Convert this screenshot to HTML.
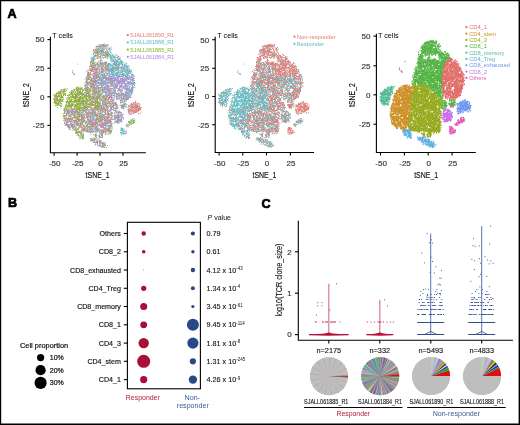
<!DOCTYPE html><html><head><meta charset="utf-8"><style>html,body{margin:0;padding:0;width:520px;height:425px;overflow:hidden;background:#fff;font-family:"Liberation Sans", sans-serif}</style></head><body><svg width="520" height="425" viewBox="0 0 520 425" style="position:absolute;left:0;top:0;will-change:transform;font-family:'Liberation Sans', sans-serif">
<rect x="0" y="0" width="520" height="425" fill="#fff"/>
<text x="7.6" y="17.7" font-size="12.6" fill="#000" text-anchor="start" font-weight="bold" stroke="#000" stroke-width="0.7" >A</text>
<text x="8.0" y="207.4" font-size="12.6" fill="#000" text-anchor="start" font-weight="bold" stroke="#000" stroke-width="0.7" >B</text>
<text x="261.4" y="207.6" font-size="12.6" fill="#000" text-anchor="start" font-weight="bold" stroke="#000" stroke-width="0.7" >C</text>
<path transform="scale(.5)" stroke="#5CBEC6" stroke-width="2.32" stroke-linecap="round" fill="none" d="M205 90h0m1 0h0m2 0h0m-1 1h0m2 0h0m-13 1h0m3 1h0m1 0h0m11 0h0m-12 1h0m9 0h0m3 0h0m1 0h0m-8 1h0m-7 1h0m10 0h0m13 0h0m0 1h0m-24 1h0m9 0h0m-13 1h0m2 0h0m15 0h0m-18 1h0m6 0h0m4 0h0m13 0h0m6 0h0m-6 1h0m-14 1h0m15 0h0m4 0h0m-22 1h0m3 0h0m5 0h0m9 0h0m-21 1h0m14 0h0m-16 1h0m19 0h0m-21 1h0m9 0h0m17 0h0m8 0h0m-28 1h0m12 1h0m4 0h0m-4 1h0m5 0h0m8 0h0m-25 1h0m19 0h0m-20 1h0m12 0h0m2 0h0m9 0h0m-26 1h0m11 0h0m10 0h0m1 0h0m-1 1h0m15 0h0m9 0h0m1 0h0m-13 1h0m-30 1h0m15 0h0m18 0h0m-42 1h0m35 0h0m3 0h0m6 0h0m-42 1h0m1 0h0m7 0h0m34 0h0m8 0h0m3 0h0m-15 1h0m3 0h0m7 0h0m1 0h0m3 1h0m-53 1h0m46 0h0m-47 1h0m51 0h0m-11 1h0m1 0h0m15 0h0m-15 1h0m2 0h0m2 0h0m3 0h0m1 0h0m9 0h0m-42 1h0m41 0h0m-61 1h0m6 0h0m46 0h0m-24 1h0m17 0h0m1 1h0m3 0h0m3 0h0m10 0h0m-42 1h0m3 0h0m7 0h0m5 0h0m1 0h0m1 0h0m3 0h0m12 0h0m10 0h0m6 0h0m-45 1h0m6 0h0m4 0h0m2 0h0m2 0h0m10 0h0m1 0h0m5 0h0m-12 1h0m10 0h0m1 0h0m12 0h0m4 0h0m-43 1h0m14 0h0m25 0h0m7 0h0m-31 1h0m3 0h0m1 0h0m1 0h0m24 0h0m-46 1h0m8 0h0m12 0h0m12 0h0m11 0h0m5 0h0m4 0h0m2 0h0m-41 1h0m31 0h0m6 0h0m1 0h0m-70 1h0m20 0h0m6 0h0m15 0h0m9 0h0m9 0h0m8 0h0m-39 1h0m19 0h0m11 0h0m-50 1h0m9 0h0m11 0h0m2 0h0m8 0h0m2 0h0m2 0h0m3 0h0m-36 1h0m40 0h0m13 0h0m2 0h0m9 0h0m-76 1h0m32 0h0m3 0h0m10 0h0m10 0h0m22 0h0m-78 1h0m6 0h0m21 0h0m15 0h0m9 0h0m9 0h0m2 0h0m12 0h0m4 0h0m-42 1h0m6 0h0m2 0h0m5 0h0m2 0h0m1 0h0m5 0h0m6 0h0m9 0h0m6 0h0m-75 1h0m4 0h0m30 0h0m1 0h0m6 0h0m1 0h0m18 0h0m12 0h0m-63 1h0m32 0h0m1 0h0m1 0h0m9 0h0m1 0h0m9 0h0m3 0h0m7 0h0m2 0h0m1 0h0m4 0h0m-57 1h0m34 0h0m4 0h0m-39 1h0m13 0h0m5 0h0m3 0h0m8 0h0m3 0h0m14 0h0m1 0h0m5 0h0m-82 1h0m27 0h0m17 0h0m8 0h0m3 0h0m16 0h0m-59 1h0m27 0h0m4 0h0m8 0h0m19 0h0m2 0h0m10 0h0m2 0h0m-44 1h0m15 0h0m10 0h0m10 0h0m-74 1h0m21 0h0m2 0h0m1 0h0m24 0h0m2 0h0m8 0h0m19 0h0m-76 1h0m41 0h0m1 0h0m6 0h0m8 0h0m13 0h0m9 0h0m-62 1h0m2 0h0m2 0h0m30 0h0m4 0h0m3 0h0m3 0h0m9 0h0m9 0h0m2 0h0m-60 1h0m10 0h0m11 0h0m18 0h0m15 0h0m2 0h0m-60 1h0m8 0h0m6 0h0m14 0h0m23 0h0m15 0h0m9 0h0m1 0h0m-64 1h0m21 0h0m19 0h0m7 0h0m5 0h0m3 0h0m-70 1h0m8 0h0m11 0h0m37 0h0m-57 1h0m29 0h0m3 0h0m16 0h0m10 0h0m7 0h0m-47 1h0m1 0h0m-26 1h0m6 0h0m11 0h0m45 0h0m8 0h0m-38 1h0m3 0h0m47 0h0m-61 1h0m16 0h0m4 0h0m11 0h0m2 0h0m16 0h0m14 0h0m-84 1h0m16 0h0m1 0h0m3 0h0m2 0h0m14 0h0m25 0h0m3 0h0m-46 1h0m10 0h0m-20 1h0m13 0h0m8 0h0m5 0h0m13 0h0m-40 1h0m27 0h0m32 0h0m14 0h0m-53 1h0m9 0h0m3 0h0m15 0h0m22 0h0m-80 1h0m21 0h0m6 0h0m9 0h0m9 0h0m14 0h0m11 0h0m6 0h0m7 0h0m2 0h0m-81 1h0m2 0h0m1 0h0m1 0h0m5 0h0m10 0h0m2 0h0m1 0h0m18 0h0m3 0h0m11 0h0m13 0h0m4 0h0m4 0h0m6 0h0m5 0h0m-93 1h0m12 0h0m21 0h0m17 0h0m8 0h0m16 0h0m17 0h0m-57 1h0m1 0h0m49 0h0m1 0h0m-84 1h0m4 0h0m15 0h0m9 0h0m3 0h0m17 0h0m10 0h0m18 0h0m-76 1h0m21 0h0m7 0h0m53 0h0m-85 1h0m21 0h0m54 1h0m9 0h0m10 0h0m-77 1h0m41 0h0m18 0h0m20 0h0m-58 1h0m-9 1h0m65 0h0m-78 1h0m2 1h0m59 0h0m-81 1h0m59 0h0m11 0h0m-65 1h0m14 0h0m10 0h0m3 0h0m15 0h0m7 0h0m38 0h0m-46 1h0m2 0h0m-90 1h0m94 0h0m15 0h0m7 0h0m23 0h0m-144 1h0m92 0h0m8 1h0m20 0h0m12 0h0m2 0h0m-50 1h0m55 0h0m-89 1h0m52 0h0m4 0h0m9 0h0m24 0h0m4 0h0m-48 1h0m9 0h0m3 0h0m2 0h0m14 0h0m-124 1h0m126 0h0m-28 1h0m18 0h0m17 0h0m-89 1h0m61 0h0m2 0h0m5 0h0m8 0h0m1 0h0m-24 1h0m34 0h0m3 0h0m-100 1h0m20 0h0m53 0h0m20 0h0m-43 1h0m16 0h0m1 0h0m19 0h0m-58 1h0m26 0h0m48 0h0m-92 1h0m51 0h0m28 0h0m15 0h0m4 0h0m-67 2h0m9 0h0m39 0h0m8 0h0m3 0h0m3 0h0m-40 1h0m8 0h0m31 0h0m-46 1h0m33 0h0m-91 1h0m39 0h0m21 0h0m9 0h0m-98 1h0m87 0h0m40 0h0m-73 1h0m47 0h0m-8 2h0m25 0h0m-124 1h0m109 0h0m3 0h0m2 0h0m14 0h0m-4 1h0m-85 1h0m22 0h0m2 0h0m71 0h0m-133 1h0m53 0h0m35 0h0m44 0h0m24 0h0m-44 1h0m20 0h0m3 0h0m-3 1h0m-29 1h0m3 0h0m6 0h0m15 1h0m28 0h0m-92 1h0m42 0h0m-83 1h0m67 0h0m-37 1h0m4 0h0m72 0h0m-13 1h0m36 0h0m-102 1h0m56 0h0m5 0h0m6 0h0m-88 1h0m67 0h0m3 0h0m41 1h0m11 0h0m8 0h0m1 0h0m-125 1h0m29 0h0m1 0h0m5 0h0m19 1h0m14 0h0m-23 1h0m18 0h0m6 0h0m54 0h0m-108 1h0m12 0h0m31 0h0m-23 1h0m3 0h0m10 0h0m22 0h0m13 0h0m-53 1h0m41 0h0m-84 1h0m39 0h0m22 0h0m10 0h0m1 0h0m-38 1h0m4 0h0m26 0h0m26 0h0m-55 1h0m10 0h0m52 0h0m-80 1h0m39 0h0m27 0h0m-82 1h0m45 0h0m39 0h0m11 0h0m-69 1h0m13 0h0m9 0h0m2 0h0m10 0h0m29 0h0m2 0h0m3 1h0m-82 1h0m5 0h0m24 0h0m-12 1h0m7 0h0m26 0h0m3 1h0m5 0h0m19 0h0m-74 1h0m26 0h0m7 0h0m28 0h0m19 0h0m-50 1h0m50 0h0m-47 1h0m6 0h0m2 0h0m5 0h0m7 0h0m15 0h0m5 0h0m9 0h0m-84 1h0m24 0h0m15 0h0m4 0h0m10 0h0m20 0h0m12 0h0m1 0h0m4 0h0m-93 1h0m29 0h0m12 0h0m19 0h0m25 0h0m27 0h0m8 0h0m-138 1h0m4 0h0m32 0h0m2 0h0m63 0h0m1 0h0m-86 1h0m31 0h0m5 0h0m8 0h0m8 0h0m3 0h0m39 0h0m-69 1h0m48 0h0m2 0h0m-39 1h0m6 0h0m1 0h0m20 0h0m55 0h0m3 0h0m-59 1h0m5 0h0m-51 1h0m18 0h0m6 0h0m8 0h0m7 0h0m-45 1h0m3 0h0m53 0h0m52 0h0m-95 1h0m5 0h0m10 0h0m23 0h0m3 0h0m42 0h0m-110 1h0m30 0h0m22 0h0m8 0h0m2 0h0m49 0h0m-116 1h0m3 0h0m40 0h0m34 0h0m-73 1h0m10 0h0m11 0h0m3 0h0m16 0h0m11 0h0m-48 1h0m68 0h0m5 0h0m-32 1h0m15 0h0m9 0h0m3 0h0m-36 1h0m25 0h0m-24 1h0m14 0h0m-42 1h0m68 0h0m23 0h0m2 0h0m-80 1h0m12 0h0m6 0h0m13 0h0m48 0h0m2 0h0m-65 1h0m36 0h0m26 0h0m-46 1h0m1 0h0m19 0h0m28 0h0m-77 1h0m17 0h0m-13 1h0m3 0h0m44 0h0m24 0h0m-75 2h0m79 0h0m-69 1h0m9 0h0m23 0h0m10 0h0m-19 1h0m18 0h0m28 0h0m-43 1h0m3 0h0m40 0h0m-4 1h0m6 0h0m-61 2h0m13 0h0m5 0h0m43 0h0m-48 1h0m-9 2h0m8 0h0m-1 1h0m-35 1h0m3 1h0m-1 1h0m30 0h0m-30 1h0m2 0h0m25 0h0m-3 4h0m13 0h0m-16 3h0m5 0h0m11 4h0m4 0h0m5 3h0m-8 1h0m10 3h0"/>
<path transform="scale(.5)" stroke="#8AB022" stroke-width="2.32" stroke-linecap="round" fill="none" d="M215 90h0m-18 2h0m13 0h0m-10 1h0m5 5h0m-7 1h0m13 4h0m-7 1h0m-17 3h0m8 0h0m15 1h0m7 0h0m-10 1h0m1 0h0m5 0h0m-24 2h0m5 0h0m-6 2h0m22 1h0m15 4h0m-39 2h0m16 0h0m9 5h0m27 1h0m-41 4h0m20 0h0m-26 1h0m9 0h0m37 0h0m-54 2h0m28 0h0m-1 1h0m-21 1h0m5 1h0m6 0h0m33 1h0m-48 1h0m17 1h0m9 0h0m-18 1h0m-10 1h0m24 0h0m-19 2h0m56 2h0m-36 1h0m6 1h0m-37 1h0m10 0h0m1 0h0m66 0h0m-28 1h0m-50 2h0m4 0h0m71 0h0m4 1h0m-77 2h0m-4 1h0m14 0h0m5 2h0m23 0h0m7 1h0m-9 1h0m3 0h0m17 0h0m11 0h0m20 0h0m-41 1h0m8 0h0m3 0h0m5 1h0m-26 1h0m-25 2h0m41 0h0m-54 2h0m42 0h0m-15 1h0m36 0h0m-64 1h0m49 0h0m26 0h0m-69 1h0m47 0h0m-59 2h0m19 0h0m0 1h0m1 0h0m-34 2h0m5 0h0m23 0h0m-27 1h0m17 0h0m15 0h0m-35 1h0m29 0h0m1 0h0m12 0h0m44 0h0m-65 1h0m23 0h0m28 0h0m11 0h0m-51 1h0m69 0h0m-130 1h0m4 0h0m30 0h0m4 0h0m35 0h0m9 0h0m12 0h0m13 0h0m-101 1h0m31 0h0m5 0h0m97 0h0m-130 1h0m11 0h0m26 0h0m-26 1h0m4 0h0m39 0h0m3 0h0m-46 1h0m8 0h0m7 0h0m6 0h0m25 0h0m-63 1h0m15 0h0m6 0h0m117 0h0m-145 1h0m19 0h0m3 0h0m1 0h0m4 0h0m10 0h0m1 0h0m18 0h0m-61 1h0m5 0h0m1 0h0m37 0h0m1 0h0m1 0h0m1 0h0m2 0h0m1 0h0m21 0h0m26 0h0m-93 1h0m13 0h0m12 0h0m1 0h0m10 0h0m1 0h0m3 0h0m5 0h0m3 0h0m7 0h0m7 0h0m4 0h0m7 0h0m1 0h0m41 0h0m11 0h0m-120 1h0m25 0h0m2 0h0m12 0h0m4 0h0m2 0h0m4 0h0m1 0h0m14 0h0m4 0h0m4 0h0m5 0h0m39 0h0m17 0h0m-134 1h0m19 0h0m3 0h0m8 0h0m4 0h0m2 0h0m2 0h0m12 0h0m26 0h0m4 0h0m13 0h0m2 0h0m-102 1h0m2 0h0m9 0h0m26 0h0m4 0h0m13 0h0m1 0h0m19 0h0m4 0h0m59 0h0m-142 1h0m10 0h0m6 0h0m8 0h0m3 0h0m8 0h0m25 0h0m19 0h0m18 0h0m10 0h0m20 0h0m5 0h0m-126 1h0m34 0h0m51 0h0m-88 1h0m4 0h0m6 0h0m1 0h0m29 0h0m15 0h0m2 0h0m1 0h0m3 0h0m9 0h0m10 0h0m1 0h0m-82 1h0m12 0h0m1 0h0m15 0h0m3 0h0m2 0h0m10 0h0m6 0h0m-12 1h0m18 0h0m14 0h0m13 0h0m22 0h0m6 0h0m-111 1h0m22 0h0m18 0h0m2 0h0m6 0h0m2 0h0m4 0h0m5 0h0m3 0h0m9 0h0m4 0h0m46 0h0m-119 1h0m35 0h0m2 0h0m14 0h0m14 0h0m23 0h0m17 0h0m-109 1h0m2 0h0m30 0h0m20 0h0m8 0h0m1 0h0m8 0h0m37 0h0m31 0h0m-133 1h0m29 0h0m11 0h0m3 0h0m10 0h0m35 0h0m41 0h0m-130 1h0m30 0h0m6 0h0m8 0h0m8 0h0m2 0h0m11 0h0m22 0h0m-91 1h0m11 0h0m21 0h0m19 0h0m34 0h0m9 0h0m-93 1h0m3 0h0m34 0h0m10 0h0m2 0h0m35 0h0m32 0h0m-116 1h0m5 0h0m3 0h0m1 0h0m16 0h0m3 0h0m1 0h0m5 0h0m1 0h0m1 0h0m7 0h0m3 0h0m10 0h0m2 0h0m10 0h0m12 0h0m3 0h0m2 0h0m57 0h0m-120 1h0m3 0h0m4 0h0m11 0h0m8 0h0m12 0h0m3 0h0m33 0h0m10 0h0m32 0h0m-74 1h0m19 0h0m4 0h0m14 0h0m-96 1h0m3 0h0m3 0h0m33 0h0m3 0h0m2 0h0m1 0h0m15 0h0m7 0h0m14 0h0m3 0h0m10 0h0m39 0h0m1 0h0m-136 1h0m5 0h0m27 0h0m26 0h0m14 0h0m6 0h0m14 0h0m17 0h0m-107 1h0m2 0h0m19 0h0m8 0h0m3 0h0m7 0h0m19 0h0m12 0h0m16 0h0m29 0h0m-114 1h0m22 0h0m7 0h0m22 0h0m11 0h0m3 0h0m2 0h0m1 0h0m38 0h0m42 0h0m-124 1h0m12 0h0m2 0h0m6 0h0m2 0h0m4 0h0m19 0h0m3 0h0m3 0h0m3 0h0m-72 1h0m19 0h0m4 0h0m5 0h0m15 0h0m2 0h0m6 0h0m23 0h0m3 0h0m2 0h0m20 0h0m19 0h0m5 0h0m-113 1h0m2 0h0m10 0h0m1 0h0m4 0h0m3 0h0m6 0h0m-35 1h0m13 0h0m19 0h0m1 0h0m4 0h0m9 0h0m20 0h0m5 0h0m51 0h0m-89 1h0m3 0h0m3 0h0m10 0h0m23 0h0m4 0h0m25 0h0m3 0h0m-112 1h0m16 0h0m12 0h0m30 0h0m1 0h0m3 0h0m23 0h0m-69 1h0m23 0h0m2 0h0m5 0h0m13 0h0m19 0h0m12 0h0m30 0h0m-91 1h0m13 0h0m5 0h0m20 0h0m4 0h0m5 0h0m4 0h0m12 0h0m8 0h0m31 0h0m-109 1h0m12 0h0m6 0h0m43 0h0m3 0h0m22 0h0m-76 1h0m8 0h0m7 0h0m12 0h0m14 0h0m12 0h0m2 0h0m25 0h0m-94 1h0m6 0h0m11 0h0m15 0h0m2 0h0m25 0h0m1 0h0m-61 1h0m1 0h0m3 0h0m1 0h0m17 0h0m5 0h0m11 0h0m34 0h0m-69 1h0m3 0h0m9 0h0m4 0h0m1 0h0m59 0h0m-76 1h0m2 0h0m11 0h0m31 0h0m32 0h0m-75 1h0m1 0h0m6 0h0m13 0h0m-12 1h0m7 0h0m7 0h0m32 0h0m15 0h0m5 0h0m-65 1h0m10 0h0m30 0h0m10 0h0m30 0h0m-88 1h0m21 0h0m18 0h0m14 0h0m21 0h0m48 0h0m-98 1h0m16 0h0m12 0h0m26 0h0m-70 1h0m5 0h0m6 0h0m5 0h0m12 0h0m87 0h0m-133 1h0m10 0h0m55 0h0m1 0h0m24 0h0m-78 1h0m20 0h0m32 0h0m45 0h0m-109 1h0m15 0h0m22 0h0m-34 1h0m19 0h0m7 0h0m21 0h0m15 0h0m25 0h0m20 0h0m-84 1h0m10 0h0m32 0h0m25 0h0m-62 1h0m18 0h0m23 0h0m-53 1h0m50 0h0m41 0h0m-109 1h0m5 0h0m8 0h0m1 0h0m22 0h0m16 0h0m34 0h0m20 0h0m6 0h0m-108 1h0m4 0h0m1 0h0m72 0h0m1 0h0m6 0h0m8 0h0m13 0h0m28 0h0m-127 1h0m7 0h0m15 0h0m3 0h0m2 0h0m25 0h0m-47 1h0m20 0h0m22 0h0m26 0h0m-83 1h0m3 0h0m35 0h0m-9 1h0m55 0h0m23 0h0m29 0h0m-131 1h0m5 0h0m2 0h0m1 0h0m3 0h0m6 0h0m24 0h0m7 0h0m1 0h0m82 0h0m3 0h0m-131 1h0m29 0h0m92 0h0m-72 1h0m20 0h0m4 0h0m-73 1h0m16 0h0m60 0h0m-18 1h0m68 0h0m-129 1h0m8 0h0m9 0h0m3 0h0m4 0h0m-21 1h0m9 0h0m1 0h0m11 0h0m55 0h0m44 0h0m4 0h0m-125 1h0m49 0h0m16 0h0m13 0h0m-68 1h0m10 0h0m4 0h0m94 0h0m-35 1h0m-75 1h0m4 0h0m19 0h0m6 0h0m5 1h0m29 0h0m-58 2h0m24 0h0m-22 2h0m5 0h0m24 0h0m10 0h0m-48 1h0m40 0h0m21 0h0m-56 1h0m25 0h0m-18 1h0m66 0h0m-66 1h0m9 0h0m8 0h0m4 0h0m28 0h0m6 0h0m12 0h0m-68 1h0m7 0h0m36 0h0m-4 1h0m-34 1h0m3 0h0m47 0h0m-56 1h0m2 0h0m1 0h0m52 0h0m-44 1h0m-6 2h0m11 0h0m-3 1h0m41 0h0m-38 1h0m31 0h0m-37 1h0m5 0h0m39 0h0m-14 1h0m1 0h0m13 0h0m-47 1h0m5 0h0m38 1h0m-12 1h0m-23 1h0m23 0h0m-29 1h0m22 0h0m7 1h0m5 1h0m-11 2h0m11 0h0m9 2h0m7 2h0m-11 2h0m8 3h0m4 1h0m-5 1h0m-2 1h0"/>
<path transform="scale(.5)" stroke="#B482E6" stroke-width="2.32" stroke-linecap="round" fill="none" d="M194 92h0m18 0h0m-10 5h0m21 1h0m-18 7h0m17 6h0m6 1h0m2 1h0m6 3h0m-15 1h0m-40 6h0m48 0h0m10 2h0m-39 2h0m2 0h0m15 0h0m-35 2h0m16 0h0m9 1h0m45 2h0m-56 1h0m19 0h0m1 1h0m37 0h0m-50 1h0m45 0h0m-68 1h0m36 0h0m9 0h0m8 0h0m20 0h0m5 0h0m-72 1h0m54 0h0m10 0h0m-37 1h0m35 0h0m-59 1h0m7 0h0m8 0h0m23 0h0m-4 2h0m-25 1h0m1 1h0m53 0h0m-71 2h0m42 0h0m12 0h0m-19 1h0m-39 1h0m14 0h0m18 0h0m9 0h0m-28 1h0m51 0h0m14 0h0m-106 1h0m44 0h0m9 1h0m6 0h0m1 1h0m23 0h0m3 0h0m23 0h0m-66 1h0m3 0h0m28 0h0m1 0h0m2 0h0m8 0h0m5 0h0m3 0h0m20 0h0m5 0h0m-80 1h0m14 0h0m34 0h0m5 0h0m2 0h0m-31 1h0m2 0h0m1 0h0m15 0h0m9 0h0m21 0h0m-71 1h0m4 0h0m63 0h0m1 0h0m9 0h0m-61 1h0m3 0h0m12 0h0m12 0h0m10 0h0m9 0h0m4 0h0m1 0h0m1 0h0m1 0h0m-70 1h0m15 0h0m20 0h0m8 0h0m4 0h0m1 0h0m17 0h0m13 0h0m-95 1h0m7 0h0m27 0h0m41 0h0m8 0h0m-57 1h0m17 0h0m5 0h0m3 0h0m12 0h0m14 0h0m2 0h0m5 0h0m-74 1h0m12 0h0m2 0h0m20 0h0m7 0h0m45 0h0m-27 1h0m30 0h0m-83 1h0m30 0h0m-33 1h0m20 0h0m3 0h0m14 0h0m1 0h0m7 0h0m1 0h0m8 0h0m3 0h0m15 0h0m6 0h0m-83 1h0m14 0h0m1 0h0m30 0h0m2 0h0m8 0h0m-37 1h0m10 0h0m18 0h0m2 0h0m8 0h0m2 0h0m3 0h0m23 0h0m-86 1h0m16 0h0m10 0h0m37 0h0m8 0h0m-55 1h0m4 0h0m7 0h0m21 0h0m28 0h0m6 0h0m-35 1h0m13 0h0m15 0h0m-58 1h0m16 0h0m19 0h0m1 0h0m-43 1h0m14 0h0m40 0h0m3 0h0m2 0h0m-20 1h0m29 0h0m-59 1h0m21 0h0m10 0h0m15 0h0m-37 1h0m43 0h0m-55 1h0m4 0h0m20 0h0m12 0h0m1 0h0m19 0h0m-46 1h0m2 0h0m4 0h0m23 0h0m16 0h0m-52 1h0m11 0h0m22 0h0m25 0h0m3 0h0m-58 1h0m12 0h0m3 0h0m12 0h0m22 0h0m6 0h0m2 0h0m5 0h0m-74 1h0m64 0h0m2 0h0m-81 1h0m2 0h0m34 0h0m1 0h0m6 0h0m24 0h0m15 0h0m4 0h0m3 0h0m2 0h0m-136 1h0m67 0h0m11 0h0m24 0h0m-84 1h0m23 0h0m51 0h0m22 0h0m-68 1h0m18 0h0m8 0h0m54 0h0m9 0h0m-89 1h0m38 0h0m2 0h0m9 0h0m37 0h0m-133 1h0m88 0h0m16 0h0m30 0h0m-88 1h0m18 0h0m33 1h0m26 0h0m-50 1h0m60 0h0m-81 1h0m45 0h0m41 0h0m-84 1h0m54 0h0m3 0h0m-77 1h0m13 0h0m17 0h0m12 0h0m12 0h0m5 0h0m6 0h0m28 0h0m-139 1h0m55 0h0m90 0h0m-87 1h0m17 0h0m7 0h0m12 0h0m2 0h0m13 0h0m7 0h0m10 0h0m7 0h0m4 0h0m2 0h0m-90 1h0m32 0h0m42 0h0m-15 1h0m35 0h0m-98 1h0m21 0h0m44 0h0m2 0h0m-113 1h0m106 0h0m6 0h0m-41 1h0m25 0h0m3 0h0m24 0h0m2 0h0m17 0h0m-15 1h0m5 0h0m12 0h0m-80 1h0m37 0h0m21 0h0m-94 1h0m28 0h0m40 0h0m45 0h0m-94 1h0m36 0h0m10 0h0m7 1h0m-37 1h0m44 0h0m5 1h0m-73 1h0m58 0h0m7 1h0m-58 1h0m24 0h0m32 0h0m11 0h0m-52 1h0m4 1h0m39 1h0m-50 1h0m19 0h0m6 0h0m17 0h0m24 0h0m10 0h0m29 0h0m-122 1h0m54 0h0m9 0h0m39 0h0m-115 1h0m39 0h0m41 0h0m42 0h0m-64 1h0m19 0h0m13 0h0m-77 1h0m18 0h0m1 0h0m32 0h0m9 0h0m43 0h0m-81 1h0m-33 1h0m50 0h0m-31 1h0m29 0h0m24 0h0m-38 1h0m6 0h0m37 0h0m-81 1h0m8 0h0m9 0h0m17 0h0m66 0h0m-63 1h0m11 0h0m3 0h0m36 0h0m7 0h0m-86 1h0m9 0h0m9 0h0m8 0h0m1 0h0m50 0h0m12 0h0m1 0h0m6 0h0m-97 1h0m1 0h0m10 0h0m19 0h0m18 0h0m-18 1h0m33 0h0m26 0h0m10 1h0m2 0h0m-108 1h0m4 0h0m5 0h0m4 0h0m33 0h0m10 0h0m10 0h0m-55 1h0m10 0h0m8 0h0m52 0h0m27 0h0m-91 1h0m3 0h0m2 0h0m27 0h0m30 0h0m55 0h0m-124 1h0m46 0h0m13 0h0m-71 1h0m1 0h0m2 0h0m13 0h0m36 0h0m16 0h0m43 0h0m1 0h0m1 0h0m-112 1h0m16 0h0m1 0h0m41 0h0m3 0h0m-37 1h0m8 0h0m80 0h0m-115 1h0m22 0h0m77 0h0m-81 1h0m1 0h0m80 0h0m3 0h0m-99 1h0m7 0h0m5 0h0m4 0h0m14 0h0m11 0h0m28 0h0m6 0h0m23 0h0m2 0h0m-99 1h0m15 0h0m47 0h0m8 0h0m41 0h0m-91 1h0m2 0h0m53 0h0m12 0h0m-90 1h0m6 0h0m15 0h0m23 0h0m41 0h0m14 0h0m-63 1h0m36 0h0m28 0h0m10 0h0m-102 1h0m2 0h0m21 0h0m13 0h0m12 0h0m26 0h0m4 0h0m3 0h0m23 0h0m-115 1h0m22 0h0m1 0h0m12 0h0m76 0h0m-88 1h0m33 0h0m7 0h0m9 0h0m35 0h0m-95 1h0m98 0h0m6 0h0m-115 1h0m8 0h0m12 0h0m22 0h0m10 0h0m-26 1h0m2 0h0m23 0h0m56 0h0m1 0h0m-82 1h0m7 0h0m-33 1h0m13 0h0m43 0h0m-52 1h0m27 0h0m26 0h0m4 0h0m5 0h0m-58 1h0m46 0h0m11 0h0m11 0h0m5 0h0m-78 1h0m21 0h0m7 0h0m13 0h0m34 0h0m5 0h0m11 0h0m-50 1h0m30 0h0m7 0h0m1 0h0m-65 1h0m42 0h0m-13 1h0m5 0h0m6 0h0m-49 1h0m9 0h0m1 0h0m59 0h0m16 0h0m3 0h0m-87 1h0m54 0h0m1 0h0m12 0h0m5 0h0m-72 1h0m30 0h0m-23 1h0m7 0h0m56 0h0m11 0h0m-67 1h0m31 0h0m13 0h0m13 0h0m8 0h0m-42 1h0m-1 1h0m1 0h0m9 0h0m2 0h0m19 0h0m-3 1h0m5 0h0m13 0h0m-15 1h0m4 0h0m-42 1h0m23 0h0m-18 1h0m10 0h0m38 0h0m-21 1h0m9 0h0m-8 1h0m-37 2h0m42 0h0m-41 1h0m-7 1h0m10 2h0m-2 2h0m31 5h0m-9 1h0m6 4h0m6 0h0m2 3h0m5 7h0m3 0h0"/>
<path transform="scale(.5)" stroke="#E47A72" stroke-width="2.32" stroke-linecap="round" fill="none" d="M206 89h0m-1 1h0m8 0h0m-9 1h0m0 1h0m-10 1h0m7 1h0m5 2h0m-6 1h0m5 2h0m13 0h0m-20 1h0m1 0h0m15 0h0m-10 1h0m2 0h0m0 1h0m-5 1h0m5 0h0m5 1h0m-21 1h0m4 0h0m-4 1h0m20 0h0m-14 1h0m11 1h0m-11 1h0m-5 1h0m28 0h0m-4 1h0m-24 1h0m2 0h0m18 0h0m2 0h0m-31 3h0m6 1h0m-2 3h0m12 3h0m37 1h0m-49 2h0m8 0h0m6 0h0m-18 1h0m24 0h0m6 0h0m16 1h0m-39 1h0m4 0h0m3 0h0m6 0h0m7 0h0m2 0h0m17 0h0m-40 1h0m60 1h0m-59 1h0m24 0h0m-31 1h0m-1 1h0m1 0h0m18 0h0m37 0h0m-47 1h0m8 1h0m8 0h0m-17 1h0m17 0h0m18 1h0m-39 1h0m8 0h0m9 0h0m4 0h0m38 0h0m-52 2h0m1 0h0m1 0h0m44 0h0m24 1h0m-81 1h0m32 0h0m-29 1h0m22 0h0m-61 1h0m56 0h0m-9 1h0m-16 2h0m11 0h0m69 1h0m-76 1h0m66 0h0m-66 1h0m25 1h0m-24 1h0m6 0h0m33 0h0m-44 1h0m20 0h0m-23 1h0m37 0h0m-29 1h0m-3 1h0m20 0h0m15 0h0m-31 1h0m4 0h0m13 0h0m4 0h0m12 0h0m7 0h0m31 0h0m13 0h0m-89 2h0m85 0h0m-81 1h0m8 0h0m3 1h0m14 1h0m37 0h0m-32 1h0m7 1h0m19 0h0m-65 1h0m2 0h0m15 0h0m79 0h0m-82 1h0m0 1h0m-9 1h0m11 1h0m4 0h0m-19 2h0m13 0h0m4 0h0m49 0h0m-56 1h0m12 0h0m31 0h0m-51 1h0m76 0h0m-47 1h0m6 1h0m55 4h0m-7 2h0m-131 2h0m117 0h0m6 0h0m-41 1h0m-30 1h0m83 0h0m-145 1h0m71 0h0m32 0h0m11 0h0m6 0h0m17 0h0m-80 1h0m81 0h0m-39 1h0m-93 1h0m15 0h0m74 0h0m-6 1h0m5 1h0m12 0h0m14 0h0m15 0h0m-64 1h0m26 0h0m-2 1h0m-3 1h0m24 0h0m-40 1h0m45 0h0m-46 2h0m53 0h0m4 0h0m-33 1h0m11 0h0m29 0h0m-42 1h0m-101 1h0m54 0h0m74 0h0m-127 2h0m26 1h0m106 0h0m-41 1h0m66 1h0m1 0h0m-44 1h0m5 0h0m-22 1h0m5 0h0m9 0h0m51 0h0m1 0h0m-93 1h0m23 0h0m16 0h0m29 0h0m10 0h0m4 0h0m-57 1h0m-36 1h0m69 0h0m21 0h0m2 0h0m1 0h0m4 0h0m-151 1h0m78 0h0m6 0h0m10 0h0m45 0h0m-123 1h0m18 0h0m40 0h0m20 0h0m21 0h0m29 0h0m9 0h0m2 0h0m3 0h0m-101 1h0m31 0h0m41 0h0m22 0h0m4 0h0m1 0h0m-63 1h0m46 0h0m7 0h0m1 0h0m5 0h0m7 0h0m-90 1h0m20 0h0m25 0h0m28 0h0m4 0h0m13 0h0m3 0h0m-101 1h0m25 0h0m56 0h0m8 0h0m2 0h0m8 0h0m-58 1h0m53 0h0m7 0h0m-137 1h0m70 0h0m64 0h0m-100 1h0m33 0h0m11 0h0m34 0h0m24 0h0m-146 1h0m71 0h0m6 0h0m21 0h0m30 0h0m1 0h0m1 0h0m8 0h0m6 0h0m-141 1h0m65 0h0m9 0h0m58 0h0m4 0h0m4 0h0m1 0h0m-101 1h0m41 0h0m55 0h0m3 0h0m-43 1h0m25 0h0m11 0h0m7 0h0m-122 1h0m44 0h0m17 0h0m1 0h0m47 0h0m8 0h0m-127 1h0m27 0h0m14 0h0m48 0h0m38 0h0m-141 1h0m20 0h0m30 0h0m79 0h0m0 1h0m7 0h0m11 0h0m-95 1h0m32 0h0m-21 1h0m12 0h0m31 0h0m-42 2h0m36 0h0m-61 1h0m5 0h0m20 0h0m19 1h0m-47 1h0m-15 2h0m19 0h0m33 0h0m7 0h0m-29 1h0m15 0h0m13 0h0m-52 1h0m13 0h0m25 0h0m3 0h0m-45 1h0m28 0h0m23 0h0m14 0h0m-54 1h0m11 0h0m18 0h0m4 0h0m8 0h0m32 0h0m-39 1h0m-45 1h0m14 0h0m53 0h0m-61 1h0m10 0h0m28 0h0m13 0h0m-58 1h0m64 0h0m-52 1h0m7 0h0m25 0h0m25 0h0m-59 1h0m26 0h0m12 0h0m23 0h0m-36 1h0m6 0h0m10 0h0m21 0h0m42 0h0m-134 1h0m63 0h0m14 0h0m-21 1h0m-58 1h0m4 1h0m68 0h0m-43 1h0m11 0h0m19 0h0m-11 1h0m5 0h0m13 0h0m21 1h0m-76 1h0m21 0h0m3 0h0m28 0h0m-13 1h0m39 0h0m-53 1h0m52 0h0m-79 1h0m70 0h0m6 0h0m6 0h0m-6 1h0m-8 1h0m4 0h0m-12 1h0m4 0h0m9 0h0m3 0h0m2 0h0m-39 1h0m11 0h0m4 0h0m14 0h0m12 0h0m4 0h0m-48 1h0m5 0h0m4 0h0m26 0h0m7 0h0m-39 1h0m7 1h0m7 2h0m19 0h0m-20 2h0m1 0h0m0 2h0m12 0h0m-14 7h0m1 1h0m-3 2h0m17 6h0m1 0h0m-16 3h0m9 1h0m6 0h0"/>
<path transform="scale(.5)" stroke="#5CBEC6" stroke-width="2.32" stroke-linecap="round" fill="none" d="M208 88h0m-10 1h0m17 0h0m-11 2h0m8 0h0m4 1h0m-23 2h0m8 0h0m-1 1h0m-2 2h0m7 0h0m13 0h0m-16 1h0m3 0h0m3 0h0m-10 1h0m-2 1h0m25 0h0m-34 1h0m8 1h0m6 0h0m2 0h0m5 0h0m-22 1h0m3 0h0m12 0h0m19 0h0m-15 1h0m12 0h0m-18 1h0m8 0h0m3 0h0m-15 1h0m6 0h0m15 0h0m-15 1h0m-17 1h0m19 0h0m21 0h0m1 0h0m-37 1h0m8 0h0m8 0h0m15 0h0m-27 1h0m9 0h0m2 0h0m5 0h0m14 0h0m-25 1h0m16 0h0m-12 1h0m17 0h0m3 0h0m-33 1h0m10 0h0m14 0h0m12 1h0m2 0h0m4 0h0m-42 1h0m-5 1h0m6 0h0m18 0h0m7 0h0m16 0h0m8 0h0m-42 1h0m26 0h0m17 0h0m-51 1h0m-6 1h0m56 0h0m-14 1h0m10 0h0m4 0h0m-51 1h0m34 0h0m13 0h0m7 1h0m-58 1h0m40 0h0m8 0h0m6 0h0m3 0h0m5 0h0m-40 1h0m17 0h0m8 0h0m6 0h0m6 0h0m3 0h0m-12 1h0m3 0h0m-35 1h0m3 0h0m5 0h0m25 0h0m4 0h0m3 0h0m5 0h0m6 0h0m-57 1h0m18 0h0m4 0h0m13 0h0m8 0h0m-57 1h0m21 0h0m14 0h0m3 0h0m13 0h0m4 0h0m2 0h0m2 0h0m-42 1h0m30 0h0m2 0h0m8 0h0m2 0h0m5 0h0m5 0h0m-67 1h0m32 0h0m16 0h0m1 0h0m2 0h0m5 0h0m5 0h0m5 0h0m4 0h0m-69 1h0m19 0h0m13 0h0m18 0h0m3 0h0m1 0h0m-53 1h0m1 0h0m33 0h0m7 0h0m4 0h0m1 0h0m6 0h0m13 0h0m-71 1h0m12 0h0m32 0h0m1 0h0m13 0h0m1 0h0m-44 1h0m39 0h0m2 0h0m10 0h0m10 0h0m-45 1h0m21 0h0m6 0h0m-10 1h0m10 0h0m13 0h0m-40 1h0m9 0h0m18 0h0m11 0h0m-53 1h0m51 0h0m12 0h0m-74 1h0m12 0h0m11 0h0m8 0h0m10 0h0m4 0h0m22 0h0m3 0h0m5 0h0m-43 1h0m4 0h0m2 0h0m1 0h0m2 0h0m7 0h0m-52 1h0m73 0h0m5 0h0m-52 1h0m15 0h0m19 0h0m6 0h0m1 0h0m3 0h0m-77 1h0m32 0h0m17 0h0m21 0h0m2 0h0m6 0h0m6 0h0m1 0h0m-61 1h0m29 0h0m27 0h0m-50 1h0m8 0h0m12 0h0m2 0h0m7 0h0m6 0h0m3 0h0m2 0h0m12 0h0m-68 1h0m14 0h0m18 0h0m16 0h0m14 0h0m8 0h0m2 0h0m-83 1h0m17 0h0m29 0h0m33 0h0m1 0h0m5 0h0m-82 1h0m1 0h0m46 0h0m2 0h0m3 0h0m1 0h0m3 0h0m9 0h0m4 0h0m5 0h0m1 0h0m-59 1h0m20 0h0m5 0h0m1 0h0m10 0h0m10 0h0m2 0h0m4 0h0m5 0h0m1 0h0m12 0h0m2 0h0m-75 1h0m16 0h0m32 0h0m4 0h0m7 0h0m16 0h0m-53 1h0m5 0h0m8 0h0m2 0h0m6 0h0m1 0h0m28 0h0m1 0h0m-89 1h0m1 0h0m8 0h0m26 0h0m9 0h0m13 0h0m6 0h0m7 0h0m17 0h0m-63 1h0m9 0h0m10 0h0m18 0h0m9 0h0m-41 1h0m55 0h0m4 0h0m2 0h0m-89 1h0m18 0h0m9 0h0m2 0h0m11 0h0m9 0h0m6 0h0m23 0h0m-84 1h0m21 0h0m2 0h0m12 0h0m1 0h0m11 0h0m18 0h0m-59 1h0m32 0h0m11 0h0m6 0h0m10 0h0m13 0h0m15 0h0m-80 1h0m21 0h0m25 0h0m8 0h0m18 0h0m-81 1h0m27 0h0m3 0h0m27 0h0m14 0h0m16 0h0m4 0h0m-53 1h0m7 0h0m46 0h0m-54 1h0m13 0h0m3 0h0m16 0h0m-23 1h0m1 0h0m5 0h0m27 0h0m12 0h0m-86 1h0m10 0h0m3 0h0m11 0h0m11 0h0m5 0h0m2 0h0m25 0h0m7 0h0m3 0h0m-68 1h0m7 0h0m6 0h0m1 0h0m6 0h0m12 0h0m-46 1h0m6 0h0m24 0h0m10 0h0m4 0h0m7 0h0m9 0h0m6 0h0m22 0h0m4 0h0m2 0h0m-81 1h0m10 0h0m7 0h0m3 0h0m5 0h0m7 0h0m21 0h0m5 0h0m-65 1h0m4 0h0m6 0h0m46 0h0m18 0h0m-50 1h0m6 0h0m53 0h0m-88 1h0m14 0h0m13 0h0m48 0h0m1 0h0m13 0h0m1 0h0m1 0h0m-68 1h0m3 0h0m23 0h0m39 0h0m-93 1h0m12 0h0m12 0h0m7 0h0m13 0h0m2 0h0m13 0h0m20 0h0m-66 1h0m19 0h0m3 0h0m8 0h0m41 0h0m10 0h0m-85 1h0m30 0h0m3 0h0m35 0h0m12 0h0m5 0h0m-56 1h0m5 0h0m28 0h0m6 0h0m11 0h0m-58 2h0m18 0h0m7 0h0m-21 1h0m1 0h0m3 0h0m1 0h0m2 0h0m4 0h0m7 0h0m2 0h0m38 0h0m-72 1h0m3 0h0m62 0h0m2 0h0m-47 1h0m43 0h0m11 0h0m-85 1h0m15 0h0m44 0h0m4 0h0m21 0h0m-111 1h0m55 0h0m2 0h0m5 0h0m9 0h0m14 0h0m18 0h0m5 0h0m5 0h0m-62 1h0m23 0h0m-46 1h0m60 0h0m18 0h0m4 0h0m-112 1h0m22 0h0m38 0h0m4 0h0m10 0h0m-17 1h0m-92 1h0m75 0h0m48 0h0m21 0h0m-147 1h0m44 0h0m2 0h0m16 0h0m63 0h0m13 0h0m7 0h0m-39 1h0m16 0h0m9 0h0m1 0h0m2 0h0m-2 1h0m11 0h0m-37 1h0m27 0h0m6 0h0m-132 1h0m31 0h0m14 0h0m42 0h0m8 0h0m13 0h0m8 0h0m22 0h0m-146 1h0m63 0h0m62 0h0m11 0h0m-80 1h0m11 0h0m73 0h0m7 0h0m-62 1h0m9 0h0m8 0h0m36 0h0m3 0h0m-131 1h0m38 0h0m24 0h0m3 0h0m42 0h0m21 0h0m7 0h0m2 0h0m-50 1h0m15 0h0m-13 1h0m12 0h0m29 0h0m-67 1h0m1 0h0m1 0h0m24 0h0m41 1h0m-134 1h0m118 0h0m9 0h0m3 0h0m-123 1h0m119 0h0m-35 1h0m2 0h0m16 0h0m-68 1h0m31 1h0m30 0h0m29 0h0m-137 2h0m116 1h0m22 0h0m-136 1h0m49 0h0m64 0h0m-111 1h0m66 1h0m13 0h0m10 0h0m4 0h0m19 0h0m17 0h0m18 0h0m-35 1h0m7 0h0m13 0h0m-136 1h0m57 0h0m77 0h0m-3 1h0m-28 1h0m6 0h0m5 0h0m18 0h0m-90 1h0m52 0h0m27 0h0m2 0h0m8 0h0m4 0h0m20 0h0m-61 1h0m16 0h0m5 0h0m5 0h0m4 0h0m11 0h0m22 0h0m-78 2h0m2 0h0m56 0h0m-84 1h0m45 0h0m0 1h0m13 0h0m4 0h0m-89 1h0m28 0h0m30 0h0m20 0h0m22 1h0m-109 1h0m22 0h0m65 0h0m43 0h0m-123 1h0m15 0h0m26 0h0m3 0h0m93 0h0m-106 1h0m42 0h0m7 0h0m6 0h0m47 0h0m-124 1h0m36 0h0m20 1h0m57 0h0m-89 1h0m27 0h0m5 0h0m16 0h0m1 1h0m5 0h0m23 0h0m-91 1h0m29 0h0m-19 1h0m41 0h0m26 0h0m-65 1h0m12 0h0m7 0h0m4 0h0m14 0h0m4 0h0m22 0h0m-66 1h0m11 0h0m13 0h0m50 0h0m-53 1h0m-18 1h0m-37 1h0m57 0h0m8 0h0m-28 1h0m8 0h0m18 0h0m8 0h0m13 0h0m22 0h0m-21 1h0m20 0h0m-67 1h0m49 0h0m25 0h0m-21 1h0m14 0h0m29 0h0m-97 1h0m42 0h0m59 0h0m-102 1h0m23 0h0m4 0h0m6 0h0m39 0h0m-71 1h0m2 0h0m94 0h0m3 0h0m-116 1h0m28 0h0m1 0h0m31 0h0m4 0h0m4 0h0m1 0h0m18 0h0m-60 1h0m6 0h0m30 0h0m-42 1h0m38 0h0m12 0h0m-51 1h0m13 0h0m11 0h0m32 0h0m-65 1h0m21 0h0m19 0h0m5 0h0m-61 1h0m20 0h0m91 0h0m-33 1h0m29 0h0m6 0h0m-83 1h0m11 0h0m31 0h0m-38 1h0m36 0h0m-38 1h0m1 0h0m2 0h0m38 0h0m-73 1h0m12 0h0m22 0h0m39 0h0m-37 1h0m-24 1h0m12 0h0m22 0h0m8 1h0m46 0h0m-33 1h0m-36 1h0m14 0h0m4 0h0m15 0h0m35 0h0m2 0h0m-82 1h0m19 0h0m1 0h0m7 0h0m17 0h0m6 0h0m5 0h0m4 0h0m24 0h0m-90 1h0m60 0h0m25 0h0m2 0h0m1 0h0m1 0h0m-90 1h0m1 0h0m40 0h0m3 0h0m17 0h0m1 0h0m3 0h0m29 0h0m-70 1h0m4 0h0m27 0h0m10 0h0m-69 1h0m47 0h0m-45 1h0m40 0h0m47 0h0m1 0h0m-90 1h0m52 0h0m39 0h0m-23 2h0m-29 1h0m13 0h0m-13 1h0m1 0h0m-34 1h0m45 0h0m1 0h0m-5 2h0m1 2h0m-39 1h0m6 0h0m25 4h0m7 0h0m-11 1h0m10 1h0m-3 2h0m0 1h0m7 1h0m8 3h0m-12 4h0"/>
<path transform="scale(.5)" stroke="#8AB022" stroke-width="2.32" stroke-linecap="round" fill="none" d="M210 88h0m-2 2h0m-15 3h0m2 3h0m-5 4h0m14 0h0m-11 1h0m13 1h0m-12 2h0m5 0h0m-6 1h0m5 1h0m6 1h0m13 5h0m20 1h0m-37 1h0m-12 12h0m18 0h0m-21 1h0m28 0h0m-20 2h0m12 0h0m-14 1h0m-7 1h0m61 0h0m-47 1h0m13 0h0m4 0h0m13 0h0m-20 1h0m-12 2h0m-13 1h0m13 1h0m39 0h0m-44 1h0m3 0h0m10 0h0m23 0h0m-22 1h0m5 0h0m52 1h0m-54 1h0m9 0h0m8 0h0m-42 1h0m20 0h0m-16 1h0m16 0h0m-25 2h0m28 1h0m32 0h0m-60 2h0m4 0h0m8 0h0m7 0h0m7 0h0m-29 1h0m21 1h0m-10 2h0m2 1h0m5 0h0m1 0h0m24 0h0m45 0h0m-45 1h0m-12 1h0m16 0h0m9 0h0m-22 1h0m1 0h0m2 0h0m-11 1h0m7 0h0m-18 1h0m25 0h0m10 0h0m-36 1h0m-7 1h0m17 0h0m29 1h0m24 0h0m-71 1h0m6 0h0m4 0h0m33 0h0m1 0h0m-37 1h0m1 0h0m17 0h0m-18 1h0m60 0h0m-74 1h0m13 0h0m79 1h0m-86 1h0m-10 3h0m17 0h0m2 0h0m15 0h0m14 0h0m6 0h0m-40 2h0m-4 1h0m-27 2h0m18 0h0m5 0h0m6 0h0m1 0h0m6 0h0m76 0h0m-111 1h0m3 0h0m-27 1h0m23 0h0m5 0h0m5 0h0m-33 1h0m5 0h0m19 0h0m7 0h0m4 0h0m5 0h0m4 0h0m6 0h0m8 0h0m3 0h0m-63 1h0m22 0h0m7 0h0m8 0h0m11 0h0m15 0h0m17 0h0m-81 1h0m30 0h0m19 0h0m-32 1h0m23 0h0m5 0h0m10 0h0m7 0h0m29 0h0m37 0h0m-126 1h0m18 0h0m8 0h0m10 0h0m14 0h0m-50 1h0m17 0h0m15 0h0m4 0h0m8 0h0m5 0h0m41 0h0m-95 1h0m3 0h0m24 0h0m3 0h0m4 0h0m3 0h0m3 0h0m27 0h0m5 0h0m3 0h0m-56 1h0m1 0h0m25 0h0m22 0h0m1 0h0m28 0h0m32 0h0m-139 1h0m8 0h0m2 0h0m21 0h0m16 0h0m40 0h0m17 0h0m-105 1h0m2 0h0m2 0h0m2 0h0m11 0h0m34 0h0m4 0h0m7 0h0m2 0h0m1 0h0m9 0h0m2 0h0m9 0h0m-35 1h0m1 0h0m4 0h0m11 0h0m57 0h0m-112 1h0m8 0h0m9 0h0m4 0h0m11 0h0m16 0h0m26 0h0m66 0h0m-136 1h0m38 0h0m12 0h0m24 0h0m33 0h0m6 0h0m-132 1h0m23 0h0m4 0h0m21 0h0m8 0h0m10 0h0m23 0h0m31 0h0m14 0h0m-126 1h0m2 0h0m20 0h0m13 0h0m18 0h0m17 0h0m10 0h0m-85 1h0m8 0h0m23 0h0m2 0h0m2 0h0m1 0h0m2 0h0m3 0h0m2 0h0m7 0h0m31 0h0m6 0h0m-55 1h0m11 0h0m5 0h0m1 0h0m5 0h0m8 0h0m13 0h0m16 0h0m40 0h0m-119 1h0m23 0h0m1 0h0m12 0h0m28 0h0m3 0h0m3 0h0m13 0h0m11 0h0m4 0h0m34 0h0m1 0h0m-146 1h0m9 0h0m4 0h0m16 0h0m1 0h0m4 0h0m4 0h0m8 0h0m2 0h0m8 0h0m2 0h0m4 0h0m5 0h0m11 0h0m6 0h0m1 0h0m2 0h0m1 0h0m-61 1h0m1 0h0m21 0h0m2 0h0m10 0h0m5 0h0m-67 1h0m7 0h0m5 0h0m2 0h0m1 0h0m10 0h0m25 0h0m1 0h0m1 0h0m4 0h0m8 0h0m6 0h0m13 0h0m2 0h0m50 0h0m-136 1h0m7 0h0m5 0h0m14 0h0m4 0h0m13 0h0m16 0h0m8 0h0m9 0h0m10 0h0m19 0h0m-95 1h0m25 0h0m29 0h0m1 0h0m9 0h0m7 0h0m11 0h0m1 0h0m26 0h0m-116 1h0m4 0h0m20 0h0m14 0h0m2 0h0m5 0h0m1 0h0m13 0h0m8 0h0m2 0h0m4 0h0m11 0h0m-54 1h0m2 0h0m14 0h0m7 0h0m1 0h0m2 0h0m20 0h0m5 0h0m-83 1h0m23 0h0m8 0h0m2 0h0m4 0h0m5 0h0m2 0h0m5 0h0m2 0h0m9 0h0m2 0h0m2 0h0m1 0h0m2 0h0m9 0h0m-66 1h0m1 0h0m1 0h0m16 0h0m11 0h0m4 0h0m2 0h0m27 0h0m11 0h0m20 0h0m29 0h0m-131 1h0m1 0h0m27 0h0m4 0h0m21 0h0m27 0h0m2 0h0m14 0h0m37 0h0m-134 1h0m2 0h0m1 0h0m27 0h0m15 0h0m7 0h0m3 0h0m37 0h0m-68 1h0m5 0h0m1 0h0m4 0h0m14 0h0m1 0h0m3 0h0m5 0h0m1 0h0m4 0h0m7 0h0m12 0h0m2 0h0m6 0h0m14 0h0m8 0h0m-105 1h0m24 0h0m10 0h0m6 0h0m3 0h0m7 0h0m3 0h0m12 0h0m3 0h0m13 0h0m10 0h0m-64 1h0m3 0h0m1 0h0m5 0h0m18 0h0m10 0h0m9 0h0m3 0h0m15 0h0m5 0h0m3 0h0m12 0h0m-110 1h0m4 0h0m14 0h0m2 0h0m7 0h0m4 0h0m5 0h0m4 0h0m1 0h0m4 0h0m6 0h0m17 0h0m26 0h0m21 0h0m-112 1h0m13 0h0m5 0h0m23 0h0m6 0h0m16 0h0m5 0h0m1 0h0m13 0h0m-79 1h0m19 0h0m29 0h0m2 0h0m27 0h0m-56 1h0m6 0h0m19 0h0m12 0h0m11 0h0m1 0h0m5 0h0m6 0h0m16 0h0m25 0h0m2 0h0m-116 1h0m13 0h0m7 0h0m6 0h0m17 0h0m3 0h0m1 0h0m3 0h0m3 0h0m10 0h0m14 0h0m-76 1h0m3 0h0m30 0h0m1 0h0m24 0h0m9 0h0m-68 1h0m17 0h0m23 0h0m4 0h0m17 0h0m12 0h0m6 0h0m14 0h0m24 0h0m-85 1h0m6 0h0m3 0h0m17 0h0m12 0h0m-43 1h0m11 0h0m21 0h0m5 0h0m4 0h0m-65 1h0m11 0h0m3 0h0m11 0h0m49 0h0m1 0h0m-63 1h0m19 0h0m7 0h0m1 0h0m16 0h0m17 1h0m-60 1h0m9 0h0m-25 1h0m19 0h0m4 0h0m4 0h0m50 0h0m-60 1h0m10 0h0m10 0h0m22 0h0m42 0h0m6 0h0m-106 1h0m30 0h0m14 0h0m16 0h0m-61 1h0m14 0h0m30 0h0m4 0h0m14 0h0m-65 1h0m23 0h0m-15 1h0m3 0h0m3 0h0m14 0h0m83 0h0m-104 1h0m16 0h0m9 0h0m31 0h0m-42 1h0m1 0h0m6 0h0m37 0h0m16 0h0m-34 1h0m19 0h0m1 0h0m15 0h0m29 0h0m-79 1h0m5 0h0m45 0h0m6 0h0m-85 1h0m25 0h0m49 0h0m21 0h0m13 0h0m-79 1h0m7 0h0m16 0h0m33 0h0m11 0h0m19 0h0m-98 1h0m5 0h0m1 0h0m1 0h0m13 0h0m36 0h0m8 0h0m-81 1h0m5 0h0m22 0h0m19 0h0m-42 1h0m35 0h0m25 0h0m7 0h0m-70 1h0m8 0h0m18 0h0m10 0h0m9 0h0m11 0h0m26 0h0m13 0h0m22 0h0m21 0h0m-127 1h0m16 0h0m2 0h0m3 0h0m16 1h0m12 0h0m12 0h0m2 0h0m-51 1h0m3 0h0m2 0h0m10 0h0m94 0h0m-114 1h0m3 0h0m27 0h0m19 0h0m3 0h0m2 0h0m20 0h0m44 0h0m-124 1h0m11 0h0m25 0h0m22 0h0m57 0h0m12 1h0m-96 1h0m4 0h0m55 0h0m27 0h0m2 0h0m-120 1h0m8 0h0m6 0h0m107 0h0m-103 1h0m-16 1h0m3 0h0m8 0h0m9 0h0m16 0h0m-48 1h0m1 0h0m1 0h0m23 0h0m6 0h0m13 0h0m88 0h0m-82 1h0m3 0h0m14 0h0m-56 1h0m1 0h0m15 0h0m4 0h0m13 1h0m81 0h0m-119 1h0m-1 1h0m10 0h0m2 0h0m4 0h0m1 0h0m6 0h0m26 0h0m22 0h0m12 0h0m-75 1h0m27 0h0m19 0h0m18 0h0m-41 1h0m30 0h0m13 0h0m1 0h0m-54 1h0m-10 1h0m1 0h0m9 0h0m55 0h0m-64 2h0m45 0h0m2 0h0m6 0h0m-48 1h0m12 0h0m-8 1h0m-4 1h0m21 0h0m40 0h0m-29 1h0m34 0h0m4 0h0m-61 1h0m1 0h0m49 0h0m-58 1h0m2 0h0m-3 1h0m7 1h0m1 0h0m43 0h0m-2 1h0m1 0h0m-41 1h0m28 1h0m-32 1h0m7 0h0m26 1h0m9 0h0m-40 3h0m21 2h0m3 0h0m1 1h0m-3 2h0m3 0h0m-5 1h0m12 3h0m1 0h0m6 0h0m1 0h0m-5 1h0m14 2h0m1 2h0m-2 1h0m-6 2h0m5 0h0m2 2h0"/>
<path transform="scale(.5)" stroke="#B482E6" stroke-width="2.32" stroke-linecap="round" fill="none" d="M211 92h0m-2 2h0m-18 4h0m17 1h0m-12 7h0m19 9h0m-12 1h0m-16 2h0m15 2h0m24 2h0m-22 4h0m-49 2h0m56 0h0m15 0h0m-28 1h0m24 1h0m12 0h0m-44 2h0m4 0h0m10 1h0m21 2h0m5 1h0m12 0h0m13 0h0m-60 1h0m37 0h0m18 3h0m-105 1h0m49 0h0m11 0h0m8 0h0m-13 1h0m6 1h0m55 0h0m-55 1h0m17 0h0m12 0h0m-58 1h0m35 0h0m24 2h0m-57 1h0m16 1h0m9 1h0m2 0h0m39 0h0m-57 1h0m4 0h0m15 0h0m2 0h0m21 0h0m-53 1h0m28 0h0m-15 1h0m7 0h0m25 0h0m1 0h0m21 0h0m7 0h0m-78 1h0m15 0h0m4 0h0m9 0h0m23 0h0m15 0h0m-42 1h0m7 0h0m26 0h0m7 0h0m-50 1h0m11 0h0m2 0h0m59 0h0m2 0h0m6 0h0m-65 1h0m7 0h0m1 0h0m1 0h0m20 0h0m13 0h0m-61 1h0m28 0h0m7 0h0m3 0h0m3 0h0m3 0h0m15 0h0m10 0h0m-76 1h0m22 0h0m1 0h0m21 0h0m9 0h0m18 0h0m2 0h0m8 0h0m-82 1h0m37 0h0m10 0h0m2 0h0m10 0h0m6 0h0m3 0h0m8 0h0m11 0h0m-58 1h0m27 0h0m1 0h0m13 0h0m3 0h0m1 0h0m-8 1h0m1 0h0m1 0h0m12 0h0m-68 1h0m2 0h0m32 0h0m14 0h0m9 0h0m4 0h0m17 0h0m-62 1h0m30 0h0m8 0h0m5 0h0m2 0h0m11 0h0m7 0h0m-85 1h0m8 0h0m7 0h0m29 0h0m32 0h0m-57 1h0m13 0h0m12 0h0m34 0h0m-76 1h0m2 0h0m58 0h0m1 0h0m-45 1h0m1 0h0m18 0h0m12 0h0m8 0h0m6 0h0m-60 1h0m24 0h0m36 0h0m-41 1h0m19 0h0m-32 1h0m24 0h0m3 0h0m5 0h0m21 0h0m26 0h0m-85 1h0m34 0h0m12 0h0m5 0h0m16 0h0m-68 1h0m20 0h0m12 0h0m3 0h0m12 0h0m2 0h0m1 0h0m-24 1h0m2 0h0m32 0h0m-47 1h0m56 0h0m-79 1h0m21 0h0m17 0h0m23 0h0m2 0h0m18 0h0m2 0h0m-84 1h0m18 0h0m50 0h0m14 0h0m3 0h0m8 0h0m-50 1h0m9 0h0m16 0h0m25 0h0m-118 1h0m9 0h0m25 0h0m5 0h0m20 0h0m6 0h0m2 0h0m1 0h0m25 0h0m-41 1h0m4 0h0m3 0h0m3 0h0m10 0h0m25 0h0m-69 1h0m56 0h0m28 0h0m-131 1h0m59 0h0m7 0h0m8 0h0m16 0h0m2 0h0m9 0h0m11 0h0m2 0h0m18 0h0m3 0h0m-62 1h0m29 0h0m32 0h0m3 0h0m-89 1h0m10 0h0m10 0h0m11 0h0m17 0h0m6 0h0m1 0h0m20 0h0m-93 1h0m32 0h0m21 0h0m43 0h0m-37 1h0m7 0h0m-31 1h0m10 0h0m16 0h0m1 0h0m-56 1h0m31 0h0m17 0h0m11 0h0m17 0h0m6 0h0m-90 1h0m10 0h0m6 0h0m46 0h0m31 0h0m2 0h0m5 0h0m1 0h0m-11 1h0m4 0h0m9 0h0m-67 1h0m7 0h0m5 0h0m26 0h0m20 0h0m-96 1h0m5 0h0m84 0h0m12 0h0m-146 1h0m14 0h0m96 0h0m4 0h0m-79 1h0m45 0h0m9 0h0m22 0h0m3 0h0m34 0h0m-69 1h0m18 0h0m2 0h0m4 0h0m29 0h0m7 0h0m-63 1h0m34 0h0m36 0h0m2 0h0m-94 1h0m25 0h0m9 0h0m-7 1h0m43 0h0m16 0h0m-33 1h0m37 0h0m-135 1h0m36 0h0m35 0h0m59 0h0m5 0h0m-115 1h0m41 0h0m24 0h0m22 0h0m19 0h0m5 0h0m-82 1h0m23 0h0m-19 1h0m36 0h0m15 0h0m2 0h0m-56 1h0m30 0h0m9 0h0m5 0h0m-99 1h0m20 0h0m38 0h0m12 0h0m10 0h0m19 0h0m6 0h0m-32 1h0m35 0h0m-3 1h0m-49 1h0m33 0h0m26 0h0m-51 1h0m8 0h0m11 0h0m4 0h0m48 0h0m1 0h0m-95 2h0m42 0h0m35 0h0m-56 1h0m21 0h0m10 1h0m5 0h0m57 0h0m-47 1h0m2 0h0m23 0h0m-51 1h0m-12 1h0m97 0h0m-137 1h0m9 0h0m11 0h0m12 0h0m46 0h0m50 1h0m-86 1h0m15 0h0m6 0h0m-40 1h0m6 0h0m40 0h0m7 0h0m-87 1h0m1 0h0m19 0h0m32 0h0m46 0h0m-93 1h0m1 0h0m6 0h0m1 0h0m13 0h0m4 0h0m53 0h0m-70 1h0m10 0h0m17 0h0m43 0h0m25 0h0m-96 1h0m27 0h0m62 0h0m-94 1h0m11 0h0m22 0h0m6 0h0m-49 1h0m4 0h0m19 0h0m26 0h0m6 0h0m54 0h0m5 0h0m-114 1h0m31 0h0m63 0h0m-76 1h0m35 0h0m1 0h0m36 0h0m-55 1h0m3 0h0m2 0h0m9 0h0m13 0h0m43 0h0m-85 1h0m10 0h0m12 0h0m9 0h0m27 0h0m9 0h0m5 0h0m19 0h0m2 0h0m-110 1h0m17 0h0m33 0h0m28 0h0m-71 1h0m21 0h0m27 0h0m45 0h0m8 0h0m-103 1h0m40 0h0m49 0h0m-74 1h0m13 0h0m1 0h0m22 0h0m12 0h0m10 0h0m1 0h0m26 0h0m6 0h0m-11 1h0m1 0h0m11 0h0m3 0h0m-118 1h0m11 0h0m34 0h0m63 0h0m-95 1h0m33 0h0m-30 1h0m42 0h0m8 0h0m2 0h0m34 0h0m-100 1h0m12 0h0m19 0h0m30 0h0m12 0h0m33 0h0m2 0h0m-102 1h0m23 0h0m2 0h0m29 0h0m10 0h0m4 0h0m4 0h0m8 0h0m13 0h0m11 0h0m-110 1h0m20 0h0m30 0h0m-47 1h0m59 0h0m19 0h0m24 0h0m5 0h0m-95 1h0m3 0h0m84 0h0m1 0h0m6 0h0m18 0h0m-126 1h0m9 0h0m11 0h0m2 0h0m36 0h0m41 0h0m31 0h0m-95 1h0m21 0h0m-43 1h0m1 0h0m2 0h0m41 0h0m25 0h0m-59 1h0m6 0h0m45 0h0m1 0h0m4 0h0m2 0h0m-80 1h0m21 0h0m8 0h0m-30 1h0m4 0h0m11 0h0m9 0h0m1 0h0m28 0h0m6 0h0m8 0h0m1 0h0m-45 1h0m69 0h0m-87 1h0m8 0h0m41 0h0m16 0h0m6 0h0m-70 1h0m5 0h0m50 0h0m1 0h0m11 0h0m-56 1h0m12 0h0m40 0h0m21 0h0m-84 1h0m69 0h0m-38 2h0m1 0h0m19 0h0m19 0h0m14 0h0m-52 1h0m12 0h0m35 0h0m-78 1h0m42 0h0m-18 1h0m34 0h0m-32 1h0m7 0h0m16 0h0m-22 1h0m1 0h0m53 0h0m-38 2h0m25 0h0m-32 1h0m-23 1h0m52 0h0m17 1h0m-19 1h0m-3 3h0m-9 1h0m3 0h0m-26 1h0m38 0h0m-39 2h0m27 0h0m-28 1h0m17 3h0m3 1h0m14 2h0m3 0h0m-14 1h0m6 2h0m-7 1h0m8 1h0m11 1h0m-10 3h0m9 0h0"/>
<path transform="scale(.5)" stroke="#E47A72" stroke-width="2.32" stroke-linecap="round" fill="none" d="M202 90h0m5 1h0m1 0h0m-7 1h0m4 0h0m-10 1h0m18 5h0m6 0h0m-27 2h0m10 0h0m-11 1h0m2 0h0m-2 3h0m11 0h0m2 0h0m-15 1h0m18 0h0m-4 1h0m10 0h0m-18 1h0m4 2h0m8 0h0m24 0h0m-15 1h0m-24 1h0m17 0h0m-20 1h0m16 0h0m9 0h0m-16 1h0m42 1h0m-40 2h0m-16 2h0m17 4h0m-20 2h0m32 0h0m-28 2h0m4 1h0m18 0h0m4 0h0m9 0h0m7 0h0m-38 1h0m5 0h0m9 0h0m2 0h0m-21 1h0m-3 1h0m36 1h0m13 0h0m-42 1h0m23 1h0m38 0h0m-18 1h0m-3 1h0m-40 2h0m2 0h0m15 0h0m6 0h0m-27 1h0m-3 1h0m18 0h0m6 0h0m6 0h0m1 0h0m-22 2h0m2 0h0m7 0h0m9 1h0m-21 1h0m23 0h0m-6 1h0m-7 1h0m-20 2h0m11 0h0m5 0h0m-5 2h0m-10 1h0m-2 1h0m22 2h0m10 0h0m38 1h0m-52 1h0m36 0h0m33 0h0m-87 2h0m8 0h0m1 0h0m26 0h0m-28 1h0m12 0h0m61 0h0m-3 1h0m-70 1h0m20 0h0m20 0h0m-32 1h0m1 0h0m-10 1h0m5 0h0m1 0h0m-14 1h0m10 1h0m8 0h0m17 1h0m-39 1h0m3 1h0m38 0h0m-30 1h0m42 0h0m-51 1h0m10 0h0m3 0h0m15 0h0m-28 1h0m51 0h0m11 1h0m-47 1h0m2 1h0m-12 2h0m15 0h0m10 0h0m38 0h0m7 0h0m16 0h0m-46 1h0m12 0h0m7 1h0m27 0h0m-9 2h0m-17 1h0m25 0h0m-65 1h0m8 0h0m22 0h0m-105 1h0m53 1h0m23 0h0m2 0h0m-70 1h0m100 1h0m13 0h0m-26 2h0m8 0h0m22 0h0m16 0h0m-75 1h0m56 0h0m-48 1h0m48 0h0m-80 1h0m97 0h0m-73 1h0m67 0h0m-36 2h0m40 0h0m-52 1h0m15 1h0m-10 1h0m45 0h0m-148 1h0m79 0h0m20 0h0m1 0h0m2 0h0m-31 1h0m36 1h0m5 0h0m3 0h0m-10 1h0m3 0h0m-96 1h0m107 0h0m-22 1h0m36 1h0m-125 1h0m106 0h0m-37 1h0m19 0h0m61 0h0m-61 1h0m25 0h0m2 0h0m39 0h0m-8 1h0m6 1h0m3 0h0m1 0h0m2 0h0m1 0h0m3 0h0m-46 1h0m1 0h0m30 0h0m1 0h0m-151 1h0m105 0h0m12 0h0m19 0h0m18 0h0m12 0h0m-54 1h0m2 0h0m3 0h0m41 0h0m2 0h0m-77 1h0m14 0h0m33 0h0m16 0h0m19 0h0m-64 1h0m1 0h0m56 0h0m2 0h0m-76 1h0m24 0h0m41 0h0m4 0h0m2 0h0m-119 1h0m48 0h0m25 0h0m13 0h0m37 0h0m-70 1h0m65 0h0m-77 1h0m53 0h0m14 0h0m6 0h0m10 0h0m7 0h0m-74 1h0m52 0h0m3 0h0m14 0h0m-16 1h0m2 0h0m3 0h0m8 0h0m4 0h0m4 0h0m-106 1h0m37 0h0m50 0h0m3 0h0m17 0h0m-154 1h0m81 0h0m50 0h0m7 0h0m3 0h0m7 0h0m-116 1h0m8 0h0m18 0h0m29 0h0m5 0h0m42 0h0m2 0h0m3 0h0m-135 1h0m75 0h0m50 0h0m5 0h0m4 0h0m4 0h0m-62 1h0m62 0h0m-86 1h0m2 0h0m3 0h0m3 0h0m70 0h0m5 0h0m-29 1h0m23 0h0m4 0h0m16 0h0m-100 1h0m8 0h0m36 0h0m-47 1h0m17 0h0m-31 1h0m52 0h0m46 0h0m-67 1h0m-67 1h0m2 0h0m71 0h0m41 0h0m-66 1h0m4 0h0m21 0h0m18 0h0m-77 1h0m27 0h0m29 0h0m6 0h0m-35 1h0m3 0h0m70 0h0m-88 1h0m24 0h0m-42 2h0m-3 1h0m58 0h0m-50 1h0m42 0h0m24 0h0m13 1h0m-64 2h0m26 0h0m-33 1h0m68 0h0m2 0h0m-76 1h0m12 0h0m17 0h0m22 0h0m9 0h0m17 0h0m-26 1h0m-20 1h0m61 0h0m-102 1h0m32 0h0m21 0h0m5 0h0m9 0h0m-50 1h0m1 0h0m2 0h0m49 0h0m-15 1h0m20 0h0m4 1h0m10 0h0m-35 1h0m24 0h0m-50 1h0m9 0h0m3 0h0m19 0h0m-23 1h0m14 0h0m7 0h0m-27 1h0m17 0h0m4 0h0m11 0h0m-9 1h0m7 1h0m30 0h0m-28 1h0m-26 1h0m38 0h0m3 0h0m-42 1h0m2 0h0m-1 1h0m10 0h0m8 0h0m11 0h0m-32 1h0m8 0h0m20 0h0m29 0h0m-3 1h0m-14 2h0m48 0h0m-72 2h0m19 0h0m50 0h0m1 0h0m-7 2h0m-52 6h0m8 0h0m-17 3h0m3 4h0m2 3h0m1 1h0m5 0h0"/>
<path transform="scale(.5)" stroke="#5CBEC6" stroke-width="2.32" stroke-linecap="round" fill="none" d="M207 89h0m-7 2h0m2 0h0m3 0h0m5 0h0m-11 1h0m8 0h0m-9 1h0m2 0h0m2 0h0m-5 1h0m17 0h0m0 2h0m-19 1h0m16 0h0m-2 1h0m-21 1h0m5 0h0m5 0h0m21 0h0m-26 1h0m1 0h0m21 0h0m-22 1h0m3 0h0m-1 1h0m12 0h0m-19 2h0m9 0h0m2 1h0m10 0h0m12 0h0m-10 1h0m1 0h0m1 0h0m2 0h0m3 1h0m1 0h0m-28 1h0m11 0h0m1 0h0m1 0h0m10 1h0m-4 2h0m15 0h0m2 0h0m7 0h0m-47 1h0m8 0h0m21 0h0m3 0h0m-32 1h0m11 1h0m3 0h0m10 0h0m5 0h0m5 0h0m8 0h0m-45 1h0m14 0h0m4 0h0m8 0h0m12 0h0m11 0h0m1 0h0m-49 1h0m22 0h0m23 0h0m-8 1h0m18 0h0m-52 1h0m3 0h0m32 0h0m-38 1h0m37 0h0m6 0h0m3 0h0m5 0h0m-47 1h0m34 0h0m4 0h0m5 0h0m-49 1h0m2 0h0m19 0h0m23 0h0m15 0h0m1 0h0m-10 1h0m2 0h0m-6 1h0m2 0h0m-47 1h0m16 0h0m12 0h0m30 0h0m1 0h0m-52 1h0m18 0h0m1 0h0m19 0h0m18 0h0m-57 1h0m41 0h0m2 0h0m11 0h0m-45 1h0m13 0h0m6 0h0m22 0h0m3 0h0m10 0h0m-46 1h0m2 0h0m9 0h0m2 0h0m13 0h0m10 0h0m-50 1h0m33 0h0m7 0h0m2 0h0m14 0h0m1 0h0m-63 1h0m8 0h0m2 0h0m3 0h0m23 0h0m14 0h0m2 0h0m-55 1h0m42 0h0m10 0h0m-56 1h0m7 0h0m-2 1h0m6 0h0m26 0h0m17 0h0m-48 1h0m32 0h0m7 0h0m15 0h0m2 0h0m5 0h0m1 0h0m5 0h0m-36 1h0m11 0h0m4 0h0m1 0h0m4 0h0m3 0h0m1 0h0m3 0h0m9 0h0m-62 1h0m12 0h0m8 0h0m8 0h0m2 0h0m8 0h0m10 0h0m6 0h0m4 0h0m5 0h0m-74 1h0m53 0h0m1 0h0m22 0h0m-39 1h0m4 0h0m1 0h0m8 0h0m-18 1h0m4 0h0m6 0h0m1 0h0m9 0h0m3 0h0m19 0h0m-38 1h0m9 0h0m1 0h0m25 0h0m4 0h0m-70 1h0m28 0h0m6 0h0m13 0h0m4 0h0m19 0h0m-40 1h0m5 0h0m5 0h0m4 0h0m1 0h0m11 0h0m6 0h0m-29 1h0m4 0h0m4 0h0m1 0h0m3 0h0m24 0h0m-61 1h0m3 0h0m30 0h0m3 0h0m21 0h0m-58 1h0m-3 1h0m2 0h0m9 0h0m19 0h0m14 0h0m-34 1h0m24 0h0m3 0h0m5 0h0m2 0h0m3 0h0m10 0h0m10 0h0m2 0h0m-21 1h0m9 0h0m7 0h0m-60 1h0m12 0h0m11 0h0m8 0h0m15 0h0m4 0h0m7 0h0m-75 1h0m9 0h0m6 0h0m37 0h0m5 0h0m2 0h0m24 0h0m-61 1h0m4 0h0m2 0h0m8 0h0m1 0h0m4 0h0m34 0h0m-74 1h0m51 0h0m-48 1h0m11 0h0m48 0h0m15 0h0m10 0h0m-66 1h0m8 0h0m21 0h0m25 0h0m13 0h0m-90 1h0m3 0h0m26 0h0m19 0h0m39 0h0m-85 1h0m7 0h0m24 0h0m5 0h0m4 0h0m10 0h0m8 0h0m-31 1h0m53 0h0m-83 1h0m11 0h0m23 0h0m15 0h0m4 0h0m40 0h0m-83 1h0m14 0h0m16 0h0m5 0h0m14 0h0m9 0h0m12 0h0m7 0h0m-75 1h0m13 0h0m3 0h0m5 0h0m6 0h0m49 0h0m-72 1h0m33 0h0m1 0h0m4 0h0m8 0h0m31 0h0m-69 1h0m7 0h0m1 0h0m20 0h0m23 0h0m-76 1h0m49 0h0m18 0h0m6 0h0m5 0h0m-75 1h0m11 0h0m8 0h0m2 0h0m12 0h0m58 0h0m-87 1h0m18 0h0m44 0h0m-63 1h0m28 0h0m7 0h0m48 0h0m3 0h0m1 0h0m1 0h0m2 0h0m3 0h0m-55 1h0m5 0h0m-33 1h0m21 0h0m22 0h0m4 0h0m25 0h0m-25 1h0m-21 1h0m20 0h0m23 0h0m3 0h0m-71 1h0m8 0h0m15 0h0m28 0h0m-37 1h0m8 0h0m2 0h0m4 0h0m12 0h0m20 0h0m-79 1h0m24 0h0m38 0h0m9 0h0m5 0h0m-27 1h0m14 0h0m13 0h0m21 0h0m-64 1h0m-11 1h0m3 0h0m7 0h0m25 0h0m20 0h0m2 0h0m14 0h0m-43 1h0m5 0h0m4 0h0m36 0h0m-89 1h0m15 0h0m18 0h0m6 0h0m37 0h0m12 0h0m2 0h0m-88 1h0m41 0h0m11 0h0m26 0h0m-133 1h0m131 0h0m-74 1h0m4 0h0m15 0h0m42 0h0m3 0h0m13 0h0m7 0h0m-52 1h0m18 0h0m23 0h0m7 0h0m-75 1h0m27 0h0m18 0h0m31 0h0m3 0h0m-49 1h0m17 0h0m26 0h0m-101 1h0m37 0h0m1 0h0m58 0h0m3 0h0m-48 1h0m16 0h0m7 0h0m14 0h0m10 0h0m-50 1h0m32 0h0m17 0h0m-54 1h0m19 0h0m4 0h0m20 0h0m-30 1h0m-44 1h0m5 0h0m38 0h0m43 0h0m4 0h0m-75 1h0m16 0h0m47 0h0m2 0h0m5 0h0m7 0h0m-140 1h0m23 0h0m52 0h0m13 0h0m5 0h0m10 0h0m9 0h0m16 0h0m-133 1h0m33 0h0m25 0h0m13 0h0m48 0h0m12 0h0m12 0h0m3 0h0m-84 1h0m62 0h0m8 0h0m8 0h0m-73 1h0m24 1h0m6 0h0m-41 1h0m75 0h0m-49 1h0m7 0h0m46 0h0m-40 1h0m23 0h0m-33 1h0m6 0h0m3 0h0m-18 1h0m17 0h0m13 0h0m19 0h0m-41 1h0m11 0h0m5 0h0m33 1h0m-111 1h0m71 0h0m16 0h0m-54 1h0m34 0h0m20 0h0m-13 1h0m-89 1h0m82 0h0m16 0h0m6 0h0m-58 1h0m32 0h0m45 0h0m-71 1h0m45 0h0m28 0h0m-38 1h0m34 0h0m17 0h0m-146 1h0m68 0h0m23 0h0m11 0h0m25 0h0m20 0h0m13 0h0m-137 1h0m30 0h0m33 0h0m23 0h0m24 0h0m-90 1h0m65 0h0m2 0h0m22 0h0m6 0h0m5 0h0m-95 1h0m8 0h0m39 0h0m-46 1h0m42 0h0m29 0h0m12 0h0m-37 1h0m20 0h0m1 0h0m1 0h0m11 0h0m-114 1h0m57 0h0m45 0h0m-25 1h0m3 0h0m6 0h0m-62 1h0m49 0h0m8 0h0m14 0h0m1 0h0m42 0h0m-36 1h0m-102 1h0m49 0h0m14 0h0m70 0h0m-94 1h0m48 0h0m-58 2h0m6 0h0m22 0h0m5 0h0m42 0h0m-55 1h0m8 0h0m4 0h0m-7 1h0m-48 1h0m29 0h0m6 0h0m30 0h0m16 0h0m-76 1h0m106 0h0m-59 1h0m6 0h0m5 0h0m5 0h0m15 0h0m-21 1h0m10 0h0m21 0h0m10 0h0m-66 1h0m44 0h0m7 0h0m20 0h0m-65 1h0m28 0h0m29 0h0m5 0h0m-57 1h0m25 0h0m-50 1h0m34 0h0m20 0h0m25 0h0m-53 1h0m23 0h0m9 0h0m19 0h0m7 0h0m-105 1h0m25 0h0m52 0h0m8 0h0m-90 1h0m25 1h0m41 0h0m4 0h0m64 0h0m-50 1h0m-39 1h0m35 0h0m4 0h0m-48 1h0m10 0h0m3 0h0m5 0h0m4 0h0m4 0h0m-54 1h0m2 0h0m32 0h0m19 0h0m19 0h0m18 0h0m4 0h0m-71 1h0m2 0h0m3 0h0m34 0h0m17 0h0m16 0h0m27 0h0m-64 1h0m18 0h0m22 0h0m21 0h0m-126 1h0m60 0h0m1 0h0m12 0h0m8 0h0m-48 1h0m54 0h0m18 0h0m20 0h0m-100 1h0m20 0h0m16 0h0m23 0h0m-63 1h0m28 0h0m-6 1h0m45 0h0m-61 2h0m23 1h0m19 0h0m-56 1h0m76 0h0m-43 1h0m13 0h0m29 0h0m35 0h0m-99 1h0m1 1h0m14 0h0m2 0h0m21 0h0m14 0h0m-18 1h0m53 0h0m1 0h0m-73 1h0m45 0h0m8 0h0m19 0h0m4 0h0m-57 1h0m57 0h0m-71 1h0m7 0h0m9 0h0m5 1h0m20 0h0m24 0h0m-78 1h0m88 0h0m-71 1h0m11 0h0m54 0h0m3 0h0m1 0h0m-87 1h0m14 0h0m29 0h0m6 0h0m-9 1h0m38 0h0m1 0h0m1 0h0m3 0h0m1 1h0m4 0h0m2 0h0m-33 1h0m26 0h0m5 0h0m-96 1h0m61 0h0m34 0h0m-62 1h0m15 0h0m40 1h0m-38 2h0m-39 6h0m18 1h0m-1 1h0m6 1h0m0 1h0m10 1h0m2 0h0m4 2h0m2 5h0m-9 1h0m13 0h0m-5 3h0"/>
<path transform="scale(.5)" stroke="#8AB022" stroke-width="2.32" stroke-linecap="round" fill="none" d="M192 94h0m2 3h0m-7 4h0m11 2h0m5 0h0m13 1h0m0 3h0m-1 1h0m0 2h0m2 1h0m5 1h0m2 1h0m-18 2h0m8 1h0m-13 2h0m-14 3h0m15 1h0m-14 1h0m45 0h0m-48 2h0m-4 1h0m14 0h0m34 0h0m14 0h0m-58 1h0m2 0h0m66 0h0m-65 1h0m6 0h0m-2 1h0m1 0h0m37 0h0m-44 2h0m70 0h0m-58 3h0m-11 1h0m25 0h0m4 0h0m27 1h0m-64 1h0m1 1h0m6 0h0m27 0h0m-37 2h0m6 0h0m43 1h0m31 1h0m-64 2h0m2 2h0m5 0h0m17 0h0m-31 2h0m25 1h0m43 4h0m1 1h0m-74 1h0m13 0h0m20 1h0m1 0h0m-36 1h0m-3 1h0m1 1h0m3 0h0m25 0h0m-30 1h0m-1 1h0m10 0h0m11 0h0m34 0h0m-43 1h0m1 0h0m36 0h0m23 1h0m-60 1h0m-12 1h0m24 0h0m-20 1h0m14 0h0m17 0h0m-1 1h0m-26 2h0m84 1h0m-85 1h0m56 2h0m7 0h0m-61 1h0m1 0h0m3 0h0m30 0h0m-52 1h0m20 0h0m3 0h0m-34 1h0m5 0h0m3 0h0m10 0h0m23 0h0m11 0h0m-36 1h0m23 0h0m-42 1h0m2 0h0m9 0h0m1 0h0m11 0h0m11 0h0m3 0h0m5 0h0m10 0h0m3 0h0m17 0h0m-68 1h0m4 0h0m17 0h0m1 0h0m4 0h0m12 0h0m25 0h0m-96 1h0m2 0h0m5 0h0m29 0h0m30 0h0m1 0h0m-39 1h0m5 0h0m4 0h0m13 0h0m-42 1h0m26 0h0m1 0h0m2 0h0m3 0h0m13 0h0m3 0h0m4 0h0m21 0h0m4 0h0m-89 1h0m1 0h0m4 0h0m9 0h0m24 0h0m6 0h0m13 0h0m8 0h0m7 0h0m4 0h0m5 0h0m54 0h0m-133 1h0m6 0h0m18 0h0m12 0h0m4 0h0m15 0h0m4 0h0m16 0h0m2 0h0m-54 1h0m5 0h0m9 0h0m7 0h0m13 0h0m13 0h0m3 0h0m6 0h0m-81 1h0m2 0h0m25 0h0m2 0h0m5 0h0m9 0h0m5 0h0m37 0h0m-81 1h0m6 0h0m15 0h0m7 0h0m5 0h0m7 0h0m12 0h0m1 0h0m13 0h0m-74 1h0m4 0h0m2 0h0m10 0h0m16 0h0m5 0h0m10 0h0m7 0h0m15 0h0m-54 1h0m12 0h0m3 0h0m3 0h0m4 0h0m1 0h0m1 0h0m8 0h0m6 0h0m11 0h0m8 0h0m-75 1h0m2 0h0m1 0h0m14 0h0m1 0h0m11 0h0m2 0h0m6 0h0m31 0h0m2 0h0m1 0h0m37 0h0m-105 1h0m7 0h0m3 0h0m22 0h0m7 0h0m1 0h0m-44 1h0m3 0h0m8 0h0m17 0h0m18 0h0m9 0h0m5 0h0m8 0h0m2 0h0m18 0h0m-87 1h0m5 0h0m47 0h0m13 0h0m6 0h0m3 0h0m8 0h0m13 0h0m1 0h0m4 0h0m5 0h0m17 0h0m15 0h0m-125 1h0m28 0h0m4 0h0m7 0h0m6 0h0m6 0h0m4 0h0m4 0h0m4 0h0m2 0h0m-72 1h0m10 0h0m1 0h0m12 0h0m1 0h0m1 0h0m6 0h0m3 0h0m1 0h0m2 0h0m8 0h0m10 0h0m13 0h0m6 0h0m9 0h0m-83 1h0m5 0h0m29 0h0m9 0h0m2 0h0m6 0h0m7 0h0m16 0h0m1 0h0m1 0h0m5 0h0m3 0h0m13 0h0m34 0h0m-139 1h0m44 0h0m13 0h0m18 0h0m30 0h0m23 0h0m20 0h0m-128 1h0m17 0h0m3 0h0m7 0h0m5 0h0m1 0h0m26 0h0m13 0h0m-89 1h0m10 0h0m1 0h0m4 0h0m14 0h0m5 0h0m13 0h0m2 0h0m1 0h0m21 0h0m13 0h0m1 0h0m-81 1h0m4 0h0m2 0h0m31 0h0m3 0h0m5 0h0m2 0h0m3 0h0m10 0h0m1 0h0m17 0h0m1 0h0m2 0h0m13 0h0m-89 1h0m5 0h0m17 0h0m13 0h0m2 0h0m2 0h0m7 0h0m11 0h0m-66 1h0m10 0h0m1 0h0m3 0h0m26 0h0m13 0h0m3 0h0m6 0h0m-62 1h0m9 0h0m4 0h0m3 0h0m8 0h0m10 0h0m1 0h0m3 0h0m4 0h0m3 0h0m1 0h0m4 0h0m4 0h0m5 0h0m14 0h0m14 0h0m-52 1h0m1 0h0m2 0h0m1 0h0m1 0h0m12 0h0m20 0h0m16 0h0m3 0h0m16 0h0m-109 1h0m4 0h0m5 0h0m17 0h0m4 0h0m3 0h0m23 0h0m2 0h0m13 0h0m8 0h0m1 0h0m7 0h0m47 0h0m-130 1h0m1 0h0m8 0h0m16 0h0m47 0h0m1 0h0m7 0h0m2 0h0m1 0h0m3 0h0m1 0h0m15 0h0m-98 1h0m1 0h0m20 0h0m6 0h0m2 0h0m9 0h0m8 0h0m2 0h0m9 0h0m18 0h0m6 0h0m-87 1h0m4 0h0m2 0h0m8 0h0m21 0h0m8 0h0m7 0h0m1 0h0m14 0h0m1 0h0m9 0h0m10 0h0m4 0h0m23 0h0m-90 1h0m10 0h0m14 0h0m3 0h0m22 0h0m7 0h0m8 0h0m14 0h0m61 0h0m-149 1h0m16 0h0m1 0h0m3 0h0m3 0h0m28 0h0m4 0h0m11 0h0m7 0h0m61 0h0m-145 1h0m3 0h0m1 0h0m4 0h0m12 0h0m12 0h0m2 0h0m4 0h0m22 0h0m22 0h0m28 0h0m-83 1h0m1 0h0m15 0h0m7 0h0m17 0h0m1 0h0m16 0h0m19 0h0m20 0h0m-99 1h0m7 0h0m9 0h0m7 0h0m36 0h0m21 0h0m-94 1h0m13 0h0m2 0h0m3 0h0m2 0h0m15 0h0m2 0h0m8 0h0m5 0h0m13 0h0m8 0h0m5 0h0m3 0h0m-47 1h0m15 0h0m23 0h0m2 0h0m10 0h0m-54 1h0m10 0h0m9 0h0m2 0h0m23 0h0m4 0h0m20 0h0m-83 1h0m18 0h0m6 0h0m1 0h0m2 0h0m2 0h0m5 0h0m7 0h0m28 0h0m-75 1h0m3 0h0m2 0h0m7 0h0m19 0h0m5 0h0m6 0h0m26 0h0m5 0h0m-72 1h0m15 0h0m3 0h0m2 0h0m7 0h0m3 0h0m38 0h0m-69 1h0m7 0h0m38 0h0m3 0h0m20 0h0m-37 1h0m2 0h0m2 0h0m41 0h0m-13 1h0m4 0h0m-8 1h0m-50 1h0m2 0h0m21 0h0m5 0h0m17 0h0m-33 1h0m4 0h0m3 0h0m7 0h0m19 0h0m55 0h0m-95 1h0m17 0h0m16 0h0m2 0h0m54 0h0m-14 1h0m-60 1h0m29 0h0m-53 1h0m9 0h0m17 0h0m40 0h0m-55 1h0m14 0h0m5 0h0m15 0h0m7 0h0m36 0h0m-74 1h0m16 0h0m29 0h0m11 0h0m19 0h0m-90 1h0m7 0h0m3 0h0m6 0h0m14 0h0m36 0h0m9 0h0m33 0h0m-112 1h0m1 0h0m30 0h0m39 0h0m2 0h0m3 0h0m-77 1h0m27 0h0m20 0h0m42 0h0m-65 1h0m17 0h0m39 0h0m10 0h0m-73 1h0m71 0h0m-73 1h0m5 0h0m11 0h0m1 0h0m6 0h0m1 0h0m34 0h0m33 0h0m-104 1h0m28 0h0m21 0h0m16 0h0m5 0h0m-62 1h0m19 0h0m7 0h0m-27 1h0m9 0h0m9 0h0m110 0h0m-105 1h0m51 0h0m10 0h0m48 0h0m1 0h0m-137 1h0m5 0h0m4 0h0m19 0h0m43 0h0m-49 1h0m30 0h0m76 0h0m-59 1h0m32 0h0m-97 1h0m14 0h0m12 0h0m11 0h0m13 0h0m44 0h0m30 0h0m8 0h0m1 0h0m-96 1h0m16 0h0m5 0h0m2 0h0m9 0h0m55 0h0m2 0h0m3 0h0m-103 1h0m15 0h0m16 0h0m74 0h0m-132 1h0m9 0h0m-12 1h0m30 0h0m19 0h0m10 0h0m9 0h0m9 0h0m-41 1h0m29 0h0m25 0h0m-87 1h0m15 0h0m11 0h0m8 0h0m23 0h0m9 0h0m19 0h0m-72 1h0m10 0h0m6 0h0m10 0h0m11 0h0m69 0h0m-76 1h0m-38 1h0m-1 2h0m47 1h0m-32 1h0m15 0h0m16 0h0m33 0h0m-68 1h0m6 0h0m39 0h0m-27 1h0m12 0h0m15 1h0m19 0h0m5 0h0m4 0h0m-61 1h0m11 0h0m32 0h0m-48 1h0m-3 1h0m4 0h0m55 0h0m-58 1h0m3 0h0m2 0h0m4 0h0m44 0h0m15 0h0m-57 1h0m51 0h0m-55 1h0m5 0h0m16 1h0m30 0h0m-55 3h0m6 0h0m-1 3h0m4 1h0m33 0h0m-34 1h0m23 0h0m10 0h0m-12 2h0m-1 2h0m8 2h0m2 1h0m13 1h0m-3 1h0m-10 1h0m11 0h0m1 1h0m-6 3h0m8 0h0m6 1h0m-6 4h0"/>
<path transform="scale(.5)" stroke="#B482E6" stroke-width="2.32" stroke-linecap="round" fill="none" d="M211 91h0m-9 3h0m20 0h0m-17 3h0m-6 6h0m-2 1h0m19 4h0m-25 4h0m30 3h0m14 0h0m5 4h0m-10 2h0m-45 1h0m47 4h0m-27 1h0m22 0h0m10 0h0m-34 1h0m41 1h0m-10 1h0m-34 2h0m44 0h0m-32 1h0m42 0h0m-49 1h0m-21 1h0m2 0h0m37 1h0m1 1h0m19 0h0m-52 1h0m28 0h0m-21 1h0m22 0h0m-28 1h0m12 0h0m50 0h0m-78 1h0m6 0h0m32 0h0m-27 1h0m8 0h0m28 0h0m-31 1h0m26 0h0m-27 1h0m71 0h0m-117 1h0m44 0h0m71 0h0m-84 1h0m21 0h0m67 0h0m-84 1h0m9 0h0m23 0h0m-65 1h0m45 0h0m16 0h0m-59 1h0m55 0h0m5 0h0m36 0h0m-31 1h0m10 0h0m41 0h0m-74 1h0m55 0h0m2 0h0m-56 1h0m42 0h0m3 0h0m18 0h0m-57 1h0m1 0h0m21 0h0m7 0h0m8 0h0m-23 1h0m16 0h0m1 0h0m7 0h0m3 0h0m9 0h0m-50 1h0m12 0h0m2 0h0m40 0h0m-37 1h0m21 0h0m9 0h0m10 0h0m-81 1h0m17 0h0m31 0h0m2 0h0m18 0h0m3 0h0m13 0h0m8 0h0m3 0h0m-54 1h0m3 0h0m11 0h0m24 0h0m-65 1h0m27 0h0m8 0h0m6 0h0m4 0h0m3 0h0m6 0h0m5 0h0m11 0h0m-67 1h0m29 0h0m40 0h0m3 0h0m-71 1h0m3 0h0m15 0h0m6 0h0m21 0h0m7 0h0m2 0h0m20 0h0m-73 1h0m14 0h0m2 0h0m12 0h0m5 0h0m25 0h0m-75 1h0m79 0h0m2 0h0m-72 1h0m6 0h0m5 0h0m15 0h0m17 0h0m11 0h0m7 0h0m3 0h0m6 0h0m3 0h0m-40 1h0m11 0h0m4 0h0m7 0h0m2 0h0m3 0h0m5 0h0m-39 1h0m17 0h0m13 0h0m16 0h0m6 0h0m-66 1h0m15 0h0m22 0h0m12 0h0m9 0h0m13 0h0m-77 1h0m16 0h0m1 0h0m20 0h0m3 0h0m5 0h0m7 0h0m9 0h0m9 0h0m1 0h0m-89 1h0m26 0h0m12 0h0m32 0h0m9 0h0m16 0h0m-85 1h0m1 0h0m48 0h0m21 0h0m1 0h0m-60 1h0m13 0h0m17 0h0m2 0h0m5 0h0m4 0h0m-62 1h0m45 0h0m21 0h0m8 0h0m5 0h0m-70 1h0m2 0h0m38 0h0m4 0h0m27 0h0m-78 1h0m70 0h0m6 0h0m4 0h0m4 0h0m11 0h0m-81 1h0m2 0h0m15 0h0m9 0h0m18 0h0m6 0h0m27 0h0m-110 1h0m36 0h0m6 0h0m11 0h0m13 0h0m17 0h0m20 0h0m-87 1h0m15 0h0m3 0h0m42 0h0m19 0h0m-95 1h0m62 0h0m13 0h0m7 0h0m5 0h0m2 0h0m7 0h0m-79 1h0m66 0h0m5 0h0m12 0h0m-65 1h0m29 0h0m-34 1h0m6 0h0m46 0h0m6 0h0m21 0h0m-63 1h0m4 0h0m11 0h0m7 0h0m12 0h0m24 0h0m-80 1h0m18 0h0m9 0h0m10 0h0m-5 1h0m40 0h0m4 0h0m-70 1h0m5 0h0m36 0h0m34 0h0m-71 1h0m6 0h0m17 0h0m11 0h0m28 0h0m-89 1h0m12 0h0m37 0h0m31 0h0m2 0h0m18 0h0m-39 1h0m5 0h0m13 0h0m4 0h0m-123 1h0m68 0h0m44 0h0m12 0h0m10 0h0m-76 1h0m15 0h0m16 0h0m49 0h0m-40 1h0m-71 1h0m21 0h0m43 0h0m26 0h0m13 0h0m-56 1h0m2 0h0m34 0h0m18 0h0m1 0h0m-137 1h0m40 0h0m27 0h0m36 0h0m28 0h0m-134 1h0m66 0h0m56 0h0m5 0h0m4 0h0m-53 1h0m9 0h0m31 0h0m-43 2h0m6 0h0m30 0h0m5 0h0m11 0h0m1 0h0m-48 1h0m9 0h0m54 0h0m-88 1h0m75 0h0m2 0h0m-126 1h0m64 0h0m12 0h0m-9 1h0m25 0h0m6 0h0m-44 1h0m15 0h0m-36 1h0m38 0h0m79 1h0m-36 1h0m-94 1h0m70 0h0m19 0h0m-64 1h0m3 0h0m28 0h0m-39 1h0m58 0h0m-62 1h0m57 0h0m24 0h0m-94 1h0m88 1h0m-57 1h0m28 0h0m6 0h0m15 0h0m14 0h0m-56 1h0m19 0h0m6 0h0m25 0h0m16 0h0m20 0h0m-82 1h0m17 0h0m36 0h0m-41 1h0m22 0h0m8 0h0m7 0h0m5 0h0m12 0h0m-108 1h0m46 1h0m4 0h0m20 0h0m23 0h0m40 0h0m-125 1h0m43 0h0m6 0h0m10 0h0m2 0h0m-71 1h0m5 0h0m2 0h0m45 0h0m13 0h0m-28 1h0m22 0h0m16 0h0m3 0h0m8 0h0m-92 1h0m14 0h0m9 0h0m2 0h0m30 0h0m2 0h0m17 0h0m-57 1h0m2 0h0m35 0h0m14 0h0m3 0h0m3 0h0m-70 1h0m6 0h0m8 0h0m18 0h0m9 0h0m29 0h0m35 0h0m-103 1h0m15 0h0m8 0h0m57 0h0m8 0h0m18 0h0m15 0h0m-83 1h0m27 0h0m-68 1h0m12 0h0m40 0h0m34 0h0m19 0h0m-95 1h0m42 0h0m9 0h0m20 0h0m21 0h0m-78 1h0m5 0h0m13 0h0m16 0h0m20 0h0m-59 1h0m5 0h0m8 0h0m14 0h0m27 0h0m-15 1h0m-16 1h0m55 0h0m4 0h0m-40 1h0m-32 1h0m1 0h0m31 0h0m6 0h0m1 0h0m8 0h0m10 0h0m15 0h0m-51 1h0m28 0h0m6 0h0m17 0h0m5 0h0m-84 1h0m32 0h0m1 0h0m13 0h0m7 0h0m-77 1h0m6 0h0m4 0h0m24 0h0m11 0h0m5 0h0m62 0h0m-59 1h0m19 0h0m33 0h0m-91 1h0m37 0h0m29 0h0m17 0h0m15 0h0m-51 1h0m27 0h0m20 0h0m-93 1h0m2 0h0m10 0h0m4 0h0m1 0h0m18 0h0m1 0h0m33 0h0m24 0h0m-90 1h0m38 0h0m4 0h0m15 0h0m-70 1h0m6 0h0m11 0h0m1 0h0m59 0h0m28 0h0m-108 1h0m5 0h0m41 0h0m36 0h0m2 0h0m15 0h0m3 0h0m8 0h0m-114 1h0m36 0h0m11 0h0m15 0h0m-38 1h0m28 0h0m22 0h0m11 0h0m2 0h0m3 0h0m17 0h0m-76 1h0m18 0h0m-47 1h0m11 0h0m49 0h0m17 0h0m6 0h0m-74 1h0m16 0h0m24 0h0m4 0h0m11 0h0m-58 1h0m3 0h0m36 0h0m22 0h0m10 0h0m-72 1h0m69 0h0m12 0h0m4 0h0m37 0h0m-126 1h0m8 0h0m3 0h0m3 0h0m5 0h0m41 0h0m8 0h0m55 0h0m-120 1h0m3 0h0m29 0h0m27 0h0m8 0h0m-63 1h0m10 0h0m53 1h0m2 0h0m-53 1h0m6 0h0m21 0h0m15 0h0m20 0h0m2 0h0m-59 1h0m63 0h0m-55 1h0m55 0h0m-54 1h0m30 0h0m19 0h0m2 0h0m-66 1h0m23 0h0m-4 1h0m12 0h0m9 1h0m-6 1h0m11 0h0m4 1h0m6 0h0m-25 1h0m25 3h0m-51 3h0m49 3h0m0 1h0m2 1h0m-21 1h0m5 3h0m-3 1h0m10 2h0m-7 1h0m10 0h0m1 0h0m-1 1h0m6 0h0m-14 1h0m8 0h0m4 0h0m7 0h0m-16 2h0m13 0h0m-16 1h0m4 1h0m6 0h0m0 2h0m6 1h0m-3 2h0"/>
<path transform="scale(.5)" stroke="#E47A72" stroke-width="2.32" stroke-linecap="round" fill="none" d="M202 89h0m14 1h0m-10 1h0m-5 1h0m7 0h0m5 0h0m-17 1h0m10 0h0m-1 3h0m12 0h0m-29 3h0m15 1h0m1 0h0m1 0h0m1 0h0m-11 1h0m-1 2h0m2 0h0m-4 1h0m-2 1h0m6 0h0m17 0h0m-1 1h0m3 0h0m-22 1h0m2 2h0m0 1h0m16 0h0m22 0h0m-28 1h0m-9 2h0m5 0h0m-5 3h0m-2 1h0m8 4h0m-16 1h0m-3 2h0m14 0h0m13 0h0m4 0h0m-11 2h0m2 0h0m6 1h0m-22 1h0m19 2h0m4 0h0m-16 1h0m37 0h0m-49 1h0m21 0h0m2 0h0m4 0h0m-11 1h0m-16 2h0m13 0h0m20 0h0m11 0h0m-18 1h0m6 0h0m21 0h0m-32 1h0m-23 1h0m11 0h0m9 0h0m25 0h0m17 0h0m3 0h0m-60 1h0m6 0h0m-9 1h0m43 0h0m18 0h0m3 0h0m-70 1h0m56 0h0m-23 1h0m6 0h0m-34 1h0m-7 1h0m15 1h0m4 0h0m-15 1h0m12 0h0m11 0h0m-55 1h0m43 0h0m43 0h0m-52 2h0m14 0h0m67 0h0m-74 1h0m23 1h0m-15 1h0m47 0h0m-70 1h0m4 0h0m1 0h0m10 0h0m-12 1h0m5 1h0m30 1h0m29 0h0m-52 1h0m3 0h0m36 0h0m-54 2h0m1 0h0m40 0h0m3 0h0m49 1h0m-79 1h0m43 0h0m-43 1h0m48 0h0m-64 1h0m84 0h0m-65 1h0m11 0h0m20 0h0m-13 1h0m-15 1h0m6 0h0m15 0h0m9 0h0m1 0h0m-28 1h0m-17 1h0m11 0h0m65 0h0m-42 1h0m8 0h0m29 0h0m16 0h0m-83 2h0m1 0h0m56 0h0m-8 1h0m-11 1h0m-25 1h0m44 0h0m-42 1h0m13 0h0m-37 1h0m38 0h0m-55 1h0m20 0h0m2 0h0m41 0h0m33 0h0m-122 1h0m69 1h0m4 0h0m-28 1h0m82 0h0m-103 1h0m67 0h0m-58 1h0m28 0h0m12 0h0m11 0h0m13 0h0m-48 1h0m32 0h0m8 3h0m30 0h0m13 0h0m-76 2h0m34 0h0m28 0h0m-142 1h0m121 0h0m-52 1h0m61 0h0m-58 2h0m21 0h0m-88 1h0m3 1h0m141 0h0m-122 1h0m66 0h0m6 0h0m12 0h0m34 0h0m8 0h0m-38 1h0m-19 1h0m43 0h0m-28 1h0m-33 1h0m18 0h0m8 0h0m39 0h0m-83 1h0m49 0h0m-13 1h0m7 0h0m16 0h0m-53 1h0m-3 1h0m15 0h0m5 0h0m14 0h0m16 0h0m50 0h0m-53 1h0m-110 1h0m59 0h0m50 0h0m1 1h0m1 0h0m-3 1h0m15 0h0m36 0h0m-5 1h0m8 0h0m-83 1h0m21 0h0m38 1h0m20 0h0m8 0h0m-77 1h0m47 0h0m14 0h0m-126 1h0m41 0h0m38 0h0m36 0h0m21 0h0m7 0h0m-61 1h0m2 0h0m10 0h0m23 0h0m16 0h0m7 0h0m1 0h0m-46 1h0m21 0h0m14 0h0m11 0h0m2 0h0m3 0h0m-114 1h0m16 0h0m34 0h0m12 0h0m30 0h0m5 0h0m2 0h0m4 0h0m8 0h0m6 0h0m2 0h0m-118 1h0m100 0h0m6 0h0m1 0h0m9 0h0m-72 1h0m68 0h0m1 0h0m-94 1h0m31 0h0m51 0h0m-114 1h0m30 0h0m23 0h0m22 0h0m-36 1h0m7 0h0m3 0h0m4 0h0m66 0h0m5 0h0m-90 1h0m34 0h0m9 0h0m27 0h0m1 0h0m5 0h0m13 0h0m2 0h0m-121 1h0m102 0h0m7 0h0m3 0h0m2 0h0m2 1h0m-134 1h0m17 0h0m34 0h0m23 0h0m27 0h0m34 0h0m1 0h0m-145 2h0m44 0h0m24 0h0m3 0h0m22 0h0m-34 1h0m1 0h0m88 0h0m-110 1h0m27 0h0m12 0h0m9 0h0m5 0h0m21 0h0m22 0h0m-54 1h0m7 0h0m-21 1h0m23 0h0m12 0h0m-64 1h0m7 0h0m1 0h0m50 0h0m-83 1h0m19 0h0m2 0h0m16 0h0m16 1h0m19 0h0m-39 1h0m20 0h0m41 0h0m-66 1h0m12 0h0m35 0h0m3 0h0m4 0h0m-42 1h0m6 0h0m27 0h0m-75 1h0m36 0h0m30 0h0m24 0h0m-94 1h0m88 0h0m-29 1h0m8 0h0m20 0h0m-37 1h0m17 0h0m12 0h0m2 0h0m-67 1h0m31 0h0m19 0h0m1 0h0m43 0h0m-85 1h0m5 0h0m4 0h0m13 0h0m1 0h0m13 0h0m3 0h0m11 0h0m5 0h0m6 0h0m2 0h0m21 0h0m-101 1h0m21 0h0m16 0h0m6 0h0m33 0h0m16 0h0m-83 1h0m56 2h0m9 0h0m-50 1h0m24 0h0m31 0h0m-41 1h0m7 0h0m-41 1h0m1 0h0m35 0h0m28 0h0m-27 1h0m1 0h0m23 0h0m2 0h0m1 0h0m14 0h0m-56 1h0m19 0h0m17 0h0m19 0h0m-28 1h0m10 1h0m16 0h0m-57 2h0m12 0h0m0 1h0m12 0h0m-15 1h0m41 1h0m5 0h0m-43 1h0m29 0h0m7 0h0m-58 1h0m14 0h0m8 0h0m69 0h0m-93 1h0m67 0h0m5 1h0m-36 1h0m15 0h0m4 0h0m-43 1h0m25 0h0m28 4h0m-6 1h0m-12 3h0m3 12h0m-5 2h0m9 3h0"/>
<g stroke="#000" stroke-width="1.1" fill="none">
<path d="M50.4 36.7V152.7H145.9"/>
<path d="M47.4 39.6H50.4"/>
<path d="M47.4 68.2H50.4"/>
<path d="M47.4 96.8H50.4"/>
<path d="M47.4 125.4H50.4"/>
<path d="M54.1 152.7V155.7"/>
<path d="M77.1 152.7V155.7"/>
<path d="M100.0 152.7V155.7"/>
<path d="M123.0 152.7V155.7"/>
</g>
<text x="44.4" y="42.4" font-size="8" fill="#333" text-anchor="end" font-weight="normal" stroke="#333" stroke-width="0.15" >50</text>
<text x="44.4" y="71.0" font-size="8" fill="#333" text-anchor="end" font-weight="normal" stroke="#333" stroke-width="0.15" >25</text>
<text x="44.4" y="99.6" font-size="8" fill="#333" text-anchor="end" font-weight="normal" stroke="#333" stroke-width="0.15" >0</text>
<text x="44.4" y="128.20000000000002" font-size="8" fill="#333" text-anchor="end" font-weight="normal" stroke="#333" stroke-width="0.15" >-25</text>
<text x="54.7" y="165.79999999999998" font-size="8" fill="#333" text-anchor="middle" font-weight="normal" stroke="#333" stroke-width="0.15" >-50</text>
<text x="77.69999999999999" y="165.79999999999998" font-size="8" fill="#333" text-anchor="middle" font-weight="normal" stroke="#333" stroke-width="0.15" >-25</text>
<text x="100.6" y="165.79999999999998" font-size="8" fill="#333" text-anchor="middle" font-weight="normal" stroke="#333" stroke-width="0.15" >0</text>
<text x="123.6" y="165.79999999999998" font-size="8" fill="#333" text-anchor="middle" font-weight="normal" stroke="#333" stroke-width="0.15" >25</text>
<text x="52.3" y="37.8" font-size="7.2" fill="#000" text-anchor="start" font-weight="normal" >T cells</text>
<text x="97.6" y="177.9" font-size="9.6" fill="#111" text-anchor="middle" font-weight="normal" textLength="24" lengthAdjust="spacingAndGlyphs" stroke="#111" stroke-width="0.15" >tSNE_1</text>
<text x="0" y="0" font-size="9.6" fill="#111" stroke="#111" stroke-width="0.15" text-anchor="middle" textLength="24" lengthAdjust="spacingAndGlyphs" transform="translate(29.4 95) rotate(-90)">tSNE_2</text>
<circle cx="127.8" cy="35.20" r="1.1" fill="#E47A72"/>
<text x="130.1" y="37.20" font-size="5.4" fill="#E47A72" text-anchor="start" font-weight="normal" textLength="44" lengthAdjust="spacingAndGlyphs" >SJALL061890_R1</text>
<circle cx="127.8" cy="42.40" r="1.1" fill="#5CBEC6"/>
<text x="130.1" y="44.40" font-size="5.4" fill="#5CBEC6" text-anchor="start" font-weight="normal" textLength="44" lengthAdjust="spacingAndGlyphs" >SJALL061888_R1</text>
<circle cx="127.8" cy="49.60" r="1.1" fill="#8AB022"/>
<text x="130.1" y="51.60" font-size="5.4" fill="#8AB022" text-anchor="start" font-weight="normal" textLength="44" lengthAdjust="spacingAndGlyphs" >SJALL061885_R1</text>
<circle cx="127.8" cy="56.80" r="1.1" fill="#B482E6"/>
<text x="130.1" y="58.80" font-size="5.4" fill="#B482E6" text-anchor="start" font-weight="normal" textLength="44" lengthAdjust="spacingAndGlyphs" >SJALL061884_R1</text>
<path transform="scale(.5)" stroke="#5CBEC6" stroke-width="2.32" stroke-linecap="round" fill="none" d="M548 91h0m-22 1h0m4 0h0m14 0h0m1 0h0m-12 1h0m2 4h0m4 1h0m18 0h0m-26 2h0m6 4h0m7 0h0m-5 1h0m-19 2h0m7 0h0m16 1h0m8 0h0m-11 1h0m1 0h0m6 0h0m-25 2h0m5 0h0m29 0h0m6 1h0m-42 1h0m44 0h0m-20 1h0m27 2h0m-16 1h0m4 1h0m-41 2h0m17 0h0m-22 3h0m50 0h0m-19 2h0m1 0h0m28 0h0m-22 1h0m21 0h0m-39 1h0m2 0h0m-21 2h0m16 0h0m0 1h0m10 0h0m10 0h0m-27 1h0m10 0h0m38 0h0m16 1h0m-72 1h0m14 0h0m15 0h0m5 0h0m-6 1h0m7 0h0m38 0h0m-75 1h0m9 0h0m14 0h0m14 0h0m33 0h0m5 0h0m-61 1h0m6 0h0m26 0h0m9 0h0m25 0h0m-76 1h0m1 0h0m28 0h0m21 0h0m7 0h0m10 0h0m-49 1h0m47 0h0m-60 1h0m7 0h0m8 0h0m8 0h0m16 0h0m-35 1h0m15 0h0m-26 1h0m16 0h0m26 0h0m-25 1h0m-11 1h0m66 0h0m-17 1h0m-56 1h0m27 0h0m16 0h0m22 0h0m-29 1h0m-41 1h0m15 0h0m18 0h0m6 0h0m4 0h0m23 0h0m13 0h0m-79 1h0m11 0h0m1 0h0m2 0h0m67 0h0m-110 1h0m46 0h0m34 0h0m-25 1h0m7 0h0m43 0h0m-77 1h0m4 0h0m30 0h0m18 0h0m6 0h0m3 0h0m24 0h0m-69 1h0m4 0h0m29 0h0m1 0h0m10 0h0m2 0h0m3 0h0m1 0h0m2 0h0m14 0h0m7 0h0m5 0h0m-92 1h0m10 0h0m14 0h0m29 0h0m14 0h0m17 0h0m-49 1h0m2 0h0m16 0h0m9 0h0m28 0h0m-94 1h0m14 0h0m1 0h0m4 0h0m28 0h0m36 0h0m1 0h0m1 0h0m-71 1h0m6 0h0m9 0h0m2 0h0m3 0h0m16 0h0m8 0h0m1 0h0m4 0h0m6 0h0m9 0h0m5 0h0m2 0h0m1 0h0m-43 1h0m19 0h0m1 0h0m18 0h0m14 0h0m-99 1h0m7 0h0m20 0h0m8 0h0m9 0h0m5 0h0m1 0h0m3 0h0m2 0h0m22 0h0m9 0h0m12 0h0m-73 1h0m21 0h0m7 0h0m3 0h0m9 0h0m1 0h0m2 0h0m11 0h0m3 0h0m4 0h0m-75 1h0m11 0h0m24 0h0m18 0h0m8 0h0m27 0h0m4 0h0m-32 1h0m-55 1h0m29 0h0m3 0h0m5 0h0m7 0h0m1 0h0m-53 1h0m6 0h0m20 0h0m3 0h0m15 0h0m18 0h0m2 0h0m16 0h0m6 0h0m-74 1h0m3 0h0m31 0h0m3 0h0m6 0h0m2 0h0m7 0h0m-49 1h0m4 0h0m6 0h0m4 0h0m12 0h0m7 0h0m2 0h0m8 0h0m2 0h0m12 0h0m15 0h0m-89 1h0m17 0h0m4 0h0m7 0h0m37 0h0m1 0h0m-66 1h0m28 0h0m21 0h0m1 0h0m13 0h0m14 0h0m2 0h0m7 0h0m-80 1h0m11 0h0m17 0h0m20 0h0m8 0h0m16 0h0m-67 1h0m14 0h0m29 0h0m1 0h0m11 0h0m4 1h0m2 0h0m-79 1h0m20 0h0m7 0h0m31 0h0m30 0h0m-68 1h0m28 0h0m11 0h0m16 0h0m6 0h0m-57 1h0m12 0h0m25 0h0m1 0h0m-77 1h0m5 0h0m14 0h0m10 0h0m6 0h0m8 0h0m6 0h0m2 0h0m4 0h0m8 0h0m34 0h0m-96 1h0m41 0h0m7 0h0m30 0h0m16 0h0m10 0h0m-107 1h0m22 0h0m8 0h0m2 0h0m12 0h0m2 0h0m1 0h0m8 0h0m4 0h0m3 0h0m16 0h0m8 0h0m3 0h0m15 0h0m7 0h0m-78 1h0m2 0h0m39 0h0m1 0h0m22 0h0m4 0h0m4 0h0m1 0h0m-135 1h0m4 0h0m31 0h0m15 0h0m82 0h0m1 0h0m4 0h0m3 0h0m-135 1h0m32 0h0m2 0h0m4 0h0m5 0h0m26 0h0m10 0h0m1 0h0m1 0h0m6 0h0m5 0h0m13 0h0m8 0h0m24 0h0m1 0h0m-142 1h0m7 0h0m12 0h0m27 0h0m24 0h0m11 0h0m25 0h0m-87 1h0m24 0h0m20 0h0m4 0h0m29 0h0m23 0h0m-100 1h0m4 0h0m18 0h0m7 0h0m19 0h0m8 0h0m12 0h0m44 0h0m6 0h0m3 0h0m-140 1h0m23 0h0m5 0h0m7 0h0m13 0h0m18 0h0m23 0h0m2 0h0m8 0h0m8 0h0m37 0h0m-143 1h0m16 0h0m5 0h0m1 0h0m9 0h0m33 0h0m73 0h0m-149 1h0m5 0h0m1 0h0m19 0h0m4 0h0m15 0h0m1 0h0m4 0h0m9 0h0m5 0h0m10 0h0m27 0h0m11 0h0m27 0h0m-131 1h0m34 0h0m4 0h0m1 0h0m1 0h0m1 0h0m2 0h0m10 0h0m7 0h0m1 0h0m3 0h0m9 0h0m6 0h0m62 0h0m-145 1h0m7 0h0m7 0h0m12 0h0m1 0h0m5 0h0m5 0h0m5 0h0m8 0h0m1 0h0m2 0h0m5 0h0m3 0h0m15 0h0m10 0h0m22 0h0m11 0h0m8 0h0m3 0h0m-124 1h0m26 0h0m2 0h0m2 0h0m4 0h0m4 0h0m3 0h0m11 0h0m15 0h0m4 0h0m4 0h0m3 0h0m38 0h0m22 0h0m6 0h0m-125 1h0m4 0h0m7 0h0m1 0h0m6 0h0m12 0h0m1 0h0m1 0h0m6 0h0m11 0h0m12 0h0m3 0h0m12 0h0m3 0h0m5 0h0m10 0h0m20 0h0m-144 1h0m3 0h0m2 0h0m4 0h0m5 0h0m1 0h0m8 0h0m11 0h0m12 0h0m1 0h0m10 0h0m2 0h0m1 0h0m19 0h0m5 0h0m14 0h0m6 0h0m5 0h0m36 0h0m-147 1h0m6 0h0m11 0h0m11 0h0m13 0h0m18 0h0m3 0h0m18 0h0m14 0h0m8 0h0m9 0h0m4 0h0m7 0h0m9 0h0m1 0h0m5 0h0m2 0h0m5 0h0m1 0h0m7 0h0m-139 1h0m1 0h0m38 0h0m8 0h0m1 0h0m1 0h0m1 0h0m4 0h0m8 0h0m10 0h0m1 0h0m1 0h0m12 0h0m-96 1h0m4 0h0m7 0h0m1 0h0m19 0h0m11 0h0m8 0h0m7 0h0m27 0h0m42 0h0m21 0h0m-148 1h0m29 0h0m6 0h0m9 0h0m12 0h0m56 0h0m1 0h0m3 0h0m-117 1h0m39 0h0m2 0h0m2 0h0m4 0h0m9 0h0m13 0h0m3 0h0m1 0h0m5 0h0m7 0h0m24 0h0m5 0h0m-112 1h0m21 0h0m15 0h0m3 0h0m8 0h0m3 0h0m9 0h0m4 0h0m4 0h0m5 0h0m25 0h0m3 0h0m8 0h0m6 0h0m9 0h0m22 0h0m-149 1h0m2 0h0m31 0h0m20 0h0m1 0h0m3 0h0m5 0h0m9 0h0m24 0h0m17 0h0m18 0h0m1 0h0m2 0h0m8 0h0m10 0h0m-103 1h0m15 0h0m43 0h0m4 0h0m27 0h0m2 0h0m-135 1h0m27 0h0m3 0h0m11 0h0m4 0h0m8 0h0m1 0h0m1 0h0m9 0h0m25 0h0m3 0h0m32 0h0m-129 1h0m4 0h0m8 0h0m21 0h0m8 0h0m11 0h0m9 0h0m10 0h0m17 0h0m14 0h0m47 0h0m-148 1h0m2 0h0m9 0h0m27 0h0m10 0h0m3 0h0m36 0h0m9 0h0m2 0h0m7 0h0m15 0h0m-120 1h0m5 0h0m3 0h0m1 0h0m19 0h0m7 0h0m2 0h0m7 0h0m4 0h0m2 0h0m8 0h0m1 0h0m11 0h0m12 0h0m4 0h0m1 0h0m1 0h0m24 0h0m-87 1h0m5 0h0m6 0h0m26 0h0m3 0h0m2 0h0m42 0h0m9 0h0m29 0h0m-124 1h0m18 0h0m2 0h0m6 0h0m37 0h0m3 0h0m10 0h0m5 0h0m39 0h0m-138 1h0m3 0h0m4 0h0m34 0h0m3 0h0m17 0h0m1 0h0m22 0h0m3 0h0m10 0h0m7 0h0m33 0h0m2 0h0m-136 1h0m41 0h0m2 0h0m12 0h0m12 0h0m9 0h0m14 0h0m4 0h0m5 0h0m-104 1h0m4 0h0m20 0h0m8 0h0m1 0h0m29 0h0m13 0h0m16 0h0m22 0h0m3 0h0m-114 1h0m1 0h0m29 0h0m3 0h0m8 0h0m19 0h0m4 0h0m2 0h0m2 0h0m3 0h0m40 0h0m8 0h0m35 0h0m-130 1h0m8 0h0m6 0h0m9 0h0m1 0h0m4 0h0m2 0h0m17 0h0m2 0h0m3 0h0m6 0h0m-74 1h0m18 0h0m1 0h0m13 0h0m11 0h0m1 0h0m8 0h0m12 0h0m7 0h0m10 0h0m16 0h0m5 0h0m11 0h0m9 0h0m5 0h0m26 0h0m-143 1h0m12 0h0m1 0h0m1 0h0m3 0h0m1 0h0m1 0h0m1 0h0m6 0h0m10 0h0m30 0h0m3 0h0m9 0h0m4 0h0m32 0h0m9 0h0m-132 1h0m11 0h0m2 0h0m20 0h0m1 0h0m19 0h0m29 0h0m14 0h0m43 0h0m-102 1h0m2 0h0m8 0h0m3 0h0m17 0h0m5 0h0m6 0h0m26 0h0m3 0h0m18 0h0m-134 1h0m17 0h0m11 0h0m1 0h0m6 0h0m8 0h0m3 0h0m8 0h0m6 0h0m1 0h0m3 0h0m19 0h0m5 0h0m9 0h0m5 0h0m13 0h0m27 0h0m-125 1h0m23 0h0m2 0h0m1 0h0m5 0h0m7 0h0m6 0h0m20 0h0m-57 1h0m6 0h0m13 0h0m5 0h0m10 0h0m11 0h0m4 0h0m2 0h0m3 0h0m5 0h0m10 0h0m2 0h0m9 0h0m20 0h0m12 0h0m-114 1h0m19 0h0m32 0h0m13 0h0m3 0h0m9 0h0m13 0h0m-78 1h0m2 0h0m7 0h0m1 0h0m5 0h0m11 0h0m2 0h0m4 0h0m11 0h0m12 0h0m2 0h0m26 0h0m-98 1h0m2 0h0m5 0h0m3 0h0m8 0h0m1 0h0m15 0h0m3 0h0m25 0h0m1 0h0m22 0h0m21 0h0m-103 1h0m4 0h0m28 0h0m4 0h0m1 0h0m12 0h0m39 0h0m8 0h0m-99 1h0m3 0h0m2 0h0m1 0h0m4 0h0m5 0h0m4 0h0m1 0h0m3 0h0m4 0h0m2 0h0m8 0h0m1 0h0m16 0h0m20 0h0m8 0h0m7 0h0m13 0h0m1 0h0m-101 1h0m2 0h0m5 0h0m8 0h0m3 0h0m20 0h0m8 0h0m10 0h0m23 0h0m28 0h0m-105 1h0m1 0h0m5 0h0m1 0h0m29 0h0m34 0h0m27 0h0m-81 1h0m4 0h0m2 0h0m33 0h0m16 0h0m5 0h0m31 0h0m-105 1h0m5 0h0m1 0h0m1 0h0m2 0h0m9 0h0m26 0h0m4 0h0m6 0h0m5 0h0m5 0h0m26 0h0m18 0h0m-112 1h0m3 0h0m18 0h0m4 0h0m5 0h0m14 0h0m14 0h0m22 0h0m4 0h0m28 0h0m-101 1h0m6 0h0m3 0h0m8 0h0m16 0h0m6 0h0m6 0h0m26 0h0m2 0h0m45 0h0m9 0h0m-128 1h0m1 0h0m5 0h0m6 0h0m1 0h0m5 0h0m12 0h0m18 0h0m72 0h0m-137 1h0m4 0h0m2 0h0m2 0h0m2 0h0m11 0h0m38 0h0m8 0h0m1 0h0m7 0h0m3 0h0m15 0h0m26 0h0m2 0h0m1 0h0m-117 1h0m1 0h0m6 0h0m10 0h0m2 0h0m41 0h0m11 0h0m36 0h0m-113 1h0m32 0h0m1 0h0m6 0h0m1 0h0m30 0h0m52 0h0m-119 1h0m1 0h0m12 0h0m8 0h0m2 0h0m5 0h0m21 0h0m42 0h0m12 0h0m-84 1h0m1 0h0m5 0h0m10 0h0m29 0h0m4 0h0m25 0h0m13 0h0m5 0h0m-107 1h0m7 0h0m5 0h0m4 0h0m10 0h0m5 0h0m12 0h0m2 0h0m26 0h0m6 0h0m22 0h0m2 0h0m2 0h0m-90 1h0m3 0h0m49 0h0m3 0h0m6 0h0m33 0h0m9 0h0m-122 1h0m5 0h0m2 0h0m7 0h0m13 0h0m3 0h0m7 0h0m17 0h0m17 0h0m13 0h0m5 0h0m8 0h0m13 0h0m7 0h0m-113 1h0m4 0h0m2 0h0m5 0h0m34 0h0m35 0h0m2 0h0m6 0h0m8 0h0m6 0h0m7 0h0m30 0h0m-140 1h0m8 0h0m7 0h0m8 0h0m7 0h0m4 0h0m2 0h0m2 0h0m37 0h0m29 0h0m10 0h0m-106 1h0m3 0h0m22 0h0m13 0h0m11 0h0m1 0h0m4 0h0m21 0h0m2 0h0m5 0h0m3 0h0m23 0h0m-118 1h0m3 0h0m12 0h0m7 0h0m2 0h0m11 0h0m4 0h0m76 0h0m-92 1h0m1 0h0m6 0h0m27 0h0m8 0h0m9 0h0m12 0h0m24 0h0m30 0h0m-136 1h0m6 0h0m2 0h0m1 0h0m3 0h0m6 0h0m25 0h0m7 0h0m2 0h0m57 0h0m7 0h0m20 0h0m3 0h0m-142 1h0m7 0h0m4 0h0m9 0h0m16 0h0m7 0h0m10 0h0m80 0h0m-106 1h0m1 0h0m24 0h0m6 0h0m20 0h0m4 0h0m28 0h0m1 0h0m-105 1h0m17 0h0m3 0h0m8 0h0m51 0h0m-85 1h0m13 0h0m45 0h0m9 0h0m70 0h0m-134 1h0m9 0h0m9 0h0m3 0h0m5 0h0m3 0h0m26 0h0m5 0h0m5 0h0m-61 1h0m10 0h0m11 0h0m28 0h0m10 0h0m12 0h0m6 0h0m1 0h0m45 0h0m5 0h0m-132 1h0m3 0h0m18 0h0m7 0h0m14 0h0m11 0h0m17 0h0m7 0h0m6 0h0m1 0h0m9 0h0m-80 1h0m10 0h0m4 0h0m15 0h0m31 0h0m8 0h0m44 0h0m-111 1h0m44 0h0m31 0h0m-78 1h0m4 0h0m20 0h0m6 0h0m3 0h0m5 0h0m7 0h0m-52 1h0m10 0h0m1 0h0m31 0h0m30 0h0m1 0h0m16 0h0m3 0h0m-90 1h0m56 0h0m1 0h0m12 0h0m6 0h0m-75 1h0m11 0h0m20 0h0m4 0h0m-28 1h0m7 0h0m58 0h0m2 0h0m9 0h0m-71 1h0m2 0h0m3 0h0m25 0h0m4 0h0m7 0h0m6 0h0m22 0h0m-78 1h0m35 0h0m7 0h0m21 0h0m-58 1h0m26 0h0m3 0h0m1 0h0m9 0h0m2 0h0m20 0h0m-54 1h0m22 0h0m29 0h0m5 0h0m2 0h0m10 0h0m2 0h0m-60 1h0m8 0h0m20 0h0m13 0h0m3 0h0m4 0h0m11 0h0m-70 1h0m7 0h0m9 0h0m29 0h0m-24 1h0m11 0h0m9 0h0m30 0h0m-66 1h0m4 0h0m40 0h0m9 0h0m1 0h0m-59 1h0m1 0h0m1 0h0m48 0h0m6 0h0m-45 1h0m-7 1h0m7 0h0m2 0h0m42 0h0m-50 1h0m10 0h0m-3 1h0m36 0h0m7 0h0m-40 1h0m1 0h0m-7 1h0m6 0h0m41 0h0m-16 1h0m2 0h0m13 0h0m-49 1h0m5 0h0m1 0h0m1 0h0m38 0h0m-13 2h0m-24 1h0m24 0h0m-29 1h0m23 0h0m7 1h0m7 0h0m-10 1h0m8 0h0m-11 2h0m11 0h0m-1 2h0m6 0h0m4 0h0m7 2h0m-9 1h0m-2 1h0m8 3h0m5 1h0m-6 1h0m-2 1h0m2 0h0m3 0h0"/>
<path transform="scale(.5)" stroke="#E47A72" stroke-width="2.32" stroke-linecap="round" fill="none" d="M539 89h0m-1 1h0m1 0h0m3 0h0m5 0h0m-10 1h0m3 0h0m3 0h0m-14 1h0m8 0h0m-10 1h0m5 0h0m1 0h0m11 0h0m-12 1h0m2 0h0m7 0h0m3 0h0m1 0h0m-8 1h0m3 1h0m13 0h0m-24 1h0m4 0h0m20 0h0m-25 1h0m10 0h0m-13 1h0m2 0h0m15 0h0m10 0h0m-29 1h0m7 0h0m1 0h0m1 0h0m3 0h0m3 0h0m9 0h0m7 0h0m-17 1h0m2 0h0m8 0h0m-8 1h0m10 0h0m4 0h0m-23 1h0m3 0h0m1 0h0m4 0h0m2 0h0m8 0h0m-22 1h0m14 0h0m4 0h0m-22 1h0m1 0h0m3 0h0m17 0h0m-21 1h0m9 0h0m12 0h0m6 0h0m8 0h0m-29 1h0m1 0h0m11 1h0m5 0h0m-16 1h0m12 0h0m4 0h0m8 0h0m-29 1h0m4 0h0m19 0h0m5 0h0m-25 1h0m12 0h0m3 0h0m7 0h0m1 0h0m-26 1h0m2 0h0m9 0h0m9 0h0m2 0h0m-1 1h0m16 0h0m10 0h0m-14 1h0m-43 1h0m13 0h0m15 0h0m19 0h0m-44 1h0m4 0h0m33 0h0m3 0h0m6 0h0m8 0h0m-52 1h0m1 0h0m8 0h0m35 0h0m11 0h0m-15 1h0m3 0h0m7 0h0m1 0h0m-51 1h0m54 0h0m-54 1h0m47 0h0m-49 1h0m54 0h0m-40 1h0m27 0h0m2 0h0m4 0h0m11 0h0m-15 1h0m2 0h0m6 0h0m2 0h0m7 0h0m1 0h0m-59 1h0m15 0h0m42 0h0m-63 1h0m1 0h0m6 0h0m7 0h0m6 0h0m34 0h0m-53 1h0m26 0h0m2 0h0m4 0h0m14 0h0m2 0h0m-1 1h0m3 0h0m4 0h0m10 0h0m-56 1h0m4 0h0m2 0h0m6 0h0m1 0h0m2 0h0m5 0h0m2 0h0m1 0h0m5 0h0m2 0h0m3 0h0m7 0h0m6 0h0m10 0h0m6 0h0m-63 1h0m16 0h0m6 0h0m4 0h0m1 0h0m1 0h0m1 0h0m2 0h0m10 0h0m1 0h0m5 0h0m12 0h0m-24 1h0m11 0h0m16 0h0m1 0h0m-70 1h0m8 0h0m17 0h0m7 0h0m8 0h0m25 0h0m1 0h0m7 0h0m-32 1h0m3 0h0m2 0h0m25 0h0m-72 1h0m1 0h0m9 0h0m10 0h0m4 0h0m9 0h0m5 0h0m20 0h0m10 0h0m6 0h0m4 0h0m2 0h0m-62 1h0m7 0h0m21 0h0m11 0h0m13 0h0m6 0h0m1 0h0m-72 1h0m21 0h0m5 0h0m22 0h0m12 0h0m8 0h0m-64 1h0m4 0h0m13 0h0m8 0h0m30 0h0m-42 1h0m14 0h0m8 0h0m1 0h0m1 0h0m2 0h0m3 0h0m14 0h0m6 0h0m9 0h0m-76 1h0m8 0h0m1 0h0m13 0h0m22 0h0m7 0h0m14 0h0m-69 1h0m2 0h0m10 0h0m23 0h0m3 0h0m21 0h0m22 0h0m-75 1h0m7 0h0m1 0h0m14 0h0m15 0h0m8 0h0m3 0h0m8 0h0m3 0h0m12 0h0m4 0h0m-81 1h0m38 0h0m5 0h0m3 0h0m7 0h0m1 0h0m5 0h0m7 0h0m8 0h0m10 0h0m-81 1h0m5 0h0m25 0h0m5 0h0m1 0h0m6 0h0m1 0h0m1 0h0m19 0h0m2 0h0m10 0h0m7 0h0m-82 1h0m10 0h0m8 0h0m5 0h0m1 0h0m21 0h0m9 0h0m2 0h0m7 0h0m5 0h0m6 0h0m3 0h0m1 0h0m4 0h0m-122 1h0m98 0h0m13 0h0m-80 1h0m18 0h0m13 0h0m14 0h0m5 0h0m3 0h0m9 0h0m2 0h0m10 0h0m5 0h0m6 0h0m-84 1h0m11 0h0m16 0h0m18 0h0m8 0h0m3 0h0m18 0h0m-62 1h0m27 0h0m1 0h0m4 0h0m8 0h0m4 0h0m16 0h0m5 0h0m7 0h0m2 0h0m-19 1h0m16 0h0m-83 1h0m4 0h0m1 0h0m16 0h0m3 0h0m1 0h0m18 0h0m7 0h0m1 0h0m1 0h0m9 0h0m11 0h0m8 0h0m-78 1h0m18 0h0m1 0h0m24 0h0m5 0h0m3 0h0m7 0h0m4 0h0m8 0h0m1 0h0m9 0h0m-77 1h0m13 0h0m12 0h0m23 0h0m4 0h0m3 0h0m20 0h0m2 0h0m2 0h0m-84 1h0m11 0h0m11 0h0m11 0h0m11 0h0m1 0h0m2 0h0m15 0h0m16 0h0m17 0h0m-77 1h0m3 0h0m5 0h0m4 0h0m2 0h0m38 0h0m16 0h0m10 0h0m-99 1h0m8 0h0m10 0h0m20 0h0m17 0h0m20 0h0m7 0h0m5 0h0m3 0h0m-64 1h0m11 0h0m38 0h0m-70 1h0m12 0h0m14 0h0m4 0h0m7 0h0m2 0h0m3 0h0m3 0h0m1 0h0m15 0h0m10 0h0m8 0h0m-75 1h0m4 0h0m14 0h0m9 0h0m47 0h0m13 0h0m-87 1h0m6 0h0m27 0h0m32 0h0m8 0h0m10 0h0m3 0h0m-90 1h0m41 0h0m35 0h0m14 0h0m-87 1h0m9 0h0m2 0h0m8 0h0m4 0h0m17 0h0m3 0h0m12 0h0m2 0h0m8 0h0m23 0h0m-86 1h0m16 0h0m2 0h0m2 0h0m2 0h0m2 0h0m12 0h0m27 0h0m3 0h0m-44 1h0m7 0h0m1 0h0m33 0h0m-55 1h0m21 0h0m6 0h0m14 0h0m-58 1h0m16 0h0m21 0h0m7 0h0m2 0h0m19 0h0m11 0h0m1 0h0m14 0h0m7 0h0m-100 1h0m6 0h0m12 0h0m10 0h0m15 0h0m4 0h0m4 0h0m1 0h0m14 0h0m1 0h0m18 0h0m4 0h0m-78 1h0m1 0h0m2 0h0m1 0h0m17 0h0m2 0h0m33 0h0m12 0h0m13 0h0m2 0h0m-88 1h0m7 0h0m1 0h0m1 0h0m5 0h0m10 0h0m3 0h0m19 0h0m3 0h0m11 0h0m13 0h0m1 0h0m4 0h0m4 0h0m9 0h0m3 0h0m-97 1h0m14 0h0m4 0h0m16 0h0m2 0h0m24 0h0m27 0h0m-82 1h0m25 0h0m3 0h0m18 0h0m37 0h0m-87 1h0m19 0h0m42 0h0m18 0h0m-82 1h0m3 0h0m8 0h0m3 0h0m4 0h0m7 0h0m7 0h0m37 0h0m18 0h0m-88 1h0m3 0h0m19 0h0m1 0h0m33 0h0m41 0h0m-19 1h0m4 0h0m5 0h0m-70 1h0m16 0h0m6 0h0m21 0h0m19 0h0m20 0h0m-69 1h0m9 0h0m59 0h0m-81 1h0m2 1h0m61 0h0m-84 1h0m73 0h0m-68 1h0m15 0h0m10 0h0m3 0h0m16 0h0m12 0h0m40 0h0m-53 1h0m8 0h0m39 0h0m-45 1h0m4 0h0m22 0h0m17 0h0m7 0h0m-144 1h0m1 0h0m112 0h0m9 0h0m7 0h0m-133 1h0m94 0h0m-34 1h0m30 0h0m13 0h0m20 0h0m13 0h0m2 0h0m6 0h0m-93 1h0m17 0h0m18 0h0m16 0h0m3 0h0m4 0h0m10 0h0m25 0h0m1 0h0m2 0h0m-152 1h0m102 0h0m10 0h0m6 0h0m23 0h0m-137 1h0m55 0h0m56 0h0m2 0h0m14 0h0m2 0h0m10 0h0m-121 1h0m76 0h0m4 0h0m3 0h0m35 0h0m-133 1h0m42 0h0m43 0h0m20 0h0m2 0h0m9 0h0m5 0h0m-31 1h0m12 0h0m10 0h0m8 0h0m12 0h0m1 0h0m2 0h0m-104 1h0m35 0h0m27 0h0m4 0h0m10 0h0m10 0h0m11 0h0m-75 1h0m38 0h0m9 0h0m-17 1h0m4 0h0m13 0h0m13 0h0m7 0h0m1 0h0m-79 1h0m18 0h0m12 0h0m16 0h0m7 0h0m29 0h0m13 0h0m-19 1h0m21 0h0m4 0h0m-73 1h0m1 0h0m3 0h0m49 0h0m1 0h0m5 0h0m3 0h0m3 0h0m3 0h0m-55 1h0m12 0h0m2 0h0m10 0h0m18 0h0m12 0h0m-48 1h0m5 0h0m11 0h0m-116 1h0m40 0h0m16 0h0m25 0h0m22 0h0m32 0h0m-125 1h0m90 0h0m12 0h0m21 0h0m9 0h0m-141 1h0m66 0h0m48 0h0m-87 1h0m110 0h0m-42 1h0m11 0h0m25 0h0m-128 1h0m113 0h0m3 0h0m17 0h0m26 0h0m1 0h0m-45 1h0m4 0h0m1 0h0m8 0h0m-88 1h0m23 0h0m2 0h0m38 0h0m36 0h0m25 0h0m1 0h0m-164 1h0m55 0h0m8 0h0m1 0h0m27 0h0m1 0h0m4 0h0m15 0h0m42 0h0m8 0h0m-93 1h0m27 0h0m13 0h0m8 0h0m20 0h0m3 0h0m1 0h0m9 0h0m-92 1h0m71 0h0m8 0h0m1 0h0m13 0h0m2 0h0m6 0h0m-157 1h0m81 0h0m6 0h0m10 0h0m8 0h0m10 0h0m37 0h0m-117 1h0m63 0h0m11 0h0m10 0h0m25 0h0m5 0h0m10 0h0m1 0h0m1 0h0m-144 1h0m48 0h0m12 0h0m15 0h0m38 0h0m30 0h0m2 0h0m1 0h0m-141 1h0m37 0h0m32 0h0m17 0h0m26 0h0m10 0h0m8 0h0m4 0h0m5 0h0m4 0h0m-113 1h0m20 0h0m20 0h0m5 0h0m21 0h0m13 0h0m16 0h0m4 0h0m1 0h0m5 0h0m11 0h0m-111 1h0m6 0h0m26 0h0m29 0h0m29 0h0m9 0h0m2 0h0m7 0h0m-115 1h0m55 0h0m3 0h0m5 0h0m48 0h0m5 0h0m1 0h0m-141 1h0m2 0h0m71 0h0m1 0h0m19 0h0m-57 1h0m33 0h0m3 0h0m9 0h0m35 0h0m1 0h0m12 0h0m7 0h0m1 0h0m2 0h0m2 0h0m-151 1h0m49 0h0m6 0h0m19 0h0m5 0h0m54 0h0m1 0h0m9 0h0m6 0h0m-146 1h0m16 0h0m30 0h0m21 0h0m4 0h0m5 0h0m10 0h0m13 0h0m30 0h0m7 0h0m5 0h0m4 0h0m1 0h0m-105 1h0m21 0h0m15 0h0m4 0h0m2 0h0m3 0h0m55 0h0m2 0h0m-112 1h0m45 0h0m23 0h0m26 0h0m11 0h0m7 0h0m-125 1h0m25 0h0m8 0h0m4 0h0m7 0h0m3 0h0m16 0h0m1 0h0m6 0h0m13 0h0m29 0h0m9 0h0m-132 1h0m28 0h0m11 0h0m3 0h0m39 0h0m12 0h0m39 0h0m-147 1h0m10 0h0m40 0h0m3 0h0m20 0h0m12 0h0m49 0h0m-112 1h0m54 0h0m8 0h0m19 0h0m31 0h0m19 0h0m-108 1h0m4 0h0m6 0h0m2 0h0m54 0h0m30 0h0m-114 1h0m19 0h0m20 0h0m1 0h0m12 0h0m9 0h0m8 0h0m14 0h0m-99 1h0m47 0h0m40 0h0m11 0h0m-72 1h0m14 0h0m9 0h0m2 0h0m5 0h0m6 0h0m30 0h0m2 0h0m-64 1h0m5 0h0m58 0h0m-80 1h0m4 0h0m25 0h0m14 0h0m19 0h0m22 0h0m-70 1h0m10 0h0m27 0h0m-35 1h0m38 0h0m6 0h0m19 0h0m-80 1h0m3 0h0m16 0h0m12 0h0m7 0h0m15 0h0m7 0h0m7 0h0m19 0h0m-55 1h0m4 0h0m10 0h0m14 0h0m27 0h0m-80 1h0m13 0h0m19 0h0m6 0h0m1 0h0m1 0h0m2 0h0m3 0h0m8 0h0m15 0h0m5 0h0m9 0h0m-62 1h0m5 0h0m11 0h0m3 0h0m9 0h0m3 0h0m12 0h0m8 0h0m12 0h0m1 0h0m4 0h0m-92 1h0m11 0h0m16 0h0m11 0h0m3 0h0m4 0h0m13 0h0m27 0h0m28 0h0m-135 1h0m4 0h0m14 0h0m19 0h0m2 0h0m5 0h0m24 0h0m7 0h0m29 0h0m1 0h0m3 0h0m35 0h0m-127 1h0m5 0h0m15 0h0m13 0h0m5 0h0m8 0h0m8 0h0m3 0h0m17 0h0m23 0h0m-85 1h0m9 0h0m5 0h0m25 0h0m13 0h0m12 0h0m2 0h0m-74 1h0m34 0h0m6 0h0m1 0h0m20 0h0m6 0h0m51 0h0m3 0h0m-108 1h0m7 0h0m26 0h0m14 0h0m6 0h0m6 0h0m-62 1h0m3 0h0m18 0h0m6 0h0m1 0h0m8 0h0m4 0h0m24 0h0m-67 1h0m3 0h0m27 0h0m5 0h0m11 0h0m11 0h0m11 0h0m43 0h0m1 0h0m-140 1h0m40 0h0m6 0h0m10 0h0m10 0h0m14 0h0m4 0h0m43 0h0m-114 1h0m31 0h0m14 0h0m9 0h0m8 0h0m2 0h0m51 0h0m-130 1h0m10 0h0m3 0h0m42 0h0m34 0h0m-84 1h0m9 0h0m10 0h0m12 0h0m3 0h0m16 0h0m12 0h0m8 0h0m-57 1h0m13 0h0m10 0h0m21 0h0m25 0h0m6 0h0m-43 1h0m5 0h0m5 0h0m9 0h0m6 0h0m10 0h0m3 0h0m-38 1h0m26 0h0m14 0h0m-78 1h0m22 0h0m3 0h0m14 0h0m15 0h0m27 0h0m-70 1h0m12 0h0m17 0h0m41 0h0m24 0h0m2 0h0m1 0h0m-82 1h0m10 0h0m1 0h0m3 0h0m3 0h0m13 0h0m15 0h0m8 0h0m26 0h0m-107 1h0m78 0h0m1 0h0m6 0h0m21 0h0m-47 1h0m1 0h0m19 0h0m29 0h0m-79 1h0m17 0h0m24 0h0m4 0h0m-41 1h0m3 0h0m25 0h0m6 0h0m8 0h0m4 0h0m1 0h0m2 0h0m4 0h0m20 0h0m-69 1h0m4 0h0m10 0h0m5 0h0m14 0h0m13 0h0m-54 1h0m11 0h0m2 0h0m5 0h0m1 0h0m25 0h0m7 0h0m31 0h0m-72 1h0m8 0h0m26 0h0m8 0h0m2 0h0m-20 1h0m48 0h0m-45 1h0m3 0h0m42 0h0m-56 1h0m20 0h0m31 0h0m7 0h0m-64 2h0m5 0h0m1 0h0m8 0h0m5 0h0m44 0h0m-49 1h0m-10 1h0m2 0h0m12 0h0m-6 1h0m1 0h0m-37 2h0m3 1h0m-1 1h0m31 0h0m-31 1h0m2 0h0m25 0h0m-2 1h0m2 1h0m-3 2h0m1 0h0m13 0h0m-17 3h0m6 0h0m15 2h0m0 1h0m-4 1h0m4 0h0m-17 1h0m10 2h0m6 0h0m7 0h0m-9 1h0m10 2h0"/>
<path transform="scale(.5)" stroke="#5CBEC6" stroke-width="2.32" stroke-linecap="round" fill="none" d="M544 88h0m-2 2h0m3 2h0m-19 1h0m16 1h0m-15 2h0m-3 2h0m18 1h0m-20 1h0m15 0h0m-11 1h0m14 1h0m-13 2h0m5 0h0m-7 1h0m4 1h0m2 0h0m6 1h0m13 5h0m22 1h0m-39 1h0m15 1h0m-12 1h0m-16 2h0m15 1h0m24 3h0m-41 4h0m2 0h0m17 0h0m2 0h0m8 1h0m-60 1h0m58 0h0m15 0h0m-36 1h0m1 0h0m5 0h0m8 0h0m-22 1h0m40 0h0m12 0h0m-38 1h0m32 0h0m18 0h0m-57 1h0m3 0h0m18 0h0m5 0h0m-12 1h0m4 0h0m-12 2h0m30 0h0m17 0h0m-61 1h0m12 0h0m37 0h0m26 0h0m-63 1h0m2 0h0m9 0h0m28 0h0m3 0h0m-45 1h0m19 0h0m18 0h0m-23 1h0m47 0h0m12 0h0m-121 2h0m51 0h0m9 0h0m2 0h0m3 0h0m6 0h0m4 0h0m7 0h0m-42 1h0m17 0h0m7 0h0m-20 1h0m17 0h0m59 0h0m-56 1h0m17 0h0m12 0h0m-59 1h0m29 0h0m7 0h0m26 1h0m-58 1h0m56 0h0m-60 1h0m1 0h0m12 0h0m7 0h0m7 0h0m-30 1h0m21 0h0m9 0h0m42 0h0m-50 1h0m11 0h0m-19 1h0m4 0h0m14 0h0m1 0h0m3 0h0m21 0h0m-54 1h0m8 0h0m61 0h0m-74 1h0m16 0h0m2 0h0m2 0h0m1 0h0m1 0h0m3 0h0m21 0h0m5 0h0m1 0h0m29 0h0m12 0h0m-77 1h0m13 0h0m4 0h0m14 0h0m13 0h0m9 0h0m-44 1h0m1 0h0m2 0h0m6 0h0m4 0h0m12 0h0m9 0h0m7 0h0m32 0h0m-83 1h0m11 0h0m4 0h0m6 0h0m1 0h0m2 0h0m1 0h0m49 0h0m2 0h0m-81 1h0m8 0h0m11 0h0m8 0h0m2 0h0m4 0h0m7 0h0m11 0h0m12 0h0m-70 1h0m13 0h0m11 0h0m20 0h0m2 0h0m4 0h0m1 0h0m2 0h0m15 0h0m11 0h0m5 0h0m-61 1h0m14 0h0m18 0h0m5 0h0m13 0h0m3 0h0m-77 1h0m8 0h0m17 0h0m23 0h0m3 0h0m8 0h0m8 0h0m4 0h0m5 0h0m3 0h0m11 0h0m-73 1h0m13 0h0m21 0h0m4 0h0m3 0h0m15 0h0m4 0h0m3 0h0m3 0h0m-77 1h0m6 0h0m1 0h0m19 0h0m20 0h0m17 0h0m1 0h0m-57 1h0m1 0h0m1 0h0m33 0h0m12 0h0m2 0h0m6 0h0m4 0h0m1 0h0m2 0h0m19 0h0m-87 1h0m5 0h0m10 0h0m7 0h0m46 0h0m1 0h0m11 0h0m7 0h0m-95 1h0m15 0h0m12 0h0m26 0h0m33 0h0m9 0h0m-83 1h0m28 0h0m13 0h0m18 0h0m17 0h0m-81 1h0m2 0h0m37 0h0m12 0h0m14 0h0m-46 1h0m2 0h0m7 0h0m31 0h0m6 0h0m-62 1h0m20 0h0m15 0h0m6 0h0m22 0h0m-77 1h0m17 0h0m2 0h0m16 0h0m18 0h0m-38 1h0m6 0h0m25 0h0m3 0h0m5 0h0m22 0h0m8 0h0m18 0h0m-91 1h0m3 0h0m35 0h0m1 0h0m12 0h0m1 0h0m2 0h0m2 0h0m17 0h0m-70 1h0m20 0h0m6 0h0m6 0h0m19 0h0m10 0h0m-63 1h0m1 0h0m6 0h0m8 0h0m15 0h0m57 0h0m-116 1h0m18 0h0m6 0h0m59 0h0m19 0h0m4 0h0m-107 1h0m2 0h0m3 0h0m1 0h0m14 0h0m1 0h0m22 0h0m17 0h0m27 0h0m18 0h0m3 0h0m-132 1h0m1 0h0m4 0h0m30 0h0m7 0h0m4 0h0m17 0h0m26 0h0m9 0h0m17 0h0m25 0h0m-122 1h0m7 0h0m4 0h0m4 0h0m4 0h0m15 0h0m9 0h0m2 0h0m1 0h0m50 0h0m1 0h0m25 0h0m-143 1h0m2 0h0m22 0h0m6 0h0m1 0h0m9 0h0m12 0h0m4 0h0m6 0h0m13 0h0m4 0h0m3 0h0m1 0h0m2 0h0m3 0h0m3 0h0m1 0h0m-74 1h0m24 0h0m9 0h0m14 0h0m10 0h0m7 0h0m14 0h0m26 0h0m10 0h0m-130 1h0m19 0h0m26 0h0m10 0h0m13 0h0m8 0h0m17 0h0m13 0h0m29 0h0m1 0h0m4 0h0m-140 1h0m18 0h0m9 0h0m11 0h0m8 0h0m5 0h0m1 0h0m8 0h0m33 0h0m2 0h0m9 0h0m12 0h0m1 0h0m24 0h0m-141 1h0m33 0h0m1 0h0m31 0h0m8 0h0m2 0h0m6 0h0m24 0h0m1 0h0m21 0h0m11 0h0m-142 1h0m3 0h0m16 0h0m1 0h0m7 0h0m4 0h0m3 0h0m1 0h0m6 0h0m12 0h0m10 0h0m6 0h0m1 0h0m4 0h0m3 0h0m26 0h0m6 0h0m23 0h0m2 0h0m-146 1h0m10 0h0m22 0h0m17 0h0m9 0h0m21 0h0m11 0h0m12 0h0m6 0h0m3 0h0m-110 1h0m2 0h0m2 0h0m3 0h0m44 0h0m23 0h0m2 0h0m6 0h0m4 0h0m28 0h0m-116 1h0m4 0h0m13 0h0m35 0h0m1 0h0m4 0h0m7 0h0m2 0h0m1 0h0m1 0h0m26 0h0m10 0h0m6 0h0m2 0h0m2 0h0m14 0h0m4 0h0m7 0h0m-128 1h0m9 0h0m26 0h0m8 0h0m8 0h0m24 0h0m56 0h0m2 0h0m6 0h0m7 0h0m-128 1h0m4 0h0m12 0h0m11 0h0m5 0h0m6 0h0m21 0h0m4 0h0m17 0h0m18 0h0m12 0h0m4 0h0m6 0h0m3 0h0m-156 1h0m19 0h0m4 0h0m35 0h0m1 0h0m33 0h0m7 0h0m27 0h0m11 0h0m1 0h0m8 0h0m-136 1h0m18 0h0m17 0h0m4 0h0m14 0h0m5 0h0m13 0h0m6 0h0m4 0h0m3 0h0m30 0h0m-123 1h0m2 0h0m5 0h0m4 0h0m3 0h0m16 0h0m4 0h0m4 0h0m6 0h0m2 0h0m1 0h0m5 0h0m1 0h0m39 0h0m22 0h0m25 0h0m12 0h0m-115 1h0m3 0h0m2 0h0m5 0h0m5 0h0m7 0h0m22 0h0m3 0h0m2 0h0m7 0h0m25 0h0m36 0h0m-138 1h0m20 0h0m2 0h0m1 0h0m1 0h0m13 0h0m1 0h0m13 0h0m16 0h0m5 0h0m9 0h0m4 0h0m2 0h0m4 0h0m9 0h0m22 0h0m14 0h0m1 0h0m-151 1h0m9 0h0m5 0h0m16 0h0m5 0h0m12 0h0m11 0h0m2 0h0m17 0h0m2 0h0m4 0h0m27 0h0m2 0h0m2 0h0m22 0h0m7 0h0m7 0h0m-122 1h0m3 0h0m8 0h0m10 0h0m3 0h0m2 0h0m9 0h0m1 0h0m4 0h0m1 0h0m11 0h0m1 0h0m6 0h0m3 0h0m1 0h0m61 0h0m-146 1h0m5 0h0m2 0h0m11 0h0m5 0h0m21 0h0m1 0h0m1 0h0m19 0h0m12 0h0m2 0h0m1 0h0m41 0h0m12 0h0m5 0h0m-146 1h0m1 0h0m6 0h0m9 0h0m15 0h0m13 0h0m15 0h0m2 0h0m6 0h0m12 0h0m10 0h0m61 0h0m-143 1h0m3 0h0m1 0h0m1 0h0m14 0h0m21 0h0m19 0h0m4 0h0m13 0h0m1 0h0m11 0h0m1 0h0m13 0h0m3 0h0m11 0h0m22 0h0m5 0h0m-143 1h0m20 0h0m9 0h0m6 0h0m7 0h0m2 0h0m16 0h0m5 0h0m1 0h0m1 0h0m2 0h0m13 0h0m32 0h0m20 0h0m-138 1h0m28 0h0m3 0h0m2 0h0m9 0h0m5 0h0m7 0h0m4 0h0m3 0h0m14 0h0m3 0h0m4 0h0m2 0h0m11 0h0m23 0h0m24 0h0m-144 1h0m23 0h0m9 0h0m6 0h0m5 0h0m2 0h0m5 0h0m8 0h0m6 0h0m2 0h0m1 0h0m11 0h0m23 0h0m18 0h0m-109 1h0m1 0h0m1 0h0m22 0h0m6 0h0m5 0h0m8 0h0m7 0h0m2 0h0m2 0h0m5 0h0m5 0h0m12 0h0m5 0h0m10 0h0m5 0h0m11 0h0m20 0h0m-136 1h0m1 0h0m2 0h0m25 0h0m1 0h0m4 0h0m12 0h0m10 0h0m8 0h0m20 0h0m1 0h0m21 0h0m7 0h0m26 0h0m-137 1h0m23 0h0m6 0h0m23 0h0m23 0h0m2 0h0m7 0h0m9 0h0m5 0h0m15 0h0m-115 1h0m2 0h0m22 0h0m6 0h0m5 0h0m11 0h0m3 0h0m1 0h0m1 0h0m3 0h0m3 0h0m14 0h0m12 0h0m3 0h0m6 0h0m15 0h0m6 0h0m-82 1h0m10 0h0m7 0h0m3 0h0m7 0h0m1 0h0m1 0h0m1 0h0m3 0h0m10 0h0m2 0h0m20 0h0m19 0h0m8 0h0m-117 1h0m28 0h0m4 0h0m6 0h0m17 0h0m11 0h0m7 0h0m2 0h0m4 0h0m5 0h0m4 0h0m6 0h0m5 0h0m4 0h0m12 0h0m22 0h0m-132 1h0m17 0h0m7 0h0m9 0h0m4 0h0m2 0h0m3 0h0m6 0h0m3 0h0m9 0h0m7 0h0m12 0h0m14 0h0m22 0h0m18 0h0m-137 1h0m3 0h0m13 0h0m3 0h0m13 0h0m8 0h0m6 0h0m5 0h0m1 0h0m17 0h0m5 0h0m9 0h0m5 0h0m-66 1h0m34 0h0m2 0h0m3 0h0m8 0h0m4 0h0m13 0h0m34 0h0m-113 1h0m19 0h0m2 0h0m26 0h0m12 0h0m1 0h0m11 0h0m1 0h0m3 0h0m2 0h0m6 0h0m3 0h0m6 0h0m7 0h0m27 0h0m24 0h0m-143 1h0m14 0h0m7 0h0m7 0h0m17 0h0m3 0h0m1 0h0m3 0h0m3 0h0m10 0h0m15 0h0m15 0h0m2 0h0m24 0h0m-119 1h0m34 0h0m1 0h0m31 0h0m3 0h0m-70 1h0m4 0h0m31 0h0m6 0h0m19 0h0m3 0h0m12 0h0m46 0h0m34 0h0m-142 1h0m4 0h0m16 0h0m6 0h0m6 0h0m1 0h0m8 0h0m6 0h0m12 0h0m10 0h0m12 0h0m2 0h0m-73 1h0m10 0h0m6 0h0m2 0h0m20 0h0m5 0h0m4 0h0m76 0h0m-143 1h0m11 0h0m3 0h0m10 0h0m1 0h0m29 0h0m23 0h0m-65 1h0m20 0h0m2 0h0m5 0h0m1 0h0m17 0h0m12 0h0m7 0h0m5 0h0m8 0h0m-90 1h0m21 0h0m54 0h0m-71 1h0m2 0h0m7 0h0m10 0h0m4 0h0m27 0h0m31 0h0m16 0h0m-105 1h0m16 0h0m1 0h0m4 0h0m3 0h0m4 0h0m7 0h0m10 0h0m44 0h0m-73 1h0m1 0h0m11 0h0m1 0h0m10 0h0m5 0h0m37 0h0m24 0h0m3 0h0m3 0h0m5 0h0m-105 1h0m7 0h0m14 0h0m19 0h0m11 0h0m1 0h0m-63 1h0m1 0h0m1 0h0m3 0h0m17 0h0m2 0h0m21 0h0m1 0h0m1 0h0m4 0h0m1 0h0m5 0h0m56 0h0m5 0h0m-121 1h0m4 0h0m14 0h0m6 0h0m12 0h0m32 0h0m33 0h0m-92 1h0m3 0h0m3 0h0m7 0h0m7 0h0m29 0h0m38 0h0m-89 1h0m17 0h0m9 0h0m6 0h0m4 0h0m2 0h0m15 0h0m6 0h0m46 0h0m3 0h0m-93 1h0m1 0h0m1 0h0m5 0h0m5 0h0m13 0h0m7 0h0m13 0h0m17 0h0m10 0h0m24 0h0m3 0h0m-115 1h0m43 0h0m7 0h0m2 0h0m10 0h0m2 0h0m15 0h0m2 0h0m12 0h0m17 0h0m-102 1h0m10 0h0m10 0h0m1 0h0m3 0h0m25 0h0m22 0h0m7 0h0m19 0h0m7 0h0m-114 1h0m8 0h0m17 0h0m73 0h0m-74 1h0m5 0h0m8 0h0m1 0h0m11 0h0m4 0h0m20 0h0m3 0h0m7 0h0m1 0h0m3 0h0m12 0h0m1 0h0m11 0h0m1 0h0m6 0h0m-101 1h0m5 0h0m2 0h0m6 0h0m7 0h0m23 0h0m15 0h0m9 0h0m22 0h0m1 0h0m11 0h0m3 0h0m-122 1h0m1 0h0m4 0h0m7 0h0m17 0h0m19 0h0m64 0h0m-107 1h0m9 0h0m27 0h0m7 0h0m19 0h0m7 0h0m-73 1h0m9 0h0m7 0h0m12 0h0m10 0h0m9 0h0m11 0h0m2 0h0m8 0h0m2 0h0m15 0h0m14 0h0m6 0h0m16 0h0m22 0h0m-141 1h0m9 0h0m2 0h0m15 0h0m3 0h0m2 0h0m31 0h0m13 0h0m34 0h0m2 0h0m-106 1h0m25 0h0m1 0h0m17 0h0m12 0h0m2 0h0m10 0h0m1 0h0m3 0h0m1 0h0m3 0h0m9 0h0m14 0h0m-103 1h0m21 0h0m1 0h0m3 0h0m3 0h0m10 0h0m13 0h0m63 0h0m-111 1h0m14 0h0m3 0h0m28 0h0m16 0h0m4 0h0m3 0h0m3 0h0m9 0h0m10 0h0m15 0h0m5 0h0m22 0h0m4 0h0m-128 1h0m4 0h0m4 0h0m3 0h0m27 0h0m22 0h0m34 0h0m1 0h0m6 0h0m19 0h0m-130 1h0m9 0h0m11 0h0m2 0h0m37 0h0m70 0h0m5 0h0m7 0h0m-106 1h0m7 0h0m4 0h0m11 0h0m46 0h0m28 0h0m2 0h0m-124 1h0m4 0h0m1 0h0m2 0h0m1 0h0m7 0h0m60 0h0m50 0h0m-111 1h0m4 0h0m3 0h0m29 0h0m17 0h0m1 0h0m4 0h0m3 0h0m-83 1h0m10 0h0m3 0h0m8 0h0m9 0h0m1 0h0m16 0h0m-49 1h0m1 0h0m1 0h0m3 0h0m11 0h0m9 0h0m1 0h0m6 0h0m13 0h0m11 0h0m6 0h0m8 0h0m1 0h0m65 0h0m-112 1h0m28 0h0m3 0h0m14 0h0m27 0h0m-90 1h0m4 0h0m2 0h0m3 0h0m12 0h0m5 0h0m24 0h0m17 0h0m6 0h0m-72 1h0m5 0h0m33 0h0m19 0h0m12 0h0m53 0h0m-123 1h0m12 0h0m13 0h0m41 0h0m21 0h0m-89 1h0m1 0h0m2 0h0m8 0h0m2 0h0m5 0h0m1 0h0m6 0h0m26 0h0m23 0h0m12 0h0m-77 1h0m28 0h0m20 0h0m18 0h0m-42 1h0m2 0h0m20 0h0m9 0h0m14 0h0m1 0h0m5 0h0m6 0h0m-68 1h0m14 0h0m13 0h0m-45 1h0m8 0h0m2 0h0m9 0h0m24 0h0m1 0h0m31 0h0m-50 1h0m2 0h0m33 0h0m-51 1h0m25 0h0m16 0h0m6 0h0m2 0h0m6 0h0m-50 1h0m13 0h0m1 0h0m56 0h0m-65 1h0m17 0h0m-21 1h0m30 0h0m2 0h0m23 0h0m7 0h0m-64 1h0m24 0h0m46 0h0m4 0h0m-70 1h0m6 0h0m1 0h0m43 0h0m9 0h0m-62 1h0m2 0h0m69 0h0m-20 1h0m-43 1h0m45 0h0m-2 1h0m2 0h0m-44 1h0m30 0h0m9 0h0m-34 1h0m24 0h0m3 0h0m-36 1h0m8 0h0m41 0h0m-40 1h0m26 0h0m9 0h0m-8 1h0m-28 1h0m-5 1h0m21 1h0m1 1h0m3 0h0m1 1h0m-4 1h0m18 0h0m-20 1h0m5 0h0m18 0h0m-15 1h0m6 2h0m1 0h0m-8 1h0m6 0h0m7 0h0m1 0h0m-5 1h0m11 1h0m3 1h0m-4 1h0m6 0h0m-15 1h0m13 1h0m-7 2h0m6 0h0m1 2h0"/>
<path transform="scale(.5)" stroke="#E47A72" stroke-width="2.32" stroke-linecap="round" fill="none" d="M541 89h0m8 0h0m-19 1h0m5 1h0m3 0h0m3 0h0m1 0h0m3 0h0m-11 1h0m4 0h0m11 0h0m-22 1h0m7 0h0m-8 1h0m8 0h0m-1 1h0m-3 2h0m8 0h0m-3 1h0m3 0h0m3 0h0m5 0h0m6 0h0m1 0h0m-22 1h0m-2 1h0m26 0h0m-35 1h0m3 0h0m2 0h0m10 0h0m-8 1h0m7 0h0m2 0h0m6 0h0m-23 1h0m3 0h0m12 0h0m20 0h0m-30 1h0m12 0h0m1 0h0m1 0h0m12 0h0m-28 1h0m10 0h0m8 0h0m1 0h0m2 0h0m-15 1h0m6 0h0m2 0h0m10 0h0m-19 1h0m7 0h0m15 0h0m-32 1h0m19 0h0m22 0h0m-38 1h0m9 0h0m3 0h0m5 0h0m4 0h0m12 0h0m12 0h0m-40 1h0m9 0h0m2 0h0m5 0h0m8 0h0m7 0h0m-31 1h0m5 0h0m12 0h0m5 0h0m-25 1h0m12 0h0m4 0h0m9 0h0m5 0h0m3 0h0m-35 1h0m11 0h0m14 0h0m13 1h0m2 0h0m4 0h0m10 0h0m-59 1h0m6 0h0m-6 1h0m7 0h0m11 0h0m8 0h0m6 0h0m17 0h0m8 0h0m-43 1h0m27 0h0m18 0h0m-57 1h0m3 0h0m-6 1h0m44 0h0m14 0h0m-4 1h0m4 0h0m-53 1h0m1 0h0m34 0h0m14 0h0m-34 1h0m42 0h0m-60 1h0m41 0h0m8 0h0m5 0h0m1 0h0m3 0h0m5 0h0m-65 1h0m24 0h0m8 0h0m9 0h0m1 0h0m8 0h0m12 0h0m4 0h0m-12 1h0m3 0h0m16 0h0m-69 1h0m17 0h0m2 0h0m6 0h0m25 0h0m4 0h0m4 0h0m5 0h0m-59 1h0m6 0h0m12 0h0m4 0h0m3 0h0m4 0h0m3 0h0m7 0h0m3 0h0m8 0h0m-58 1h0m3 0h0m5 0h0m5 0h0m8 0h0m1 0h0m2 0h0m11 0h0m4 0h0m14 0h0m3 0h0m3 0h0m1 0h0m1 0h0m-45 1h0m32 0h0m2 0h0m8 0h0m2 0h0m5 0h0m5 0h0m-71 1h0m2 0h0m33 0h0m17 0h0m1 0h0m2 0h0m6 0h0m4 0h0m5 0h0m5 0h0m-72 1h0m2 0h0m18 0h0m13 0h0m1 0h0m2 0h0m12 0h0m4 0h0m3 0h0m1 0h0m-54 1h0m3 0h0m24 0h0m13 0h0m2 0h0m4 0h0m1 0h0m7 0h0m13 0h0m-74 1h0m12 0h0m34 0h0m16 0h0m11 0h0m6 0h0m-63 1h0m35 0h0m3 0h0m2 0h0m2 0h0m10 0h0m-35 1h0m21 0h0m6 0h0m-50 1h0m1 0h0m17 0h0m13 0h0m9 0h0m22 0h0m2 0h0m-57 1h0m16 0h0m1 0h0m26 0h0m-55 1h0m1 0h0m29 0h0m34 0h0m9 0h0m4 0h0m-79 1h0m14 0h0m4 0h0m7 0h0m1 0h0m5 0h0m3 0h0m2 0h0m3 0h0m6 0h0m4 0h0m23 0h0m8 0h0m-71 1h0m1 0h0m29 0h0m3 0h0m1 0h0m9 0h0m22 0h0m-76 1h0m20 0h0m43 0h0m7 0h0m2 0h0m3 0h0m6 0h0m-74 1h0m21 0h0m1 0h0m14 0h0m26 0h0m12 0h0m-88 1h0m32 0h0m1 0h0m6 0h0m11 0h0m5 0h0m18 0h0m2 0h0m5 0h0m7 0h0m-62 1h0m7 0h0m19 0h0m32 0h0m-58 1h0m4 0h0m2 0h0m9 0h0m14 0h0m7 0h0m3 0h0m3 0h0m4 0h0m1 0h0m13 0h0m-71 1h0m6 0h0m27 0h0m31 0h0m9 0h0m2 0h0m-85 1h0m12 0h0m5 0h0m30 0h0m27 0h0m7 0h0m1 0h0m5 0h0m-85 1h0m1 0h0m8 0h0m34 0h0m6 0h0m2 0h0m3 0h0m1 0h0m4 0h0m8 0h0m1 0h0m7 0h0m2 0h0m1 0h0m-64 1h0m3 0h0m20 0h0m7 0h0m10 0h0m10 0h0m6 0h0m5 0h0m2 0h0m12 0h0m2 0h0m-92 1h0m32 0h0m21 0h0m7 0h0m4 0h0m4 0h0m21 0h0m3 0h0m-94 1h0m1 0h0m38 0h0m6 0h0m8 0h0m8 0h0m31 0h0m-83 1h0m25 0h0m2 0h0m9 0h0m14 0h0m6 0h0m8 0h0m17 0h0m-67 1h0m2 0h0m20 0h0m18 0h0m10 0h0m14 0h0m4 0h0m-90 1h0m17 0h0m12 0h0m12 0h0m51 0h0m-98 1h0m22 0h0m3 0h0m9 0h0m2 0h0m21 0h0m4 0h0m2 0h0m24 0h0m8 0h0m-89 1h0m18 0h0m12 0h0m1 0h0m3 0h0m1 0h0m8 0h0m2 0h0m5 0h0m11 0h0m-61 1h0m8 0h0m1 0h0m46 0h0m6 0h0m13 0h0m16 0h0m-91 1h0m8 0h0m12 0h0m11 0h0m33 0h0m18 0h0m1 0h0m6 0h0m-62 1h0m1 0h0m2 0h0m16 0h0m3 0h0m9 0h0m15 0h0m7 0h0m13 0h0m-85 1h0m31 0h0m32 0h0m-59 1h0m4 0h0m1 0h0m21 0h0m10 0h0m3 0h0m2 0h0m1 0h0m-48 1h0m7 0h0m2 0h0m3 0h0m29 0h0m34 0h0m13 0h0m-96 1h0m6 0h0m5 0h0m12 0h0m6 0h0m2 0h0m11 0h0m5 0h0m2 0h0m1 0h0m26 0h0m10 0h0m-75 1h0m5 0h0m2 0h0m11 0h0m1 0h0m6 0h0m57 0h0m-92 1h0m6 0h0m25 0h0m5 0h0m3 0h0m2 0h0m5 0h0m1 0h0m6 0h0m10 0h0m5 0h0m1 0h0m4 0h0m22 0h0m3 0h0m-103 1h0m12 0h0m3 0h0m4 0h0m10 0h0m7 0h0m3 0h0m31 0h0m18 0h0m-85 1h0m8 0h0m11 0h0m14 0h0m6 0h0m-36 1h0m6 0h0m19 0h0m12 0h0m12 0h0m43 0h0m-96 1h0m14 0h0m5 0h0m9 0h0m4 0h0m21 0h0m29 0h0m1 0h0m12 0h0m1 0h0m1 0h0m1 0h0m-74 1h0m7 0h0m14 0h0m9 0h0m10 0h0m-65 1h0m12 0h0m21 0h0m3 0h0m8 0h0m3 0h0m14 0h0m20 0h0m6 0h0m-74 1h0m3 0h0m3 0h0m73 0h0m5 0h0m-88 1h0m32 0h0m3 0h0m30 0h0m5 0h0m12 0h0m7 0h0m-66 1h0m7 0h0m5 0h0m27 0h0m8 0h0m1 0h0m-74 1h0m16 0h0m28 0h0m45 0h0m-64 1h0m17 0h0m7 0h0m2 0h0m3 0h0m7 0h0m-47 1h0m15 0h0m1 0h0m4 0h0m1 0h0m2 0h0m3 0h0m8 0h0m36 0h0m5 0h0m1 0h0m-72 1h0m62 0h0m2 0h0m-47 1h0m28 0h0m6 0h0m11 0h0m10 0h0m1 0h0m-88 1h0m1 0h0m15 0h0m2 0h0m11 0h0m1 0h0m16 0h0m14 0h0m2 0h0m22 0h0m2 0h0m-146 1h0m32 0h0m53 0h0m1 0h0m6 0h0m4 0h0m13 0h0m30 0h0m10 0h0m-70 1h0m30 0h0m33 0h0m4 0h0m-137 1h0m21 0h0m23 0h0m2 0h0m6 0h0m20 0h0m43 0h0m-31 1h0m4 0h0m10 0h0m18 0h0m-36 1h0m23 0h0m-121 1h0m3 0h0m43 0h0m18 0h0m16 0h0m49 0h0m1 0h0m9 0h0m4 0h0m9 0h0m-104 1h0m29 0h0m30 0h0m3 0h0m6 0h0m19 0h0m3 0h0m12 0h0m5 0h0m-29 1h0m10 0h0m1 0h0m-51 1h0m24 0h0m26 0h0m12 0h0m-141 1h0m46 0h0m1 0h0m24 0h0m19 0h0m8 0h0m22 0h0m11 0h0m5 0h0m4 0h0m3 0h0m3 0h0m-154 1h0m40 0h0m25 0h0m55 0h0m21 0h0m10 0h0m-93 1h0m12 0h0m41 0h0m18 0h0m16 0h0m7 0h0m-54 1h0m7 0h0m41 0h0m6 0h0m-141 1h0m38 0h0m25 0h0m4 0h0m10 0h0m10 0h0m16 0h0m7 0h0m21 0h0m8 0h0m2 0h0m-51 1h0m2 0h0m47 0h0m-50 1h0m1 0h0m2 0h0m12 0h0m1 0h0m29 0h0m-148 1h0m73 0h0m5 0h0m2 0h0m2 0h0m23 0h0m1 0h0m2 2h0m3 0h0m1 0h0m4 0h0m3 0h0m29 0h0m-138 1h0m3 0h0m3 0h0m115 0h0m10 0h0m3 0h0m-41 1h0m19 0h0m1 0h0m17 0h0m-40 1h0m5 0h0m33 0h0m-130 1h0m43 0h0m33 0h0m31 0h0m3 0h0m27 0h0m-65 2h0m19 0h0m26 0h0m2 0h0m36 0h0m5 0h0m-165 1h0m143 0h0m-141 1h0m117 0h0m1 0h0m36 0h0m6 0h0m4 0h0m7 0h0m-169 1h0m48 0h0m73 0h0m2 0h0m30 0h0m1 0h0m11 0h0m1 0h0m-168 1h0m94 0h0m4 0h0m11 0h0m9 0h0m3 0h0m14 0h0m37 0h0m-102 1h0m14 0h0m32 0h0m2 0h0m3 0h0m4 0h0m14 0h0m2 0h0m13 0h0m5 0h0m4 0h0m3 0h0m-168 1h0m59 0h0m61 0h0m3 0h0m14 0h0m2 0h0m14 0h0m19 0h0m1 0h0m-85 1h0m14 0h0m34 0h0m17 0h0m15 0h0m-79 1h0m17 0h0m2 0h0m5 0h0m5 0h0m19 0h0m19 0h0m4 0h0m2 0h0m1 0h0m3 0h0m-122 1h0m45 0h0m8 0h0m17 0h0m11 0h0m2 0h0m1 0h0m8 0h0m3 0h0m-100 1h0m58 0h0m17 0h0m1 0h0m10 0h0m3 0h0m12 0h0m20 0h0m2 0h0m5 0h0m-86 1h0m13 0h0m24 0h0m19 0h0m20 0h0m18 0h0m-94 1h0m17 0h0m43 0h0m11 0h0m1 0h0m3 0h0m11 0h0m3 0h0m-115 1h0m29 0h0m17 0h0m52 0h0m6 0h0m12 0h0m4 0h0m-110 1h0m36 0h0m1 0h0m1 0h0m11 0h0m41 0h0m3 0h0m1 0h0m8 0h0m8 0h0m-149 1h0m61 0h0m13 0h0m7 0h0m12 0h0m33 0h0m8 0h0m3 0h0m6 0h0m-153 1h0m34 0h0m6 0h0m2 0h0m48 0h0m5 0h0m44 0h0m2 0h0m4 0h0m-144 1h0m4 0h0m20 0h0m36 0h0m21 0h0m10 0h0m22 0h0m20 0h0m5 0h0m5 0h0m4 0h0m-139 1h0m15 0h0m27 0h0m3 0h0m29 0h0m53 0h0m12 0h0m2 0h0m-109 1h0m17 0h0m6 0h0m2 0h0m19 0h0m6 0h0m48 0h0m6 0h0m2 0h0m-128 1h0m36 0h0m6 0h0m36 0h0m17 0h0m24 0h0m4 0h0m17 0h0m-103 1h0m7 0h0m13 0h0m25 0h0m34 0h0m-93 1h0m11 0h0m17 0h0m1 0h0m21 0h0m-54 1h0m38 0h0m15 0h0m3 0h0m4 0h0m-70 1h0m31 0h0m11 0h0m52 0h0m17 0h0m-138 1h0m2 0h0m36 0h0m42 0h0m27 0h0m-67 1h0m12 0h0m7 0h0m5 0h0m11 0h0m3 0h0m4 0h0m23 0h0m13 0h0m-104 1h0m23 0h0m5 0h0m6 0h0m1 0h0m5 0h0m7 0h0m11 0h0m4 0h0m2 0h0m16 0h0m19 0h0m-71 1h0m17 0h0m-19 1h0m5 0h0m72 0h0m-115 1h0m24 0h0m25 0h0m10 0h0m-53 1h0m32 0h0m8 0h0m18 0h0m2 0h0m7 0h0m14 0h0m22 0h0m-106 1h0m59 0h0m25 0h0m21 0h0m-97 1h0m28 0h0m16 0h0m24 0h0m10 0h0m26 0h0m-22 1h0m1 0h0m-56 1h0m44 0h0m27 0h0m29 0h0m4 0h0m-116 1h0m10 0h0m17 0h0m7 0h0m5 0h0m46 0h0m-92 1h0m19 0h0m2 0h0m31 0h0m19 0h0m2 0h0m45 0h0m3 0h0m-127 1h0m7 0h0m5 0h0m18 0h0m6 0h0m2 0h0m14 0h0m10 0h0m8 0h0m3 0h0m5 0h0m2 0h0m17 0h0m-62 1h0m6 0h0m12 0h0m19 0h0m5 0h0m-48 1h0m4 0h0m35 0h0m13 0h0m15 0h0m-106 1h0m33 0h0m5 0h0m17 0h0m4 0h0m4 0h0m6 0h0m27 0h0m-79 1h0m2 0h0m2 0h0m8 0h0m21 0h0m2 0h0m18 0h0m1 0h0m4 0h0m-63 1h0m21 0h0m22 0h0m21 0h0m51 0h0m-46 1h0m9 0h0m3 0h0m30 0h0m6 0h0m-86 1h0m11 0h0m25 0h0m8 0h0m-59 1h0m9 0h0m3 0h0m7 0h0m13 0h0m24 0h0m-48 1h0m9 0h0m1 0h0m2 0h0m3 0h0m6 0h0m31 0h0m-76 1h0m13 0h0m5 0h0m17 0h0m4 0h0m12 0h0m25 0h0m-39 1h0m4 0h0m-28 1h0m12 0h0m22 0h0m1 0h0m31 0h0m-29 1h0m6 0h0m48 0h0m-80 1h0m39 0h0m3 0h0m3 0h0m-46 1h0m2 0h0m7 0h0m9 0h0m6 0h0m4 0h0m16 0h0m35 0h0m2 0h0m2 0h0m-86 1h0m3 0h0m6 0h0m5 0h0m5 0h0m2 0h0m1 0h0m6 0h0m6 0h0m12 0h0m6 0h0m4 0h0m5 0h0m-68 1h0m7 0h0m30 0h0m25 0h0m5 0h0m21 0h0m1 0h0m2 0h0m1 0h0m-94 1h0m1 0h0m42 0h0m3 0h0m17 0h0m2 0h0m1 0h0m2 0h0m30 0h0m-72 1h0m3 0h0m16 0h0m13 0h0m10 0h0m-72 1h0m1 0h0m1 0h0m53 0h0m50 0h0m-61 1h0m6 0h0m43 0h0m1 0h0m-94 1h0m30 0h0m24 0h0m41 0h0m6 0h0m1 0h0m-32 1h0m26 1h0m-55 1h0m13 0h0m-14 1h0m1 0h0m-34 1h0m46 0h0m2 0h0m-6 2h0m-7 1h0m8 0h0m0 1h0m-40 1h0m6 0h0m17 1h0m9 2h0m7 1h0m-13 1h0m1 0h0m11 1h0m-11 2h0m8 0h0m-6 1h0m5 0h0m9 1h0m7 3h0m-12 3h0"/>
<path transform="scale(.5)" stroke="#5CBEC6" stroke-width="2.32" stroke-linecap="round" fill="none" d="M544 91h0m-19 3h0m10 1h0m20 0h0m-29 2h0m13 0h0m-19 4h0m11 2h0m1 0h0m5 0h0m-7 1h0m19 1h0m0 2h0m-1 1h0m2 0h0m-2 2h0m3 1h0m-27 1h0m32 0h0m2 1h0m-19 2h0m16 0h0m15 0h0m-22 1h0m-14 2h0m40 1h0m-54 1h0m44 1h0m-47 1h0m18 0h0m-15 1h0m48 0h0m-51 2h0m46 0h0m15 0h0m-64 1h0m3 0h0m11 0h0m33 0h0m5 0h0m-46 1h0m7 0h0m11 0h0m34 0h0m16 0h0m-68 1h0m16 0h0m-11 1h0m1 0h0m38 0h0m15 0h0m-61 1h0m51 0h0m-50 1h0m72 0h0m-58 1h0m13 0h0m33 0h0m10 1h0m-58 1h0m7 0h0m-22 1h0m2 0h0m2 0h0m26 0h0m4 0h0m6 1h0m21 0h0m-65 1h0m40 0h0m5 0h0m-38 1h0m4 0h0m8 0h0m15 0h0m-21 1h0m13 0h0m15 0h0m-45 1h0m1 0h0m5 0h0m75 0h0m-75 1h0m6 0h0m28 0h0m10 0h0m33 0h0m-63 1h0m24 0h0m5 0h0m-32 1h0m-49 1h0m48 0h0m1 0h0m72 0h0m-75 1h0m4 0h0m69 0h0m-87 1h0m13 0h0m9 0h0m2 0h0m18 0h0m49 0h0m-121 1h0m34 0h0m29 0h0m4 0h0m-27 1h0m7 0h0m19 0h0m-63 1h0m56 0h0m5 0h0m37 0h0m22 0h0m-54 1h0m11 0h0m-34 1h0m45 0h0m2 0h0m9 0h0m3 0h0m-58 1h0m6 0h0m38 0h0m20 0h0m-57 1h0m22 0h0m7 0h0m1 0h0m20 0h0m6 0h0m-42 1h0m17 0h0m8 0h0m3 0h0m15 0h0m-77 1h0m14 0h0m4 0h0m13 0h0m2 0h0m25 0h0m16 0h0m-76 1h0m36 0h0m2 0h0m8 0h0m2 0h0m22 0h0m10 0h0m-84 1h0m17 0h0m29 0h0m25 0h0m3 0h0m13 0h0m8 0h0m4 0h0m-98 1h0m42 0h0m14 0h0m25 0h0m-82 1h0m2 0h0m3 0h0m9 0h0m17 0h0m20 0h0m6 0h0m5 0h0m2 0h0m6 0h0m6 0h0m11 0h0m-88 1h0m18 0h0m4 0h0m22 0h0m4 0h0m42 0h0m3 0h0m-83 1h0m10 0h0m2 0h0m16 0h0m13 0h0m6 0h0m9 0h0m8 0h0m1 0h0m21 0h0m-84 1h0m2 0h0m7 0h0m14 0h0m15 0h0m5 0h0m20 0h0m6 0h0m6 0h0m-83 1h0m8 0h0m45 0h0m11 0h0m11 0h0m6 0h0m3 0h0m-88 1h0m12 0h0m6 0h0m5 0h0m16 0h0m7 0h0m23 0h0m6 0h0m1 0h0m9 0h0m-60 1h0m15 0h0m17 0h0m1 0h0m4 0h0m8 0h0m1 0h0m8 0h0m-75 1h0m14 0h0m18 0h0m4 0h0m23 0h0m22 0h0m2 0h0m6 0h0m6 0h0m-74 1h0m10 0h0m1 0h0m5 0h0m24 0h0m7 0h0m4 0h0m5 0h0m10 0h0m2 0h0m-93 1h0m18 0h0m18 0h0m21 0h0m4 0h0m-52 1h0m1 0h0m1 0h0m16 0h0m12 0h0m34 0h0m9 0h0m1 0h0m15 0h0m-76 1h0m31 0h0m7 0h0m1 0h0m4 0h0m17 0h0m13 0h0m-88 1h0m28 0h0m11 0h0m9 0h0m9 0h0m-64 1h0m9 0h0m3 0h0m38 0h0m5 0h0m10 0h0m3 0h0m9 0h0m5 0h0m-80 1h0m8 0h0m62 0h0m11 0h0m2 0h0m4 0h0m12 0h0m-110 1h0m19 0h0m3 0h0m2 0h0m2 0h0m2 0h0m15 0h0m10 0h0m1 0h0m17 0h0m12 0h0m6 0h0m-97 1h0m1 0h0m28 0h0m14 0h0m25 0h0m18 0h0m27 0h0m-117 1h0m8 0h0m11 0h0m1 0h0m19 0h0m2 0h0m2 0h0m11 0h0m4 0h0m24 0h0m8 0h0m12 0h0m8 0h0m-113 1h0m20 0h0m4 0h0m14 0h0m5 0h0m11 0h0m3 0h0m18 0h0m21 0h0m3 0h0m7 0h0m-103 1h0m1 0h0m3 0h0m5 0h0m12 0h0m2 0h0m1 0h0m4 0h0m4 0h0m9 0h0m25 0h0m1 0h0m14 0h0m7 0h0m19 0h0m-140 1h0m7 0h0m31 0h0m31 0h0m5 0h0m48 0h0m6 0h0m-126 1h0m27 0h0m23 0h0m15 0h0m2 0h0m4 0h0m1 0h0m28 0h0m20 0h0m6 0h0m21 0h0m-115 1h0m5 0h0m16 0h0m7 0h0m22 0h0m4 0h0m12 0h0m19 0h0m-122 1h0m5 0h0m6 0h0m27 0h0m2 0h0m2 0h0m2 0h0m14 0h0m3 0h0m3 0h0m10 0h0m3 0h0m6 0h0m26 0h0m30 0h0m8 0h0m-148 1h0m14 0h0m30 0h0m1 0h0m19 0h0m4 0h0m11 0h0m1 0h0m2 0h0m12 0h0m4 0h0m6 0h0m40 0h0m-142 1h0m6 0h0m19 0h0m13 0h0m19 0h0m3 0h0m16 0h0m6 0h0m55 0h0m10 0h0m-149 1h0m26 0h0m2 0h0m2 0h0m1 0h0m10 0h0m7 0h0m2 0h0m22 0h0m3 0h0m1 0h0m1 0h0m11 0h0m12 0h0m10 0h0m4 0h0m26 0h0m-138 1h0m3 0h0m21 0h0m4 0h0m4 0h0m1 0h0m3 0h0m6 0h0m14 0h0m1 0h0m1 0h0m13 0h0m9 0h0m17 0h0m52 0h0m-155 1h0m15 0h0m2 0h0m16 0h0m5 0h0m12 0h0m1 0h0m21 0h0m43 0h0m5 0h0m13 0h0m1 0h0m2 0h0m1 0h0m-133 1h0m2 0h0m5 0h0m4 0h0m16 0h0m8 0h0m1 0h0m9 0h0m5 0h0m1 0h0m11 0h0m8 0h0m1 0h0m-76 1h0m16 0h0m13 0h0m1 0h0m5 0h0m1 0h0m4 0h0m1 0h0m30 0h0m1 0h0m10 0h0m4 0h0m18 0h0m23 0h0m12 0h0m11 0h0m-152 1h0m3 0h0m8 0h0m2 0h0m4 0h0m13 0h0m6 0h0m7 0h0m27 0h0m3 0h0m38 0h0m45 0h0m-157 1h0m12 0h0m30 0h0m3 0h0m12 0h0m5 0h0m2 0h0m8 0h0m44 0h0m20 0h0m-135 1h0m2 0h0m26 0h0m19 0h0m7 0h0m13 0h0m2 0h0m8 0h0m13 0h0m13 0h0m4 0h0m2 0h0m18 0h0m15 0h0m3 0h0m2 0h0m1 0h0m-143 1h0m7 0h0m29 0h0m5 0h0m7 0h0m12 0h0m4 0h0m4 0h0m1 0h0m11 0h0m5 0h0m2 0h0m6 0h0m1 0h0m13 0h0m15 0h0m-125 1h0m3 0h0m11 0h0m12 0h0m3 0h0m6 0h0m3 0h0m6 0h0m6 0h0m7 0h0m3 0h0m8 0h0m8 0h0m1 0h0m3 0h0m46 0h0m10 0h0m3 0h0m-131 1h0m20 0h0m10 0h0m1 0h0m2 0h0m6 0h0m3 0h0m5 0h0m13 0h0m6 0h0m15 0h0m14 0h0m19 0h0m9 0h0m-128 1h0m38 0h0m7 0h0m5 0h0m10 0h0m9 0h0m8 0h0m1 0h0m6 0h0m3 0h0m13 0h0m25 0h0m10 0h0m10 0h0m-153 1h0m20 0h0m21 0h0m13 0h0m35 0h0m6 0h0m25 0h0m5 0h0m12 0h0m-123 1h0m19 0h0m5 0h0m10 0h0m4 0h0m1 0h0m1 0h0m28 0h0m5 0h0m3 0h0m7 0h0m56 0h0m-151 1h0m12 0h0m4 0h0m31 0h0m10 0h0m2 0h0m8 0h0m1 0h0m7 0h0m11 0h0m3 0h0m13 0h0m37 0h0m-134 1h0m4 0h0m2 0h0m4 0h0m18 0h0m11 0h0m3 0h0m1 0h0m4 0h0m2 0h0m3 0h0m1 0h0m12 0h0m5 0h0m12 0h0m1 0h0m49 0h0m-136 1h0m10 0h0m4 0h0m28 0h0m7 0h0m6 0h0m2 0h0m7 0h0m14 0h0m25 0h0m1 0h0m6 0h0m-100 1h0m2 0h0m5 0h0m7 0h0m15 0h0m4 0h0m3 0h0m2 0h0m4 0h0m3 0h0m1 0h0m5 0h0m3 0h0m11 0h0m14 0h0m-89 1h0m9 0h0m4 0h0m22 0h0m1 0h0m1 0h0m4 0h0m1 0h0m12 0h0m20 0h0m6 0h0m1 0h0m9 0h0m4 0h0m-96 1h0m3 0h0m6 0h0m18 0h0m3 0h0m4 0h0m4 0h0m4 0h0m15 0h0m17 0h0m7 0h0m9 0h0m23 0h0m26 0h0m26 0h0m-161 1h0m1 0h0m8 0h0m17 0h0m30 0h0m19 0h0m4 0h0m4 0h0m2 0h0m4 0h0m16 0h0m-101 1h0m1 0h0m21 0h0m1 0h0m5 0h0m2 0h0m9 0h0m20 0h0m13 0h0m6 0h0m3 0h0m3 0h0m2 0h0m9 0h0m20 0h0m6 0h0m-127 1h0m4 0h0m2 0h0m8 0h0m22 0h0m9 0h0m8 0h0m2 0h0m12 0h0m1 0h0m9 0h0m10 0h0m5 0h0m24 0h0m-116 1h0m23 0h0m24 0h0m5 0h0m6 0h0m16 0h0m6 0h0m8 0h0m16 0h0m2 0h0m61 0h0m-155 1h0m17 0h0m4 0h0m3 0h0m11 0h0m3 0h0m38 0h0m14 0h0m-101 1h0m3 0h0m1 0h0m17 0h0m6 0h0m6 0h0m2 0h0m4 0h0m3 0h0m20 0h0m2 0h0m4 0h0m12 0h0m5 0h0m40 0h0m25 0h0m-142 1h0m19 0h0m1 0h0m1 0h0m23 0h0m35 0h0m19 0h0m7 0h0m5 0h0m9 0h0m-103 1h0m8 0h0m10 0h0m2 0h0m5 0h0m11 0h0m10 0h0m16 0h0m21 0h0m1 0h0m3 0h0m-101 1h0m14 0h0m2 0h0m3 0h0m2 0h0m26 0h0m5 0h0m5 0h0m9 0h0m8 0h0m3 0h0m2 0h0m4 0h0m2 0h0m24 0h0m6 0h0m31 0h0m-126 1h0m17 0h0m1 0h0m10 0h0m14 0h0m11 0h0m2 0h0m3 0h0m4 0h0m44 0h0m-97 1h0m4 0h0m6 0h0m12 0h0m22 0h0m6 0h0m6 0h0m14 0h0m5 0h0m8 0h0m5 0h0m1 0h0m12 0h0m-98 1h0m9 0h0m3 0h0m4 0h0m1 0h0m7 0h0m19 0h0m10 0h0m11 0h0m-88 1h0m4 0h0m2 0h0m4 0h0m20 0h0m1 0h0m1 0h0m4 0h0m7 0h0m14 0h0m5 0h0m8 0h0m5 0h0m73 0h0m-148 1h0m3 0h0m9 0h0m4 0h0m3 0h0m2 0h0m7 0h0m4 0h0m30 0h0m7 0h0m2 0h0m8 0h0m2 0h0m1 0h0m24 0h0m-106 1h0m8 0h0m5 0h0m2 0h0m3 0h0m28 0h0m16 0h0m8 0h0m5 0h0m-68 1h0m25 0h0m1 0h0m3 0h0m10 0h0m4 0h0m19 0h0m9 0h0m10 0h0m9 0h0m-95 1h0m14 0h0m9 0h0m2 0h0m33 0h0m5 0h0m4 0h0m9 0h0m7 0h0m-66 1h0m2 0h0m38 0h0m1 0h0m12 0h0m3 0h0m3 0h0m-72 1h0m3 0h0m2 0h0m1 0h0m8 0h0m12 0h0m5 0h0m2 0h0m16 0h0m2 0h0m-36 1h0m2 0h0m6 0h0m3 0h0m4 0h0m12 0h0m7 0h0m23 0h0m12 0h0m9 0h0m13 0h0m3 0h0m2 0h0m16 0h0m-125 1h0m18 0h0m21 0h0m1 0h0m3 0h0m55 0h0m-92 1h0m3 0h0m15 0h0m27 0h0m16 0h0m16 0h0m1 0h0m2 0h0m19 0h0m-109 1h0m25 0h0m30 0h0m9 0h0m42 0h0m-105 1h0m9 0h0m1 0h0m16 0h0m4 0h0m13 0h0m11 0h0m6 0h0m8 0h0m12 0h0m3 0h0m-72 1h0m13 0h0m1 0h0m6 0h0m2 0h0m13 0h0m1 0h0m7 0h0m37 0h0m-72 1h0m11 0h0m29 0h0m2 0h0m11 0h0m4 0h0m16 0h0m-94 1h0m7 0h0m4 0h0m6 0h0m15 0h0m13 0h0m24 0h0m9 0h0m24 0h0m4 0h0m6 0h0m-115 1h0m31 0h0m37 0h0m4 0h0m2 0h0m-76 1h0m27 0h0m10 0h0m12 0h0m21 0h0m6 0h0m1 0h0m2 0h0m6 0h0m7 0h0m3 0h0m-71 1h0m17 0h0m17 0h0m25 0h0m5 0h0m5 0h0m19 0h0m4 0h0m-99 1h0m12 0h0m1 0h0m33 0h0m14 0h0m7 0h0m7 0h0m20 0h0m-106 1h0m6 0h0m4 0h0m5 0h0m11 0h0m2 0h0m5 0h0m2 0h0m11 0h0m6 0h0m18 0h0m34 0h0m11 0h0m-119 1h0m29 0h0m22 0h0m7 0h0m10 0h0m4 0h0m6 0h0m34 0h0m-104 1h0m10 0h0m11 0h0m7 0h0m20 0h0m48 0h0m16 0h0m-112 1h0m9 0h0m9 0h0m60 0h0m9 0h0m21 0h0m24 0h0m-121 1h0m2 0h0m11 0h0m4 0h0m1 0h0m18 0h0m1 0h0m10 0h0m19 0h0m6 0h0m3 0h0m22 0h0m28 0h0m-140 1h0m5 0h0m4 0h0m9 0h0m40 0h0m3 0h0m12 0h0m4 0h0m65 0h0m-137 1h0m6 0h0m11 0h0m1 0h0m6 0h0m24 0h0m32 0h0m29 0h0m18 0h0m-130 1h0m4 0h0m1 0h0m43 0h0m22 0h0m14 0h0m3 0h0m15 0h0m1 0h0m2 0h0m-109 1h0m6 0h0m14 0h0m13 0h0m11 0h0m4 0h0m9 0h0m7 0h0m40 0h0m14 0h0m16 0h0m8 0h0m2 0h0m-120 1h0m13 0h0m7 0h0m9 0h0m7 0h0m6 0h0m1 0h0m9 0h0m1 0h0m11 0h0m2 0h0m3 0h0m17 0h0m24 0h0m2 0h0m3 0h0m-107 1h0m17 0h0m1 0h0m15 0h0m76 0h0m-140 1h0m1 0h0m2 0h0m9 0h0m1 0h0m49 0h0m18 0h0m7 0h0m-87 1h0m10 0h0m17 0h0m5 0h0m19 0h0m4 0h0m6 0h0m6 0h0m4 0h0m9 0h0m-73 1h0m3 0h0m28 0h0m9 0h0m20 0h0m3 0h0m7 0h0m3 0h0m14 0h0m-90 1h0m2 0h0m13 0h0m12 0h0m8 0h0m24 0h0m9 0h0m5 0h0m13 0h0m2 0h0m2 0h0m38 0h0m-130 1h0m8 0h0m3 0h0m3 0h0m1 0h0m5 0h0m5 0h0m7 0h0m10 0h0m12 0h0m7 0h0m9 0h0m55 0h0m2 0h0m-124 1h0m3 0h0m30 0h0m11 0h0m16 0h0m10 0h0m-67 1h0m1 0h0m10 0h0m55 1h0m3 0h0m10 0h0m-79 1h0m13 0h0m6 0h0m22 0h0m16 0h0m20 0h0m-58 1h0m12 0h0m17 0h0m35 0h0m1 0h0m-69 1h0m11 0h0m22 0h0m9 0h0m25 0h0m-71 1h0m6 0h0m11 0h0m8 0h0m23 0h0m20 0h0m2 0h0m-69 1h0m18 0h0m12 0h0m45 0h0m-55 1h0m12 0h0m14 0h0m20 0h0m5 0h0m-60 1h0m12 0h0m19 0h0m14 0h0m-49 1h0m29 0h0m11 0h0m-44 1h0m4 0h0m7 0h0m37 0h0m6 0h0m2 0h0m5 0h0m-60 1h0m3 0h0m2 0h0m23 0h0m42 0h0m-58 1h0m53 0h0m-57 1h0m5 0h0m17 0h0m23 1h0m8 0h0m-61 2h0m0 1h0m3 0h0m7 0h0m-2 3h0m43 0h0m-39 1h0m35 0h0m5 0h0m-41 1h0m25 0h0m10 0h0m7 0h0m-22 1h0m1 0h0m2 1h0m-2 2h0m5 0h0m-3 1h0m7 1h0m2 0h0m0 1h0m4 0h0m-10 1h0m11 0h0m8 0h0m-14 1h0m4 0h0m1 0h0m4 0h0m2 0h0m1 0h0m-16 1h0m16 0h0m5 0h0m-3 1h0m-14 1h0m13 0h0m-16 1h0m4 1h0m6 0h0m8 0h0m6 1h0m-14 1h0m7 1h0m-4 2h0m6 0h0"/>
<path transform="scale(.5)" stroke="#E47A72" stroke-width="2.32" stroke-linecap="round" fill="none" d="M536 89h0m4 0h0m9 1h0m-16 1h0m5 0h0m1 0h0m5 0h0m-13 1h0m3 0h0m1 0h0m5 0h0m6 0h0m-17 1h0m2 0h0m2 0h0m2 0h0m4 0h0m3 0h0m-12 1h0m18 0h0m-10 2h0m9 0h0m4 0h0m-23 1h0m17 0h0m-24 2h0m5 0h0m5 0h0m11 0h0m11 0h0m-33 1h0m5 0h0m2 0h0m11 0h0m1 0h0m9 0h0m-22 1h0m2 0h0m1 0h0m7 0h0m-8 1h0m-1 1h0m1 0h0m12 0h0m-19 1h0m3 0h0m6 0h0m-8 1h0m7 0h0m3 0h0m11 0h0m3 0h0m9 0h0m-10 1h0m1 0h0m2 0h0m1 0h0m-23 1h0m26 0h0m1 0h0m-29 1h0m11 0h0m1 0h0m1 0h0m-9 1h0m19 0h0m-20 1h0m18 0h0m22 0h0m-29 1h0m6 0h0m15 0h0m2 0h0m7 0h0m-49 1h0m9 0h0m21 0h0m3 0h0m-33 1h0m10 0h0m5 0h0m10 0h0m-13 1h0m3 0h0m15 0h0m5 0h0m9 0h0m-47 1h0m15 0h0m4 0h0m8 0h0m13 0h0m11 0h0m1 0h0m-50 1h0m10 0h0m13 0h0m23 0h0m-37 1h0m29 0h0m18 0h0m-53 1h0m2 0h0m33 0h0m1 0h0m-39 1h0m44 0h0m3 0h0m6 0h0m-54 1h0m5 0h0m35 0h0m4 0h0m5 0h0m-51 1h0m20 0h0m2 0h0m24 0h0m15 0h0m1 0h0m-58 1h0m48 0h0m2 0h0m-6 1h0m2 0h0m12 0h0m-61 1h0m14 0h0m3 0h0m10 0h0m3 0h0m2 0h0m28 0h0m-52 1h0m12 0h0m7 0h0m20 0h0m4 0h0m14 0h0m-58 1h0m15 0h0m7 0h0m20 0h0m3 0h0m10 0h0m-56 1h0m10 0h0m12 0h0m8 0h0m22 0h0m3 0h0m11 0h0m-47 1h0m1 0h0m9 0h0m3 0h0m13 0h0m10 0h0m8 0h0m-60 1h0m5 0h0m11 0h0m16 0h0m3 0h0m7 0h0m2 0h0m15 0h0m-67 1h0m3 0h0m7 0h0m6 0h0m12 0h0m1 0h0m25 0h0m2 0h0m-44 1h0m15 0h0m15 0h0m8 0h0m3 0h0m-57 1h0m3 0h0m3 0h0m5 0h0m14 0h0m2 0h0m-23 1h0m16 0h0m18 0h0m17 0h0m14 0h0m-63 1h0m32 0h0m8 0h0m8 0h0m7 0h0m3 0h0m5 0h0m6 0h0m-71 1h0m13 0h0m15 0h0m5 0h0m2 0h0m10 0h0m4 0h0m5 0h0m3 0h0m2 0h0m3 0h0m5 0h0m3 0h0m-64 1h0m13 0h0m8 0h0m6 0h0m4 0h0m9 0h0m9 0h0m1 0h0m15 0h0m-76 1h0m23 0h0m3 0h0m12 0h0m14 0h0m3 0h0m1 0h0m23 0h0m-77 1h0m5 0h0m6 0h0m21 0h0m9 0h0m1 0h0m5 0h0m5 0h0m12 0h0m3 0h0m-55 1h0m24 0h0m6 0h0m1 0h0m4 0h0m8 0h0m19 0h0m1 0h0m-73 1h0m30 0h0m13 0h0m1 0h0m19 0h0m4 0h0m3 0h0m4 0h0m-80 1h0m7 0h0m36 0h0m13 0h0m2 0h0m2 0h0m-25 1h0m3 0h0m3 0h0m2 0h0m6 0h0m4 0h0m1 0h0m1 0h0m11 0h0m6 0h0m7 0h0m-73 1h0m35 0h0m5 0h0m4 0h0m1 0h0m-53 1h0m18 0h0m3 0h0m31 0h0m3 0h0m22 0h0m-61 1h0m1 0h0m2 0h0m-14 1h0m8 0h0m2 0h0m2 0h0m7 0h0m1 0h0m3 0h0m17 0h0m14 0h0m24 0h0m-111 1h0m43 0h0m34 0h0m3 0h0m5 0h0m2 0h0m1 0h0m2 0h0m11 0h0m7 0h0m5 0h0m-22 1h0m2 0h0m8 0h0m4 0h0m-78 1h0m7 0h0m12 0h0m3 0h0m9 0h0m12 0h0m8 0h0m20 0h0m20 0h0m-81 1h0m5 0h0m8 0h0m4 0h0m11 0h0m16 0h0m5 0h0m3 0h0m16 0h0m8 0h0m-85 1h0m28 0h0m9 0h0m1 0h0m3 0h0m-43 1h0m4 0h0m1 0h0m12 0h0m7 0h0m31 0h0m17 0h0m-67 1h0m11 0h0m8 0h0m8 0h0m34 0h0m14 0h0m2 0h0m10 0h0m1 0h0m-93 1h0m3 0h0m27 0h0m24 0h0m-51 1h0m6 0h0m25 0h0m5 0h0m11 0h0m4 0h0m9 0h0m27 0h0m-88 1h0m7 0h0m30 0h0m4 0h0m26 0h0m16 0h0m-86 1h0m12 0h0m5 0h0m2 0h0m12 0h0m26 0h0m40 0h0m-61 1h0m11 0h0m4 0h0m4 0h0m7 0h0m28 0h0m-88 1h0m9 0h0m2 0h0m11 0h0m10 0h0m7 0h0m3 0h0m3 0h0m23 0h0m13 0h0m14 0h0m-71 1h0m3 0h0m11 0h0m51 0h0m5 0h0m-80 1h0m1 0h0m8 0h0m26 0h0m1 0h0m4 0h0m4 0h0m4 0h0m1 0h0m-66 1h0m17 0h0m17 0h0m1 0h0m20 0h0m20 0h0m4 0h0m-79 1h0m37 0h0m13 0h0m19 0h0m12 0h0m6 0h0m-84 1h0m4 0h0m8 0h0m5 0h0m3 0h0m2 0h0m1 0h0m5 0h0m8 0h0m12 0h0m20 0h0m27 0h0m-75 1h0m73 0h0m1 0h0m5 0h0m-96 1h0m20 0h0m3 0h0m6 0h0m8 0h0m2 0h0m1 0h0m8 0h0m1 0h0m37 0h0m4 0h0m4 0h0m-92 1h0m12 0h0m18 0h0m13 0h0m14 0h0m-49 1h0m35 0h0m10 0h0m26 0h0m4 0h0m-47 1h0m20 0h0m2 0h0m16 0h0m9 0h0m7 0h0m-86 1h0m14 0h0m16 0h0m28 0h0m1 0h0m17 0h0m-74 1h0m4 0h0m5 1h0m9 0h0m8 0h0m3 0h0m3 0h0m6 0h0m8 0h0m3 0h0m16 0h0m-82 1h0m66 0h0m9 0h0m5 0h0m-51 1h0m6 0h0m10 0h0m6 0h0m23 0h0m5 0h0m22 0h0m-77 1h0m3 0h0m4 0h0m29 0h0m20 0h0m3 0h0m14 0h0m-108 1h0m17 0h0m28 0h0m11 0h0m7 0h0m2 0h0m8 0h0m25 0h0m10 0h0m-90 1h0m2 0h0m3 0h0m30 0h0m16 0h0m28 0h0m13 0h0m1 0h0m-139 1h0m48 0h0m13 0h0m11 0h0m14 0h0m43 0h0m8 0h0m-90 1h0m29 0h0m15 0h0m11 0h0m30 0h0m-141 1h0m122 0h0m14 0h0m-102 1h0m10 0h0m15 0h0m4 0h0m10 0h0m6 0h0m14 0h0m4 0h0m6 0h0m7 0h0m1 0h0m14 0h0m10 0h0m4 0h0m7 0h0m-86 1h0m5 0h0m20 0h0m11 0h0m46 0h0m-49 1h0m1 0h0m17 0h0m29 0h0m3 0h0m4 0h0m-112 1h0m38 0h0m22 0h0m18 0h0m22 0h0m3 0h0m-63 1h0m13 0h0m14 0h0m3 0h0m21 0h0m6 0h0m14 0h0m-61 1h0m27 0h0m24 0h0m1 0h0m-69 1h0m12 0h0m20 0h0m3 0h0m1 0h0m14 0h0m14 0h0m-148 1h0m110 0h0m30 0h0m-68 1h0m36 0h0m18 0h0m27 0h0m4 0h0m-94 1h0m6 0h0m10 0h0m17 0h0m40 0h0m11 0h0m5 0h0m-138 1h0m24 0h0m38 0h0m21 0h0m24 0h0m9 0h0m15 0h0m2 0h0m12 0h0m-153 1h0m3 0h0m60 0h0m13 0h0m9 0h0m14 0h0m6 0h0m34 0h0m12 0h0m-147 1h0m33 0h0m30 0h0m59 0h0m5 0h0m9 0h0m14 0h0m-81 1h0m18 0h0m6 0h0m12 0h0m35 0h0m4 0h0m2 0h0m3 0h0m-131 1h0m76 0h0m5 0h0m-9 1h0m20 0h0m25 0h0m-78 1h0m27 0h0m7 0h0m15 0h0m28 0h0m5 0h0m-41 1h0m-45 1h0m18 0h0m19 0h0m6 0h0m1 0h0m6 0h0m18 0h0m18 0h0m-62 1h0m10 0h0m3 0h0m3 0h0m3 0h0m13 0h0m5 0h0m14 0h0m-69 1h0m27 0h0m11 0h0m1 0h0m5 0h0m-27 1h0m15 0h0m46 0h0m-81 1h0m15 0h0m24 0h0m13 0h0m52 0h0m-138 1h0m30 0h0m4 0h0m49 0h0m7 0h0m-122 1h0m101 0h0m13 0h0m2 0h0m6 0h0m-106 1h0m85 0h0m7 0h0m4 0h0m3 0h0m3 0h0m6 0h0m4 0h0m37 0h0m-5 1h0m8 0h0m-104 1h0m6 0h0m28 0h0m18 0h0m28 0h0m-61 1h0m21 0h0m37 0h0m2 0h0m3 0h0m13 0h0m5 0h0m8 0h0m-94 1h0m25 0h0m3 0h0m8 0h0m25 0h0m17 0h0m4 0h0m14 0h0m-166 1h0m18 0h0m6 0h0m31 0h0m5 0h0m25 0h0m4 0h0m23 0h0m21 0h0m33 0h0m-121 1h0m55 0h0m2 0h0m2 0h0m8 0h0m3 0h0m22 0h0m2 0h0m4 0h0m12 0h0m3 0h0m5 0h0m1 0h0m-114 1h0m49 0h0m15 0h0m2 0h0m22 0h0m10 0h0m4 0h0m12 0h0m2 0h0m2 0h0m-118 1h0m8 0h0m9 0h0m28 0h0m7 0h0m13 0h0m22 0h0m9 0h0m5 0h0m15 0h0m6 0h0m2 0h0m-124 1h0m2 0h0m47 0h0m20 0h0m2 0h0m4 0h0m8 0h0m21 0h0m4 0h0m5 0h0m9 0h0m-158 1h0m59 0h0m24 0h0m23 0h0m36 0h0m5 0h0m7 0h0m-96 1h0m22 0h0m3 0h0m6 0h0m53 0h0m13 0h0m-131 1h0m2 0h0m29 0h0m29 0h0m5 0h0m10 0h0m3 0h0m41 0h0m-79 1h0m11 0h0m1 0h0m3 0h0m21 0h0m6 0h0m42 0h0m5 0h0m-152 1h0m51 0h0m14 0h0m6 0h0m3 0h0m29 0h0m27 0h0m2 0h0m5 0h0m14 0h0m2 0h0m-125 1h0m30 0h0m32 0h0m3 0h0m40 0h0m7 0h0m3 0h0m8 0h0m-112 1h0m106 0h0m-136 1h0m17 0h0m10 0h0m23 0h0m3 0h0m2 0h0m22 0h0m21 0h0m6 0h0m35 0h0m1 0h0m-119 1h0m29 0h0m3 0h0m88 0h0m-150 1h0m46 0h0m5 0h0m19 0h0m3 0h0m23 0h0m-91 1h0m50 0h0m7 0h0m11 0h0m17 0h0m63 0h0m-118 1h0m4 0h0m3 0h0m19 0h0m6 0h0m12 0h0m10 0h0m4 0h0m23 0h0m4 0h0m18 0h0m-127 1h0m49 0h0m6 0h0m5 0h0m11 0h0m8 0h0m2 0h0m-22 1h0m6 0h0m4 0h0m12 0h0m10 0h0m2 0h0m8 0h0m-74 1h0m8 0h0m22 0h0m22 0h0m7 0h0m1 0h0m19 0h0m-105 1h0m20 0h0m2 0h0m10 0h0m1 0h0m5 0h0m1 0h0m28 0h0m30 0h0m6 0h0m-60 1h0m12 0h0m14 0h0m6 0h0m-58 1h0m18 0h0m17 0h0m2 0h0m43 0h0m3 0h0m-71 1h0m12 0h0m4 0h0m23 0h0m5 0h0m4 0h0m1 0h0m7 0h0m12 0h0m-102 1h0m27 0h0m20 0h0m6 0h0m27 0h0m1 0h0m5 0h0m3 0h0m20 0h0m-114 1h0m45 0h0m31 0h0m25 0h0m-93 1h0m18 0h0m43 0h0m4 0h0m22 0h0m44 0h0m-135 1h0m61 0h0m8 0h0m15 0h0m6 0h0m-46 1h0m8 0h0m17 0h0m11 0h0m1 0h0m3 0h0m-70 1h0m20 0h0m10 0h0m2 0h0m1 0h0m6 0h0m4 0h0m4 0h0m5 0h0m1 0h0m44 0h0m-104 1h0m16 0h0m6 0h0m4 0h0m7 0h0m6 0h0m1 0h0m13 0h0m4 0h0m11 0h0m4 0h0m2 0h0m5 0h0m3 0h0m9 0h0m5 0h0m7 0h0m-105 1h0m1 0h0m21 0h0m2 0h0m2 0h0m3 0h0m11 0h0m5 0h0m19 0h0m15 0h0m3 0h0m14 0h0m2 0h0m28 0h0m-116 1h0m50 0h0m19 0h0m23 0h0m21 0h0m-131 1h0m62 0h0m1 0h0m14 0h0m8 0h0m-51 1h0m42 0h0m10 0h0m5 0h0m19 0h0m20 0h0m-104 1h0m7 0h0m14 0h0m11 0h0m5 0h0m24 0h0m4 0h0m-69 1h0m26 0h0m1 0h0m2 0h0m5 0h0m-43 1h0m2 0h0m31 0h0m5 0h0m1 0h0m27 0h0m13 0h0m-41 1h0m26 0h0m1 0h0m2 0h0m14 0h0m-66 1h0m7 0h0m20 0h0m19 0h0m19 0h0m-41 1h0m12 0h0m8 0h0m-58 1h0m60 0h0m17 0h0m1 0h0m-44 1h0m14 0h0m29 0h0m37 0h0m-102 1h0m5 0h0m12 0h0m1 0h0m-17 1h0m14 0h0m4 0h0m11 0h0m9 0h0m14 0h0m-38 1h0m1 0h0m19 0h0m55 0h0m1 0h0m-34 1h0m5 0h0m1 0h0m6 0h0m20 0h0m5 0h0m-84 1h0m8 0h0m9 0h0m8 0h0m13 0h0m7 0h0m39 0h0m-98 1h0m22 0h0m2 0h0m17 0h0m53 0h0m-97 1h0m49 0h0m20 0h0m25 0h0m1 0h0m-82 1h0m61 0h0m25 0h0m5 0h0m-92 1h0m20 0h0m5 0h0m5 0h0m11 0h0m4 0h0m44 0h0m2 0h0m-90 1h0m14 0h0m11 0h0m19 0h0m7 0h0m-10 1h0m40 0h0m2 0h0m3 0h0m1 1h0m4 0h0m2 0h0m-34 1h0m27 0h0m4 0h0m-99 1h0m63 0h0m1 0h0m35 0h0m-64 1h0m15 0h0m8 0h0m34 1h0m-47 2h0m8 0h0m-41 6h0m19 1h0m-1 1h0m6 1h0m0 1h0m10 1h0m2 0h0m4 1h0m-9 2h0m9 3h0m2 1h0m-9 1h0m13 0h0m-5 3h0"/>
<g stroke="#000" stroke-width="1.1" fill="none">
<path d="M215.2 36.8V152.5H314.0"/>
<path d="M212.2 39.7H215.2"/>
<path d="M212.2 68.3H215.2"/>
<path d="M212.2 96.5H215.2"/>
<path d="M212.2 124.7H215.2"/>
<path d="M219.1 152.5V155.5"/>
<path d="M242.8 152.5V155.5"/>
<path d="M266.5 152.5V155.5"/>
<path d="M290.4 152.5V155.5"/>
</g>
<text x="209.2" y="42.5" font-size="8" fill="#333" text-anchor="end" font-weight="normal" stroke="#333" stroke-width="0.15" >50</text>
<text x="209.2" y="71.1" font-size="8" fill="#333" text-anchor="end" font-weight="normal" stroke="#333" stroke-width="0.15" >25</text>
<text x="209.2" y="99.3" font-size="8" fill="#333" text-anchor="end" font-weight="normal" stroke="#333" stroke-width="0.15" >0</text>
<text x="209.2" y="127.5" font-size="8" fill="#333" text-anchor="end" font-weight="normal" stroke="#333" stroke-width="0.15" >-25</text>
<text x="219.7" y="165.6" font-size="8" fill="#333" text-anchor="middle" font-weight="normal" stroke="#333" stroke-width="0.15" >-50</text>
<text x="243.4" y="165.6" font-size="8" fill="#333" text-anchor="middle" font-weight="normal" stroke="#333" stroke-width="0.15" >-25</text>
<text x="267.1" y="165.6" font-size="8" fill="#333" text-anchor="middle" font-weight="normal" stroke="#333" stroke-width="0.15" >0</text>
<text x="291.0" y="165.6" font-size="8" fill="#333" text-anchor="middle" font-weight="normal" stroke="#333" stroke-width="0.15" >25</text>
<text x="217.3" y="37.8" font-size="7.2" fill="#000" text-anchor="start" font-weight="normal" >T cells</text>
<text x="264.5" y="177.9" font-size="9.6" fill="#111" text-anchor="middle" font-weight="normal" textLength="24" lengthAdjust="spacingAndGlyphs" stroke="#111" stroke-width="0.15" >tSNE_1</text>
<text x="0" y="0" font-size="9.6" fill="#111" stroke="#111" stroke-width="0.15" text-anchor="middle" textLength="24" lengthAdjust="spacingAndGlyphs" transform="translate(193.5 95) rotate(-90)">tSNE_2</text>
<circle cx="294.5" cy="36.70" r="1.1" fill="#E47A72"/>
<text x="296.8" y="38.70" font-size="5.6" fill="#E47A72" text-anchor="start" font-weight="normal" textLength="39" lengthAdjust="spacingAndGlyphs" >Non-responder</text>
<circle cx="294.5" cy="43.80" r="1.1" fill="#5CBEC6"/>
<text x="296.8" y="45.80" font-size="5.6" fill="#5CBEC6" text-anchor="start" font-weight="normal" textLength="27.4" lengthAdjust="spacingAndGlyphs" >Responder</text>
<path transform="scale(.5)" stroke="#55B446" stroke-width="2.56" stroke-linecap="round" fill="none" d="M862 82h0m1 0h0m-7 1h0m6 0h0m3 0h0m-5 1h0m2 0h0m1 0h0m1 0h0m2 0h0m4 0h0m2 0h0m-22 1h0m3 0h0m14 0h0m2 0h0m-16 1h0m2 0h0m5 0h0m8 0h0m-18 1h0m6 0h0m1 0h0m12 0h0m-13 1h0m9 0h0m3 0h0m-12 1h0m4 0h0m3 0h0m14 0h0m-29 1h0m5 0h0m4 0h0m6 0h0m14 0h0m-29 1h0m10 0h0m10 0h0m8 0h0m-28 1h0m4 0h0m9 0h0m1 0h0m4 0h0m15 0h0m-31 1h0m4 0h0m1 0h0m7 0h0m9 0h0m4 0h0m5 0h0m-35 1h0m2 0h0m7 0h0m4 0h0m2 0h0m3 0h0m8 0h0m7 0h0m-7 1h0m-17 1h0m2 0h0m7 0h0m9 0h0m4 0h0m-26 1h0m6 0h0m2 0h0m3 0h0m1 0h0m1 0h0m5 0h0m3 0h0m-25 1h0m3 0h0m7 0h0m7 0h0m5 0h0m-21 1h0m3 0h0m4 0h0m8 0h0m5 0h0m-22 1h0m1 0h0m5 0h0m16 0h0m5 0h0m8 0h0m-37 1h0m8 0h0m1 0h0m12 0h0m9 0h0m-16 1h0m6 0h0m1 0h0m3 0h0m1 0h0m2 0h0m4 0h0m-30 1h0m5 0h0m3 0h0m12 0h0m4 0h0m1 0h0m1 0h0m7 0h0m-30 1h0m4 0h0m20 0h0m5 0h0m1 0h0m-40 1h0m8 0h0m5 0h0m1 0h0m11 0h0m3 0h0m7 0h0m2 0h0m5 0h0m12 0h0m-44 1h0m1 0h0m1 0h0m9 0h0m1 0h0m5 0h0m4 0h0m1 0h0m1 0h0m15 0h0m1 0h0m-42 1h0m25 0h0m15 0h0m3 0h0m7 0h0m1 0h0m-40 1h0m12 0h0m12 0h0m2 0h0m2 0h0m-46 1h0m13 0h0m16 0h0m19 0h0m-44 1h0m3 0h0m34 0h0m9 0h0m-44 1h0m1 0h0m1 0h0m7 0h0m26 0h0m3 0h0m2 0h0m3 0h0m3 0h0m5 0h0m1 0h0m3 0h0m-20 1h0m4 0h0m1 0h0m3 0h0m6 0h0m1 0h0m-51 1h0m51 0h0m4 0h0m-55 1h0m16 0h0m26 0h0m-46 1h0m2 0h0m4 0h0m39 0h0m6 0h0m5 0h0m-39 1h0m27 0h0m2 0h0m15 0h0m-63 1h0m47 0h0m2 0h0m1 0h0m1 0h0m4 0h0m2 0h0m-53 1h0m52 0h0m-56 1h0m6 0h0m1 0h0m7 0h0m6 0h0m1 0h0m11 0h0m23 0h0m-54 1h0m1 0h0m10 0h0m17 0h0m4 0h0m15 0h0m13 0h0m-39 1h0m5 0h0m11 0h0m10 0h0m2 0h0m-34 1h0m5 0h0m1 0h0m2 0h0m8 0h0m6 0h0m1 0h0m7 0h0m6 0h0m3 0h0m-51 1h0m4 0h0m1 0h0m4 0h0m5 0h0m6 0h0m5 0h0m3 0h0m3 0h0m2 0h0m5 0h0m7 0h0m1 0h0m1 0h0m3 0h0m2 0h0m-54 1h0m9 0h0m6 0h0m14 0h0m4 0h0m2 0h0m1 0h0m1 0h0m11 0h0m5 0h0m-46 1h0m11 0h0m7 0h0m16 0h0m11 0h0m-53 1h0m1 0h0m9 0h0m16 0h0m6 0h0m8 0h0m1 0h0m4 0h0m1 0h0m-44 1h0m13 0h0m8 0h0m13 0h0m2 0h0m2 0h0m4 0h0m1 0h0m-45 1h0m9 0h0m11 0h0m9 0h0m2 0h0m1 0h0m3 0h0m1 0h0m1 0h0m10 0h0m2 0h0m-45 1h0m13 0h0m5 0h0m2 0h0m2 0h0m20 0h0m-47 1h0m9 0h0m17 0h0m5 0h0m3 0h0m3 0h0m16 0h0m-39 1h0m2 0h0m4 0h0m14 0h0m12 0h0m-41 1h0m1 0h0m8 0h0m8 0h0m4 0h0m8 0h0m2 0h0m8 0h0m1 0h0m1 0h0m2 0h0m2 0h0m1 0h0m-42 1h0m4 0h0m3 0h0m6 0h0m4 0h0m6 0h0m3 0h0m13 0h0m-47 1h0m1 0h0m10 0h0m13 0h0m2 0h0m2 0h0m6 0h0m3 0h0m11 0h0m-52 1h0m10 0h0m6 0h0m1 0h0m14 0h0m5 0h0m9 0h0m2 0h0m7 0h0m-50 1h0m1 0h0m16 0h0m20 0h0m6 0h0m1 0h0m1 0h0m-42 1h0m4 0h0m11 0h0m14 0h0m1 0h0m5 0h0m1 0h0m6 0h0m1 0h0m1 0h0m-44 1h0m4 0h0m5 0h0m8 0h0m5 0h0m1 0h0m21 0h0m-21 1h0m24 0h0m-56 1h0m1 0h0m5 0h0m11 0h0m13 0h0m1 0h0m3 0h0m10 0h0m5 0h0m4 0h0m-53 1h0m11 0h0m17 0h0m14 0h0m4 0h0m7 0h0m4 0h0m-55 1h0m10 0h0m4 0h0m19 0h0m5 0h0m1 0h0m3 0h0m8 0h0m-51 1h0m8 0h0m3 0h0m1 0h0m2 0h0m13 0h0m16 0h0m9 0h0m3 0h0m-56 1h0m4 0h0m14 0h0m4 0h0m2 0h0m2 0h0m24 0h0m2 0h0m2 0h0m-52 1h0m3 0h0m23 0h0m6 0h0m1 0h0m9 0h0m1 0h0m6 0h0m-50 1h0m3 0h0m14 0h0m2 0h0m2 0h0m8 0h0m4 0h0m6 0h0m-34 1h0m6 0h0m5 0h0m3 0h0m3 0h0m10 0h0m11 0h0m2 0h0m3 0h0m1 0h0m2 0h0m-51 1h0m11 0h0m6 0h0m3 0h0m5 0h0m4 0h0m3 0h0m15 0h0m-50 1h0m5 0h0m12 0h0m9 0h0m6 0h0m5 0h0m2 0h0m2 0h0m14 0h0m-55 1h0m7 0h0m8 0h0m2 0h0m2 0h0m6 0h0m12 0h0m-32 1h0m11 0h0m9 0h0m2 0h0m4 0h0m3 0h0m7 0h0m5 0h0m1 0h0m2 0h0m-40 1h0m3 0h0m2 0h0m7 0h0m4 0h0m1 0h0m3 0h0m2 0h0m4 0h0m8 0h0m2 0h0m5 0h0m-36 1h0m12 0h0m5 0h0m21 0h0m-56 1h0m7 0h0m5 0h0m7 0h0m8 0h0m18 0h0m1 0h0m3 0h0m1 0h0m3 0h0m3 0h0m-48 1h0m3 0h0m1 0h0m8 0h0m3 0h0m3 0h0m9 0h0m19 0h0m1 0h0m1 0h0m-33 1h0m6 0h0m1 0h0m6 0h0m10 0h0m5 0h0m4 0h0m-42 1h0m18 0h0m2 0h0m5 0h0m4 0h0m4 0h0m2 0h0m2 0h0m-36 1h0m3 0h0m18 0h0m8 0h0m5 0h0m4 0h0m1 0h0m-48 1h0m4 0h0m11 0h0m1 0h0m2 0h0m15 0h0m5 0h0m5 0h0m6 0h0m-52 1h0m2 0h0m20 0h0m14 0h0m3 0h0m9 0h0m3 0h0m2 0h0m2 0h0m-51 1h0m2 0h0m9 0h0m3 0h0m3 0h0m1 0h0m3 0h0m3 0h0m3 0h0m12 0h0m5 0h0m5 0h0m1 0h0m-50 1h0m4 0h0m3 0h0m2 0h0m2 0h0m6 0h0m5 0h0m7 0h0m1 0h0m8 0h0m13 0h0m-58 1h0m7 0h0m2 0h0m8 0h0m2 0h0m4 0h0m11 0h0m1 0h0m1 0h0m19 0h0m1 0h0m1 0h0m2 0h0m-52 1h0m6 0h0m7 0h0m4 0h0m1 0h0m15 0h0m1 0h0m1 0h0m17 0h0m2 0h0m-53 1h0m3 0h0m5 0h0m2 0h0m15 0h0m4 0h0m3 0h0m4 0h0m13 0h0m-31 1h0m1 0h0m3 0h0m-30 1h0m5 0h0m2 0h0m7 0h0m1 0h0m5 0h0m2 0h0m4 0h0m1 0h0m10 0h0m15 0h0m6 0h0m-54 1h0m13 0h0m9 0h0m1 0h0m22 0h0m1 0h0m10 0h0m-36 1h0m12 0h0m4 0h0m8 0h0m-20 1h0m6 0h0m2 0h0m1 0h0m3 0h0m3 0h0m6 0h0m-14 1h0m8 0h0m13 0h0m-26 1h0m3 0h0m6 0h0m3 0h0m4 0h0m2 0h0m-1 1h0m11 0h0m1 0h0m-27 2h0m7 0h0m1 0h0m7 0h0m1 0h0m1 0h0m2 0h0m8 0h0m-23 1h0m19 0h0m7 0h0m-15 1h0m2 0h0m2 0h0m2 0h0m-11 1h0m3 1h0m9 0h0m-8 1h0m8 0h0m8 0h0m-24 1h0m17 0h0m1 0h0m-13 1h0m1 0h0m10 0h0m7 0h0m-12 1h0m10 0h0m-10 1h0m6 0h0m3 0h0m-11 1h0m2 0h0m2 0h0m1 0h0m-6 1h0m5 0h0m3 0h0m3 0h0m1 0h0m3 0h0m-11 1h0m1 0h0m5 0h0m-1 1h0m5 0h0m2 0h0m-9 1h0m1 0h0m-6 2h0m10 0h0m-1 1h0m0 1h0m1 0h0m3 1h0m-2 1h0m22 4h0m-6 1h0m12 0h0m-28 1h0m3 0h0m3 0h0m14 0h0m3 0h0m-21 1h0m5 0h0m9 0h0m7 0h0m1 0h0m-4 1h0m6 0h0m-21 2h0m4 0h0m16 0h0m2 0h0m1 0h0m-3 1h0m-20 1h0m1 0h0m9 0h0m1 0h0m1 0h0m-10 1h0m2 0h0m8 0h0m3 0h0m-5 1h0m5 0h0m2 0h0m4 0h0m-6 1h0m3 0h0m1 0h0m-19 1h0m2 0h0m20 0h0m-19 1h0m13 0h0m-12 1h0m1 0h0m11 0h0m1 0h0m-20 1h0m6 0h0m1 2h0m-7 1h0m5 0h0m-1 2h0"/>
<path transform="scale(.5)" stroke="#55B996" stroke-width="2.56" stroke-linecap="round" fill="none" d="M778 174h0m4 0h0m-2 2h0m4 0h0m3 0h0m-7 2h0m-5 1h0m4 0h0m2 0h0m0 1h0m2 0h0m-11 1h0m1 0h0m-4 1h0m1 0h0m4 0h0m1 0h0m-4 1h0m14 0h0m-11 1h0m4 0h0m-1 1h0m-11 1h0m3 0h0m1 0h0m1 0h0m10 0h0m-17 1h0m11 0h0m6 0h0m-10 1h0m3 0h0m7 0h0m-13 1h0m1 0h0m1 0h0m1 0h0m7 0h0m1 0h0m-13 1h0m13 0h0m1 0h0m2 0h0m-17 2h0m3 1h0m-5 1h0m2 0h0m2 1h0m8 0h0m-9 1h0m-3 1h0m3 0h0m8 0h0m2 0h0m-13 1h0m3 0h0m2 0h0m-5 1h0m5 0h0m3 0h0m1 0h0m-5 2h0m3 0h0m-2 1h0m3 0h0m4 0h0m-9 1h0m5 0h0m-5 1h0m4 0h0m1 0h0m-3 1h0m1 0h0m4 2h0m3 0h0m1 2h0m-9 2h0"/>
<path transform="scale(.5)" stroke="#5AAFE1" stroke-width="2.56" stroke-linecap="round" fill="none" d="M807 259h0m9 1h0m1 0h0m-11 1h0m1 0h0m1 0h0m6 0h0m-2 1h0m1 0h0m-1 1h0m3 0h0m-9 1h0m2 0h0m1 0h0m8 0h0m0 1h0m1 0h0m-7 1h0m7 0h0m1 0h0m-7 1h0m10 0h0m-3 1h0m3 1h0m-13 1h0m7 0h0m5 0h0m1 0h0m-9 2h0m5 0h0m2 0h0m1 1h0m-1 1h0m31 0h0m-30 1h0m24 0h0m3 0h0m-33 1h0m7 0h0m24 0h0m-8 1h0m7 0h0m2 0h0m-5 1h0m8 0h0m2 0h0m-8 1h0m1 0h0m6 0h0m6 0h0m1 0h0m-19 1h0m11 0h0m-8 2h0m5 0h0m2 0h0m7 0h0m3 1h0m-3 1h0m11 0h0m-5 1h0m1 0h0m-6 1h0m1 0h0m5 0h0m-7 1h0m12 0h0m-22 1h0m16 1h0m6 0h0m-12 1h0m3 0h0m4 0h0m4 0h0m-5 1h0m6 0h0m-5 1h0m-3 1h0m6 0h0m4 0h0"/>
<path transform="scale(.5)" stroke="#6E96F0" stroke-width="2.56" stroke-linecap="round" fill="none" d="M929 201h0m2 0h0m4 2h0m1 0h0m-12 1h0m9 0h0m-13 1h0m3 0h0m4 0h0m-5 1h0m1 0h0m6 0h0m-5 1h0m6 0h0m-14 1h0m6 0h0m9 0h0m2 0h0m-16 1h0m15 0h0m2 0h0m2 0h0m-20 1h0m8 0h0m5 0h0m4 0h0m-13 1h0m2 0h0m1 0h0m2 0h0m5 0h0m7 0h0m3 0h0m-20 1h0m8 0h0m2 0h0m7 0h0m1 1h0m2 0h0m-7 1h0m-12 1h0m6 0h0m8 0h0m2 0h0m-22 1h0m1 0h0m20 0h0m4 0h0m-19 1h0m1 0h0m1 0h0m8 0h0m3 0h0m3 0h0m1 0h0m2 0h0m-12 1h0m4 0h0m2 0h0m2 0h0m-20 1h0m16 0h0m3 0h0m-7 1h0m11 0h0m-18 1h0m9 0h0m8 0h0m-20 2h0m-1 1h0m7 0h0m12 0h0m-18 1h0m8 0h0m-8 1h0m-2 1h0"/>
<path transform="scale(.5)" stroke="#96AA1E" stroke-width="2.56" stroke-linecap="round" fill="none" d="M842 167h0m2 0h0m-13 1h0m14 0h0m1 0h0m-17 2h0m10 0h0m5 0h0m1 0h0m-16 2h0m8 0h0m2 0h0m5 0h0m7 0h0m2 0h0m-16 1h0m4 0h0m1 0h0m4 0h0m-17 1h0m-4 1h0m3 0h0m15 0h0m10 0h0m1 0h0m-25 1h0m20 0h0m-6 1h0m3 0h0m4 0h0m-22 1h0m15 0h0m3 0h0m2 0h0m1 0h0m6 0h0m-27 1h0m18 0h0m-19 1h0m8 0h0m15 0h0m16 0h0m-40 1h0m5 0h0m13 0h0m1 0h0m-9 1h0m5 0h0m-13 1h0m2 0h0m6 0h0m4 0h0m7 0h0m2 0h0m5 0h0m2 0h0m-29 1h0m2 0h0m3 0h0m12 0h0m5 0h0m3 0h0m5 0h0m11 0h0m-42 1h0m2 0h0m1 0h0m5 0h0m21 0h0m2 0h0m3 0h0m-25 1h0m10 0h0m1 0h0m5 0h0m6 0h0m5 0h0m-39 1h0m3 0h0m1 0h0m19 0h0m18 0h0m4 0h0m-42 1h0m4 0h0m9 0h0m5 0h0m7 0h0m7 0h0m6 0h0m2 0h0m5 0h0m-47 1h0m2 0h0m1 0h0m4 0h0m9 0h0m10 0h0m1 0h0m10 0h0m7 0h0m-36 1h0m2 0h0m1 0h0m2 0h0m27 0h0m2 0h0m-28 1h0m11 0h0m2 0h0m23 0h0m5 0h0m1 0h0m-54 1h0m4 0h0m5 0h0m3 0h0m5 0h0m32 0h0m-44 1h0m4 0h0m4 0h0m9 0h0m3 0h0m8 0h0m1 0h0m5 0h0m2 0h0m9 0h0m-51 1h0m10 0h0m15 0h0m12 0h0m8 0h0m2 0h0m1 0h0m1 0h0m-47 1h0m4 0h0m35 0h0m3 0h0m2 0h0m-48 1h0m10 0h0m14 0h0m9 0h0m3 0h0m6 0h0m4 0h0m-33 1h0m15 0h0m9 0h0m7 0h0m11 0h0m-45 1h0m13 0h0m5 0h0m11 0h0m6 0h0m13 0h0m2 0h0m-50 1h0m13 0h0m4 0h0m1 0h0m25 0h0m-50 1h0m3 0h0m1 0h0m5 0h0m16 0h0m11 0h0m1 0h0m9 0h0m1 0h0m9 0h0m-49 1h0m16 0h0m4 0h0m15 0h0m-39 1h0m1 0h0m3 0h0m20 0h0m2 0h0m11 0h0m7 0h0m-46 1h0m7 0h0m2 0h0m2 0h0m9 0h0m15 0h0m3 0h0m6 0h0m2 0h0m-46 1h0m6 0h0m1 0h0m2 0h0m5 0h0m17 0h0m5 0h0m1 0h0m4 0h0m5 0h0m6 0h0m3 0h0m1 0h0m-55 1h0m1 0h0m4 0h0m1 0h0m6 0h0m26 0h0m13 0h0m1 0h0m-57 1h0m14 0h0m2 0h0m2 0h0m3 0h0m1 0h0m15 0h0m-32 1h0m1 0h0m12 0h0m6 0h0m1 0h0m3 0h0m2 0h0m4 0h0m3 0h0m9 0h0m4 0h0m5 0h0m3 0h0m-35 1h0m6 0h0m3 0h0m10 0h0m4 0h0m1 0h0m8 0h0m3 0h0m-51 1h0m7 0h0m12 0h0m10 0h0m5 0h0m9 0h0m-49 1h0m3 0h0m4 0h0m14 0h0m5 0h0m5 0h0m4 0h0m4 0h0m17 0h0m1 0h0m1 0h0m2 0h0m-62 1h0m3 0h0m3 0h0m16 0h0m7 0h0m6 0h0m9 0h0m3 0h0m1 0h0m14 0h0m-61 1h0m6 0h0m1 0h0m2 0h0m18 0h0m7 0h0m4 0h0m4 0h0m-38 1h0m2 0h0m7 0h0m6 0h0m20 0h0m1 0h0m15 0h0m1 0h0m-57 1h0m16 0h0m1 0h0m3 0h0m2 0h0m3 0h0m4 0h0m15 0h0m5 0h0m1 0h0m8 0h0m-52 1h0m2 0h0m17 0h0m8 0h0m3 0h0m10 0h0m2 0h0m3 0h0m-39 1h0m4 0h0m5 0h0m1 0h0m2 0h0m10 0h0m2 0h0m9 0h0m4 0h0m9 0h0m4 0h0m-60 1h0m1 0h0m1 0h0m11 0h0m1 0h0m10 0h0m2 0h0m9 0h0m3 0h0m1 0h0m5 0h0m7 0h0m-52 1h0m2 0h0m7 0h0m3 0h0m6 0h0m8 0h0m12 0h0m7 0h0m4 0h0m5 0h0m1 0h0m-39 1h0m14 0h0m15 0h0m5 0h0m2 0h0m1 0h0m2 0h0m-56 1h0m5 0h0m7 0h0m1 0h0m2 0h0m1 0h0m7 0h0m1 0h0m8 0h0m13 0h0m3 0h0m2 0h0m1 0h0m1 0h0m4 0h0m-56 1h0m4 0h0m15 0h0m2 0h0m3 0h0m10 0h0m4 0h0m6 0h0m13 0h0m-53 1h0m7 0h0m5 0h0m3 0h0m21 0h0m6 0h0m3 0h0m9 0h0m-44 1h0m9 0h0m1 0h0m5 0h0m5 0h0m11 0h0m5 0h0m10 0h0m-54 1h0m4 0h0m13 0h0m1 0h0m13 0h0m9 0h0m2 0h0m-42 1h0m1 0h0m4 0h0m5 0h0m1 0h0m1 0h0m11 0h0m20 0h0m1 0h0m-26 1h0m3 0h0m10 0h0m3 0h0m8 0h0m6 0h0m4 0h0m-40 1h0m1 0h0m4 0h0m4 0h0m8 0h0m17 0h0m8 0h0m-62 1h0m1 0h0m7 0h0m7 0h0m9 0h0m2 0h0m1 0h0m3 0h0m7 0h0m20 0h0m-53 1h0m5 0h0m1 0h0m20 0h0m4 0h0m16 0h0m-37 1h0m4 0h0m11 0h0m11 0h0m15 0h0m-53 1h0m3 0h0m7 0h0m6 0h0m15 0h0m7 0h0m18 0h0m-54 1h0m7 0h0m2 0h0m26 0h0m2 0h0m1 0h0m3 0h0m3 0h0m-42 1h0m12 0h0m7 0h0m9 0h0m3 0h0m4 0h0m1 0h0m6 0h0m6 0h0m-37 1h0m1 0h0m4 0h0m11 0h0m12 0h0m1 0h0m6 0h0m8 0h0m-53 1h0m4 0h0m4 0h0m10 0h0m7 0h0m1 0h0m2 0h0m3 0h0m8 0h0m1 0h0m1 0h0m6 0h0m7 0h0m1 0h0m-63 1h0m2 0h0m3 0h0m10 0h0m4 0h0m11 0h0m4 0h0m8 0h0m3 0h0m12 0h0m-55 1h0m5 0h0m5 0h0m1 0h0m4 0h0m5 0h0m1 0h0m2 0h0m3 0h0m1 0h0m2 0h0m6 0h0m12 0h0m1 0h0m2 0h0m4 0h0m3 0h0m-55 1h0m1 0h0m2 0h0m5 0h0m24 0h0m7 0h0m-38 1h0m12 0h0m5 0h0m7 0h0m9 0h0m6 0h0m15 0h0m-57 1h0m2 0h0m7 0h0m1 0h0m6 0h0m2 0h0m10 0h0m6 0h0m5 0h0m8 0h0m2 0h0m9 0h0m2 0h0m-60 1h0m4 0h0m4 0h0m12 0h0m7 0h0m21 0h0m5 0h0m6 0h0m-60 1h0m7 0h0m4 0h0m6 0h0m2 0h0m3 0h0m5 0h0m7 0h0m8 0h0m5 0h0m-49 1h0m2 0h0m8 0h0m17 0h0m6 0h0m7 0h0m12 0h0m2 0h0m1 0h0m6 0h0m3 0h0m-44 1h0m4 0h0m8 0h0m3 0h0m8 0h0m11 0h0m2 0h0m8 0h0m-39 1h0m1 0h0m3 0h0m4 0h0m1 0h0m9 0h0m5 0h0m1 0h0m5 0h0m-45 1h0m6 0h0m18 0h0m2 0h0m1 0h0m8 0h0m8 0h0m-41 1h0m2 0h0m9 0h0m1 0h0m4 0h0m10 0h0m6 0h0m1 0h0m2 0h0m4 0h0m2 0h0m1 0h0m-48 1h0m16 0h0m1 0h0m13 0h0m5 0h0m2 0h0m8 0h0m5 0h0m8 0h0m-61 1h0m6 0h0m4 0h0m21 0h0m3 0h0m7 0h0m-30 1h0m4 0h0m8 0h0m2 0h0m1 0h0m2 0h0m4 0h0m8 0h0m11 0h0m1 0h0m4 0h0m1 0h0m-55 1h0m7 0h0m5 0h0m2 0h0m1 0h0m2 0h0m5 0h0m9 0h0m8 0h0m3 0h0m5 0h0m6 0h0m6 0h0m2 0h0m-62 1h0m13 0h0m1 0h0m1 0h0m14 0h0m1 0h0m1 0h0m4 0h0m8 0h0m-46 1h0m10 0h0m21 0h0m13 0h0m3 0h0m3 0h0m9 0h0m-57 1h0m1 0h0m4 0h0m7 0h0m5 0h0m2 0h0m13 0h0m25 0h0m-54 1h0m10 0h0m3 0h0m4 0h0m26 0h0m1 0h0m2 0h0m4 0h0m2 0h0m1 0h0m1 0h0m3 0h0m-56 1h0m8 0h0m3 0h0m11 0h0m7 0h0m1 0h0m19 0h0m-51 1h0m1 0h0m4 0h0m4 0h0m7 0h0m5 0h0m6 0h0m4 0h0m6 0h0m8 0h0m7 0h0m-44 1h0m10 0h0m1 0h0m20 0h0m2 0h0m1 0h0m4 0h0m8 0h0m2 0h0m-50 1h0m2 0h0m1 0h0m14 0h0m11 0h0m3 0h0m5 0h0m2 0h0m4 0h0m2 0h0m1 0h0m1 0h0m3 0h0m1 0h0m3 0h0m-54 1h0m5 0h0m3 0h0m9 0h0m2 0h0m1 0h0m3 0h0m4 0h0m6 0h0m2 0h0m3 0h0m1 0h0m11 0h0m-54 1h0m1 0h0m4 0h0m6 0h0m3 0h0m4 0h0m2 0h0m9 0h0m16 0h0m7 0h0m-41 1h0m5 0h0m2 0h0m7 0h0m9 0h0m10 0h0m9 0h0m1 0h0m1 0h0m-20 1h0m6 0h0m1 0h0m1 0h0m-9 1h0m3 0h0m4 0h0m5 0h0m-20 1h0m13 1h0m-18 1h0m4 0h0m2 0h0m8 0h0m5 0h0m-14 1h0m8 0h0m6 0h0m-14 1h0m6 0h0m7 0h0m-14 1h0m7 0h0m1 0h0m7 0h0m-15 1h0m1 0h0m13 0h0m-3 2h0"/>
<path transform="scale(.5)" stroke="#C86EEB" stroke-width="2.56" stroke-linecap="round" fill="none" d="M889 219h0m7 0h0m-5 1h0m1 0h0m-5 1h0m4 0h0m6 1h0m3 0h0m-11 1h0m-2 1h0m13 0h0m-13 1h0m7 0h0m-1 1h0m-3 1h0m3 0h0m1 0h0m7 0h0m1 0h0m1 0h0m-16 1h0m1 0h0m1 0h0m2 1h0m12 0h0m-20 1h0m3 0h0m8 0h0m-7 1h0m2 0h0m-3 1h0m3 0h0m1 0h0m2 1h0m3 0h0m4 0h0m4 0h0m-11 1h0m6 0h0m-12 1h0m1 0h0m7 0h0m2 0h0m-13 1h0m6 0h0m7 0h0m2 0h0m-5 1h0m8 0h0m1 0h0m-10 1h0m3 0h0m2 0h0m-11 1h0m5 0h0m2 0h0m4 0h0m3 0h0m-4 1h0m-2 1h0m8 0h0m-9 1h0m2 0h0"/>
<path transform="scale(.5)" stroke="#CD9128" stroke-width="2.56" stroke-linecap="round" fill="none" d="M810 170h0m5 0h0m-4 1h0m-7 1h0m4 0h0m5 0h0m0 2h0m3 1h0m1 0h0m4 0h0m2 0h0m3 0h0m-7 1h0m6 0h0m-27 1h0m1 0h0m8 0h0m2 0h0m8 0h0m6 0h0m3 0h0m-28 1h0m4 0h0m-3 1h0m8 0h0m5 0h0m2 0h0m3 0h0m3 0h0m-23 1h0m5 0h0m1 0h0m9 0h0m-19 1h0m4 0h0m15 0h0m2 0h0m-19 1h0m15 0h0m3 0h0m1 0h0m1 0h0m1 0h0m2 0h0m1 0h0m7 0h0m-29 1h0m2 0h0m9 0h0m5 0h0m9 0h0m2 0h0m-31 1h0m7 0h0m3 0h0m1 0h0m2 0h0m1 0h0m11 0h0m5 0h0m-30 1h0m3 0h0m4 0h0m7 0h0m5 0h0m2 0h0m2 0h0m7 0h0m-15 1h0m4 0h0m2 0h0m5 0h0m6 0h0m-35 1h0m2 0h0m7 0h0m2 0h0m1 0h0m21 0h0m-24 1h0m6 0h0m4 0h0m-16 1h0m16 0h0m8 0h0m-22 1h0m4 0h0m2 0h0m5 0h0m5 0h0m7 0h0m-25 1h0m6 0h0m11 0h0m2 0h0m1 0h0m6 0h0m4 0h0m-35 1h0m16 0h0m3 0h0m1 0h0m9 0h0m4 0h0m-18 1h0m3 0h0m9 0h0m6 0h0m-31 1h0m6 0h0m21 0h0m-24 1h0m12 0h0m7 0h0m10 0h0m-28 1h0m3 0h0m1 0h0m9 0h0m2 0h0m3 0h0m8 0h0m2 0h0m-27 1h0m8 0h0m11 0h0m-23 1h0m11 0h0m10 0h0m3 0h0m2 0h0m-25 1h0m2 0h0m5 0h0m2 0h0m7 0h0m3 0h0m3 0h0m2 0h0m5 0h0m2 0h0m-37 1h0m3 0h0m4 0h0m6 0h0m6 1h0m1 0h0m7 0h0m-4 1h0m3 0h0m-15 1h0m10 0h0m4 0h0m2 0h0m1 0h0m1 0h0m-24 1h0m8 0h0m0 1h0m3 0h0m7 0h0m-17 1h0m2 0h0m6 0h0m6 0h0m1 0h0m14 0h0m-26 1h0m5 0h0m8 0h0m7 0h0m2 0h0m3 0h0m1 0h0m-35 1h0m12 0h0m2 0h0m4 0h0m1 0h0m1 0h0m1 0h0m5 0h0m10 0h0m-34 1h0m1 0h0m1 0h0m20 0h0m3 0h0m-18 1h0m4 0h0m12 0h0m4 0h0m-30 1h0m13 0h0m13 0h0m3 0h0m3 0h0m-32 1h0m12 0h0m7 0h0m4 0h0m3 0h0m-2 1h0m1 0h0m2 0h0m4 0h0m1 0h0m-31 1h0m5 0h0m2 0h0m5 0h0m1 0h0m10 0h0m-9 1h0m2 0h0m2 0h0m6 0h0m2 0h0m-24 1h0m1 0h0m5 0h0m11 0h0m9 0h0m1 0h0m2 0h0m3 0h0m-33 1h0m6 0h0m2 0h0m2 0h0m10 0h0m15 0h0m-36 1h0m1 0h0m3 0h0m1 0h0m10 0h0m8 0h0m5 0h0m-25 1h0m3 0h0m5 0h0m8 0h0m1 0h0m1 0h0m7 0h0m1 0h0m-26 1h0m2 0h0m4 0h0m2 0h0m6 0h0m-13 1h0m1 0h0m7 0h0m11 0h0m2 0h0m-25 1h0m5 0h0m1 0h0m5 0h0m1 0h0m1 0h0m7 0h0m7 0h0m-29 1h0m4 0h0m6 0h0m5 0h0m3 0h0m3 0h0m5 0h0m-19 1h0m9 0h0m10 0h0m3 0h0m5 0h0m-16 1h0m3 0h0m4 0h0m1 0h0m6 0h0m-22 1h0m5 0h0m1 0h0m5 0h0m6 0h0m5 0h0m-35 1h0m5 0h0m1 0h0m2 0h0m2 0h0m3 0h0m9 0h0m-16 1h0m7 0h0m10 0h0m1 0h0m9 0h0m-33 1h0m5 0h0m11 0h0m15 0h0m7 0h0m-35 1h0m20 0h0m3 0h0m4 0h0m-9 1h0m1 0h0m5 0h0m10 0h0m-31 1h0m7 0h0m6 0h0m2 0h0m2 0h0m9 0h0m5 0h0m1 0h0m-18 1h0m2 0h0m3 0h0m4 0h0m-28 1h0m5 0h0m1 0h0m8 0h0m12 0h0m3 0h0m8 0h0m-33 1h0m4 0h0m1 0h0m5 0h0m16 0h0m-28 1h0m2 0h0m7 0h0m6 0h0m8 0h0m8 0h0m-19 1h0m12 0h0m9 0h0m-35 1h0m3 0h0m1 0h0m4 0h0m3 0h0m4 0h0m7 0h0m1 0h0m1 0h0m9 0h0m3 0h0m-34 1h0m5 0h0m13 0h0m3 0h0m1 0h0m6 0h0m4 0h0m-29 1h0m5 0h0m6 0h0m6 0h0m4 0h0m6 0h0m-31 1h0m7 0h0m1 0h0m3 0h0m1 0h0m9 0h0m2 0h0m-17 2h0m21 0h0m1 0h0m-21 1h0m6 0h0m10 0h0m6 0h0m1 0h0m3 0h0m-33 1h0m3 0h0m1 0h0m8 0h0m10 0h0m7 0h0m3 0h0m-25 1h0m1 0h0m7 0h0m2 0h0m7 0h0m5 0h0m-23 1h0m5 0h0m7 0h0m13 0h0m-30 1h0m2 0h0m8 0h0m3 0h0m10 0h0m1 0h0m2 0h0m-22 1h0m10 0h0m1 0h0m15 0h0m-17 1h0m3 0h0m1 0h0m1 0h0m-11 1h0m9 0h0m2 1h0m-10 1h0m3 0h0m-3 1h0m8 0h0m3 0h0m3 0h0m1 0h0m0 1h0m3 0h0m-17 1h0m8 0h0m3 0h0m2 0h0m-11 1h0m6 0h0m6 2h0"/>
<path transform="scale(.5)" stroke="#E15AB9" stroke-width="2.56" stroke-linecap="round" fill="none" d="M799 139h0m5 5h0m120 91h0m-3 2h0m8 1h0m-7 1h0m1 1h0m3 0h0m-10 1h0m9 0h0m3 0h0m-11 3h0m8 0h0m-4 1h0m-8 1h0m1 1h0m5 0h0m-8 2h0m-12 4h0m1 1h0m1 0h0m1 0h0m1 0h0m-3 2h0m2 0h0m-2 3h0m4 2h0m7 0h0m-7 2h0m1 0h0m-1 1h0m-4 1h0m6 0h0m0 2h0"/>
<path transform="scale(.5)" stroke="#E26E69" stroke-width="2.56" stroke-linecap="round" fill="none" d="M901 117h0m-1 1h0m-4 2h0m5 1h0m1 0h0m-1 1h0m6 1h0m-4 1h0m5 0h0m-2 1h0m4 0h0m-16 1h0m9 0h0m7 0h0m-16 1h0m11 0h0m3 0h0m1 0h0m1 0h0m1 1h0m2 0h0m1 0h0m2 0h0m2 0h0m-25 1h0m9 0h0m4 0h0m1 0h0m5 0h0m-10 1h0m8 0h0m1 0h0m-21 1h0m1 0h0m10 0h0m15 0h0m-25 1h0m7 0h0m3 0h0m1 0h0m6 0h0m1 0h0m8 0h0m-12 1h0m1 0h0m11 0h0m-27 1h0m1 0h0m4 0h0m1 0h0m2 0h0m1 0h0m2 0h0m16 0h0m-4 1h0m5 0h0m-29 1h0m1 0h0m5 0h0m1 0h0m6 0h0m9 0h0m3 0h0m6 0h0m-18 1h0m2 0h0m18 0h0m-29 1h0m2 0h0m7 0h0m5 0h0m4 0h0m3 0h0m2 0h0m2 0h0m3 0h0m-23 1h0m12 0h0m-18 1h0m1 0h0m2 0h0m7 0h0m8 0h0m5 0h0m-16 1h0m5 0h0m1 0h0m5 0h0m9 0h0m-20 1h0m4 0h0m11 0h0m2 0h0m2 0h0m4 0h0m-24 1h0m10 0h0m4 0h0m1 0h0m1 0h0m-22 1h0m12 0h0m7 0h0m-20 1h0m13 0h0m10 0h0m-30 1h0m4 0h0m1 0h0m2 0h0m2 0h0m2 0h0m9 0h0m5 0h0m4 0h0m3 0h0m1 0h0m-26 1h0m3 0h0m2 0h0m4 0h0m9 0h0m2 0h0m3 0h0m4 0h0m3 0h0m5 0h0m-40 1h0m7 0h0m5 0h0m2 0h0m2 0h0m2 0h0m14 0h0m8 0h0m1 0h0m-41 1h0m10 0h0m7 0h0m7 0h0m1 0h0m4 0h0m1 0h0m1 0h0m1 0h0m1 0h0m9 0h0m-42 1h0m10 0h0m8 0h0m9 0h0m1 0h0m5 0h0m4 0h0m-34 1h0m5 0h0m1 0h0m2 0h0m2 0h0m9 0h0m5 0h0m1 0h0m2 0h0m-29 1h0m4 0h0m2 0h0m12 0h0m5 0h0m1 0h0m1 0h0m-10 1h0m1 0h0m8 0h0m7 0h0m6 0h0m-33 1h0m12 0h0m2 0h0m2 0h0m14 0h0m2 0h0m1 0h0m-35 1h0m2 0h0m2 0h0m8 0h0m9 0h0m2 0h0m13 0h0m-31 1h0m3 0h0m3 0h0m1 0h0m3 0h0m24 0h0m-32 1h0m5 0h0m-17 1h0m2 0h0m1 0h0m8 0h0m13 0h0m8 0h0m4 0h0m7 0h0m-39 1h0m2 0h0m4 0h0m3 0h0m9 0h0m1 0h0m6 0h0m7 0h0m-29 1h0m2 0h0m4 0h0m23 0h0m7 0h0m-44 1h0m11 0h0m1 0h0m10 0h0m7 0h0m4 0h0m3 0h0m-26 1h0m4 0h0m9 0h0m5 0h0m4 0h0m2 0h0m5 0h0m1 0h0m4 0h0m-41 1h0m5 0h0m3 0h0m13 0h0m1 0h0m2 0h0m1 0h0m13 0h0m-31 1h0m11 0h0m14 0h0m-33 1h0m2 0h0m4 0h0m7 0h0m21 0h0m-27 1h0m7 0h0m2 0h0m2 0h0m7 0h0m5 0h0m-18 1h0m1 0h0m15 0h0m-30 1h0m4 0h0m12 0h0m6 0h0m5 0h0m10 0h0m4 0h0m-39 1h0m1 0h0m18 0h0m1 0h0m4 0h0m5 0h0m-27 1h0m8 0h0m11 0h0m20 0h0m-38 1h0m17 0h0m10 0h0m9 0h0m1 0h0m-40 1h0m8 0h0m4 0h0m7 0h0m8 0h0m6 0h0m-13 1h0m3 0h0m4 0h0m1 0h0m6 0h0m1 0h0m-21 1h0m11 0h0m2 0h0m3 0h0m3 0h0m-34 1h0m4 0h0m8 0h0m23 0h0m1 0h0m1 0h0m3 0h0m-6 1h0m-20 1h0m2 0h0m16 0h0m8 0h0m-31 1h0m9 0h0m8 0h0m7 0h0m2 0h0m-11 1h0m4 0h0m4 0h0m7 0h0m-24 1h0m12 0h0m3 0h0m4 0h0m1 0h0m-25 1h0m1 0h0m11 0h0m13 0h0m2 0h0m1 0h0m-33 1h0m5 0h0m4 0h0m14 0h0m4 0h0m3 0h0m2 0h0m-35 1h0m2 0h0m2 0h0m1 0h0m10 0h0m1 0h0m7 0h0m4 0h0m-15 1h0m6 0h0m11 0h0m7 0h0m-32 1h0m3 0h0m1 0h0m3 0h0m2 0h0m12 0h0m9 0h0m-30 1h0m8 0h0m13 0h0m-18 1h0m2 0h0m1 0h0m5 0h0m9 0h0m3 0h0m2 0h0m2 0h0m-20 1h0m7 0h0m1 0h0m3 0h0m2 0h0m-17 1h0m4 0h0m1 0h0m-8 1h0m24 0h0m1 0h0m-19 1h0m5 0h0m15 0h0m5 0h0m-30 1h0m11 0h0m-9 1h0m8 0h0m6 0h0m2 0h0m3 0h0m1 0h0m2 0h0m-20 1h0m1 0h0m7 0h0m2 0h0m9 0h0m1 0h0m3 0h0m-27 1h0m10 0h0m1 0h0m1 0h0m9 1h0m-13 1h0m9 0h0m-13 1h0"/>
<path transform="scale(.5)" stroke="#55B446" stroke-width="2.56" stroke-linecap="round" fill="none" d="M867 81h0m-3 1h0m2 0h0m6 0h0m-18 1h0m4 1h0m7 0h0m3 0h0m-7 1h0m3 0h0m1 0h0m3 0h0m5 0h0m-22 1h0m7 0h0m14 0h0m1 0h0m-24 1h0m9 0h0m-8 1h0m6 0h0m2 0h0m7 0h0m1 0h0m-20 1h0m5 1h0m3 1h0m4 0h0m1 0h0m3 0h0m6 0h0m2 0h0m5 0h0m-28 1h0m15 0h0m3 0h0m11 0h0m-22 1h0m7 0h0m4 0h0m5 0h0m8 0h0m-32 1h0m1 0h0m2 0h0m4 0h0m5 0h0m-15 1h0m6 0h0m11 0h0m11 0h0m-29 1h0m9 0h0m7 0h0m1 0h0m4 0h0m2 0h0m-20 1h0m1 0h0m11 0h0m2 0h0m18 0h0m-30 1h0m3 0h0m5 0h0m4 0h0m1 0h0m1 0h0m6 0h0m3 0h0m4 0h0m-29 1h0m4 0h0m7 0h0m3 0h0m2 0h0m2 0h0m1 0h0m-13 1h0m1 0h0m3 0h0m2 0h0m3 0h0m10 0h0m3 0h0m-22 1h0m2 0h0m5 0h0m1 0h0m2 0h0m-21 1h0m4 0h0m15 0h0m22 0h0m1 0h0m-36 1h0m6 0h0m3 0h0m5 0h0m4 0h0m1 0h0m11 0h0m13 0h0m-41 1h0m9 0h0m3 0h0m4 0h0m9 0h0m6 0h0m-30 1h0m5 0h0m11 0h0m5 0h0m13 0h0m-38 1h0m13 0h0m3 0h0m1 0h0m9 0h0m3 0h0m1 0h0m3 0h0m-34 1h0m10 0h0m1 0h0m7 0h0m7 0h0m26 0h0m-39 1h0m25 0h0m2 0h0m2 0h0m8 0h0m4 0h0m-26 1h0m17 0h0m-50 1h0m6 0h0m1 0h0m5 0h0m6 0h0m3 0h0m5 0h0m7 0h0m16 0h0m9 0h0m-53 1h0m2 0h0m7 0h0m45 0h0m-54 1h0m1 0h0m36 0h0m-42 1h0m2 0h0m57 0h0m-38 1h0m22 0h0m10 0h0m5 0h0m-53 1h0m35 0h0m14 0h0m4 0h0m-53 1h0m40 0h0m-44 1h0m18 0h0m26 0h0m6 0h0m6 0h0m-58 1h0m25 0h0m8 0h0m9 0h0m2 0h0m6 0h0m6 0h0m-35 1h0m21 0h0m15 0h0m-50 1h0m7 0h0m10 0h0m4 0h0m26 0h0m1 0h0m-51 1h0m4 0h0m13 0h0m3 0h0m1 0h0m4 0h0m2 0h0m2 0h0m4 0h0m3 0h0m-40 1h0m8 0h0m6 0h0m2 0h0m5 0h0m2 0h0m4 0h0m9 0h0m3 0h0m8 0h0m2 0h0m1 0h0m-47 1h0m5 0h0m6 0h0m3 0h0m1 0h0m6 0h0m7 0h0m15 0h0m4 0h0m3 0h0m-55 1h0m4 0h0m8 0h0m2 0h0m13 0h0m6 0h0m6 0h0m11 0h0m3 0h0m1 0h0m1 0h0m1 0h0m-55 1h0m4 0h0m14 0h0m5 0h0m1 0h0m9 0h0m3 0h0m7 0h0m8 0h0m4 0h0m-52 1h0m2 0h0m3 0h0m2 0h0m8 0h0m1 0h0m7 0h0m6 0h0m4 0h0m1 0h0m1 0h0m2 0h0m9 0h0m4 0h0m-55 1h0m7 0h0m9 0h0m6 0h0m12 0h0m14 0h0m1 0h0m4 0h0m-40 1h0m14 0h0m3 0h0m16 0h0m-42 1h0m12 0h0m35 0h0m4 0h0m1 0h0m-38 1h0m15 0h0m15 0h0m6 0h0m-49 1h0m3 0h0m2 0h0m2 0h0m5 0h0m5 0h0m6 0h0m14 0h0m8 0h0m-34 1h0m2 0h0m9 0h0m6 0h0m1 0h0m15 0h0m-44 1h0m1 0h0m7 0h0m20 0h0m2 0h0m3 0h0m12 0h0m-47 1h0m15 0h0m3 0h0m7 0h0m2 0h0m4 0h0m5 0h0m4 0h0m5 0h0m4 0h0m1 0h0m-55 1h0m1 0h0m13 0h0m2 0h0m29 0h0m2 0h0m2 0h0m-46 1h0m16 0h0m5 0h0m3 0h0m3 0h0m2 0h0m6 0h0m4 0h0m2 0h0m3 0h0m3 0h0m-43 1h0m4 0h0m13 0h0m1 0h0m6 0h0m2 0h0m13 0h0m-49 1h0m14 0h0m17 0h0m1 0h0m6 0h0m12 0h0m5 0h0m-30 1h0m7 0h0m2 0h0m17 0h0m1 0h0m-48 1h0m1 0h0m20 0h0m6 0h0m2 0h0m6 0h0m1 0h0m13 0h0m-39 1h0m4 0h0m2 0h0m8 0h0m19 0h0m-44 1h0m5 0h0m7 0h0m5 0h0m31 0h0m1 0h0m-47 1h0m1 0h0m1 0h0m5 0h0m3 0h0m2 0h0m7 0h0m7 0h0m5 0h0m19 0h0m1 0h0m-54 1h0m20 0h0m1 0h0m20 0h0m5 0h0m1 0h0m-50 1h0m6 0h0m15 0h0m3 0h0m3 0h0m5 0h0m1 0h0m2 0h0m2 0h0m16 0h0m-50 1h0m2 0h0m11 0h0m1 0h0m3 0h0m6 0h0m9 0h0m3 0h0m3 0h0m2 0h0m5 0h0m8 0h0m-52 1h0m1 0h0m6 0h0m2 0h0m1 0h0m12 0h0m8 0h0m6 0h0m9 0h0m-33 1h0m3 0h0m2 0h0m2 0h0m2 0h0m1 0h0m2 0h0m9 0h0m1 0h0m9 0h0m1 0h0m3 0h0m1 0h0m4 0h0m-55 1h0m15 0h0m4 0h0m7 0h0m2 0h0m5 0h0m2 0h0m11 0h0m6 0h0m-48 1h0m12 0h0m5 0h0m2 0h0m1 0h0m8 0h0m1 0h0m12 0h0m5 0h0m4 0h0m1 0h0m-58 1h0m17 0h0m6 0h0m2 0h0m3 0h0m1 0h0m1 0h0m4 0h0m5 0h0m2 0h0m1 0h0m7 0h0m-43 1h0m1 0h0m6 0h0m1 0h0m18 0h0m2 0h0m2 0h0m2 0h0m2 0h0m1 0h0m1 0h0m9 0h0m3 0h0m-41 1h0m1 0h0m1 0h0m5 0h0m5 0h0m11 0h0m3 0h0m3 0h0m4 0h0m4 0h0m2 0h0m3 0h0m2 0h0m1 0h0m-53 1h0m8 0h0m4 0h0m2 0h0m6 0h0m4 0h0m2 0h0m4 0h0m16 0h0m-46 1h0m8 0h0m16 0h0m3 0h0m1 0h0m9 0h0m2 0h0m7 0h0m2 0h0m1 0h0m-42 1h0m9 0h0m2 0h0m20 0h0m12 0h0m2 0h0m-47 1h0m2 0h0m5 0h0m1 0h0m3 0h0m12 0h0m2 0h0m12 0h0m6 0h0m2 0h0m1 0h0m3 0h0m-53 1h0m1 0h0m3 0h0m7 0h0m1 0h0m1 0h0m1 0h0m3 0h0m13 0h0m15 0h0m1 0h0m1 0h0m-50 1h0m11 0h0m4 0h0m1 0h0m3 0h0m5 0h0m5 0h0m1 0h0m1 0h0m1 0h0m4 0h0m1 0h0m1 0h0m5 0h0m6 0h0m-48 1h0m6 0h0m1 0h0m6 0h0m2 0h0m8 0h0m6 0h0m2 0h0m11 0h0m3 0h0m1 0h0m6 0h0m3 0h0m-55 1h0m3 0h0m11 0h0m11 0h0m2 0h0m5 0h0m4 0h0m4 0h0m7 0h0m-52 1h0m12 0h0m4 0h0m13 0h0m8 0h0m2 0h0m-35 1h0m7 0h0m2 0h0m10 0h0m9 0h0m4 0h0m5 0h0m1 0h0m1 0h0m7 0h0m-47 1h0m3 0h0m6 0h0m4 0h0m15 0h0m9 0h0m15 0h0m-52 1h0m8 0h0m4 0h0m6 0h0m10 0h0m3 0h0m1 0h0m12 0h0m3 0h0m6 0h0m-55 1h0m12 0h0m5 0h0m2 0h0m6 0h0m7 0h0m14 0h0m7 0h0m3 0h0m-56 1h0m13 0h0m1 0h0m6 0h0m13 0h0m3 0h0m9 0h0m3 0h0m-38 1h0m3 0h0m1 0h0m3 0h0m2 0h0m30 0h0m-15 1h0m6 0h0m1 0h0m3 0h0m1 0h0m-18 1h0m5 0h0m2 0h0m6 0h0m2 0h0m1 0h0m2 0h0m-39 1h0m44 0h0m-19 1h0m11 0h0m6 0h0m8 0h0m1 0h0m-23 1h0m2 0h0m1 0h0m1 0h0m2 0h0m1 0h0m2 0h0m3 0h0m1 0h0m6 0h0m1 0h0m-18 1h0m19 0h0m-25 1h0m4 0h0m2 0h0m1 0h0m2 0h0m1 0h0m2 0h0m1 0h0m2 0h0m1 0h0m-9 1h0m1 0h0m1 0h0m6 0h0m5 0h0m-16 1h0m1 0h0m6 0h0m4 0h0m4 0h0m7 0h0m2 0h0m-9 1h0m2 0h0m7 0h0m-8 1h0m-12 1h0m4 0h0m4 0h0m9 0h0m1 0h0m-17 1h0m3 0h0m9 0h0m-3 1h0m2 0h0m2 0h0m3 0h0m-12 1h0m5 0h0m2 0h0m1 0h0m3 0h0m3 0h0m-8 2h0m1 0h0m-4 2h0m13 0h0m-9 2h0m4 0h0m-3 1h0m3 0h0m-2 1h0m1 0h0m6 0h0m2 0h0m-7 2h0m2 0h0m0 2h0m2 1h0m0 2h0m16 1h0m-1 1h0m8 0h0m2 0h0m-8 1h0m-13 1h0m2 0h0m19 1h0m-24 1h0m1 1h0m4 0h0m2 0h0m14 0h0m-20 1h0m3 0h0m13 0h0m5 0h0m-21 1h0m3 0h0m4 0h0m11 0h0m2 0h0m2 0h0m-25 1h0m2 0h0m3 0h0m1 0h0m13 0h0m1 0h0m-2 1h0m1 0h0m2 0h0m-20 1h0m20 0h0m-12 1h0m2 0h0m8 0h0m2 0h0m-14 1h0m3 0h0m-9 1h0m6 0h0m15 0h0m-20 4h0"/>
<path transform="scale(.5)" stroke="#55B996" stroke-width="2.56" stroke-linecap="round" fill="none" d="M783 173h0m1 0h0m5 0h0m-7 2h0m2 0h0m-3 1h0m3 0h0m-9 2h0m3 0h0m4 0h0m1 1h0m-5 1h0m3 0h0m3 0h0m-18 2h0m3 0h0m3 0h0m3 0h0m1 0h0m-10 1h0m1 0h0m1 0h0m2 0h0m13 0h0m-15 1h0m17 0h0m-8 1h0m-11 1h0m10 0h0m4 0h0m-19 1h0m13 0h0m5 0h0m6 0h0m-19 1h0m3 0h0m2 0h0m2 0h0m-11 1h0m2 0h0m9 0h0m4 0h0m-12 2h0m11 0h0m1 0h0m1 0h0m-15 1h0m9 0h0m4 0h0m1 0h0m-15 2h0m8 0h0m5 0h0m1 0h0m2 0h0m-17 1h0m8 0h0m5 0h0m5 0h0m-11 1h0m3 0h0m1 0h0m-4 1h0m4 0h0m3 0h0m4 0h0m-15 1h0m8 0h0m-10 1h0m9 1h0m2 0h0m1 0h0m-11 1h0m1 0h0m3 0h0m-3 1h0m9 0h0m-10 1h0m2 0h0m6 0h0m-4 1h0m1 1h0m-1 1h0m2 0h0m-1 1h0m1 0h0m2 0h0m3 0h0m-9 1h0m1 0h0m6 0h0m-2 1h0m6 0h0"/>
<path transform="scale(.5)" stroke="#5AAFE1" stroke-width="2.56" stroke-linecap="round" fill="none" d="M807 259h0m3 0h0m2 0h0m-1 1h0m1 0h0m-4 1h0m-2 1h0m1 0h0m2 0h0m1 1h0m4 0h0m3 0h0m1 0h0m-11 1h0m2 0h0m6 2h0m1 0h0m1 1h0m0 1h0m-4 1h0m9 0h0m-12 1h0m3 0h0m8 0h0m-2 1h0m-2 1h0m4 0h0m-1 1h0m-5 1h0m1 0h0m4 0h0m2 0h0m13 0h0m-14 2h0m15 0h0m2 0h0m1 0h0m1 0h0m1 1h0m7 1h0m8 0h0m-18 1h0m3 0h0m1 0h0m1 0h0m1 0h0m12 0h0m2 0h0m-22 1h0m8 0h0m10 0h0m-4 1h0m-6 1h0m6 0h0m3 0h0m-5 1h0m1 0h0m1 0h0m1 0h0m1 0h0m4 0h0m3 0h0m-16 1h0m2 0h0m7 0h0m4 0h0m3 0h0m4 2h0m3 0h0m-14 2h0m2 0h0m5 0h0m3 0h0m4 0h0m1 0h0m-2 2h0m-11 1h0m4 1h0m6 0h0m2 2h0"/>
<path transform="scale(.5)" stroke="#6E96F0" stroke-width="2.56" stroke-linecap="round" fill="none" d="M925 202h0m5 0h0m-9 2h0m6 0h0m4 0h0m1 0h0m6 0h0m-16 1h0m1 0h0m11 0h0m1 0h0m-15 1h0m19 0h0m-17 1h0m4 0h0m5 0h0m2 0h0m-15 1h0m12 0h0m8 0h0m1 0h0m-21 1h0m15 0h0m2 0h0m-14 1h0m5 0h0m2 0h0m3 0h0m-5 1h0m0 1h0m6 0h0m7 0h0m-12 1h0m1 0h0m-11 1h0m4 0h0m1 0h0m8 0h0m3 0h0m2 0h0m5 0h0m-22 1h0m1 1h0m1 0h0m1 0h0m3 0h0m8 0h0m4 0h0m4 0h0m1 0h0m-24 1h0m1 0h0m2 0h0m0 1h0m5 0h0m3 0h0m7 0h0m-15 1h0m3 0h0m3 0h0m3 0h0m-14 1h0m3 0h0m3 0h0m4 0h0m4 0h0m3 1h0m-12 1h0m6 0h0m2 0h0m13 0h0m-22 1h0m4 0h0m-6 1h0m4 2h0m-5 2h0"/>
<path transform="scale(.5)" stroke="#96AA1E" stroke-width="2.56" stroke-linecap="round" fill="none" d="M840 168h0m-4 1h0m2 1h0m1 0h0m4 0h0m2 0h0m-18 1h0m3 0h0m2 0h0m16 0h0m-20 1h0m1 0h0m16 0h0m5 0h0m-20 1h0m16 0h0m1 0h0m8 0h0m-24 1h0m4 0h0m9 0h0m3 0h0m3 0h0m1 0h0m-19 1h0m4 0h0m6 0h0m-11 1h0m4 0h0m1 0h0m16 0h0m2 0h0m1 0h0m-27 1h0m3 0h0m7 0h0m7 0h0m-11 1h0m9 0h0m7 0h0m8 0h0m-30 1h0m3 0h0m5 0h0m18 0h0m2 0h0m1 0h0m-29 1h0m4 0h0m10 0h0m5 0h0m4 0h0m1 0h0m1 0h0m3 0h0m-10 1h0m1 0h0m2 0h0m9 0h0m-16 1h0m5 0h0m2 0h0m7 0h0m-26 1h0m2 0h0m1 0h0m11 0h0m7 0h0m1 0h0m1 0h0m7 0h0m-27 1h0m11 0h0m7 0h0m-25 1h0m1 0h0m9 0h0m16 0h0m1 0h0m4 0h0m-24 1h0m37 0h0m1 0h0m-42 1h0m15 0h0m4 0h0m5 0h0m2 0h0m6 0h0m3 0h0m2 0h0m-41 1h0m6 0h0m11 0h0m10 0h0m16 0h0m-33 1h0m13 0h0m6 0h0m22 0h0m-47 1h0m6 0h0m7 0h0m3 0h0m9 0h0m5 0h0m4 0h0m1 0h0m6 0h0m-30 1h0m3 0h0m1 0h0m2 0h0m4 0h0m12 0h0m1 0h0m1 0h0m4 0h0m6 0h0m-51 1h0m4 0h0m3 0h0m3 0h0m8 0h0m3 0h0m6 0h0m3 0h0m1 0h0m12 0h0m2 0h0m3 0h0m5 0h0m-44 1h0m12 0h0m7 0h0m3 0h0m11 0h0m1 0h0m2 0h0m-34 1h0m2 0h0m5 0h0m1 0h0m1 0h0m3 0h0m3 0h0m1 0h0m12 0h0m6 0h0m-45 1h0m5 0h0m3 0h0m9 0h0m11 0h0m19 0h0m3 0h0m-46 1h0m2 0h0m16 0h0m12 0h0m1 0h0m13 0h0m2 0h0m1 0h0m4 0h0m3 0h0m-52 1h0m5 0h0m2 0h0m2 0h0m1 0h0m12 0h0m9 0h0m22 0h0m1 0h0m3 0h0m-61 1h0m1 0h0m17 0h0m3 0h0m2 0h0m14 0h0m4 0h0m-41 1h0m1 0h0m2 0h0m1 0h0m12 0h0m23 0h0m4 0h0m10 0h0m1 0h0m3 0h0m-59 1h0m3 0h0m3 0h0m2 0h0m5 0h0m10 0h0m2 0h0m6 0h0m2 0h0m7 0h0m6 0h0m8 0h0m3 0h0m-54 1h0m18 0h0m2 0h0m2 0h0m13 0h0m7 0h0m8 0h0m-37 1h0m3 0h0m7 0h0m8 0h0m5 0h0m16 0h0m-44 1h0m12 0h0m2 0h0m6 0h0m15 0h0m6 0h0m-55 1h0m1 0h0m1 0h0m4 0h0m5 0h0m5 0h0m3 0h0m20 0h0m2 0h0m16 0h0m1 0h0m6 0h0m-61 1h0m12 0h0m6 0h0m2 0h0m4 0h0m5 0h0m4 0h0m6 0h0m1 0h0m4 0h0m4 0h0m3 0h0m10 0h0m-52 1h0m1 0h0m20 0h0m9 0h0m14 0h0m-38 1h0m2 0h0m11 0h0m1 0h0m5 0h0m1 0h0m8 0h0m1 0h0m-43 1h0m1 0h0m2 0h0m3 0h0m8 0h0m5 0h0m12 0h0m6 0h0m16 0h0m-41 1h0m11 0h0m1 0h0m4 0h0m1 0h0m2 0h0m4 0h0m4 0h0m4 0h0m9 0h0m-51 1h0m3 0h0m4 0h0m3 0h0m1 0h0m2 0h0m11 0h0m5 0h0m14 0h0m4 0h0m1 0h0m6 0h0m-25 1h0m1 0h0m8 0h0m16 0h0m1 0h0m-54 1h0m19 0h0m2 0h0m5 0h0m8 0h0m19 0h0m1 0h0m-53 1h0m2 0h0m1 0h0m9 0h0m5 0h0m3 0h0m12 0h0m4 0h0m3 0h0m14 0h0m-54 1h0m3 0h0m12 0h0m4 0h0m2 0h0m2 0h0m1 0h0m5 0h0m1 0h0m7 0h0m15 0h0m-46 1h0m1 0h0m8 0h0m9 0h0m11 0h0m3 0h0m-38 1h0m5 0h0m13 0h0m13 0h0m5 0h0m1 0h0m1 0h0m3 0h0m2 0h0m11 0h0m-59 1h0m7 0h0m2 0h0m32 0h0m5 0h0m1 0h0m4 0h0m4 0h0m-55 1h0m8 0h0m11 0h0m12 0h0m13 0h0m12 0h0m-53 1h0m18 0h0m22 0h0m8 0h0m-50 1h0m5 0h0m4 0h0m32 0h0m2 0h0m3 0h0m4 0h0m1 0h0m-46 1h0m6 0h0m2 0h0m9 0h0m1 0h0m17 0h0m4 0h0m7 0h0m-51 1h0m5 0h0m1 0h0m1 0h0m11 0h0m2 0h0m4 0h0m2 0h0m29 0h0m2 0h0m-50 1h0m4 0h0m1 0h0m3 0h0m3 0h0m5 0h0m2 0h0m-10 1h0m20 0h0m23 0h0m2 0h0m-58 1h0m10 0h0m3 0h0m2 0h0m12 0h0m1 0h0m6 0h0m9 0h0m6 0h0m1 0h0m2 0h0m-57 1h0m3 0h0m3 0h0m8 0h0m12 0h0m2 0h0m28 0h0m5 0h0m-53 1h0m8 0h0m5 0h0m7 0h0m4 0h0m12 0h0m1 0h0m9 0h0m5 0h0m-58 1h0m4 0h0m4 0h0m10 0h0m9 0h0m1 0h0m1 0h0m8 0h0m6 0h0m2 0h0m1 0h0m5 0h0m-48 1h0m9 0h0m2 0h0m2 0h0m6 0h0m1 0h0m3 0h0m12 0h0m3 0h0m4 0h0m11 0h0m-56 1h0m4 0h0m7 0h0m1 0h0m12 0h0m10 0h0m5 0h0m1 0h0m21 0h0m-61 1h0m1 0h0m3 0h0m3 0h0m10 0h0m4 0h0m3 0h0m1 0h0m11 0h0m11 0h0m1 0h0m3 0h0m2 0h0m-51 1h0m11 0h0m26 0h0m8 0h0m-37 1h0m1 0h0m10 0h0m2 0h0m-21 1h0m1 0h0m7 0h0m1 0h0m11 0h0m7 0h0m1 0h0m1 0h0m5 0h0m2 0h0m13 0h0m-49 1h0m19 0h0m2 0h0m4 0h0m3 0h0m1 0h0m2 0h0m16 0h0m3 0h0m10 0h0m-59 1h0m8 0h0m8 0h0m9 0h0m2 0h0m11 0h0m3 0h0m10 0h0m-52 1h0m11 0h0m14 0h0m11 0h0m3 0h0m5 0h0m8 0h0m3 0h0m1 0h0m-55 1h0m13 0h0m10 0h0m3 0h0m13 0h0m4 0h0m-45 1h0m2 0h0m15 0h0m7 0h0m4 0h0m5 0h0m3 0h0m12 0h0m-46 1h0m1 0h0m10 0h0m21 0h0m1 0h0m3 0h0m15 0h0m5 0h0m-52 1h0m7 0h0m1 0h0m5 0h0m3 0h0m3 0h0m13 0h0m12 0h0m5 0h0m1 0h0m-55 1h0m6 0h0m4 0h0m6 0h0m6 0h0m6 0h0m1 0h0m2 0h0m5 0h0m4 0h0m5 0h0m3 0h0m5 0h0m-43 1h0m29 0h0m4 0h0m-44 1h0m5 0h0m3 0h0m1 0h0m15 0h0m2 0h0m15 0h0m8 0h0m8 0h0m5 0h0m-48 1h0m4 0h0m3 0h0m8 0h0m6 0h0m1 0h0m2 0h0m3 0h0m1 0h0m4 0h0m-47 1h0m10 0h0m8 0h0m9 0h0m8 0h0m2 0h0m-30 1h0m10 0h0m3 0h0m1 0h0m1 0h0m13 0h0m9 0h0m14 0h0m3 0h0m-64 1h0m14 0h0m10 0h0m1 0h0m23 0h0m3 0h0m4 0h0m1 0h0m1 0h0m6 0h0m-56 1h0m6 0h0m12 0h0m5 0h0m3 0h0m8 0h0m3 0h0m6 0h0m5 0h0m-52 1h0m3 0h0m5 0h0m6 0h0m11 0h0m5 0h0m29 0h0m-62 1h0m15 0h0m2 0h0m1 0h0m1 0h0m2 0h0m3 0h0m16 0h0m6 0h0m1 0h0m11 0h0m4 0h0m-52 1h0m1 0h0m4 0h0m7 0h0m2 0h0m5 0h0m4 0h0m13 0h0m13 0h0m-55 1h0m4 0h0m11 0h0m9 0h0m3 0h0m6 0h0m11 0h0m3 0h0m11 0h0m-56 1h0m1 0h0m23 0h0m8 0h0m12 0h0m7 0h0m5 0h0m-61 1h0m5 0h0m2 0h0m11 0h0m1 0h0m1 0h0m12 0h0m13 0h0m2 0h0m3 0h0m-27 1h0m13 0h0m1 0h0m11 0h0m3 0h0m4 0h0m3 0h0m-58 1h0m1 0h0m1 0h0m2 0h0m2 0h0m7 0h0m1 0h0m7 0h0m1 0h0m2 0h0m4 0h0m3 0h0m2 0h0m10 0h0m4 0h0m11 0h0m3 0h0m1 0h0m-59 1h0m2 0h0m4 0h0m2 0h0m4 0h0m5 0h0m2 0h0m4 0h0m3 0h0m5 0h0m2 0h0m4 0h0m13 0h0m2 0h0m1 0h0m5 0h0m-59 1h0m2 0h0m14 0h0m13 0h0m5 0h0m23 0h0m2 0h0m-50 1h0m11 0h0m16 0h0m4 0h0m8 0h0m6 0h0m1 0h0m1 0h0m2 0h0m-42 1h0m2 0h0m2 0h0m15 0h0m3 0h0m5 0h0m8 0h0m7 0h0m-50 1h0m3 0h0m20 0h0m9 0h0m1 0h0m5 0h0m3 0h0m7 0h0m4 0h0m-41 1h0m11 0h0m2 0h0m4 0h0m22 0h0m-42 1h0m25 0h0m-3 1h0m19 0h0m-17 1h0m-13 1h0m12 0h0m1 0h0m1 0h0m-15 1h0m1 0h0m1 0h0m7 0h0m-9 1h0m3 0h0m10 0h0m2 0h0m0 1h0m-14 1h0m9 0h0m-8 1h0m1 0h0m7 0h0m1 1h0"/>
<path transform="scale(.5)" stroke="#C86EEB" stroke-width="2.56" stroke-linecap="round" fill="none" d="M888 218h0m8 1h0m-5 1h0m3 0h0m4 0h0m-11 1h0m8 2h0m1 0h0m1 0h0m4 0h0m-6 2h0m-3 1h0m12 0h0m-10 1h0m4 0h0m2 0h0m-11 1h0m6 0h0m5 0h0m-12 1h0m2 0h0m8 0h0m-15 1h0m12 0h0m1 0h0m7 0h0m-20 1h0m12 0h0m4 0h0m2 0h0m1 0h0m-12 1h0m1 0h0m11 0h0m3 0h0m-10 1h0m-2 1h0m-5 1h0m5 0h0m9 0h0m3 0h0m-10 1h0m2 0h0m2 0h0m-11 2h0m5 0h0m6 0h0m-5 1h0m2 0h0m-5 1h0m7 0h0m1 0h0m-4 1h0m-6 1h0m1 0h0m3 1h0m-3 1h0"/>
<path transform="scale(.5)" stroke="#CD9128" stroke-width="2.56" stroke-linecap="round" fill="none" d="M808 171h0m-1 1h0m2 0h0m3 0h0m1 1h0m5 0h0m7 0h0m-16 1h0m3 0h0m4 0h0m4 0h0m-19 1h0m3 0h0m6 0h0m10 0h0m-22 1h0m14 0h0m10 0h0m-20 1h0m4 0h0m1 0h0m3 1h0m10 0h0m-20 1h0m5 0h0m11 0h0m4 0h0m-23 1h0m2 0h0m7 0h0m3 0h0m4 0h0m3 0h0m4 0h0m3 0h0m-25 1h0m5 0h0m13 0h0m3 0h0m5 0h0m-9 1h0m-6 1h0m3 0h0m2 0h0m4 0h0m4 0h0m-28 1h0m23 0h0m1 0h0m1 0h0m4 0h0m1 0h0m-29 1h0m4 0h0m11 0h0m1 0h0m11 0h0m-3 1h0m1 0h0m-31 1h0m17 0h0m3 0h0m2 0h0m8 0h0m1 0h0m1 0h0m-30 1h0m1 0h0m14 0h0m3 0h0m5 0h0m1 0h0m-19 1h0m2 0h0m2 0h0m2 0h0m1 0h0m4 0h0m2 0h0m7 0h0m7 0h0m-25 1h0m1 0h0m9 0h0m6 0h0m1 0h0m6 0h0m-20 1h0m1 0h0m12 0h0m1 0h0m-22 1h0m2 0h0m4 0h0m3 0h0m8 0h0m3 0h0m1 0h0m7 0h0m-32 1h0m2 0h0m1 0h0m2 0h0m8 0h0m12 0h0m2 0h0m2 0h0m8 0h0m-38 1h0m6 0h0m10 0h0m10 0h0m1 0h0m1 0h0m-24 1h0m13 0h0m12 0h0m2 0h0m1 0h0m-32 1h0m2 0h0m19 0h0m-20 1h0m8 0h0m7 0h0m6 0h0m2 0h0m1 0h0m-21 1h0m3 0h0m3 0h0m8 0h0m6 0h0m3 0h0m4 0h0m3 0h0m-36 1h0m8 0h0m6 0h0m3 0h0m2 0h0m3 0h0m5 0h0m7 0h0m-24 1h0m6 0h0m5 0h0m6 0h0m2 0h0m-24 1h0m1 0h0m5 0h0m12 0h0m9 0h0m-31 1h0m6 0h0m2 0h0m4 0h0m17 0h0m-29 1h0m5 0h0m6 0h0m11 0h0m3 0h0m1 0h0m3 0h0m3 0h0m-25 1h0m10 0h0m6 0h0m3 0h0m11 0h0m-27 1h0m1 0h0m2 0h0m1 0h0m5 0h0m12 0h0m-21 1h0m9 0h0m6 0h0m4 0h0m6 0h0m2 0h0m-36 1h0m2 0h0m12 0h0m7 0h0m2 0h0m4 0h0m6 0h0m1 0h0m-36 1h0m6 0h0m-1 1h0m5 0h0m1 0h0m26 0h0m-39 1h0m14 0h0m6 0h0m1 0h0m6 0h0m-26 1h0m35 0h0m1 0h0m-33 1h0m16 0h0m5 0h0m10 0h0m-35 1h0m13 0h0m5 0h0m15 0h0m-10 1h0m11 0h0m5 0h0m-36 1h0m25 0h0m1 0h0m10 0h0m-25 1h0m2 0h0m2 0h0m5 0h0m7 0h0m6 0h0m-34 1h0m21 0h0m12 0h0m-37 1h0m5 0h0m5 0h0m21 0h0m2 0h0m-29 1h0m5 0h0m8 0h0m1 0h0m3 0h0m6 0h0m8 0h0m-35 1h0m1 0h0m16 0h0m7 0h0m1 0h0m1 0h0m2 0h0m1 0h0m-21 1h0m3 0h0m5 0h0m3 0h0m10 0h0m-28 1h0m1 0h0m21 0h0m2 0h0m8 0h0m-32 1h0m1 0h0m3 0h0m10 0h0m3 0h0m6 0h0m1 0h0m-27 1h0m3 0h0m18 0h0m2 0h0m12 0h0m-27 1h0m3 0h0m4 0h0m13 0h0m-21 1h0m16 0h0m10 0h0m6 0h0m-33 1h0m15 0h0m2 0h0m1 0h0m5 0h0m1 0h0m4 0h0m6 0h0m-38 1h0m2 0h0m2 0h0m18 0h0m-10 1h0m19 0h0m2 0h0m3 0h0m-35 1h0m8 0h0m6 0h0m10 0h0m2 0h0m1 0h0m2 1h0m1 0h0m-12 1h0m2 0h0m2 0h0m2 0h0m1 0h0m1 0h0m12 0h0m-39 1h0m1 0h0m1 0h0m1 0h0m3 0h0m6 0h0m17 0h0m-24 1h0m3 0h0m1 0h0m6 0h0m-13 1h0m3 0h0m5 0h0m7 0h0m11 0h0m1 0h0m4 0h0m-30 1h0m10 0h0m2 0h0m15 0h0m2 0h0m3 0h0m-26 1h0m24 0h0m2 0h0m-32 1h0m5 0h0m16 0h0m1 0h0m3 0h0m3 0h0m-25 1h0m13 0h0m2 0h0m3 0h0m5 0h0m-15 1h0m5 0h0m3 0h0m4 0h0m9 0h0m-31 1h0m9 0h0m2 0h0m8 0h0m4 0h0m-16 1h0m13 0h0m4 0h0m6 0h0m-21 1h0m4 0h0m1 0h0m2 0h0m2 0h0m6 0h0m-23 1h0m22 0h0m5 0h0m-27 1h0m14 0h0m4 0h0m1 0h0m2 0h0m1 0h0m7 0h0m1 0h0m-32 1h0m3 0h0m10 0h0m1 0h0m3 0h0m3 0h0m3 0h0m3 0h0m1 0h0m5 0h0m1 0h0m-32 1h0m4 0h0m20 0h0m4 0h0m1 0h0m-18 1h0m-6 1h0m5 0h0m4 0h0m12 0h0m-21 1h0m1 0h0m6 0h0m17 0h0m1 0h0m-25 1h0m1 0h0m9 0h0m1 0h0m1 0h0m5 0h0m-18 1h0m8 0h0m1 0h0m2 0h0m6 0h0m5 0h0m2 0h0m-2 1h0m-19 1h0m18 1h0m2 0h0m-19 1h0m8 0h0m1 0h0m9 0h0m-5 1h0m-4 1h0"/>
<path transform="scale(.5)" stroke="#E15AB9" stroke-width="2.56" stroke-linecap="round" fill="none" d="M810 123h0m-11 13h0m102 76h0m4 0h0m-3 2h0m5 0h0m20 21h0m-5 1h0m0 2h0m5 0h0m-6 1h0m-5 1h0m6 0h0m2 0h0m1 0h0m-9 1h0m5 0h0m5 0h0m2 0h0m-11 1h0m3 0h0m0 1h0m8 0h0m-6 1h0m-3 1h0m-4 1h0m7 0h0m-12 2h0m7 0h0m-3 2h0m-11 4h0m-1 2h0m2 1h0m1 0h0m1 0h0m-6 1h0m1 1h0m1 0h0m1 0h0m1 0h0m-3 1h0m7 0h0m3 1h0m-11 1h0m-1 1h0m2 0h0m7 0h0m1 1h0m-2 1h0m-5 1h0m1 1h0"/>
<path transform="scale(.5)" stroke="#E26E69" stroke-width="2.56" stroke-linecap="round" fill="none" d="M899 116h0m4 1h0m-5 1h0m1 0h0m4 1h0m-8 1h0m4 0h0m5 0h0m6 0h0m-16 2h0m1 0h0m3 0h0m-2 1h0m2 0h0m1 0h0m8 0h0m-5 1h0m1 0h0m5 0h0m-16 1h0m5 0h0m10 0h0m4 0h0m-17 1h0m1 0h0m8 0h0m5 0h0m3 0h0m-16 1h0m1 0h0m9 0h0m3 0h0m-16 1h0m21 0h0m-23 1h0m13 0h0m-9 1h0m1 0h0m5 0h0m4 0h0m-14 1h0m4 0h0m12 0h0m2 0h0m5 0h0m1 0h0m-21 1h0m11 1h0m8 0h0m4 0h0m1 0h0m-13 1h0m5 0h0m11 0h0m-30 1h0m13 0h0m8 0h0m1 0h0m-14 1h0m7 0h0m3 0h0m1 0h0m2 0h0m5 0h0m-12 1h0m12 0h0m3 0h0m-24 1h0m6 0h0m2 0h0m6 0h0m6 0h0m5 0h0m-27 1h0m2 0h0m16 0h0m-22 1h0m1 0h0m6 0h0m3 0h0m2 0h0m7 0h0m5 0h0m5 0h0m-26 1h0m3 0h0m7 0h0m5 0h0m8 0h0m2 0h0m-24 1h0m13 0h0m8 0h0m1 0h0m4 0h0m-31 1h0m2 0h0m3 0h0m2 0h0m7 0h0m8 0h0m1 0h0m1 0h0m-24 1h0m11 0h0m2 0h0m4 0h0m6 0h0m12 0h0m2 0h0m-32 1h0m4 0h0m5 0h0m7 0h0m16 0h0m-38 1h0m5 0h0m31 0h0m-33 1h0m7 0h0m7 0h0m18 0h0m-27 1h0m7 0h0m2 0h0m5 0h0m13 0h0m-25 1h0m7 0h0m14 0h0m4 0h0m2 0h0m-37 1h0m2 0h0m6 0h0m18 0h0m8 0h0m-31 1h0m4 0h0m23 0h0m3 0h0m6 0h0m-43 1h0m2 0h0m4 0h0m4 0h0m6 0h0m3 0h0m5 0h0m12 0h0m3 0h0m-35 1h0m9 0h0m3 0h0m13 0h0m2 0h0m-28 1h0m4 0h0m14 0h0m1 0h0m3 0h0m3 0h0m4 0h0m5 0h0m-29 1h0m6 0h0m4 0h0m9 0h0m1 0h0m13 0h0m1 0h0m1 0h0m-41 1h0m1 0h0m3 0h0m1 0h0m12 0h0m1 0h0m3 0h0m1 0h0m3 0h0m11 0h0m-22 1h0m13 0h0m1 0h0m3 0h0m-24 1h0m8 0h0m1 0h0m1 0h0m3 0h0m8 0h0m12 0h0m-35 1h0m9 0h0m5 0h0m2 0h0m6 0h0m3 0h0m9 0h0m1 0h0m-32 1h0m6 0h0m19 0h0m4 0h0m4 0h0m-43 1h0m15 0h0m1 0h0m5 0h0m11 0h0m3 0h0m6 0h0m1 0h0m3 0h0m-46 1h0m13 0h0m6 0h0m12 0h0m9 0h0m-35 1h0m8 0h0m7 0h0m-14 1h0m14 0h0m21 0h0m3 0h0m-17 1h0m2 0h0m11 0h0m2 0h0m1 0h0m-33 1h0m32 0h0m-36 1h0m5 0h0m8 0h0m7 0h0m1 0h0m4 0h0m15 0h0m-43 1h0m2 0h0m1 0h0m2 0h0m19 0h0m9 0h0m6 0h0m-34 1h0m10 0h0m6 0h0m11 0h0m7 0h0m-42 1h0m16 0h0m1 0h0m1 0h0m5 0h0m1 0h0m18 0h0m-33 1h0m13 0h0m6 0h0m4 0h0m8 0h0m-36 1h0m7 0h0m1 0h0m18 0h0m3 0h0m1 0h0m4 0h0m-35 1h0m13 0h0m18 0h0m6 0h0m1 0h0m-25 1h0m15 0h0m1 0h0m5 0h0m5 0h0m-29 1h0m3 0h0m12 0h0m2 0h0m10 0h0m1 0h0m-37 1h0m11 0h0m3 0h0m1 0h0m1 0h0m18 0h0m1 0h0m-33 1h0m5 0h0m2 0h0m18 0h0m1 0h0m4 0h0m4 0h0m3 0h0m-38 1h0m11 0h0m2 0h0m17 0h0m1 0h0m1 0h0m3 0h0m1 0h0m-35 1h0m6 0h0m1 0h0m4 0h0m10 0h0m3 0h0m9 0h0m-33 1h0m6 0h0m6 0h0m9 0h0m2 0h0m-23 1h0m24 0h0m1 0h0m-17 1h0m9 0h0m4 0h0m1 0h0m4 0h0m5 0h0m-23 1h0m2 0h0m4 0h0m14 0h0m1 0h0m3 0h0m1 0h0m1 0h0m-30 1h0m1 0h0m9 0h0m1 0h0m1 0h0m1 0h0m4 0h0m3 0h0m-23 1h0m1 0h0m1 0h0m11 0h0m1 0h0m5 0h0m1 0h0m4 0h0m2 0h0m7 0h0m-30 1h0m6 0h0m6 0h0m6 0h0m8 0h0m2 0h0m-33 1h0m5 0h0m1 0h0m4 0h0m3 0h0m8 0h0m6 0h0m2 0h0m1 0h0m-23 1h0m7 0h0m6 0h0m6 0h0m-3 1h0m7 0h0m1 0h0m-27 1h0m9 0h0m8 0h0m4 0h0m3 0h0m-16 1h0m7 0h0m2 0h0m5 0h0m2 0h0m3 0h0m-5 1h0m2 0h0m-5 1h0m5 0h0m-25 1h0m12 0h0m5 0h0m-15 1h0m13 0h0m6 0h0m-18 1h0m10 0h0m3 0h0m4 0h0m1 0h0m-9 1h0m4 0h0m-4 1h0m5 0h0"/>
<path transform="scale(.5)" stroke="#55B446" stroke-width="2.56" stroke-linecap="round" fill="none" d="M859 82h0m1 0h0m3 1h0m10 0h0m-17 1h0m6 0h0m5 0h0m-12 1h0m3 0h0m5 0h0m-11 1h0m2 0h0m2 0h0m2 0h0m4 0h0m1 0h0m2 0h0m5 0h0m-21 1h0m5 0h0m2 0h0m2 0h0m13 0h0m-13 1h0m21 0h0m-29 2h0m1 0h0m9 0h0m2 0h0m9 0h0m3 0h0m-8 1h0m2 0h0m-24 1h0m8 0h0m12 0h0m2 0h0m1 0h0m-23 1h0m5 0h0m2 0h0m4 0h0m6 0h0m2 0h0m13 0h0m-33 1h0m6 0h0m1 0h0m9 0h0m1 0h0m2 0h0m10 0h0m-25 1h0m4 0h0m1 0h0m-2 1h0m11 0h0m3 0h0m-20 1h0m8 0h0m1 0h0m1 0h0m2 0h0m4 0h0m-14 1h0m2 0h0m5 0h0m2 0h0m6 0h0m12 0h0m-21 1h0m14 0h0m4 0h0m2 0h0m7 0h0m-29 1h0m18 0h0m1 0h0m3 0h0m4 0h0m-27 1h0m24 0h0m2 0h0m-28 1h0m3 0h0m8 0h0m2 0h0m1 0h0m11 0h0m1 0h0m-27 1h0m5 0h0m12 0h0m8 0h0m2 0h0m-22 1h0m13 0h0m4 0h0m4 0h0m19 0h0m-30 1h0m6 0h0m6 0h0m1 0h0m8 0h0m2 0h0m7 0h0m-48 1h0m4 0h0m4 0h0m4 0h0m5 0h0m9 0h0m4 0h0m3 0h0m3 0h0m-36 1h0m9 0h0m6 0h0m23 0h0m2 0h0m-29 1h0m4 0h0m9 0h0m5 0h0m6 0h0m8 0h0m1 0h0m-47 1h0m15 0h0m3 0h0m5 0h0m3 0h0m11 0h0m1 0h0m3 0h0m9 0h0m1 0h0m2 0h0m-52 1h0m11 0h0m12 0h0m7 0h0m9 0h0m7 0h0m-45 1h0m37 0h0m19 0h0m-54 1h0m3 0h0m4 0h0m7 0h0m22 0h0m2 0h0m-41 1h0m39 0h0m5 0h0m4 0h0m5 0h0m-49 1h0m34 0h0m1 0h0m5 0h0m4 0h0m1 0h0m7 0h0m-58 1h0m2 0h0m2 0h0m15 0h0m2 0h0m25 0h0m2 0h0m7 0h0m5 0h0m1 0h0m-59 1h0m1 0h0m4 0h0m12 0h0m34 0h0m4 0h0m-52 1h0m43 0h0m2 0h0m1 0h0m1 0h0m7 0h0m-59 1h0m15 0h0m15 0h0m-32 1h0m2 0h0m8 0h0m9 0h0m10 0h0m1 0h0m4 0h0m-34 1h0m4 0h0m5 0h0m5 0h0m8 0h0m27 0h0m3 0h0m2 0h0m-50 1h0m14 0h0m6 0h0m7 0h0m1 0h0m16 0h0m3 0h0m1 0h0m-46 1h0m2 0h0m5 0h0m5 0h0m5 0h0m1 0h0m14 0h0m15 0h0m-42 1h0m2 0h0m14 0h0m2 0h0m12 0h0m13 0h0m1 0h0m-55 1h0m2 0h0m4 0h0m6 0h0m4 0h0m12 0h0m16 0h0m3 0h0m4 0h0m3 0h0m-51 1h0m1 0h0m1 0h0m9 0h0m1 0h0m4 0h0m10 0h0m3 0h0m17 0h0m1 0h0m3 0h0m-54 1h0m3 0h0m17 0h0m6 0h0m6 0h0m15 0h0m-40 1h0m4 0h0m17 0h0m5 0h0m2 0h0m3 0h0m6 0h0m-40 1h0m14 0h0m1 0h0m1 0h0m6 0h0m4 0h0m16 0h0m6 0h0m1 0h0m-47 1h0m12 0h0m15 0h0m6 0h0m8 0h0m2 0h0m-46 1h0m1 0h0m3 0h0m10 0h0m15 0h0m3 0h0m2 0h0m1 0h0m2 0h0m10 0h0m1 0h0m-40 1h0m12 0h0m2 0h0m6 0h0m6 0h0m5 0h0m2 0h0m2 0h0m4 0h0m-51 1h0m1 0h0m11 0h0m10 0h0m1 0h0m16 0h0m2 0h0m4 0h0m1 0h0m6 0h0m-50 1h0m5 0h0m1 0h0m4 0h0m2 0h0m6 0h0m14 0h0m1 0h0m8 0h0m6 0h0m-36 1h0m1 0h0m12 0h0m11 0h0m1 0h0m4 0h0m2 0h0m1 0h0m1 0h0m3 0h0m-53 1h0m1 0h0m6 0h0m2 0h0m29 0h0m4 0h0m9 0h0m1 0h0m-50 1h0m5 0h0m3 0h0m2 0h0m28 0h0m5 0h0m4 0h0m2 0h0m-42 1h0m11 0h0m17 0h0m4 0h0m2 0h0m1 0h0m2 0h0m5 0h0m-43 1h0m3 0h0m7 0h0m26 0h0m3 0h0m1 0h0m2 0h0m2 0h0m1 0h0m-52 1h0m16 0h0m1 0h0m4 0h0m26 0h0m4 0h0m-38 1h0m3 0h0m2 0h0m1 0h0m-19 1h0m4 0h0m3 0h0m6 0h0m2 0h0m2 0h0m5 0h0m2 0h0m1 0h0m3 0h0m13 0h0m3 0h0m-40 1h0m4 0h0m4 0h0m1 0h0m2 0h0m9 0h0m8 0h0m4 0h0m13 0h0m2 0h0m-42 1h0m8 0h0m18 0h0m15 0h0m-51 1h0m7 0h0m11 0h0m3 0h0m9 0h0m1 0h0m2 0h0m1 0h0m8 0h0m5 0h0m3 0h0m-41 1h0m5 0h0m1 0h0m19 0h0m4 0h0m2 0h0m10 0h0m3 0h0m-48 1h0m3 0h0m8 0h0m1 0h0m5 0h0m4 0h0m2 0h0m6 0h0m3 0h0m1 0h0m4 0h0m-42 1h0m13 0h0m4 0h0m5 0h0m-24 1h0m4 0h0m1 0h0m11 0h0m1 0h0m8 0h0m1 0h0m20 0h0m3 0h0m-46 1h0m22 0h0m8 0h0m7 0h0m14 0h0m3 0h0m-57 1h0m3 0h0m3 0h0m3 0h0m11 0h0m5 0h0m5 0h0m10 0h0m10 0h0m-47 1h0m7 0h0m22 0h0m2 0h0m3 0h0m2 0h0m1 0h0m2 0h0m1 0h0m11 0h0m-54 1h0m4 0h0m11 0h0m1 0h0m2 0h0m1 0h0m12 0h0m13 0h0m6 0h0m2 0h0m3 0h0m-55 1h0m1 0h0m10 0h0m22 0h0m2 0h0m8 0h0m3 0h0m1 0h0m3 0h0m2 0h0m2 0h0m-53 1h0m1 0h0m2 0h0m6 0h0m5 0h0m14 0h0m2 0h0m12 0h0m3 0h0m5 0h0m4 0h0m-57 1h0m3 0h0m4 0h0m7 0h0m6 0h0m6 0h0m2 0h0m8 0h0m7 0h0m7 0h0m-49 1h0m10 0h0m4 0h0m2 0h0m1 0h0m3 0h0m3 0h0m6 0h0m10 0h0m2 0h0m4 0h0m6 0h0m2 0h0m-41 1h0m2 0h0m2 0h0m5 0h0m5 0h0m1 0h0m9 0h0m2 0h0m3 0h0m10 0h0m3 0h0m-55 1h0m19 0h0m15 0h0m1 0h0m16 0h0m1 0h0m4 0h0m-56 1h0m4 0h0m1 0h0m3 0h0m5 0h0m2 0h0m5 0h0m5 0h0m1 0h0m1 0h0m11 0h0m3 0h0m12 0h0m2 0h0m-53 1h0m5 0h0m6 0h0m10 0h0m3 0h0m1 0h0m4 0h0m8 0h0m9 0h0m4 0h0m-46 1h0m14 0h0m3 0h0m13 0h0m4 0h0m1 0h0m2 0h0m2 0h0m9 0h0m2 0h0m-50 1h0m20 0h0m1 0h0m2 0h0m8 0h0m9 0h0m5 0h0m-42 1h0m8 0h0m3 0h0m17 0h0m2 0h0m3 0h0m-40 1h0m36 0h0m14 0h0m3 0h0m-45 1h0m2 0h0m1 0h0m16 0h0m9 0h0m3 0h0m3 0h0m12 0h0m-43 1h0m1 0h0m8 0h0m1 0h0m4 0h0m5 0h0m10 0h0m12 0h0m-45 1h0m4 0h0m5 0h0m14 0h0m4 0h0m12 0h0m9 0h0m-56 1h0m10 0h0m12 0h0m17 0h0m3 0h0m4 0h0m5 0h0m5 0h0m-59 1h0m32 0h0m-19 1h0m16 0h0m6 0h0m3 0h0m6 0h0m3 0h0m1 0h0m3 0h0m-28 1h0m7 0h0m1 0h0m14 0h0m9 0h0m5 0h0m-26 1h0m3 0h0m4 0h0m4 0h0m8 0h0m1 0h0m-20 1h0m21 0h0m4 0h0m-21 1h0m4 0h0m6 0h0m2 0h0m1 0h0m-14 1h0m15 0h0m3 0h0m-2 1h0m-22 1h0m8 0h0m10 0h0m1 0h0m6 0h0m-19 1h0m8 0h0m4 0h0m8 0h0m-17 1h0m5 0h0m1 0h0m4 0h0m-3 1h0m-6 1h0m16 0h0m-17 1h0m6 0h0m8 0h0m-9 1h0m7 1h0m3 0h0m2 0h0m1 1h0m-13 1h0m6 0h0m3 1h0m-7 1h0m10 0h0m-6 2h0m5 2h0m-3 2h0m3 0h0m5 0h0m-1 3h0m16 4h0m-16 2h0m1 0h0m4 0h0m1 0h0m14 2h0m-1 1h0m1 0h0m2 0h0m-16 1h0m9 0h0m3 0h0m-19 1h0m7 0h0m11 0h0m6 0h0m-24 1h0m8 0h0m14 0h0m1 0h0m1 0h0m5 0h0m-23 1h0m17 0h0m-22 1h0m16 0h0m-17 1h0m4 0h0m2 0h0m2 0h0m1 0h0m1 0h0m12 0h0m-17 1h0m-4 1h0m4 1h0m-6 1h0m1 0h0m2 0h0m3 1h0m-1 1h0"/>
<path transform="scale(.5)" stroke="#55B996" stroke-width="2.56" stroke-linecap="round" fill="none" d="M786 174h0m-11 1h0m1 1h0m1 0h0m5 0h0m-10 2h0m4 0h0m6 0h0m-13 1h0m1 0h0m14 0h0m1 0h0m-13 1h0m6 0h0m1 0h0m-8 2h0m1 0h0m-5 1h0m8 0h0m6 0h0m-11 1h0m2 0h0m10 0h0m1 0h0m-22 1h0m16 0h0m-14 1h0m2 0h0m1 0h0m8 0h0m5 0h0m1 0h0m1 0h0m-14 1h0m3 0h0m7 0h0m-15 1h0m1 0h0m3 0h0m8 0h0m-10 1h0m3 0h0m1 0h0m1 0h0m2 0h0m11 0h0m-13 1h0m1 0h0m5 0h0m-10 1h0m3 0h0m11 0h0m-11 1h0m6 0h0m-14 2h0m21 0h0m-18 1h0m11 0h0m-7 1h0m5 0h0m2 0h0m1 0h0m4 0h0m-8 1h0m2 0h0m4 0h0m-13 1h0m10 0h0m1 0h0m3 0h0m-18 1h0m16 0h0m1 0h0m3 0h0m-17 1h0m10 0h0m6 0h0m-18 1h0m4 0h0m6 0h0m1 0h0m-11 1h0m5 0h0m8 0h0m-10 1h0m6 0h0m2 0h0m4 0h0m-13 1h0m4 0h0m2 0h0m9 0h0m-15 1h0m12 1h0m-11 1h0m4 0h0m0 1h0m4 0h0m1 0h0m2 2h0"/>
<path transform="scale(.5)" stroke="#5AAFE1" stroke-width="2.56" stroke-linecap="round" fill="none" d="M813 260h0m3 0h0m-6 1h0m1 0h0m7 0h0m-10 1h0m4 0h0m6 0h0m3 0h0m-12 1h0m3 0h0m1 0h0m1 0h0m4 0h0m2 1h0m-4 1h0m5 0h0m-11 1h0m0 1h0m7 0h0m-9 1h0m0 1h0m4 0h0m6 0h0m-8 1h0m2 0h0m5 2h0m4 1h0m-1 1h0m24 0h0m-5 1h0m1 0h0m-18 1h0m18 0h0m2 0h0m-2 1h0m-1 1h0m2 0h0m4 0h0m-3 1h0m3 1h0m4 0h0m3 1h0m6 0h0m-13 1h0m7 0h0m3 0h0m1 0h0m1 0h0m7 0h0m-3 1h0m-14 1h0m4 0h0m2 0h0m2 0h0m1 0h0m4 0h0m2 0h0m1 1h0m4 0h0m-3 1h0m-14 1h0m14 0h0m-17 1h0m11 0h0m3 0h0m-10 1h0m3 0h0m3 0h0m7 0h0m2 0h0m6 0h0m-10 1h0m5 0h0m-9 1h0m6 0h0m-2 2h0m4 0h0m-6 1h0m5 1h0"/>
<path transform="scale(.5)" stroke="#6E96F0" stroke-width="2.56" stroke-linecap="round" fill="none" d="M930 200h0m-4 1h0m0 1h0m0 1h0m-5 1h0m4 0h0m4 1h0m1 0h0m3 1h0m-19 1h0m2 0h0m3 0h0m6 0h0m-4 1h0m13 0h0m1 0h0m-12 1h0m4 0h0m4 0h0m1 0h0m-16 1h0m5 0h0m13 0h0m3 0h0m-17 1h0m12 0h0m2 0h0m8 0h0m-27 1h0m5 0h0m1 0h0m1 0h0m4 0h0m5 0h0m10 0h0m-17 1h0m6 0h0m0 1h0m4 0h0m2 0h0m1 0h0m-13 1h0m8 0h0m-9 1h0m3 0h0m-12 1h0m6 0h0m10 0h0m5 0h0m1 0h0m-21 1h0m2 0h0m4 0h0m6 0h0m7 0h0m-11 1h0m6 0h0m2 1h0m1 0h0m-16 1h0m16 0h0m1 0h0m-19 2h0m22 0h0m-15 1h0"/>
<path transform="scale(.5)" stroke="#96AA1E" stroke-width="2.56" stroke-linecap="round" fill="none" d="M840 168h0m-9 1h0m7 0h0m1 0h0m11 0h0m-21 1h0m12 0h0m2 0h0m2 0h0m2 0h0m-21 1h0m14 0h0m11 0h0m-24 1h0m4 0h0m5 0h0m10 0h0m2 0h0m2 0h0m-19 1h0m3 0h0m2 0h0m6 0h0m1 0h0m5 0h0m-17 1h0m5 0h0m4 0h0m7 0h0m1 0h0m10 0h0m-29 1h0m1 0h0m4 0h0m14 0h0m-16 1h0m11 0h0m1 0h0m3 0h0m2 0h0m-17 1h0m4 0h0m1 0h0m3 0h0m1 0h0m18 0h0m-30 1h0m1 0h0m1 0h0m2 0h0m3 0h0m1 0h0m8 0h0m4 0h0m5 0h0m5 0h0m4 0h0m-25 1h0m3 0h0m8 0h0m1 0h0m-20 1h0m4 0h0m9 0h0m5 0h0m2 0h0m3 0h0m2 0h0m-23 1h0m10 0h0m3 0h0m2 0h0m5 0h0m-22 1h0m16 0h0m6 0h0m6 0h0m-30 1h0m2 0h0m13 0h0m2 0h0m12 0h0m5 0h0m-24 1h0m2 0h0m4 0h0m-12 1h0m5 0h0m4 0h0m4 0h0m3 0h0m4 0h0m18 0h0m-46 1h0m5 0h0m3 0h0m1 0h0m3 0h0m4 0h0m16 0h0m13 0h0m-7 1h0m-35 1h0m5 0h0m2 0h0m2 0h0m14 0h0m2 0h0m1 0h0m5 0h0m8 0h0m4 0h0m2 0h0m-43 1h0m1 0h0m7 0h0m3 0h0m3 0h0m5 0h0m5 0h0m3 0h0m5 0h0m2 0h0m3 0h0m-38 1h0m4 0h0m2 0h0m2 0h0m1 0h0m4 0h0m2 0h0m2 0h0m10 0h0m-29 1h0m8 0h0m5 0h0m6 0h0m9 0h0m4 0h0m5 0h0m13 0h0m-48 1h0m17 0h0m1 0h0m1 0h0m6 0h0m2 0h0m9 0h0m5 0h0m1 0h0m-32 1h0m17 0h0m5 0h0m8 0h0m-40 1h0m14 0h0m1 0h0m6 0h0m5 0h0m1 0h0m7 0h0m-25 1h0m11 0h0m2 0h0m1 0h0m6 0h0m11 0h0m1 0h0m-47 1h0m1 0h0m6 0h0m2 0h0m11 0h0m1 0h0m5 0h0m2 0h0m1 0h0m9 0h0m3 0h0m2 0h0m1 0h0m1 0h0m1 0h0m6 0h0m-42 1h0m5 0h0m11 0h0m3 0h0m1 0h0m5 0h0m3 0h0m6 0h0m2 0h0m12 0h0m-59 1h0m7 0h0m1 0h0m12 0h0m16 0h0m10 0h0m1 0h0m2 0h0m3 0h0m-49 1h0m3 0h0m11 0h0m9 0h0m6 0h0m2 0h0m6 0h0m21 0h0m-45 1h0m5 0h0m1 0h0m2 0h0m1 0h0m8 0h0m3 0h0m8 0h0m9 0h0m4 0h0m-55 1h0m3 0h0m9 0h0m8 0h0m8 0h0m24 0h0m7 0h0m-46 1h0m4 0h0m4 0h0m4 0h0m3 0h0m3 0h0m8 0h0m9 0h0m3 0h0m2 0h0m6 0h0m-54 1h0m1 0h0m12 0h0m2 0h0m4 0h0m3 0h0m3 0h0m2 0h0m6 0h0m3 0h0m5 0h0m4 0h0m2 0h0m4 0h0m-49 1h0m1 0h0m10 0h0m9 0h0m5 0h0m25 0h0m-59 1h0m3 0h0m13 0h0m14 0h0m1 0h0m6 0h0m6 0h0m3 0h0m3 0h0m2 0h0m5 0h0m-47 1h0m13 0h0m1 0h0m20 0h0m-35 1h0m4 0h0m5 0h0m6 0h0m7 0h0m14 0h0m1 0h0m8 0h0m6 0h0m-57 1h0m4 0h0m22 0h0m4 0h0m5 0h0m5 0h0m8 0h0m7 0h0m-50 1h0m6 0h0m1 0h0m15 0h0m1 0h0m17 0h0m3 0h0m1 0h0m3 0h0m5 0h0m1 0h0m-60 1h0m3 0h0m2 0h0m6 0h0m8 0h0m8 0h0m4 0h0m2 0h0m3 0h0m2 0h0m8 0h0m5 0h0m1 0h0m9 0h0m1 0h0m-60 1h0m3 0h0m1 0h0m9 0h0m11 0h0m2 0h0m4 0h0m4 0h0m13 0h0m8 0h0m-59 1h0m5 0h0m2 0h0m10 0h0m12 0h0m1 0h0m2 0h0m9 0h0m3 0h0m4 0h0m7 0h0m5 0h0m-56 1h0m8 0h0m18 0h0m5 0h0m5 0h0m10 0h0m2 0h0m-45 1h0m10 0h0m6 0h0m10 0h0m6 0h0m5 0h0m2 0h0m-33 1h0m6 0h0m2 0h0m4 0h0m13 0h0m7 0h0m1 0h0m2 0h0m2 0h0m3 0h0m-28 1h0m1 0h0m2 0h0m5 0h0m2 0h0m3 0h0m1 0h0m1 0h0m2 0h0m1 0h0m2 0h0m-41 1h0m5 0h0m4 0h0m2 0h0m14 0h0m3 0h0m4 0h0m3 0h0m4 0h0m15 0h0m-49 1h0m1 0h0m2 0h0m2 0h0m9 0h0m1 0h0m8 0h0m9 0h0m5 0h0m3 0h0m3 0h0m6 0h0m2 0h0m-56 1h0m18 0h0m2 0h0m4 0h0m7 0h0m7 0h0m12 0h0m6 0h0m-59 1h0m20 0h0m5 0h0m2 0h0m2 0h0m8 0h0m3 0h0m9 0h0m-50 1h0m1 0h0m2 0h0m9 0h0m7 0h0m4 0h0m19 0h0m-30 1h0m3 0h0m4 0h0m8 0h0m27 0h0m8 0h0m-53 1h0m1 0h0m4 0h0m5 0h0m7 0h0m9 0h0m3 0h0m1 0h0m16 0h0m3 0h0m3 0h0m-61 1h0m7 0h0m4 0h0m11 0h0m3 0h0m6 0h0m6 0h0m17 0h0m3 0h0m5 0h0m-59 1h0m6 0h0m13 0h0m1 0h0m8 0h0m5 0h0m7 0h0m8 0h0m1 0h0m1 0h0m1 0h0m4 0h0m-47 1h0m13 0h0m4 0h0m2 0h0m5 0h0m5 0h0m6 0h0m2 0h0m6 0h0m2 0h0m-54 1h0m7 0h0m5 0h0m1 0h0m7 0h0m9 0h0m1 0h0m3 0h0m9 0h0m12 0h0m3 0h0m-56 1h0m5 0h0m1 0h0m1 0h0m5 0h0m13 0h0m2 0h0m2 0h0m9 0h0m8 0h0m5 0h0m6 0h0m1 0h0m1 0h0m-51 1h0m4 0h0m21 0h0m8 0h0m5 0h0m-30 1h0m12 0h0m1 0h0m4 0h0m2 0h0m3 0h0m5 0h0m5 0h0m6 0h0m-55 1h0m2 0h0m6 0h0m1 0h0m18 0h0m2 0h0m6 0h0m1 0h0m9 0h0m2 0h0m4 0h0m-47 1h0m12 0h0m1 0h0m2 0h0m5 0h0m1 0h0m17 0h0m1 0h0m4 0h0m4 0h0m1 0h0m1 0h0m6 0h0m-62 1h0m14 0h0m5 0h0m6 0h0m15 0h0m6 0h0m7 0h0m5 0h0m3 0h0m-59 1h0m1 0h0m7 0h0m2 0h0m2 0h0m5 0h0m4 0h0m15 0h0m6 0h0m-29 1h0m7 0h0m9 0h0m5 0h0m4 0h0m1 0h0m12 0h0m9 0h0m-63 1h0m20 0h0m2 0h0m11 0h0m23 0h0m6 0h0m-46 1h0m8 0h0m14 0h0m3 0h0m10 0h0m1 0h0m2 0h0m1 0h0m1 0h0m3 0h0m-59 1h0m2 0h0m4 0h0m10 0h0m2 0h0m1 0h0m1 0h0m5 0h0m4 0h0m2 0h0m2 0h0m6 0h0m1 0h0m7 0h0m2 0h0m3 0h0m3 0h0m4 0h0m-58 1h0m5 0h0m6 0h0m7 0h0m1 0h0m6 0h0m4 0h0m2 0h0m1 0h0m4 0h0m5 0h0m5 0h0m1 0h0m5 0h0m6 0h0m3 0h0m-62 1h0m4 0h0m3 0h0m10 0h0m1 0h0m3 0h0m2 0h0m19 0h0m4 0h0m5 0h0m2 0h0m4 0h0m2 0h0m-41 1h0m20 0h0m2 0h0m15 0h0m1 0h0m1 0h0m-46 1h0m13 0h0m7 0h0m1 0h0m1 0h0m13 0h0m8 0h0m-50 1h0m7 0h0m3 0h0m6 0h0m7 0h0m5 0h0m2 0h0m9 0h0m3 0h0m10 0h0m-53 1h0m1 0h0m13 0h0m2 0h0m9 0h0m15 0h0m11 0h0m1 0h0m2 0h0m2 0h0m1 0h0m2 0h0m-47 1h0m3 0h0m2 0h0m11 0h0m2 0h0m15 0h0m6 0h0m-39 1h0m3 0h0m1 0h0m1 0h0m3 0h0m2 0h0m1 0h0m3 0h0m1 0h0m9 0h0m8 0h0m1 0h0m13 0h0m-56 1h0m10 0h0m4 0h0m1 0h0m1 0h0m13 0h0m1 0h0m4 0h0m4 0h0m3 0h0m2 0h0m13 0h0m3 0h0m-59 1h0m1 0h0m15 0h0m16 0h0m8 0h0m4 0h0m12 0h0m2 0h0m-62 1h0m11 0h0m10 0h0m1 0h0m2 0h0m5 0h0m1 0h0m8 0h0m1 0h0m2 0h0m1 0h0m1 0h0m8 0h0m5 0h0m1 0h0m2 0h0m-54 1h0m10 0h0m10 0h0m7 0h0m11 0h0m5 0h0m13 0h0m-45 1h0m25 0h0m7 0h0m2 0h0m9 0h0m-47 1h0m18 0h0m13 0h0m11 0h0m5 0h0m1 0h0m-60 1h0m11 0h0m2 0h0m2 0h0m10 0h0m16 0h0m3 0h0m10 0h0m-54 1h0m9 0h0m14 0h0m6 0h0m3 0h0m1 0h0m15 0h0m3 0h0m7 0h0m-57 1h0m4 0h0m4 0h0m1 0h0m12 0h0m36 0h0m2 0h0m4 0h0m-62 1h0m22 0h0m8 0h0m10 0h0m10 0h0m4 0h0m1 0h0m-53 1h0m4 0h0m2 0h0m2 0h0m2 0h0m8 0h0m7 0h0m2 0h0m2 0h0m17 0h0m3 0h0m2 0h0m-51 1h0m9 0h0m4 0h0m15 0h0m10 0h0m1 0h0m18 0h0m-55 1h0m12 0h0m10 0h0m8 0h0m4 0h0m2 0h0m7 0h0m3 0h0m5 0h0m4 0h0m-60 1h0m9 0h0m15 0h0m16 0h0m21 0h0m-55 1h0m8 0h0m4 0h0m3 0h0m8 0h0m3 0h0m7 0h0m1 0h0m2 0h0m1 0h0m17 0h0m-35 1h0m11 0h0m7 0h0m1 0h0m5 0h0m1 0h0m-33 1h0m16 0h0m7 0h0m12 0h0m2 0h0m6 0h0m-41 2h0m31 0h0m4 0h0m5 0h0m-17 1h0m12 0h0m-30 1h0m1 0h0m16 0h0m7 0h0m-13 3h0m8 0h0m-7 1h0m-8 1h0m12 0h0m-3 1h0m4 0h0m-6 1h0m7 0h0"/>
<path transform="scale(.5)" stroke="#C86EEB" stroke-width="2.56" stroke-linecap="round" fill="none" d="M895 220h0m1 0h0m-6 1h0m7 0h0m-2 1h0m1 0h0m3 0h0m-11 1h0m8 1h0m3 0h0m-6 1h0m11 0h0m-18 2h0m1 0h0m3 0h0m5 0h0m2 0h0m4 1h0m-13 1h0m4 0h0m1 0h0m5 0h0m-1 1h0m-5 1h0m2 0h0m1 0h0m-3 1h0m1 0h0m4 0h0m3 1h0m-13 1h0m3 0h0m11 0h0m-7 1h0m-9 1h0m12 1h0m4 0h0m-4 1h0m4 0h0m-13 1h0m14 0h0m-12 1h0m2 0h0m7 0h0m1 0h0m-10 1h0m2 0h0m-2 1h0m3 0h0m3 0h0m5 0h0m-14 1h0m7 0h0m2 0h0"/>
<path transform="scale(.5)" stroke="#CD9128" stroke-width="2.56" stroke-linecap="round" fill="none" d="M819 170h0m-8 1h0m2 0h0m-6 1h0m6 0h0m3 0h0m-12 1h0m4 0h0m16 0h0m4 0h0m-21 1h0m1 0h0m3 0h0m5 0h0m1 0h0m-4 1h0m12 0h0m-22 1h0m9 0h0m-3 1h0m1 0h0m3 0h0m8 0h0m5 0h0m-17 1h0m1 0h0m1 0h0m2 0h0m3 0h0m-16 1h0m16 0h0m-18 1h0m12 0h0m4 0h0m-18 1h0m5 0h0m10 0h0m1 0h0m6 0h0m-19 1h0m2 0h0m4 0h0m10 0h0m6 0h0m-25 1h0m3 0h0m5 0h0m5 0h0m7 0h0m2 0h0m-19 1h0m5 0h0m11 0h0m6 0h0m1 0h0m-28 1h0m3 0h0m3 0h0m4 0h0m1 0h0m1 0h0m1 0h0m8 0h0m6 0h0m-28 1h0m2 0h0m6 0h0m6 0h0m3 0h0m14 0h0m-24 1h0m8 0h0m2 0h0m5 0h0m-24 1h0m8 0h0m6 0h0m5 0h0m9 0h0m5 0h0m-21 1h0m11 0h0m3 0h0m-12 1h0m4 0h0m1 0h0m6 0h0m6 0h0m-33 1h0m3 0h0m1 0h0m1 0h0m6 0h0m4 0h0m3 0h0m3 0h0m5 0h0m-11 1h0m9 0h0m2 0h0m6 0h0m-15 1h0m13 0h0m-21 1h0m4 0h0m6 0h0m3 0h0m3 0h0m1 0h0m3 0h0m-25 1h0m6 0h0m13 0h0m2 0h0m1 0h0m-9 1h0m3 0h0m4 0h0m6 0h0m-24 1h0m14 0h0m2 0h0m2 0h0m1 0h0m1 0h0m2 0h0m2 0h0m1 0h0m-15 1h0m4 0h0m9 0h0m-30 1h0m15 0h0m3 0h0m4 0h0m1 0h0m4 0h0m4 0h0m-27 1h0m6 0h0m2 0h0m4 0h0m1 0h0m12 0h0m-29 1h0m4 0h0m4 0h0m3 0h0m1 0h0m3 0h0m5 0h0m11 0h0m-29 1h0m2 0h0m29 0h0m-30 1h0m2 0h0m5 0h0m2 0h0m9 0h0m-9 1h0m8 0h0m8 0h0m1 0h0m1 0h0m1 0h0m-33 1h0m25 0h0m4 0h0m-22 1h0m3 0h0m3 0h0m11 0h0m3 0h0m-28 1h0m7 0h0m5 0h0m2 0h0m1 0h0m4 0h0m2 0h0m2 0h0m10 0h0m-32 1h0m6 0h0m24 0h0m-27 1h0m4 0h0m2 0h0m11 0h0m2 0h0m-20 1h0m5 0h0m3 0h0m17 0h0m5 0h0m-35 1h0m7 0h0m3 0h0m2 0h0m16 0h0m1 0h0m7 0h0m-14 1h0m2 0h0m10 0h0m4 0h0m-38 1h0m21 0h0m10 0h0m4 0h0m-31 1h0m2 0h0m4 0h0m13 0h0m5 0h0m1 0h0m1 0h0m1 0h0m2 0h0m3 0h0m-37 1h0m3 0h0m10 0h0m3 0h0m2 0h0m14 0h0m-32 1h0m1 0h0m8 0h0m9 0h0m1 0h0m2 0h0m4 0h0m1 0h0m2 0h0m4 0h0m10 0h0m-42 1h0m7 0h0m7 0h0m1 0h0m21 0h0m-35 1h0m12 0h0m16 0h0m3 0h0m2 0h0m6 0h0m-38 1h0m10 0h0m5 0h0m2 0h0m6 0h0m3 0h0m-22 1h0m4 0h0m2 0h0m8 0h0m2 0h0m-13 1h0m4 0h0m10 0h0m5 0h0m3 0h0m2 0h0m-32 1h0m7 0h0m14 0h0m4 0h0m3 0h0m1 0h0m2 0h0m4 0h0m-29 1h0m7 0h0m1 0h0m17 0h0m4 0h0m-31 1h0m13 0h0m-6 1h0m4 0h0m3 0h0m11 0h0m5 0h0m-30 1h0m10 0h0m10 0h0m5 0h0m1 0h0m-14 1h0m8 0h0m5 0h0m6 0h0m2 0h0m-18 1h0m-16 1h0m7 0h0m2 0h0m1 0h0m7 0h0m12 0h0m2 0h0m-35 1h0m1 0h0m30 0h0m5 0h0m-38 1h0m28 0h0m5 0h0m4 0h0m1 0h0m-13 1h0m17 0h0m-31 1h0m6 0h0m12 0h0m1 0h0m-25 1h0m1 0h0m5 0h0m2 0h0m1 0h0m1 0h0m5 0h0m2 0h0m10 0h0m1 0h0m5 0h0m1 0h0m-37 1h0m28 0h0m1 0h0m-23 1h0m1 0h0m1 0h0m10 0h0m10 0h0m-21 1h0m9 0h0m10 0h0m2 0h0m-22 1h0m13 0h0m2 0h0m4 0h0m6 0h0m-28 1h0m1 0h0m8 0h0m2 0h0m7 0h0m1 0h0m-14 1h0m1 0h0m3 0h0m2 0h0m1 0h0m10 0h0m1 0h0m4 0h0m2 0h0m4 0h0m-31 1h0m5 0h0m1 0h0m12 0h0m-22 1h0m4 0h0m3 0h0m23 0h0m-10 1h0m5 0h0m8 0h0m-3 1h0m2 0h0m-30 1h0m11 0h0m1 0h0m1 0h0m11 0h0m7 0h0m-31 1h0m3 0h0m11 0h0m12 0h0m1 0h0m1 0h0m3 0h0m-25 1h0m3 0h0m7 0h0m14 0h0m-27 1h0m2 0h0m4 0h0m21 0h0m-29 1h0m12 0h0m2 0h0m3 0h0m8 0h0m-19 1h0m3 0h0m5 0h0m1 0h0m5 0h0m12 0h0m-29 1h0m4 0h0m1 0h0m9 0h0m6 0h0m2 1h0m-19 1h0m20 0h0m1 0h0m-17 1h0m9 0h0m6 0h0m-3 1h0m-5 1h0m7 0h0m-16 1h0m11 1h0m3 0h0m2 0h0m-4 1h0"/>
<path transform="scale(.5)" stroke="#E15AB9" stroke-width="2.56" stroke-linecap="round" fill="none" d="M799 139h0m3 3h0m1 0h0m1 2h0m102 68h0m-5 1h0m3 0h0m2 0h0m18 22h0m-1 1h0m-2 1h0m5 2h0m1 0h0m-10 1h0m4 0h0m-4 1h0m8 1h0m2 0h0m-10 1h0m2 0h0m4 0h0m-7 1h0m2 0h0m7 1h0m-11 1h0m-1 1h0m0 2h0m3 0h0m-5 1h0m3 1h0m-11 3h0m-1 1h0m4 1h0m-4 2h0m-3 1h0m1 0h0m4 1h0m6 0h0m-3 1h0m1 0h0m-7 1h0m7 0h0m-9 1h0m1 0h0m4 0h0m1 1h0m4 0h0m2 0h0m-7 1h0m0 1h0m4 0h0m-8 1h0m1 1h0"/>
<path transform="scale(.5)" stroke="#E26E69" stroke-width="2.56" stroke-linecap="round" fill="none" d="M900 118h0m1 0h0m-2 1h0m4 0h0m2 0h0m-4 1h0m1 0h0m-4 1h0m3 0h0m10 0h0m-16 1h0m17 0h0m-11 1h0m1 0h0m1 0h0m4 0h0m1 0h0m6 0h0m-17 1h0m-5 1h0m2 0h0m-1 1h0m21 0h0m-22 1h0m10 0h0m7 0h0m-16 1h0m5 0h0m7 0h0m1 0h0m6 0h0m-22 1h0m10 0h0m11 0h0m5 0h0m-27 1h0m6 0h0m1 0h0m2 0h0m1 0h0m2 0h0m1 0h0m1 0h0m5 0h0m3 0h0m1 0h0m-11 1h0m-13 1h0m2 0h0m2 0h0m8 0h0m14 0h0m-25 1h0m13 0h0m3 0h0m7 0h0m-20 1h0m5 0h0m15 0h0m1 0h0m-17 1h0m7 0h0m3 0h0m3 0h0m3 0h0m1 0h0m1 0h0m-25 1h0m3 0h0m1 0h0m12 0h0m10 0h0m-29 1h0m2 0h0m11 0h0m14 0h0m-26 2h0m22 0h0m12 0h0m-29 1h0m26 0h0m-28 1h0m13 0h0m19 0h0m-34 1h0m2 0h0m1 0h0m3 0h0m10 0h0m10 0h0m3 0h0m-22 1h0m9 0h0m5 0h0m3 0h0m-16 1h0m5 0h0m2 0h0m3 0h0m16 0h0m1 0h0m-33 1h0m2 0h0m5 0h0m19 0h0m8 0h0m-20 1h0m2 0h0m2 0h0m8 0h0m-31 1h0m7 0h0m2 0h0m8 0h0m11 0h0m4 0h0m-33 1h0m9 0h0m2 0h0m17 0h0m10 0h0m-36 1h0m8 0h0m3 0h0m9 0h0m4 0h0m2 0h0m11 0h0m-27 1h0m14 0h0m6 0h0m4 0h0m-28 1h0m1 0h0m6 0h0m4 0h0m11 0h0m-28 1h0m14 0h0m3 0h0m3 0h0m9 0h0m2 0h0m7 0h0m4 0h0m-41 1h0m14 0h0m5 0h0m6 0h0m13 0h0m-39 1h0m4 0h0m1 0h0m3 0h0m4 0h0m7 0h0m6 0h0m5 0h0m1 0h0m2 0h0m-21 1h0m2 0h0m19 0h0m3 0h0m4 0h0m-42 1h0m5 0h0m3 0h0m3 0h0m9 0h0m3 0h0m11 0h0m6 0h0m1 0h0m-40 1h0m8 0h0m1 0h0m8 0h0m4 0h0m19 0h0m-29 1h0m7 0h0m4 0h0m2 0h0m6 0h0m-30 1h0m1 0h0m11 0h0m8 0h0m2 0h0m6 0h0m3 0h0m-25 1h0m7 0h0m2 0h0m3 0h0m5 0h0m17 0h0m-39 1h0m12 0h0m22 0h0m3 0h0m2 0h0m2 0h0m2 0h0m-38 1h0m22 0h0m3 0h0m3 0h0m2 0h0m2 0h0m4 0h0m-38 1h0m4 0h0m1 0h0m7 0h0m4 0h0m5 0h0m8 0h0m2 0h0m1 0h0m-35 1h0m7 0h0m8 0h0m9 0h0m4 0h0m-22 1h0m18 0h0m2 0h0m7 0h0m4 0h0m2 0h0m1 0h0m-38 1h0m2 0h0m2 0h0m1 0h0m5 0h0m1 0h0m12 0h0m4 0h0m-8 1h0m3 0h0m7 0h0m-30 1h0m3 0h0m1 0h0m3 0h0m3 0h0m8 0h0m2 0h0m-17 1h0m9 0h0m1 0h0m4 0h0m8 0h0m2 0h0m4 0h0m3 0h0m8 0h0m-39 1h0m9 0h0m4 0h0m1 0h0m5 0h0m17 0h0m-29 1h0m8 0h0m3 0h0m3 0h0m13 0h0m1 0h0m-38 1h0m2 0h0m8 0h0m3 0h0m10 0h0m2 0h0m5 0h0m5 0h0m-21 1h0m2 0h0m6 0h0m1 0h0m1 0h0m12 0h0m2 0h0m-37 1h0m8 0h0m19 0h0m7 0h0m1 0h0m-36 1h0m9 0h0m6 0h0m11 0h0m5 0h0m-25 1h0m6 0h0m3 0h0m10 0h0m12 0h0m-41 1h0m4 0h0m7 0h0m2 0h0m6 0h0m10 0h0m3 0h0m7 0h0m-34 1h0m5 0h0m17 0h0m3 0h0m5 0h0m1 0h0m-32 1h0m33 0h0m3 0h0m-33 1h0m20 0h0m4 0h0m1 0h0m2 0h0m-32 1h0m15 0h0m11 0h0m8 0h0m-31 1h0m3 0h0m4 0h0m3 0h0m4 0h0m7 0h0m1 0h0m4 0h0m8 0h0m-28 1h0m7 0h0m2 0h0m9 0h0m10 0h0m-36 1h0m14 0h0m4 0h0m5 0h0m5 0h0m-27 1h0m5 0h0m13 0h0m11 0h0m-20 1h0m17 0h0m4 0h0m2 0h0m-25 1h0m6 0h0m6 0h0m1 0h0m3 0h0m9 0h0m-29 1h0m8 0h0m7 0h0m2 0h0m4 0h0m-21 1h0m3 0h0m2 0h0m6 0h0m4 0h0m1 0h0m3 0h0m2 0h0m5 0h0m2 0h0m3 0h0m-24 1h0m7 0h0m2 0h0m8 0h0m2 0h0m-24 1h0m5 0h0m4 0h0m10 0h0m8 0h0m1 0h0m-33 1h0m6 1h0m11 0h0m1 0h0m1 0h0m7 0h0m-16 1h0m12 0h0m0 1h0m4 0h0m-22 1h0m8 0h0m3 0h0m-3 1h0m8 2h0"/>
<g stroke="#000" stroke-width="1.1" fill="none">
<path d="M376.4 33.8V152.5H475.8"/>
<path d="M373.4 36.1H376.4"/>
<path d="M373.4 65.8H376.4"/>
<path d="M373.4 94.8H376.4"/>
<path d="M373.4 124.2H376.4"/>
<path d="M380.5 152.5V155.5"/>
<path d="M404.4 152.5V155.5"/>
<path d="M428.2 152.5V155.5"/>
<path d="M452.1 152.5V155.5"/>
</g>
<text x="370.4" y="38.9" font-size="8" fill="#333" text-anchor="end" font-weight="normal" stroke="#333" stroke-width="0.15" >50</text>
<text x="370.4" y="68.6" font-size="8" fill="#333" text-anchor="end" font-weight="normal" stroke="#333" stroke-width="0.15" >25</text>
<text x="370.4" y="97.6" font-size="8" fill="#333" text-anchor="end" font-weight="normal" stroke="#333" stroke-width="0.15" >0</text>
<text x="370.4" y="127.0" font-size="8" fill="#333" text-anchor="end" font-weight="normal" stroke="#333" stroke-width="0.15" >-25</text>
<text x="381.1" y="165.6" font-size="8" fill="#333" text-anchor="middle" font-weight="normal" stroke="#333" stroke-width="0.15" >-50</text>
<text x="405.0" y="165.6" font-size="8" fill="#333" text-anchor="middle" font-weight="normal" stroke="#333" stroke-width="0.15" >-25</text>
<text x="428.8" y="165.6" font-size="8" fill="#333" text-anchor="middle" font-weight="normal" stroke="#333" stroke-width="0.15" >0</text>
<text x="452.70000000000005" y="165.6" font-size="8" fill="#333" text-anchor="middle" font-weight="normal" stroke="#333" stroke-width="0.15" >25</text>
<text x="378.0" y="37.8" font-size="7.2" fill="#000" text-anchor="start" font-weight="normal" >T cells</text>
<text x="426.2" y="177.9" font-size="9.6" fill="#111" text-anchor="middle" font-weight="normal" textLength="24" lengthAdjust="spacingAndGlyphs" stroke="#111" stroke-width="0.15" >tSNE_1</text>
<text x="0" y="0" font-size="9.6" fill="#111" stroke="#111" stroke-width="0.15" text-anchor="middle" textLength="24" lengthAdjust="spacingAndGlyphs" transform="translate(355.4 95) rotate(-90)">tSNE_2</text>
<circle cx="466.4" cy="27.20" r="1.1" fill="#E26E69"/>
<text x="469.2" y="29.20" font-size="5.7" fill="#E26E69" text-anchor="start" font-weight="normal" >CD4_1</text>
<circle cx="466.4" cy="33.54" r="1.1" fill="#CD9128"/>
<text x="469.2" y="35.54" font-size="5.7" fill="#CD9128" text-anchor="start" font-weight="normal" >CD4_stem</text>
<circle cx="466.4" cy="39.88" r="1.1" fill="#96AA1E"/>
<text x="469.2" y="41.88" font-size="5.7" fill="#96AA1E" text-anchor="start" font-weight="normal" >CD4_3</text>
<circle cx="466.4" cy="46.22" r="1.1" fill="#55B446"/>
<text x="469.2" y="48.22" font-size="5.7" fill="#55B446" text-anchor="start" font-weight="normal" >CD8_1</text>
<circle cx="466.4" cy="52.56" r="1.1" fill="#55B996"/>
<text x="469.2" y="54.56" font-size="5.7" fill="#55B996" text-anchor="start" font-weight="normal" >CD8_memory</text>
<circle cx="466.4" cy="58.90" r="1.1" fill="#5AAFE1"/>
<text x="469.2" y="60.90" font-size="5.7" fill="#5AAFE1" text-anchor="start" font-weight="normal" >CD4_Treg</text>
<circle cx="466.4" cy="65.24" r="1.1" fill="#6E96F0"/>
<text x="469.2" y="67.24" font-size="5.7" fill="#6E96F0" text-anchor="start" font-weight="normal" >CD8_exhausted</text>
<circle cx="466.4" cy="71.58" r="1.1" fill="#C86EEB"/>
<text x="469.2" y="73.58" font-size="5.7" fill="#C86EEB" text-anchor="start" font-weight="normal" >CD8_2</text>
<circle cx="466.4" cy="77.92" r="1.1" fill="#E15AB9"/>
<text x="469.2" y="79.92" font-size="5.7" fill="#E15AB9" text-anchor="start" font-weight="normal" >Others</text>
<rect x="127.4" y="222.3" width="73.0" height="166.5" fill="none" stroke="#000" stroke-width="1.1"/>
<path d="M123.8 233.5H127.4" stroke="#000" stroke-width="1.1"/>
<text x="120.9" y="236.1" font-size="7.1" fill="#111" text-anchor="end" font-weight="normal" stroke="#111" stroke-width="0.15" >Others</text>
<circle cx="143.7" cy="233.5" r="2.2" fill="#AA0E35"/>
<circle cx="192.9" cy="233.5" r="2.1" fill="#2A4888"/>
<text x="206.6" y="236.1" font-size="7.2" fill="#111" text-anchor="start" font-weight="normal" stroke="#111" stroke-width="0.12" >0.79</text>
<path d="M123.8 251.8H127.4" stroke="#000" stroke-width="1.1"/>
<text x="120.9" y="254.35999999999999" font-size="7.1" fill="#111" text-anchor="end" font-weight="normal" stroke="#111" stroke-width="0.15" >CD8_2</text>
<circle cx="143.7" cy="251.8" r="1.8" fill="#AA0E35"/>
<circle cx="192.9" cy="251.8" r="1.7" fill="#2A4888"/>
<text x="206.6" y="254.35999999999999" font-size="7.2" fill="#111" text-anchor="start" font-weight="normal" stroke="#111" stroke-width="0.12" >0.61</text>
<path d="M123.8 270.0H127.4" stroke="#000" stroke-width="1.1"/>
<text x="120.9" y="272.62" font-size="7.1" fill="#111" text-anchor="end" font-weight="normal" stroke="#111" stroke-width="0.15" >CD8_exhausted</text>
<circle cx="143.7" cy="270.0" r="0.4" fill="#AA0E35"/>
<circle cx="192.9" cy="270.0" r="2.2" fill="#2A4888"/>
<text x="206.6" y="272.62" font-size="7.2" fill="#111" text-anchor="start" font-weight="normal" stroke="#111" stroke-width="0.12" >4.12 x 10<tspan dy="-2.6" font-size="4.5" stroke-width="0">-43</tspan></text>
<path d="M123.8 288.3H127.4" stroke="#000" stroke-width="1.1"/>
<text x="120.9" y="290.88" font-size="7.1" fill="#111" text-anchor="end" font-weight="normal" stroke="#111" stroke-width="0.15" >CD4_Treg</text>
<circle cx="143.7" cy="288.3" r="2.6" fill="#AA0E35"/>
<circle cx="192.9" cy="288.3" r="2.0" fill="#2A4888"/>
<text x="206.6" y="290.88" font-size="7.2" fill="#111" text-anchor="start" font-weight="normal" stroke="#111" stroke-width="0.12" >1.34 x 10<tspan dy="-2.6" font-size="4.5" stroke-width="0">-4</tspan></text>
<path d="M123.8 306.5H127.4" stroke="#000" stroke-width="1.1"/>
<text x="120.9" y="309.14000000000004" font-size="7.1" fill="#111" text-anchor="end" font-weight="normal" stroke="#111" stroke-width="0.15" >CD8_memory</text>
<circle cx="143.7" cy="306.5" r="3.5" fill="#AA0E35"/>
<circle cx="192.9" cy="306.5" r="1.6" fill="#2A4888"/>
<text x="206.6" y="309.14000000000004" font-size="7.2" fill="#111" text-anchor="start" font-weight="normal" stroke="#111" stroke-width="0.12" >3.45 x 10<tspan dy="-2.6" font-size="4.5" stroke-width="0">-61</tspan></text>
<path d="M123.8 324.8H127.4" stroke="#000" stroke-width="1.1"/>
<text x="120.9" y="327.40000000000003" font-size="7.1" fill="#111" text-anchor="end" font-weight="normal" stroke="#111" stroke-width="0.15" >CD8_1</text>
<circle cx="143.7" cy="324.8" r="3.4" fill="#AA0E35"/>
<circle cx="192.9" cy="324.8" r="6.0" fill="#2A4888"/>
<text x="206.6" y="327.40000000000003" font-size="7.2" fill="#111" text-anchor="start" font-weight="normal" stroke="#111" stroke-width="0.12" >9.45 x 10<tspan dy="-2.6" font-size="4.5" stroke-width="0">-114</tspan></text>
<path d="M123.8 343.1H127.4" stroke="#000" stroke-width="1.1"/>
<text x="120.9" y="345.66" font-size="7.1" fill="#111" text-anchor="end" font-weight="normal" stroke="#111" stroke-width="0.15" >CD4_3</text>
<circle cx="143.7" cy="343.1" r="5.2" fill="#AA0E35"/>
<circle cx="192.9" cy="343.1" r="5.6" fill="#2A4888"/>
<text x="206.6" y="345.66" font-size="7.2" fill="#111" text-anchor="start" font-weight="normal" stroke="#111" stroke-width="0.12" >1.81 x 10<tspan dy="-2.6" font-size="4.5" stroke-width="0">-8</tspan></text>
<path d="M123.8 361.3H127.4" stroke="#000" stroke-width="1.1"/>
<text x="120.9" y="363.92" font-size="7.1" fill="#111" text-anchor="end" font-weight="normal" stroke="#111" stroke-width="0.15" >CD4_stem</text>
<circle cx="143.7" cy="361.3" r="6.5" fill="#AA0E35"/>
<circle cx="192.9" cy="361.3" r="3.1" fill="#2A4888"/>
<text x="206.6" y="363.92" font-size="7.2" fill="#111" text-anchor="start" font-weight="normal" stroke="#111" stroke-width="0.12" >1.31 x 10<tspan dy="-2.6" font-size="4.5" stroke-width="0">-245</tspan></text>
<path d="M123.8 379.6H127.4" stroke="#000" stroke-width="1.1"/>
<text x="120.9" y="382.18000000000006" font-size="7.1" fill="#111" text-anchor="end" font-weight="normal" stroke="#111" stroke-width="0.15" >CD4_1</text>
<circle cx="143.7" cy="379.6" r="3.6" fill="#AA0E35"/>
<circle cx="192.9" cy="379.6" r="4.2" fill="#2A4888"/>
<text x="206.6" y="382.18000000000006" font-size="7.2" fill="#111" text-anchor="start" font-weight="normal" stroke="#111" stroke-width="0.12" >4.26 x 10<tspan dy="-2.6" font-size="4.5" stroke-width="0">-9</tspan></text>
<text x="207.6" y="220.1" font-size="7" fill="#111"><tspan font-style="italic">P</tspan> value</text>
<text x="142.8" y="400.3" font-size="7.2" fill="#B5173A" text-anchor="middle" font-weight="normal" textLength="34" lengthAdjust="spacingAndGlyphs" >Responder</text>
<text x="192.4" y="400.3" font-size="7.2" fill="#3A5A9A" text-anchor="middle" font-weight="normal" >Non-</text>
<text x="192.8" y="407.9" font-size="7.2" fill="#3A5A9A" text-anchor="middle" font-weight="normal" textLength="32" lengthAdjust="spacingAndGlyphs" >responder</text>
<text x="44.1" y="348.3" font-size="7" fill="#111" text-anchor="middle" font-weight="normal" textLength="48.2" lengthAdjust="spacingAndGlyphs" stroke="#111" stroke-width="0.2" >Cell proportion</text>
<circle cx="40.6" cy="357.6" r="3.6" fill="#000"/>
<text x="49.8" y="360.1" font-size="7" fill="#111" text-anchor="start" font-weight="normal" stroke="#111" stroke-width="0.2" >10%</text>
<circle cx="40.6" cy="370.2" r="5.1" fill="#000"/>
<text x="49.8" y="372.7" font-size="7" fill="#111" text-anchor="start" font-weight="normal" stroke="#111" stroke-width="0.2" >20%</text>
<circle cx="40.6" cy="382.9" r="6.1" fill="#000"/>
<text x="49.8" y="385.4" font-size="7" fill="#111" text-anchor="start" font-weight="normal" stroke="#111" stroke-width="0.2" >30%</text>
<g stroke="#000" stroke-width="1.1" fill="none">
<path d="M298.3 220.8V340.2H513"/>
<path d="M295 251.8H298.3"/>
<path d="M295 293.2H298.3"/>
<path d="M295 334.6H298.3"/>
<path d="M328.8 340.2V343.6"/>
<path d="M379.8 340.2V343.6"/>
<path d="M430.8 340.2V343.6"/>
<path d="M481.7 340.2V343.6"/>
</g>
<text x="291.8" y="254.60000000000002" font-size="8" fill="#333" text-anchor="end" font-weight="normal" stroke="#333" stroke-width="0.15" >2</text>
<text x="291.8" y="296.0" font-size="8" fill="#333" text-anchor="end" font-weight="normal" stroke="#333" stroke-width="0.15" >1</text>
<text x="291.8" y="337.40000000000003" font-size="8" fill="#333" text-anchor="end" font-weight="normal" stroke="#333" stroke-width="0.15" >0</text>
<text x="0" y="0" font-size="8.6" fill="#111" stroke="#111" stroke-width="0.12" text-anchor="middle" textLength="73" lengthAdjust="spacingAndGlyphs" transform="translate(281.6 280) rotate(-90)">log10(TCR clone_size)</text>
<text x="328.8" y="352.9" font-size="7.3" fill="#111" text-anchor="middle" font-weight="normal" stroke="#111" stroke-width="0.12" >n=2175</text>
<text x="379.8" y="352.9" font-size="7.3" fill="#111" text-anchor="middle" font-weight="normal" stroke="#111" stroke-width="0.12" >n=332</text>
<text x="430.8" y="352.9" font-size="7.3" fill="#111" text-anchor="middle" font-weight="normal" stroke="#111" stroke-width="0.12" >n=5493</text>
<text x="481.7" y="352.9" font-size="7.3" fill="#111" text-anchor="middle" font-weight="normal" stroke="#111" stroke-width="0.12" >n=4833</text>
<path d="M328.8 283.8V334.5" stroke="#D27C92" stroke-width="1.2"/>
<path stroke="#B8103A" stroke-width="0.9" stroke-linecap="square" fill="none" d="M315.3 322.0h0M316.3 322.0h0M322.5 322.0h0M323.5 322.0h0M325.5 322.0h0M326.5 322.0h0M327.5 322.0h0M330.5 322.0h0M331.5 322.0h0M332.5 322.0h0M333.5 322.0h0M334.5 322.0h0M335.5 322.0h0M340.0 322.0h0M336.5 283.8h0M317.7 302.7h0M322.1 302.7h0M317.7 305.8h0M322.0 305.8h0M329.8 310.0h0M316.4 314.9h0"/>
<path d="M308.90000000000003 334.0 Q318.85 333.9 324.8 333.4 L328.8 332.6 L332.8 333.4 Q338.75 333.9 348.7 334.0 L348.7 335.2 Q338.75 335.6 328.8 335.8 Q318.85 335.6 308.90000000000003 335.2 Z" fill="#B8103A"/>
<path d="M379.8 299.8V334.5" stroke="#D27C92" stroke-width="1.2"/>
<path stroke="#B8103A" stroke-width="0.9" stroke-linecap="square" fill="none" d="M367.3 322.0h0M371.0 322.0h0M374.5 322.0h0M378.0 322.0h0M379.0 322.0h0M380.0 322.0h0M381.0 322.0h0M383.5 322.0h0M387.0 322.0h0M390.5 322.0h0M393.3 322.0h0M384.6 299.8h0M387.5 306.0h0"/>
<path d="M366.3 334.0 Q373.05 333.9 375.8 333.4 L379.8 332.6 L383.8 333.4 Q386.55 333.9 393.3 334.0 L393.3 335.2 Q386.55 335.6 379.8 335.8 Q373.05 335.6 366.3 335.2 Z" fill="#B8103A"/>
<path d="M430.7 233.6V334.5" stroke="#5A72AC" stroke-width="1.0"/>
<path d="M417.2 334.5H444.2M417.2 322.5H444.2" stroke="#2F4C8F" stroke-width="1.0"/>
<path d="M424.7 334.5L430.7 331.4L436.7 334.5" stroke="#2F4C8F" stroke-width="0.8" fill="none"/>
<path stroke="#2F4C8F" stroke-width="0.9" stroke-linecap="square" fill="none" d="M434.0 314.5h0M441.0 314.5h0M437.9 314.5h0M423.6 314.5h0M425.5 314.5h0M440.4 314.5h0M417.8 314.5h0M439.1 314.5h0M438.4 314.5h0M429.9 314.5h0M425.6 314.5h0M424.9 314.5h0M424.3 314.5h0M429.3 314.5h0M430.8 314.5h0M432.1 314.5h0M443.6 314.5h0M438.3 314.5h0M433.9 314.5h0M443.4 314.5h0M423.3 314.5h0M421.9 314.5h0M433.6 314.5h0M418.8 314.5h0M418.6 314.5h0M431.1 314.5h0M429.8 314.5h0M441.5 314.5h0M434.1 314.5h0M431.1 314.5h0M430.6 314.5h0M424.1 314.5h0M418.0 314.5h0M422.7 314.5h0M435.7 309.5h0M422.9 309.5h0M427.3 309.5h0M417.8 309.5h0M439.3 309.5h0M421.7 309.5h0M424.7 309.5h0M440.6 309.5h0M431.0 309.5h0M439.7 309.5h0M434.3 309.5h0M437.0 309.5h0M420.1 309.5h0M431.8 309.5h0M430.9 309.5h0M440.4 309.5h0M427.1 309.5h0M433.3 309.5h0M419.2 309.5h0M427.8 309.5h0M426.1 309.5h0M421.6 309.5h0M438.9 309.5h0M427.6 309.5h0M443.1 309.5h0M433.0 309.5h0M433.3 305.5h0M434.1 305.5h0M435.1 305.5h0M422.0 305.5h0M429.2 305.5h0M424.2 305.5h0M428.3 305.5h0M420.6 305.5h0M442.4 305.5h0M423.6 305.5h0M435.0 305.5h0M425.7 305.5h0M440.1 305.5h0M434.8 305.5h0M421.5 305.5h0M439.3 305.5h0M441.8 305.5h0M440.8 305.5h0M432.4 305.5h0M421.8 305.5h0M423.0 302.5h0M441.4 302.5h0M432.0 302.5h0M422.7 302.5h0M440.3 302.5h0M434.2 302.5h0M432.4 302.5h0M427.6 302.5h0M428.5 302.5h0M424.2 302.5h0M419.2 302.5h0M440.1 302.5h0M429.9 302.5h0M431.8 299.5h0M426.4 299.5h0M436.7 299.5h0M419.3 299.5h0M427.6 299.5h0M419.4 299.5h0M421.6 299.5h0M441.9 299.5h0M434.5 297.5h0M429.0 297.5h0M431.3 297.5h0M439.6 297.5h0M427.0 297.5h0M432.9 297.5h0M434.7 294.5h0M427.5 294.5h0M431.1 294.5h0M436.5 294.5h0M439.7 293.5h0M423.0 293.5h0M440.2 293.5h0M420.8 291.5h0M435.8 291.5h0M436.9 289.5h0M423.4 289.5h0M427.2 233.6h0M438.0 284.6h0M433.7 299.9h0M431.0 257.2h0M424.4 262.9h0M427.6 295.3h0M427.2 296.0h0M432.4 243.1h0M425.4 289.0h0M429.4 242.7h0M431.1 239.9h0M439.8 278.1h0M432.6 261.5h0M439.4 284.1h0M440.4 285.0h0M429.1 299.1h0M441.1 278.3h0M437.7 293.2h0M435.7 266.8h0M441.5 270.4h0M428.4 289.3h0M420.4 295.2h0M440.3 294.8h0M421.8 253.1h0M430.2 272.3h0M434.4 273.0h0M441.3 290.6h0"/>
<path d="M481.7 226.1V334.5" stroke="#5A72AC" stroke-width="1.0"/>
<path d="M468.2 334.5H495.2M468.2 322.5H495.2" stroke="#2F4C8F" stroke-width="1.0"/>
<path d="M475.7 334.5L481.7 331.4L487.7 334.5" stroke="#2F4C8F" stroke-width="0.8" fill="none"/>
<path stroke="#2F4C8F" stroke-width="0.9" stroke-linecap="square" fill="none" d="M480.8 314.5h0M485.0 314.5h0M485.2 314.5h0M473.5 314.5h0M470.3 314.5h0M479.4 314.5h0M488.6 314.5h0M489.9 314.5h0M487.7 314.5h0M471.6 314.5h0M492.4 314.5h0M489.6 314.5h0M491.5 314.5h0M482.3 314.5h0M492.5 314.5h0M469.9 314.5h0M469.5 314.5h0M469.2 314.5h0M475.3 314.5h0M475.2 314.5h0M473.6 314.5h0M483.4 314.5h0M469.7 314.5h0M484.1 314.5h0M473.0 314.5h0M486.3 314.5h0M469.2 314.5h0M476.8 314.5h0M493.1 314.5h0M482.7 314.5h0M489.8 314.5h0M485.8 314.5h0M484.6 314.5h0M473.7 314.5h0M483.6 309.5h0M469.7 309.5h0M489.5 309.5h0M493.7 309.5h0M490.9 309.5h0M470.0 309.5h0M477.5 309.5h0M477.0 309.5h0M471.6 309.5h0M485.0 309.5h0M489.4 309.5h0M476.9 309.5h0M491.1 309.5h0M489.4 309.5h0M472.1 309.5h0M488.6 309.5h0M491.6 309.5h0M473.8 309.5h0M483.6 309.5h0M485.3 309.5h0M484.5 309.5h0M471.2 309.5h0M485.9 309.5h0M485.1 309.5h0M490.1 309.5h0M489.6 309.5h0M477.4 305.5h0M487.3 305.5h0M490.9 305.5h0M491.5 305.5h0M473.2 305.5h0M469.9 305.5h0M485.5 305.5h0M474.6 305.5h0M483.3 305.5h0M492.8 305.5h0M478.7 305.5h0M475.5 305.5h0M480.6 305.5h0M485.6 305.5h0M471.7 305.5h0M478.7 305.5h0M472.5 305.5h0M485.8 305.5h0M490.0 305.5h0M478.6 305.5h0M478.5 302.5h0M482.7 302.5h0M474.6 302.5h0M475.4 302.5h0M477.4 302.5h0M480.6 302.5h0M471.2 302.5h0M488.0 302.5h0M483.7 302.5h0M476.7 302.5h0M471.1 302.5h0M488.3 302.5h0M472.5 302.5h0M472.9 299.5h0M472.8 299.5h0M471.7 299.5h0M491.5 299.5h0M476.2 299.5h0M477.1 299.5h0M489.7 299.5h0M484.6 299.5h0M474.2 297.5h0M480.1 297.5h0M490.9 297.5h0M478.7 297.5h0M486.8 297.5h0M472.0 297.5h0M486.7 294.5h0M487.8 294.5h0M488.9 294.5h0M485.5 294.5h0M478.9 293.5h0M472.1 293.5h0M482.1 293.5h0M486.8 291.5h0M475.5 291.5h0M477.0 289.5h0M482.4 289.5h0M490.6 226.1h0M490.8 261.0h0M474.4 297.8h0M485.0 256.7h0M493.1 263.3h0M489.6 243.9h0M479.3 258.6h0M474.4 269.5h0M487.6 260.1h0M480.4 263.2h0M479.9 286.9h0M489.6 299.7h0M479.1 276.7h0M486.8 276.3h0M489.3 286.7h0M479.1 245.8h0M487.7 297.4h0M473.6 238.7h0M489.2 263.9h0M473.0 245.7h0M492.9 298.6h0M474.3 298.0h0M480.5 274.4h0M474.6 260.8h0M475.2 246.3h0M471.8 259.3h0M470.9 281.3h0"/>
<circle cx="329.0" cy="376.2" r="19" fill="#BFBFBF"/>
<path d="M329.0 376.2L348.00 376.20A19 19 0 0 0 347.90 374.27Z" fill="#C6A8C0"/>
<path d="M329.0 376.2L347.68 372.71A19 19 0 0 0 347.23 370.83Z" fill="#B2C6AE"/>
<path d="M329.0 376.2L346.72 369.34A19 19 0 0 0 345.93 367.57Z" fill="#C6A8C0"/>
<path d="M329.0 376.2L345.15 366.20A19 19 0 0 0 344.06 364.61Z" fill="#B2C6AE"/>
<path d="M329.0 376.2L343.04 363.40A19 19 0 0 0 341.67 362.04Z" fill="#C6A8C0"/>
<path d="M329.0 376.2L340.45 361.04A19 19 0 0 0 338.85 359.95Z" fill="#B2C6AE"/>
<path d="M329.0 376.2L337.47 359.19A19 19 0 0 0 335.70 358.42Z" fill="#C6A8C0"/>
<path d="M329.0 376.2L334.20 357.93A19 19 0 0 0 332.32 357.49Z" fill="#B2C6AE"/>
<path d="M329.0 376.2L330.75 357.28A19 19 0 0 0 328.82 357.20Z" fill="#C6A8C0"/>
<path d="M329.0 376.2L327.25 357.28A19 19 0 0 0 325.34 357.56Z" fill="#B2C6AE"/>
<path d="M329.0 376.2L323.80 357.93A19 19 0 0 0 321.97 358.55Z" fill="#C6A8C0"/>
<path d="M329.0 376.2L320.53 359.19A19 19 0 0 0 318.85 360.14Z" fill="#B2C6AE"/>
<path d="M329.0 376.2L317.55 361.04A19 19 0 0 0 316.07 362.28Z" fill="#C6A8C0"/>
<path d="M329.0 376.2L314.96 363.40A19 19 0 0 0 313.73 364.89Z" fill="#B2C6AE"/>
<path d="M329.0 376.2L312.85 366.20A19 19 0 0 0 311.91 367.89Z" fill="#C6A8C0"/>
<path d="M329.0 376.2L311.28 369.34A19 19 0 0 0 310.68 371.17Z" fill="#B2C6AE"/>
<path d="M329.0 376.2L310.32 372.71A19 19 0 0 0 310.07 374.62Z" fill="#C6A8C0"/>
<path d="M329.0 376.2L310.00 376.20A19 19 0 0 0 310.10 378.13Z" fill="#B2C6AE"/>
<path d="M329.0 376.2L310.32 379.69A19 19 0 0 0 310.77 381.57Z" fill="#C6A8C0"/>
<path d="M329.0 376.2L311.28 383.06A19 19 0 0 0 312.07 384.83Z" fill="#B2C6AE"/>
<path d="M329.0 376.2L312.85 386.20A19 19 0 0 0 313.94 387.79Z" fill="#C6A8C0"/>
<path d="M329.0 376.2L314.96 389.00A19 19 0 0 0 316.33 390.36Z" fill="#B2C6AE"/>
<path d="M329.0 376.2L317.55 391.36A19 19 0 0 0 319.15 392.45Z" fill="#C6A8C0"/>
<path d="M329.0 376.2L320.53 393.21A19 19 0 0 0 322.30 393.98Z" fill="#B2C6AE"/>
<path d="M329.0 376.2L323.80 394.47A19 19 0 0 0 325.68 394.91Z" fill="#C6A8C0"/>
<path d="M329.0 376.2L327.25 395.12A19 19 0 0 0 329.18 395.20Z" fill="#B2C6AE"/>
<path d="M329.0 376.2L330.75 395.12A19 19 0 0 0 332.66 394.84Z" fill="#C6A8C0"/>
<path d="M329.0 376.2L334.20 394.47A19 19 0 0 0 336.03 393.85Z" fill="#B2C6AE"/>
<path d="M329.0 376.2L337.47 393.21A19 19 0 0 0 339.15 392.26Z" fill="#C6A8C0"/>
<path d="M329.0 376.2L340.45 391.36A19 19 0 0 0 341.93 390.12Z" fill="#B2C6AE"/>
<path d="M329.0 376.2L343.04 389.00A19 19 0 0 0 344.27 387.51Z" fill="#C6A8C0"/>
<path d="M329.0 376.2L345.15 386.20A19 19 0 0 0 346.09 384.51Z" fill="#B2C6AE"/>
<path d="M329.0 376.2L346.72 383.06A19 19 0 0 0 347.32 381.23Z" fill="#C6A8C0"/>
<path d="M329.0 376.2L347.68 379.69A19 19 0 0 0 347.93 377.78Z" fill="#B2C6AE"/>
<path d="M329.0 376.2L347.95 377.53A19 19 0 0 0 347.99 376.70Z" fill="#E0141E"/>
<path d="M329.0 376.2L347.99 376.70A19 19 0 0 0 348.00 376.03Z" fill="#4B2B9A"/>
<path d="M329.0 376.2L348.00 376.03A19 19 0 0 0 347.99 375.54Z" fill="#3050C0"/>
<path d="M329.0 376.2L347.99 375.54A19 19 0 0 0 347.95 374.87Z" fill="#C8B020"/>
<circle cx="380.2" cy="376.2" r="19" fill="#A0A0A0"/>
<path d="M380.2 376.2L399.20 376.20A19 19 0 0 0 399.17 375.11Z" fill="#8ecd85"/>
<path d="M380.2 376.2L399.17 375.21A19 19 0 0 0 399.09 374.12Z" fill="#ace3d4"/>
<path d="M380.2 376.2L399.10 374.21A19 19 0 0 0 398.95 373.13Z" fill="#a74586"/>
<path d="M380.2 376.2L398.97 373.23A19 19 0 0 0 398.76 372.15Z" fill="#6e9d80"/>
<path d="M380.2 376.2L398.78 372.25A19 19 0 0 0 398.53 371.19Z" fill="#9d695d"/>
<path d="M380.2 376.2L398.55 371.28A19 19 0 0 0 398.24 370.23Z" fill="#b4ba4f"/>
<path d="M380.2 376.2L398.27 370.33A19 19 0 0 0 397.90 369.30Z" fill="#a0a957"/>
<path d="M380.2 376.2L397.94 369.39A19 19 0 0 0 397.52 368.38Z" fill="#7eb3bd"/>
<path d="M380.2 376.2L397.56 368.47A19 19 0 0 0 397.08 367.49Z" fill="#6577b3"/>
<path d="M380.2 376.2L397.13 367.57A19 19 0 0 0 396.60 366.61Z" fill="#8a46a2"/>
<path d="M380.2 376.2L396.65 366.70A19 19 0 0 0 396.08 365.77Z" fill="#e2d7a5"/>
<path d="M380.2 376.2L396.13 365.85A19 19 0 0 0 395.51 364.95Z" fill="#e199b2"/>
<path d="M380.2 376.2L395.57 365.03A19 19 0 0 0 394.90 364.17Z" fill="#a8bb6b"/>
<path d="M380.2 376.2L394.97 364.24A19 19 0 0 0 394.25 363.41Z" fill="#ad869a"/>
<path d="M380.2 376.2L394.32 363.49A19 19 0 0 0 393.56 362.69Z" fill="#7f8fa6"/>
<path d="M380.2 376.2L393.64 362.76A19 19 0 0 0 392.84 362.01Z" fill="#54d0b6"/>
<path d="M380.2 376.2L392.91 362.08A19 19 0 0 0 392.08 361.37Z" fill="#c95dcc"/>
<path d="M380.2 376.2L392.16 361.43A19 19 0 0 0 391.29 360.77Z" fill="#ce65c4"/>
<path d="M380.2 376.2L391.37 360.83A19 19 0 0 0 390.46 360.21Z" fill="#9fd094"/>
<path d="M380.2 376.2L390.55 360.27A19 19 0 0 0 389.61 359.70Z" fill="#c3c34d"/>
<path d="M380.2 376.2L389.70 359.75A19 19 0 0 0 388.74 359.23Z" fill="#43a041"/>
<path d="M380.2 376.2L388.83 359.27A19 19 0 0 0 387.84 358.80Z" fill="#a7dce1"/>
<path d="M380.2 376.2L387.93 358.84A19 19 0 0 0 386.92 358.43Z" fill="#4e80aa"/>
<path d="M380.2 376.2L387.01 358.46A19 19 0 0 0 385.98 358.10Z" fill="#b460c7"/>
<path d="M380.2 376.2L386.07 358.13A19 19 0 0 0 385.02 357.82Z" fill="#b56e83"/>
<path d="M380.2 376.2L385.12 357.85A19 19 0 0 0 384.05 357.59Z" fill="#5c4dae"/>
<path d="M380.2 376.2L384.15 357.62A19 19 0 0 0 383.07 357.42Z" fill="#8786c0"/>
<path d="M380.2 376.2L383.17 357.43A19 19 0 0 0 382.09 357.29Z" fill="#ba9cce"/>
<path d="M380.2 376.2L382.19 357.30A19 19 0 0 0 381.10 357.22Z" fill="#b95147"/>
<path d="M380.2 376.2L381.19 357.23A19 19 0 0 0 380.10 357.20Z" fill="#5bbd88"/>
<path d="M380.2 376.2L380.20 357.20A19 19 0 0 0 379.11 357.23Z" fill="#a390c1"/>
<path d="M380.2 376.2L379.21 357.23A19 19 0 0 0 378.12 357.31Z" fill="#3f7897"/>
<path d="M380.2 376.2L378.21 357.30A19 19 0 0 0 377.13 357.45Z" fill="#63c0a5"/>
<path d="M380.2 376.2L377.23 357.43A19 19 0 0 0 376.15 357.64Z" fill="#a57c5a"/>
<path d="M380.2 376.2L376.25 357.62A19 19 0 0 0 375.19 357.87Z" fill="#93a346"/>
<path d="M380.2 376.2L375.28 357.85A19 19 0 0 0 374.23 358.16Z" fill="#5eccae"/>
<path d="M380.2 376.2L374.33 358.13A19 19 0 0 0 373.30 358.50Z" fill="#5298b9"/>
<path d="M380.2 376.2L373.39 358.46A19 19 0 0 0 372.38 358.88Z" fill="#5777ca"/>
<path d="M380.2 376.2L372.47 358.84A19 19 0 0 0 371.49 359.32Z" fill="#7681c0"/>
<path d="M380.2 376.2L371.57 359.27A19 19 0 0 0 370.61 359.80Z" fill="#55b278"/>
<path d="M380.2 376.2L370.70 359.75A19 19 0 0 0 369.77 360.32Z" fill="#58bca8"/>
<path d="M380.2 376.2L369.85 360.27A19 19 0 0 0 368.95 360.89Z" fill="#4fb251"/>
<path d="M380.2 376.2L369.03 360.83A19 19 0 0 0 368.17 361.50Z" fill="#b754b0"/>
<path d="M380.2 376.2L368.24 361.43A19 19 0 0 0 367.41 362.15Z" fill="#968ab3"/>
<path d="M380.2 376.2L367.49 362.08A19 19 0 0 0 366.69 362.84Z" fill="#c068b2"/>
<path d="M380.2 376.2L366.76 362.76A19 19 0 0 0 366.01 363.56Z" fill="#6062c2"/>
<path d="M380.2 376.2L366.08 363.49A19 19 0 0 0 365.37 364.32Z" fill="#7aab94"/>
<path d="M380.2 376.2L365.43 364.24A19 19 0 0 0 364.77 365.11Z" fill="#9de487"/>
<path d="M380.2 376.2L364.83 365.03A19 19 0 0 0 364.21 365.94Z" fill="#6bb173"/>
<path d="M380.2 376.2L364.27 365.85A19 19 0 0 0 363.70 366.79Z" fill="#5197db"/>
<path d="M380.2 376.2L363.75 366.70A19 19 0 0 0 363.23 367.66Z" fill="#91daa5"/>
<path d="M380.2 376.2L363.27 367.57A19 19 0 0 0 362.80 368.56Z" fill="#4f9997"/>
<path d="M380.2 376.2L362.84 368.47A19 19 0 0 0 362.43 369.48Z" fill="#bb7aae"/>
<path d="M380.2 376.2L362.46 369.39A19 19 0 0 0 362.10 370.42Z" fill="#c6d680"/>
<path d="M380.2 376.2L362.13 370.33A19 19 0 0 0 361.82 371.38Z" fill="#ce79d1"/>
<path d="M380.2 376.2L361.85 371.28A19 19 0 0 0 361.59 372.35Z" fill="#78bfad"/>
<path d="M380.2 376.2L361.62 372.25A19 19 0 0 0 361.42 373.33Z" fill="#bdcc84"/>
<path d="M380.2 376.2L361.43 373.23A19 19 0 0 0 361.29 374.31Z" fill="#bb9dce"/>
<path d="M380.2 376.2L361.30 374.21A19 19 0 0 0 361.22 375.30Z" fill="#935e98"/>
<path d="M380.2 376.2L361.23 375.21A19 19 0 0 0 361.20 376.30Z" fill="#8d87c7"/>
<path d="M380.2 376.2L361.20 376.20A19 19 0 0 0 361.23 377.29Z" fill="#59a86d"/>
<path d="M380.2 376.2L361.23 377.19A19 19 0 0 0 361.31 378.28Z" fill="#6fc6ba"/>
<path d="M380.2 376.2L361.30 378.19A19 19 0 0 0 361.45 379.27Z" fill="#94ab42"/>
<path d="M380.2 376.2L361.43 379.17A19 19 0 0 0 361.64 380.25Z" fill="#71996a"/>
<path d="M380.2 376.2L361.62 380.15A19 19 0 0 0 361.87 381.21Z" fill="#5ccc99"/>
<path d="M380.2 376.2L361.85 381.12A19 19 0 0 0 362.16 382.17Z" fill="#a5ad7f"/>
<path d="M380.2 376.2L362.13 382.07A19 19 0 0 0 362.50 383.10Z" fill="#b87edd"/>
<path d="M380.2 376.2L362.46 383.01A19 19 0 0 0 362.88 384.02Z" fill="#6c72d1"/>
<path d="M380.2 376.2L362.84 383.93A19 19 0 0 0 363.32 384.91Z" fill="#8b6da8"/>
<path d="M380.2 376.2L363.27 384.83A19 19 0 0 0 363.80 385.79Z" fill="#5e9f87"/>
<path d="M380.2 376.2L363.75 385.70A19 19 0 0 0 364.32 386.63Z" fill="#549e84"/>
<path d="M380.2 376.2L364.27 386.55A19 19 0 0 0 364.89 387.45Z" fill="#aaa27a"/>
<path d="M380.2 376.2L364.83 387.37A19 19 0 0 0 365.50 388.23Z" fill="#a27f87"/>
<path d="M380.2 376.2L365.43 388.16A19 19 0 0 0 366.15 388.99Z" fill="#95945a"/>
<path d="M380.2 376.2L366.08 388.91A19 19 0 0 0 366.84 389.71Z" fill="#7aa99d"/>
<path d="M380.2 376.2L366.76 389.64A19 19 0 0 0 367.56 390.39Z" fill="#b78bc5"/>
<path d="M380.2 376.2L367.49 390.32A19 19 0 0 0 368.32 391.03Z" fill="#80d5a5"/>
<path d="M380.2 376.2L368.24 390.97A19 19 0 0 0 369.11 391.63Z" fill="#dbd653"/>
<path d="M380.2 376.2L369.03 391.57A19 19 0 0 0 369.94 392.19Z" fill="#9a99c9"/>
<path d="M380.2 376.2L369.85 392.13A19 19 0 0 0 370.79 392.70Z" fill="#4e70a5"/>
<path d="M380.2 376.2L370.70 392.65A19 19 0 0 0 371.66 393.17Z" fill="#9d445c"/>
<path d="M380.2 376.2L371.57 393.13A19 19 0 0 0 372.56 393.60Z" fill="#aad6a5"/>
<path d="M380.2 376.2L372.47 393.56A19 19 0 0 0 373.48 393.97Z" fill="#c44787"/>
<path d="M380.2 376.2L373.39 393.94A19 19 0 0 0 374.42 394.30Z" fill="#6060c1"/>
<path d="M380.2 376.2L374.33 394.27A19 19 0 0 0 375.38 394.58Z" fill="#ae5d74"/>
<path d="M380.2 376.2L375.28 394.55A19 19 0 0 0 376.35 394.81Z" fill="#9fcacd"/>
<path d="M380.2 376.2L376.25 394.78A19 19 0 0 0 377.33 394.98Z" fill="#8f81d8"/>
<path d="M380.2 376.2L377.23 394.97A19 19 0 0 0 378.31 395.11Z" fill="#81659a"/>
<path d="M380.2 376.2L378.21 395.10A19 19 0 0 0 379.30 395.18Z" fill="#aca27b"/>
<path d="M380.2 376.2L379.21 395.17A19 19 0 0 0 380.30 395.20Z" fill="#45aa8a"/>
<path d="M380.2 376.2L380.20 395.20A19 19 0 0 0 381.29 395.17Z" fill="#d869ac"/>
<path d="M380.2 376.2L381.19 395.17A19 19 0 0 0 382.28 395.09Z" fill="#a5d3b8"/>
<path d="M380.2 376.2L382.19 395.10A19 19 0 0 0 383.27 394.95Z" fill="#b8d499"/>
<path d="M380.2 376.2L383.17 394.97A19 19 0 0 0 384.25 394.76Z" fill="#7d77a9"/>
<path d="M380.2 376.2L384.15 394.78A19 19 0 0 0 385.21 394.53Z" fill="#cc88a1"/>
<path d="M380.2 376.2L385.12 394.55A19 19 0 0 0 386.17 394.24Z" fill="#9d8a48"/>
<path d="M380.2 376.2L386.07 394.27A19 19 0 0 0 387.10 393.90Z" fill="#94bbc0"/>
<path d="M380.2 376.2L387.01 393.94A19 19 0 0 0 388.02 393.52Z" fill="#a980a6"/>
<path d="M380.2 376.2L387.93 393.56A19 19 0 0 0 388.91 393.08Z" fill="#8c5dac"/>
<path d="M380.2 376.2L388.83 393.13A19 19 0 0 0 389.79 392.60Z" fill="#7f93d9"/>
<path d="M380.2 376.2L389.70 392.65A19 19 0 0 0 390.63 392.08Z" fill="#75c65b"/>
<path d="M380.2 376.2L390.55 392.13A19 19 0 0 0 391.45 391.51Z" fill="#a280ce"/>
<path d="M380.2 376.2L391.37 391.57A19 19 0 0 0 392.23 390.90Z" fill="#6a6096"/>
<path d="M380.2 376.2L392.16 390.97A19 19 0 0 0 392.99 390.25Z" fill="#a45264"/>
<path d="M380.2 376.2L392.91 390.32A19 19 0 0 0 393.71 389.56Z" fill="#937cb9"/>
<path d="M380.2 376.2L393.64 389.64A19 19 0 0 0 394.39 388.84Z" fill="#aa67a0"/>
<path d="M380.2 376.2L394.32 388.91A19 19 0 0 0 395.03 388.08Z" fill="#84a57e"/>
<path d="M380.2 376.2L394.97 388.16A19 19 0 0 0 395.63 387.29Z" fill="#7e986f"/>
<path d="M380.2 376.2L395.57 387.37A19 19 0 0 0 396.19 386.46Z" fill="#8fcfc2"/>
<path d="M380.2 376.2L396.13 386.55A19 19 0 0 0 396.70 385.61Z" fill="#c1819f"/>
<path d="M380.2 376.2L396.65 385.70A19 19 0 0 0 397.17 384.74Z" fill="#789c9d"/>
<path d="M380.2 376.2L397.13 384.83A19 19 0 0 0 397.60 383.84Z" fill="#d47ab8"/>
<path d="M380.2 376.2L397.56 383.93A19 19 0 0 0 397.97 382.92Z" fill="#d99b72"/>
<path d="M380.2 376.2L397.94 383.01A19 19 0 0 0 398.30 381.98Z" fill="#bd95b5"/>
<path d="M380.2 376.2L398.27 382.07A19 19 0 0 0 398.58 381.02Z" fill="#4a995b"/>
<path d="M380.2 376.2L398.55 381.12A19 19 0 0 0 398.81 380.05Z" fill="#7cb952"/>
<path d="M380.2 376.2L398.78 380.15A19 19 0 0 0 398.98 379.07Z" fill="#43ad8f"/>
<path d="M380.2 376.2L398.97 379.17A19 19 0 0 0 399.11 378.09Z" fill="#a07465"/>
<path d="M380.2 376.2L399.10 378.19A19 19 0 0 0 399.18 377.10Z" fill="#e0ab77"/>
<path d="M380.2 376.2L399.17 377.19A19 19 0 0 0 399.20 376.10Z" fill="#5a86ad"/>
<path d="M380.2 376.2L399.20 376.20A19 19 0 0 0 399.10 374.21Z" fill="#E01010"/>
<circle cx="431.1" cy="376.0" r="19" fill="#BFBFBF"/>
<path d="M431.1 376.0L450.10 376.00A19 19 0 0 0 450.07 374.91Z" fill="#C2BCC0"/>
<path d="M431.1 376.0L450.00 374.01A19 19 0 0 0 449.85 372.93Z" fill="#BDC2BC"/>
<path d="M431.1 376.0L449.68 372.05A19 19 0 0 0 449.43 370.99Z" fill="#C2BCC0"/>
<path d="M431.1 376.0L449.17 370.13A19 19 0 0 0 448.80 369.10Z" fill="#BDC2BC"/>
<path d="M431.1 376.0L448.46 368.27A19 19 0 0 0 447.98 367.29Z" fill="#C2BCC0"/>
<path d="M431.1 376.0L447.55 366.50A19 19 0 0 0 446.98 365.57Z" fill="#BDC2BC"/>
<path d="M431.1 376.0L446.47 364.83A19 19 0 0 0 445.80 363.97Z" fill="#C2BCC0"/>
<path d="M431.1 376.0L445.22 363.29A19 19 0 0 0 444.46 362.49Z" fill="#BDC2BC"/>
<path d="M431.1 376.0L443.81 361.88A19 19 0 0 0 442.98 361.17Z" fill="#C2BCC0"/>
<path d="M431.1 376.0L442.27 360.63A19 19 0 0 0 441.36 360.01Z" fill="#BDC2BC"/>
<path d="M431.1 376.0L440.60 359.55A19 19 0 0 0 439.64 359.03Z" fill="#C2BCC0"/>
<path d="M431.1 376.0L438.83 358.64A19 19 0 0 0 437.82 358.23Z" fill="#BDC2BC"/>
<path d="M431.1 376.0L436.97 357.93A19 19 0 0 0 435.92 357.62Z" fill="#C2BCC0"/>
<path d="M431.1 376.0L435.05 357.42A19 19 0 0 0 433.97 357.22Z" fill="#BDC2BC"/>
<path d="M431.1 376.0L433.09 357.10A19 19 0 0 0 432.00 357.02Z" fill="#C2BCC0"/>
<path d="M431.1 376.0L431.10 357.00A19 19 0 0 0 430.01 357.03Z" fill="#BDC2BC"/>
<path d="M431.1 376.0L429.11 357.10A19 19 0 0 0 428.03 357.25Z" fill="#C2BCC0"/>
<path d="M431.1 376.0L427.15 357.42A19 19 0 0 0 426.09 357.67Z" fill="#BDC2BC"/>
<path d="M431.1 376.0L425.23 357.93A19 19 0 0 0 424.20 358.30Z" fill="#C2BCC0"/>
<path d="M431.1 376.0L423.37 358.64A19 19 0 0 0 422.39 359.12Z" fill="#BDC2BC"/>
<path d="M431.1 376.0L421.60 359.55A19 19 0 0 0 420.67 360.12Z" fill="#C2BCC0"/>
<path d="M431.1 376.0L419.93 360.63A19 19 0 0 0 419.07 361.30Z" fill="#BDC2BC"/>
<path d="M431.1 376.0L418.39 361.88A19 19 0 0 0 417.59 362.64Z" fill="#C2BCC0"/>
<path d="M431.1 376.0L416.98 363.29A19 19 0 0 0 416.27 364.12Z" fill="#BDC2BC"/>
<path d="M431.1 376.0L415.73 364.83A19 19 0 0 0 415.11 365.74Z" fill="#C2BCC0"/>
<path d="M431.1 376.0L414.65 366.50A19 19 0 0 0 414.13 367.46Z" fill="#BDC2BC"/>
<path d="M431.1 376.0L413.74 368.27A19 19 0 0 0 413.33 369.28Z" fill="#C2BCC0"/>
<path d="M431.1 376.0L413.03 370.13A19 19 0 0 0 412.72 371.18Z" fill="#BDC2BC"/>
<path d="M431.1 376.0L412.52 372.05A19 19 0 0 0 412.32 373.13Z" fill="#C2BCC0"/>
<path d="M431.1 376.0L412.20 374.01A19 19 0 0 0 412.12 375.10Z" fill="#BDC2BC"/>
<path d="M431.1 376.0L412.10 376.00A19 19 0 0 0 412.13 377.09Z" fill="#C2BCC0"/>
<path d="M431.1 376.0L412.20 377.99A19 19 0 0 0 412.35 379.07Z" fill="#BDC2BC"/>
<path d="M431.1 376.0L412.52 379.95A19 19 0 0 0 412.77 381.01Z" fill="#C2BCC0"/>
<path d="M431.1 376.0L413.03 381.87A19 19 0 0 0 413.40 382.90Z" fill="#BDC2BC"/>
<path d="M431.1 376.0L413.74 383.73A19 19 0 0 0 414.22 384.71Z" fill="#C2BCC0"/>
<path d="M431.1 376.0L414.65 385.50A19 19 0 0 0 415.22 386.43Z" fill="#BDC2BC"/>
<path d="M431.1 376.0L415.73 387.17A19 19 0 0 0 416.40 388.03Z" fill="#C2BCC0"/>
<path d="M431.1 376.0L416.98 388.71A19 19 0 0 0 417.74 389.51Z" fill="#BDC2BC"/>
<path d="M431.1 376.0L418.39 390.12A19 19 0 0 0 419.22 390.83Z" fill="#C2BCC0"/>
<path d="M431.1 376.0L419.93 391.37A19 19 0 0 0 420.84 391.99Z" fill="#BDC2BC"/>
<path d="M431.1 376.0L421.60 392.45A19 19 0 0 0 422.56 392.97Z" fill="#C2BCC0"/>
<path d="M431.1 376.0L423.37 393.36A19 19 0 0 0 424.38 393.77Z" fill="#BDC2BC"/>
<path d="M431.1 376.0L425.23 394.07A19 19 0 0 0 426.28 394.38Z" fill="#C2BCC0"/>
<path d="M431.1 376.0L427.15 394.58A19 19 0 0 0 428.23 394.78Z" fill="#BDC2BC"/>
<path d="M431.1 376.0L429.11 394.90A19 19 0 0 0 430.20 394.98Z" fill="#C2BCC0"/>
<path d="M431.1 376.0L431.10 395.00A19 19 0 0 0 432.19 394.97Z" fill="#BDC2BC"/>
<path d="M431.1 376.0L433.09 394.90A19 19 0 0 0 434.17 394.75Z" fill="#C2BCC0"/>
<path d="M431.1 376.0L435.05 394.58A19 19 0 0 0 436.11 394.33Z" fill="#BDC2BC"/>
<path d="M431.1 376.0L436.97 394.07A19 19 0 0 0 438.00 393.70Z" fill="#C2BCC0"/>
<path d="M431.1 376.0L438.83 393.36A19 19 0 0 0 439.81 392.88Z" fill="#BDC2BC"/>
<path d="M431.1 376.0L440.60 392.45A19 19 0 0 0 441.53 391.88Z" fill="#C2BCC0"/>
<path d="M431.1 376.0L442.27 391.37A19 19 0 0 0 443.13 390.70Z" fill="#BDC2BC"/>
<path d="M431.1 376.0L443.81 390.12A19 19 0 0 0 444.61 389.36Z" fill="#C2BCC0"/>
<path d="M431.1 376.0L445.22 388.71A19 19 0 0 0 445.93 387.88Z" fill="#BDC2BC"/>
<path d="M431.1 376.0L446.47 387.17A19 19 0 0 0 447.09 386.26Z" fill="#C2BCC0"/>
<path d="M431.1 376.0L447.55 385.50A19 19 0 0 0 448.07 384.54Z" fill="#BDC2BC"/>
<path d="M431.1 376.0L448.46 383.73A19 19 0 0 0 448.87 382.72Z" fill="#C2BCC0"/>
<path d="M431.1 376.0L449.17 381.87A19 19 0 0 0 449.48 380.82Z" fill="#BDC2BC"/>
<path d="M431.1 376.0L449.68 379.95A19 19 0 0 0 449.88 378.87Z" fill="#C2BCC0"/>
<path d="M431.1 376.0L450.00 377.99A19 19 0 0 0 450.08 376.90Z" fill="#BDC2BC"/>
<path d="M431.1 376.0L413.25 369.50A19 19 0 1 0 450.10 376.00Z" fill="#BEBEBE"/>
<path d="M431.1 376.0L450.10 376.00A19 19 0 0 0 449.27 370.44Z" fill="#E20C0C"/>
<path d="M431.1 376.0L449.27 370.44A19 19 0 0 0 447.88 367.08Z" fill="#3C9A2E"/>
<path d="M431.1 376.0L447.88 367.08A19 19 0 0 0 447.03 365.65Z" fill="#1030E0"/>
<path d="M431.1 376.0L447.03 365.65A19 19 0 0 0 446.47 364.83Z" fill="#E8F4FF"/>
<path d="M431.1 376.0L446.47 364.83A19 19 0 0 0 446.07 364.30Z" fill="#9020C0"/>
<path d="M431.1 376.0L446.07 364.30A19 19 0 0 0 445.44 363.53Z" fill="#101010"/>
<path d="M431.1 376.0L445.44 363.53A19 19 0 0 0 444.30 362.33Z" fill="#B8B020"/>
<path d="M431.1 376.0L444.30 362.33A19 19 0 0 0 442.80 361.03Z" fill="#D09030"/>
<path d="M431.1 376.0L442.80 361.03A19 19 0 0 0 440.60 359.55Z" fill="#70A8E0"/>
<path d="M431.1 376.0L440.60 359.55A19 19 0 0 0 439.13 358.78Z" fill="#9868B0"/>
<path d="M431.1 376.0L439.13 358.78A19 19 0 0 0 436.97 357.93Z" fill="#B0C8E8"/>
<path d="M431.1 376.0L436.97 357.93A19 19 0 0 0 434.40 357.29Z" fill="#C0B0C8"/>
<path d="M431.1 376.0L434.40 357.29A19 19 0 0 0 431.10 357.00Z" fill="#B8D0B8"/>
<circle cx="482.1" cy="376.0" r="19" fill="#BFBFBF"/>
<path d="M482.1 376.0L501.10 376.00A19 19 0 0 0 501.07 374.91Z" fill="#C2BCC0"/>
<path d="M482.1 376.0L501.00 374.01A19 19 0 0 0 500.85 372.93Z" fill="#BDC2BC"/>
<path d="M482.1 376.0L500.68 372.05A19 19 0 0 0 500.43 370.99Z" fill="#C2BCC0"/>
<path d="M482.1 376.0L500.17 370.13A19 19 0 0 0 499.80 369.10Z" fill="#BDC2BC"/>
<path d="M482.1 376.0L499.46 368.27A19 19 0 0 0 498.98 367.29Z" fill="#C2BCC0"/>
<path d="M482.1 376.0L498.55 366.50A19 19 0 0 0 497.98 365.57Z" fill="#BDC2BC"/>
<path d="M482.1 376.0L497.47 364.83A19 19 0 0 0 496.80 363.97Z" fill="#C2BCC0"/>
<path d="M482.1 376.0L496.22 363.29A19 19 0 0 0 495.46 362.49Z" fill="#BDC2BC"/>
<path d="M482.1 376.0L494.81 361.88A19 19 0 0 0 493.98 361.17Z" fill="#C2BCC0"/>
<path d="M482.1 376.0L493.27 360.63A19 19 0 0 0 492.36 360.01Z" fill="#BDC2BC"/>
<path d="M482.1 376.0L491.60 359.55A19 19 0 0 0 490.64 359.03Z" fill="#C2BCC0"/>
<path d="M482.1 376.0L489.83 358.64A19 19 0 0 0 488.82 358.23Z" fill="#BDC2BC"/>
<path d="M482.1 376.0L487.97 357.93A19 19 0 0 0 486.92 357.62Z" fill="#C2BCC0"/>
<path d="M482.1 376.0L486.05 357.42A19 19 0 0 0 484.97 357.22Z" fill="#BDC2BC"/>
<path d="M482.1 376.0L484.09 357.10A19 19 0 0 0 483.00 357.02Z" fill="#C2BCC0"/>
<path d="M482.1 376.0L482.10 357.00A19 19 0 0 0 481.01 357.03Z" fill="#BDC2BC"/>
<path d="M482.1 376.0L480.11 357.10A19 19 0 0 0 479.03 357.25Z" fill="#C2BCC0"/>
<path d="M482.1 376.0L478.15 357.42A19 19 0 0 0 477.09 357.67Z" fill="#BDC2BC"/>
<path d="M482.1 376.0L476.23 357.93A19 19 0 0 0 475.20 358.30Z" fill="#C2BCC0"/>
<path d="M482.1 376.0L474.37 358.64A19 19 0 0 0 473.39 359.12Z" fill="#BDC2BC"/>
<path d="M482.1 376.0L472.60 359.55A19 19 0 0 0 471.67 360.12Z" fill="#C2BCC0"/>
<path d="M482.1 376.0L470.93 360.63A19 19 0 0 0 470.07 361.30Z" fill="#BDC2BC"/>
<path d="M482.1 376.0L469.39 361.88A19 19 0 0 0 468.59 362.64Z" fill="#C2BCC0"/>
<path d="M482.1 376.0L467.98 363.29A19 19 0 0 0 467.27 364.12Z" fill="#BDC2BC"/>
<path d="M482.1 376.0L466.73 364.83A19 19 0 0 0 466.11 365.74Z" fill="#C2BCC0"/>
<path d="M482.1 376.0L465.65 366.50A19 19 0 0 0 465.13 367.46Z" fill="#BDC2BC"/>
<path d="M482.1 376.0L464.74 368.27A19 19 0 0 0 464.33 369.28Z" fill="#C2BCC0"/>
<path d="M482.1 376.0L464.03 370.13A19 19 0 0 0 463.72 371.18Z" fill="#BDC2BC"/>
<path d="M482.1 376.0L463.52 372.05A19 19 0 0 0 463.32 373.13Z" fill="#C2BCC0"/>
<path d="M482.1 376.0L463.20 374.01A19 19 0 0 0 463.12 375.10Z" fill="#BDC2BC"/>
<path d="M482.1 376.0L463.10 376.00A19 19 0 0 0 463.13 377.09Z" fill="#C2BCC0"/>
<path d="M482.1 376.0L463.20 377.99A19 19 0 0 0 463.35 379.07Z" fill="#BDC2BC"/>
<path d="M482.1 376.0L463.52 379.95A19 19 0 0 0 463.77 381.01Z" fill="#C2BCC0"/>
<path d="M482.1 376.0L464.03 381.87A19 19 0 0 0 464.40 382.90Z" fill="#BDC2BC"/>
<path d="M482.1 376.0L464.74 383.73A19 19 0 0 0 465.22 384.71Z" fill="#C2BCC0"/>
<path d="M482.1 376.0L465.65 385.50A19 19 0 0 0 466.22 386.43Z" fill="#BDC2BC"/>
<path d="M482.1 376.0L466.73 387.17A19 19 0 0 0 467.40 388.03Z" fill="#C2BCC0"/>
<path d="M482.1 376.0L467.98 388.71A19 19 0 0 0 468.74 389.51Z" fill="#BDC2BC"/>
<path d="M482.1 376.0L469.39 390.12A19 19 0 0 0 470.22 390.83Z" fill="#C2BCC0"/>
<path d="M482.1 376.0L470.93 391.37A19 19 0 0 0 471.84 391.99Z" fill="#BDC2BC"/>
<path d="M482.1 376.0L472.60 392.45A19 19 0 0 0 473.56 392.97Z" fill="#C2BCC0"/>
<path d="M482.1 376.0L474.37 393.36A19 19 0 0 0 475.38 393.77Z" fill="#BDC2BC"/>
<path d="M482.1 376.0L476.23 394.07A19 19 0 0 0 477.28 394.38Z" fill="#C2BCC0"/>
<path d="M482.1 376.0L478.15 394.58A19 19 0 0 0 479.23 394.78Z" fill="#BDC2BC"/>
<path d="M482.1 376.0L480.11 394.90A19 19 0 0 0 481.20 394.98Z" fill="#C2BCC0"/>
<path d="M482.1 376.0L482.10 395.00A19 19 0 0 0 483.19 394.97Z" fill="#BDC2BC"/>
<path d="M482.1 376.0L484.09 394.90A19 19 0 0 0 485.17 394.75Z" fill="#C2BCC0"/>
<path d="M482.1 376.0L486.05 394.58A19 19 0 0 0 487.11 394.33Z" fill="#BDC2BC"/>
<path d="M482.1 376.0L487.97 394.07A19 19 0 0 0 489.00 393.70Z" fill="#C2BCC0"/>
<path d="M482.1 376.0L489.83 393.36A19 19 0 0 0 490.81 392.88Z" fill="#BDC2BC"/>
<path d="M482.1 376.0L491.60 392.45A19 19 0 0 0 492.53 391.88Z" fill="#C2BCC0"/>
<path d="M482.1 376.0L493.27 391.37A19 19 0 0 0 494.13 390.70Z" fill="#BDC2BC"/>
<path d="M482.1 376.0L494.81 390.12A19 19 0 0 0 495.61 389.36Z" fill="#C2BCC0"/>
<path d="M482.1 376.0L496.22 388.71A19 19 0 0 0 496.93 387.88Z" fill="#BDC2BC"/>
<path d="M482.1 376.0L497.47 387.17A19 19 0 0 0 498.09 386.26Z" fill="#C2BCC0"/>
<path d="M482.1 376.0L498.55 385.50A19 19 0 0 0 499.07 384.54Z" fill="#BDC2BC"/>
<path d="M482.1 376.0L499.46 383.73A19 19 0 0 0 499.87 382.72Z" fill="#C2BCC0"/>
<path d="M482.1 376.0L500.17 381.87A19 19 0 0 0 500.48 380.82Z" fill="#BDC2BC"/>
<path d="M482.1 376.0L500.68 379.95A19 19 0 0 0 500.88 378.87Z" fill="#C2BCC0"/>
<path d="M482.1 376.0L501.00 377.99A19 19 0 0 0 501.08 376.90Z" fill="#BDC2BC"/>
<path d="M482.1 376.0L464.25 369.50A19 19 0 1 0 501.10 376.00Z" fill="#BEBEBE"/>
<path d="M482.1 376.0L501.10 376.00A19 19 0 0 0 499.32 367.97Z" fill="#E20C0C"/>
<path d="M482.1 376.0L499.32 367.97A19 19 0 0 0 498.55 366.50Z" fill="#3C9A2E"/>
<path d="M482.1 376.0L498.55 366.50A19 19 0 0 0 497.47 364.83Z" fill="#1030E0"/>
<path d="M482.1 376.0L497.47 364.83A19 19 0 0 0 497.07 364.30Z" fill="#E8F4FF"/>
<path d="M482.1 376.0L497.07 364.30A19 19 0 0 0 496.65 363.79Z" fill="#A020D0"/>
<path d="M482.1 376.0L496.65 363.79A19 19 0 0 0 495.77 362.80Z" fill="#101010"/>
<path d="M482.1 376.0L495.77 362.80A19 19 0 0 0 495.06 362.10Z" fill="#40B030"/>
<path d="M482.1 376.0L495.06 362.10A19 19 0 0 0 493.80 361.03Z" fill="#D8C020"/>
<path d="M482.1 376.0L493.80 361.03A19 19 0 0 0 492.45 360.07Z" fill="#806030"/>
<path d="M482.1 376.0L492.45 360.07A19 19 0 0 0 491.02 359.22Z" fill="#A890D0"/>
<path d="M482.1 376.0L491.02 359.22A19 19 0 0 0 488.60 358.15Z" fill="#B0C8E8"/>
<path d="M482.1 376.0L488.60 358.15A19 19 0 0 0 485.40 357.29Z" fill="#C8A8C0"/>
<path d="M482.1 376.0L485.40 357.29A19 19 0 0 0 480.44 357.07Z" fill="#B8D0B8"/>
<text x="326.2" y="403.6" font-size="6.4" fill="#111" text-anchor="middle" font-weight="normal" textLength="44.4" lengthAdjust="spacingAndGlyphs" stroke="#111" stroke-width="0.1" >SJALL061885_R1</text>
<text x="380.0" y="403.6" font-size="6.4" fill="#111" text-anchor="middle" font-weight="normal" textLength="44" lengthAdjust="spacingAndGlyphs" stroke="#111" stroke-width="0.1" >SJALL061884_R1</text>
<text x="431.3" y="403.6" font-size="6.4" fill="#111" text-anchor="middle" font-weight="normal" textLength="43.8" lengthAdjust="spacingAndGlyphs" stroke="#111" stroke-width="0.1" >SJALL061890_R1</text>
<text x="482.0" y="403.6" font-size="6.4" fill="#111" text-anchor="middle" font-weight="normal" textLength="44" lengthAdjust="spacingAndGlyphs" stroke="#111" stroke-width="0.1" >SJALL061888_R1</text>
<path d="M304.1 407.5H402.5M407.2 407.5H505.7" stroke="#000" stroke-width="1.1"/>
<text x="353.3" y="416.4" font-size="7.6" fill="#B5173A" text-anchor="middle" font-weight="normal" textLength="33.7" lengthAdjust="spacingAndGlyphs" >Responder</text>
<text x="456.4" y="416.4" font-size="7.6" fill="#3A5A9A" text-anchor="middle" font-weight="normal" textLength="47.5" lengthAdjust="spacingAndGlyphs" >Non-responder</text>
<path d="M0.6 0V425M0 0.6H520" stroke="#000" stroke-width="1.2" fill="none"/><path d="M519.3 0V425" stroke="#000" stroke-width="1.4"/><path d="M0 424.2H520" stroke="#000" stroke-width="1.6"/>
</svg></body></html>
